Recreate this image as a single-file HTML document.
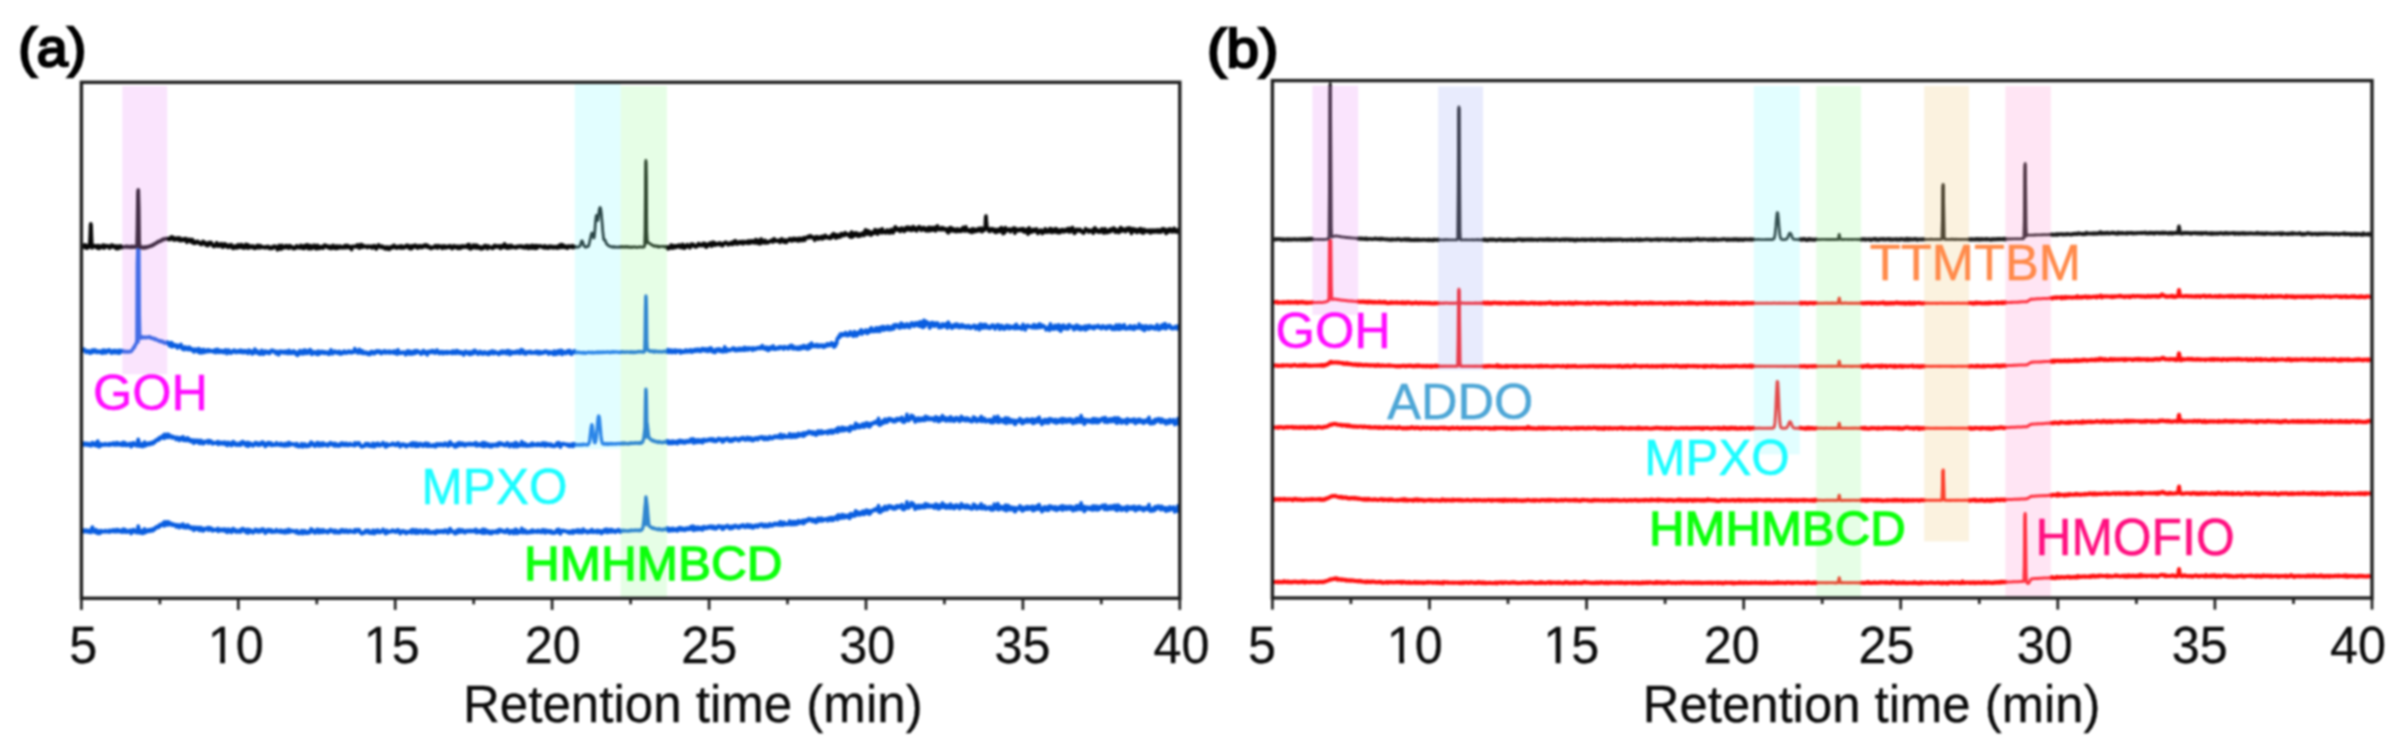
<!DOCTYPE html>
<html lang="en"><head><meta charset="utf-8"><title>Chromatograms</title>
<style>html,body{margin:0;padding:0;background:#fff}body{width:2396px;height:753px;overflow:hidden}svg{display:block;filter:blur(0.8px)}</style>
</head><body>
<svg width="2396" height="753" viewBox="0 0 2396 753">
<rect width="2396" height="753" fill="#fff"/>
<g fill="none" stroke-linejoin="round" stroke-linecap="round">
<path d="M83.4 531.6L83.8 530.0L84.3 531.8L84.8 531.3L85.2 530.5L85.7 530.1L86.1 530.1L86.6 531.6L87.0 531.0L87.5 531.8L87.9 530.6L88.4 531.8L88.8 530.4L89.3 532.1L89.7 531.0L90.2 531.0L90.6 532.4L90.8 532.4L91.1 532.5L91.5 530.1L92.0 527.7L92.0 527.7L92.4 527.1L92.9 530.7L93.3 530.1L93.8 530.7L94.2 530.9L94.7 532.2L95.1 531.7L95.6 531.0L96.0 529.7L96.5 532.2L96.9 532.8L97.4 533.3L97.8 530.8L97.8 531.9L98.3 532.2L98.7 532.8L99.2 533.5L99.6 533.5L100.1 531.4L100.5 530.7L101.0 531.1L101.4 532.3L101.9 531.1L102.3 530.9L102.8 531.3L103.2 531.2L103.7 531.7L104.1 531.5L104.6 531.5L105.0 531.8L105.5 530.5L105.9 530.9L106.4 531.6L106.8 531.8L107.3 531.8L107.7 531.5L108.2 531.8L108.6 531.5L109.1 530.4L109.5 532.1L110.0 532.0L110.4 531.3L110.9 530.9L111.3 530.4L111.8 530.9L112.2 530.4L112.7 531.4L113.1 530.7L113.6 529.8L114.0 530.6L114.5 531.7L114.9 531.7L115.4 531.7L115.8 531.0L116.3 530.9L116.7 529.5L117.2 531.7L117.6 531.6L118.1 529.8L118.5 531.1L119.0 530.2L119.4 530.4L119.9 531.7L120.3 530.9L120.8 530.7L121.2 530.2L121.7 530.2L122.1 532.3L122.6 530.7L123.0 529.3L123.5 529.1L123.9 532.0L124.4 529.9L124.8 532.0L125.3 531.6L125.7 529.8L126.2 532.2L126.6 531.1L127.1 532.1L127.5 531.4L128.0 531.1L128.4 531.6L128.9 530.9L129.3 530.5L129.8 530.2L130.2 530.9L130.7 531.6L131.1 533.6L131.6 532.7L132.0 531.9L132.5 530.1L132.9 529.8L133.4 531.9L133.8 529.5L134.3 530.5L134.7 530.9L135.2 531.5L135.6 531.8L136.1 531.8L136.5 532.6L137.0 531.1L137.4 530.5L137.9 528.0L138.2 526.1L138.3 526.2L138.8 528.5L139.2 532.9L139.7 531.5L140.1 532.5L140.6 530.8L141.0 532.8L141.5 532.1L141.9 533.3L142.4 530.6L142.8 531.0L143.3 533.3L143.7 531.4L144.2 530.6L144.6 528.9L145.1 529.7L145.5 531.7L146.0 532.4L146.4 531.4L146.9 530.9L147.3 530.4L147.8 531.0L148.2 531.1L148.7 529.8L149.1 531.0L149.6 531.4L150.0 531.2L150.5 530.5L150.9 529.6L151.4 530.5L151.8 529.6L152.3 529.1L152.7 530.8L153.2 530.6L153.6 530.0L154.1 529.5L154.5 528.4L155.0 529.3L155.4 528.5L155.9 527.5L156.3 526.8L156.8 527.0L157.2 527.3L157.7 526.6L158.1 526.9L158.6 527.4L159.0 525.2L159.5 525.1L159.9 524.7L160.4 526.1L160.8 525.6L161.3 525.3L161.7 524.2L162.2 524.3L162.6 523.4L163.1 525.0L163.5 525.3L164.0 525.9L164.4 521.8L164.9 523.6L165.3 525.3L165.8 524.4L166.2 524.9L166.7 523.6L167.1 521.8L167.6 521.9L168.0 523.1L168.5 525.0L168.9 522.1L169.4 524.3L169.8 523.1L170.3 523.9L170.7 523.5L171.2 524.4L171.6 523.6L172.1 525.3L172.5 524.9L173.0 524.2L173.4 525.1L173.9 524.3L174.3 524.5L174.8 524.7L175.2 524.9L175.7 525.0L176.1 527.0L176.6 525.1L177.0 526.0L177.5 524.8L177.9 525.7L178.4 526.0L178.8 526.0L179.3 527.7L179.7 526.9L180.2 525.1L180.6 525.4L181.1 526.2L181.5 526.6L182.0 525.3L182.4 525.3L182.9 524.0L183.3 527.4L183.8 527.6L184.2 525.5L184.7 525.6L185.1 526.2L185.6 526.2L186.0 527.6L186.5 527.8L186.9 526.1L187.4 525.0L187.8 526.7L188.3 525.4L188.7 527.2L189.2 527.6L189.6 527.3L190.1 526.8L190.5 528.7L191.0 527.8L191.4 527.3L191.9 527.3L192.3 528.1L192.8 527.3L193.2 528.5L193.7 530.3L194.1 527.4L194.6 528.2L195.0 527.4L195.5 527.6L195.9 529.3L196.4 527.8L196.8 527.9L197.3 529.2L197.7 527.4L198.2 528.4L198.6 528.5L199.1 529.0L199.5 530.5L200.0 527.6L200.4 527.6L200.9 527.5L201.3 529.9L201.8 529.2L202.2 528.8L202.7 530.9L203.1 530.8L203.6 528.5L204.0 529.8L204.5 530.1L204.9 528.7L205.4 528.3L205.8 528.7L206.3 528.6L206.7 528.8L207.2 528.4L207.6 528.8L208.1 527.5L208.5 530.2L209.0 528.7L209.4 529.4L209.9 528.9L210.3 527.8L210.8 528.6L211.2 529.5L211.7 530.2L212.1 529.6L212.6 530.8L213.0 529.1L213.5 529.9L213.9 530.1L214.4 530.2L214.8 530.1L215.3 530.1L215.7 530.0L216.2 529.3L216.6 530.1L217.1 528.9L217.5 528.9L218.0 528.5L218.4 531.4L218.9 529.8L219.3 530.0L219.8 529.7L220.2 530.2L220.7 529.3L221.1 529.3L221.6 530.7L222.0 529.6L222.5 529.9L222.9 529.4L223.4 529.7L223.8 530.7L224.3 530.0L224.7 529.0L225.2 529.3L225.6 531.4L226.1 530.3L226.5 532.0L227.0 532.2L227.4 532.3L227.9 529.5L228.3 529.2L228.8 531.0L229.2 531.0L229.7 530.8L230.1 531.5L230.6 530.8L231.0 530.0L231.5 532.5L231.9 529.5L232.4 529.8L232.8 528.7L233.3 528.6L233.7 530.8L234.2 531.2L234.6 530.5L235.1 531.4L235.5 530.3L236.0 530.0L236.4 532.1L236.9 531.9L237.3 531.3L237.8 531.7L238.2 531.6L238.7 531.8L239.1 532.0L239.6 530.1L240.0 531.3L240.5 530.4L240.9 531.9L241.4 530.7L241.8 529.0L242.3 530.5L242.7 528.5L243.2 528.9L243.6 530.7L244.1 529.9L244.5 529.5L245.0 529.7L245.4 529.9L245.9 532.4L246.3 530.3L246.8 532.1L247.2 530.0L247.7 529.3L248.1 533.0L248.6 532.7L249.0 532.5L249.5 530.2L249.9 530.9L250.4 530.0L250.8 531.7L251.3 530.5L251.7 531.8L252.2 531.1L252.6 532.0L253.1 532.8L253.5 531.3L254.0 531.7L254.4 531.1L254.9 531.3L255.3 529.4L255.8 530.9L256.2 530.6L256.7 531.4L257.1 529.9L257.6 530.7L258.0 530.0L258.5 532.1L258.9 530.6L259.4 530.9L259.8 531.8L260.3 531.8L260.7 529.8L261.2 531.4L261.6 529.2L262.1 530.9L262.5 530.4L263.0 529.0L263.4 530.6L263.9 531.3L264.3 530.0L264.8 531.0L265.2 533.2L265.7 532.7L266.1 531.1L266.6 530.5L267.0 531.2L267.5 530.3L267.9 531.7L268.4 529.5L268.8 529.9L269.3 530.8L269.7 529.8L270.2 531.1L270.6 530.0L271.1 529.9L271.5 532.2L272.0 532.1L272.4 530.7L272.9 531.6L273.3 532.0L273.8 531.7L274.2 531.6L274.7 531.8L275.1 530.9L275.6 531.8L276.0 531.2L276.5 529.6L276.9 531.1L277.4 531.6L277.8 531.2L278.3 531.4L278.7 531.7L279.2 531.0L279.6 531.7L280.1 530.4L280.5 532.2L281.0 530.3L281.4 531.1L281.9 532.1L282.3 530.7L282.8 531.6L283.2 531.0L283.7 531.9L284.1 532.7L284.6 531.8L285.0 532.2L285.5 530.3L285.9 532.6L286.4 530.7L286.8 532.5L287.3 530.4L287.7 531.8L288.2 531.2L288.6 529.4L289.1 532.3L289.5 529.7L290.0 530.6L290.4 531.7L290.9 530.4L291.3 530.7L291.8 530.6L292.2 530.5L292.7 531.5L293.1 531.1L293.6 531.0L294.0 531.0L294.5 531.1L294.9 530.8L295.4 531.6L295.8 532.6L296.3 531.3L296.7 532.2L297.2 530.5L297.6 531.5L298.1 533.3L298.5 533.0L299.0 533.3L299.4 533.5L299.9 532.4L300.3 532.2L300.8 532.4L301.2 532.7L301.7 530.5L302.1 533.1L302.6 533.7L303.0 532.1L303.5 532.0L303.9 532.4L304.4 532.2L304.8 530.7L305.3 531.3L305.7 533.2L306.2 532.6L306.6 532.4L307.1 532.8L307.5 533.2L308.0 533.0L308.4 531.6L308.9 532.3L309.3 531.0L309.8 532.7L310.2 531.0L310.7 530.0L311.1 528.9L311.6 530.5L312.0 530.8L312.5 529.7L312.9 531.8L313.4 531.1L313.8 530.9L314.3 532.1L314.7 533.0L315.2 533.0L315.6 532.4L316.1 530.6L316.5 530.1L317.0 531.1L317.4 529.3L317.9 531.5L318.3 530.2L318.8 532.8L319.2 532.7L319.7 532.0L320.1 529.8L320.6 531.8L321.0 530.8L321.5 532.1L321.9 530.6L322.4 532.5L322.8 531.8L323.3 529.8L323.7 530.8L324.2 532.0L324.6 530.8L325.1 531.4L325.5 531.6L326.0 531.8L326.4 531.8L326.9 532.3L327.3 530.9L327.8 532.7L328.2 532.1L328.7 532.0L329.1 531.3L329.6 530.4L330.0 531.2L330.5 529.5L330.9 529.9L331.4 531.2L331.8 530.3L332.3 531.6L332.7 530.5L333.2 531.0L333.6 531.3L334.1 530.3L334.5 532.7L335.0 532.4L335.4 532.1L335.9 530.5L336.3 531.0L336.8 531.3L337.2 532.7L337.7 531.7L338.1 532.5L338.6 531.5L339.0 532.6L339.5 532.4L339.9 532.7L340.4 531.3L340.8 530.2L341.3 531.9L341.7 531.6L342.2 529.9L342.6 529.9L343.1 531.7L343.5 531.1L344.0 530.7L344.4 532.2L344.9 532.1L345.3 530.9L345.8 531.9L346.2 530.1L346.7 531.5L347.1 530.6L347.6 530.7L348.0 532.4L348.5 531.3L348.9 530.9L349.4 531.0L349.8 531.7L350.3 530.3L350.7 531.5L351.2 531.7L351.6 531.9L352.1 531.8L352.5 531.5L353.0 531.5L353.4 531.3L353.9 531.2L354.3 532.4L354.8 529.7L355.2 530.0L355.7 532.1L356.1 530.5L356.6 531.3L357.0 530.8L357.5 529.7L357.9 530.2L358.4 531.1L358.8 531.4L359.3 529.8L359.7 532.0L360.2 532.4L360.6 531.9L361.1 533.2L361.5 533.6L362.0 533.8L362.4 533.0L362.9 532.6L363.3 532.9L363.8 532.1L364.2 532.1L364.7 532.9L365.1 531.9L365.6 530.5L366.0 531.3L366.5 530.6L366.9 531.2L367.4 531.8L367.8 530.5L368.3 532.7L368.7 530.6L369.2 531.7L369.6 532.8L370.1 532.3L370.5 533.0L371.0 532.6L371.4 532.9L371.9 533.2L372.3 533.3L372.8 530.2L373.2 530.4L373.7 530.9L374.1 533.0L374.6 533.5L375.0 530.8L375.5 532.1L375.9 531.5L376.4 532.2L376.8 530.3L377.3 530.6L377.7 531.0L378.2 530.2L378.6 532.5L379.1 530.9L379.5 531.6L380.0 531.7L380.4 532.4L380.9 532.1L381.3 531.4L381.8 530.8L382.2 530.4L382.7 531.1L383.1 529.3L383.6 530.7L384.0 531.1L384.5 532.4L384.9 531.5L385.4 533.6L385.8 531.0L386.3 533.5L386.7 530.4L387.2 533.0L387.6 531.7L388.1 531.6L388.5 531.7L389.0 532.1L389.4 532.0L389.9 531.4L390.3 531.2L390.8 531.8L391.2 531.8L391.7 531.2L392.1 531.5L392.6 530.1L393.0 531.0L393.5 531.2L393.9 531.6L394.4 531.7L394.8 530.8L395.3 531.1L395.7 532.2L396.2 532.2L396.6 531.7L397.1 530.7L397.5 530.0L398.0 531.5L398.4 529.9L398.9 531.0L399.3 532.3L399.8 532.9L400.2 533.6L400.7 532.0L401.1 532.2L401.6 531.6L402.0 530.9L402.5 532.2L402.9 531.7L403.4 531.0L403.8 531.6L404.3 531.1L404.7 531.8L405.2 532.9L405.6 532.2L406.1 531.9L406.5 533.5L407.0 531.6L407.4 531.6L407.9 532.3L408.3 532.1L408.8 532.3L409.2 532.3L409.7 531.9L410.1 531.9L410.6 530.5L411.0 531.9L411.5 530.1L411.9 532.9L412.4 532.4L412.8 531.0L413.3 529.6L413.7 531.2L414.2 532.1L414.6 531.6L415.1 532.2L415.5 533.2L416.0 530.8L416.4 529.9L416.9 532.1L417.3 533.0L417.8 530.8L418.2 532.1L418.7 532.9L419.1 532.2L419.6 531.3L420.0 530.4L420.5 531.0L420.9 530.5L421.4 531.2L421.8 531.4L422.3 532.8L422.7 532.6L423.2 533.0L423.6 531.5L424.1 530.7L424.5 531.1L425.0 530.6L425.4 530.4L425.9 530.0L426.3 532.8L426.8 530.9L427.2 531.7L427.7 533.0L428.1 531.7L428.6 530.5L429.0 532.1L429.5 531.9L429.9 532.8L430.4 532.3L430.8 533.0L431.3 532.1L431.7 532.5L432.2 532.2L432.6 532.8L433.1 531.7L433.5 532.0L434.0 531.7L434.4 532.8L434.9 533.4L435.3 533.1L435.8 533.4L436.2 532.6L436.7 530.7L437.1 530.9L437.6 532.2L438.0 530.8L438.5 530.9L438.9 531.3L439.4 532.2L439.8 531.3L440.3 530.8L440.7 532.1L441.2 531.0L441.6 531.7L442.1 530.8L442.5 530.8L443.0 531.1L443.4 532.5L443.9 530.9L444.3 531.8L444.8 531.9L445.2 530.0L445.7 530.4L446.1 531.5L446.6 531.0L447.0 531.1L447.5 532.3L447.9 533.0L448.4 531.9L448.8 530.6L449.3 529.3L449.7 532.0L450.2 528.5L450.6 530.5L451.1 531.7L451.5 531.4L452.0 531.7L452.4 530.8L452.9 531.2L453.3 531.8L453.8 531.7L454.2 531.7L454.7 533.6L455.1 531.9L455.6 531.8L456.0 533.6L456.5 532.8L456.9 530.4L457.4 530.6L457.8 532.7L458.3 531.2L458.7 532.2L459.2 529.4L459.6 530.2L460.1 531.8L460.5 531.0L461.0 532.0L461.4 531.8L461.9 530.6L462.3 529.9L462.8 530.2L463.2 532.0L463.7 530.9L464.1 530.8L464.6 530.9L465.0 532.8L465.5 531.7L465.9 532.0L466.4 530.9L466.8 530.5L467.3 531.2L467.7 531.3L468.2 531.6L468.6 530.9L469.1 531.1L469.5 530.3L470.0 530.7L470.4 530.5L470.9 531.7L471.3 530.6L471.8 530.6L472.2 531.0L472.7 531.4L473.1 531.4L473.6 530.3L474.0 531.1L474.5 531.8L474.9 531.8L475.4 531.9L475.8 529.3L476.3 531.6L476.7 532.6L477.2 530.9L477.6 532.1L478.1 532.0L478.5 530.7L479.0 532.2L479.4 532.3L479.9 531.8L480.3 530.9L480.8 530.9L481.2 530.4L481.7 530.9L482.1 533.1L482.6 530.8L483.0 529.3L483.5 529.6L483.9 530.0L484.4 533.2L484.8 530.6L485.3 529.6L485.7 532.0L486.2 532.7L486.6 530.9L487.1 531.2L487.5 532.5L488.0 531.3L488.4 530.8L488.9 533.2L489.3 531.3L489.8 533.3L490.2 532.3L490.7 533.4L491.1 532.4L491.6 531.6L492.0 533.4L492.5 531.2L492.9 531.5L493.4 531.5L493.8 532.2L494.3 531.5L494.7 531.5L495.2 531.2L495.6 532.4L496.1 532.0L496.5 532.6L497.0 532.3L497.4 530.7L497.9 532.1L498.3 532.5L498.8 529.9L499.2 529.6L499.7 531.5L500.1 529.7L500.6 530.4L501.0 531.2L501.5 530.5L501.9 530.1L502.4 530.5L502.8 531.8L503.3 532.0L503.7 531.6L504.2 531.9L504.6 531.1L505.1 532.1L505.5 532.5L506.0 532.5L506.4 530.5L506.9 531.5L507.3 529.5L507.8 530.6L508.2 530.7L508.7 530.8L509.1 531.2L509.6 533.5L510.0 532.2L510.5 531.9L510.9 530.9L511.4 531.0L511.8 531.9L512.3 530.7L512.7 532.8L513.2 532.8L513.6 533.5L514.1 532.6L514.5 532.4L515.0 530.8L515.4 529.3L515.9 532.8L516.3 532.0L516.8 533.5L517.2 530.1L517.7 531.0L518.1 531.1L518.6 531.1L519.0 531.6L519.5 532.7L519.9 532.5L520.4 531.4L520.8 532.0L521.3 532.0L521.7 528.4L522.2 532.1L522.6 530.4L523.1 532.8L523.5 531.3L524.0 530.1L524.4 530.1L524.9 530.8L525.3 530.4L525.8 532.6L526.2 532.0L526.7 533.0L527.1 532.4L527.6 532.3L528.0 531.6L528.5 532.2L528.9 532.7L529.4 532.3L529.8 532.7L530.3 532.4L530.7 530.9L531.2 532.2L531.6 531.0L532.1 531.7L532.5 530.0L533.0 532.5L533.4 531.4L533.9 531.6L534.3 531.7L534.8 531.2L535.2 530.9L535.7 531.4L536.1 531.8L536.6 532.3L537.0 532.3L537.5 530.7L537.9 530.8L538.4 531.7L538.8 530.4L539.3 531.9L539.7 531.7L540.2 531.3L540.6 532.2L541.1 532.4L541.5 531.8L542.0 531.6L542.4 529.9L542.9 531.6L543.3 530.8L543.8 532.2L544.2 529.9L544.7 531.1L545.1 532.9L545.6 532.8L546.0 530.2L546.5 530.9L546.9 531.1L547.4 531.2L547.8 530.7L548.3 532.0L548.7 532.3L549.2 531.6L549.6 530.8L550.1 530.8L550.5 532.3L551.0 531.5L551.4 532.9L551.9 531.3L552.3 532.1L552.8 532.2L553.2 533.1L553.7 533.1L554.1 533.3L554.6 533.0L555.0 532.5L555.5 531.6L555.9 531.6L556.4 532.3L556.8 529.8L557.3 530.0L557.7 531.1L558.2 532.3L558.6 529.3L559.1 530.6L559.5 531.6L560.0 530.4L560.4 533.9L560.9 532.3L561.3 531.1L561.8 531.8L562.2 530.8L562.7 530.3L563.1 530.4L563.6 531.1L564.0 531.0L564.5 531.2L564.9 530.8L565.4 531.1L565.8 531.2L566.3 531.0L566.7 531.5L567.2 532.3L567.6 532.2L568.1 531.8L568.5 532.1L569.0 531.3L569.4 533.2L569.9 531.9L570.3 532.1L570.8 532.7L571.2 531.9L571.7 531.1L572.1 531.0L572.6 530.6L573.0 533.3L573.5 532.5L573.9 531.7L574.4 530.6L574.8 532.0L575.3 531.0L575.7 532.0L576.2 532.2L576.6 531.3L577.1 531.0L577.5 529.9L578.0 531.2L578.4 532.2L578.9 532.5L579.3 531.3L579.8 532.0L580.2 530.2L580.7 531.4L581.1 530.6L581.6 531.1L582.0 532.7L582.5 531.7L582.9 530.8L583.4 529.2L583.8 531.9L584.3 531.8L584.7 530.6L585.2 531.5L585.6 531.1L586.1 531.3L586.5 530.8L587.0 531.2L587.4 532.7L587.9 531.9L588.3 531.6L588.8 531.5L589.2 532.1L589.7 530.9L590.1 530.7L590.6 531.3L591.0 532.2L591.5 532.0L591.9 529.6L592.4 530.5L592.8 531.3L593.3 530.6L593.7 532.5L594.2 531.1L594.6 531.8L595.1 531.6L595.5 531.1L596.0 530.9L596.4 530.6L596.9 531.4L597.3 532.6L597.8 530.4L598.2 531.6L598.7 532.0L599.1 530.7L599.6 531.1L600.0 531.4L600.5 530.8L600.9 532.3L601.4 533.5L601.8 531.1L602.3 532.8L602.7 531.9L603.2 531.0L603.6 530.9L604.1 532.0L604.5 529.6L605.0 529.8L605.4 531.3L605.9 529.9L606.3 530.0L606.8 529.2L607.2 532.5L607.7 532.2L608.1 530.9L608.6 530.7L609.0 532.0L609.5 530.3L609.9 529.6L610.4 530.9L610.8 531.1L611.3 531.8L611.7 529.6L612.2 530.1L612.6 531.7L613.1 531.6L613.5 530.5L614.0 530.6L614.4 531.3L614.9 531.4L615.3 532.3L615.8 531.6L616.2 530.5L616.7 531.5L617.1 530.5L617.6 531.1L618.0 530.7L618.5 529.6L618.9 530.4L619.4 530.8L619.8 531.5L620.3 532.0L620.7 531.1M666.6 529.3L667.1 528.1L667.5 529.6L668.0 529.5L668.4 530.8L668.9 528.7L669.3 530.9L669.8 528.7L670.2 529.7L670.7 528.9L671.1 530.5L671.6 530.7L672.0 528.9L672.5 530.1L672.9 528.3L673.4 530.5L673.8 529.1L674.3 529.8L674.7 530.3L675.2 529.9L675.6 529.0L676.1 529.5L676.5 529.4L677.0 528.8L677.4 531.0L677.9 530.0L678.3 528.4L678.8 528.0L679.2 528.2L679.7 528.5L680.1 527.6L680.6 529.9L681.0 529.7L681.5 528.1L681.9 528.7L682.4 529.9L682.8 528.6L683.3 528.3L683.7 529.5L684.2 528.6L684.6 530.4L685.1 529.1L685.5 530.0L686.0 529.3L686.4 529.0L686.9 527.9L687.3 529.4L687.8 528.4L688.2 528.8L688.7 528.6L689.1 529.4L689.6 529.3L690.0 529.3L690.5 526.7L690.9 526.7L691.4 528.6L691.8 528.8L692.3 529.1L692.7 526.0L693.2 530.1L693.6 530.3L694.1 528.9L694.5 526.8L695.0 529.7L695.4 527.3L695.9 528.8L696.3 528.1L696.8 529.7L697.2 527.6L697.7 527.1L698.1 528.5L698.6 529.1L699.0 527.4L699.5 528.5L699.9 529.5L700.4 528.6L700.8 527.9L701.3 528.5L701.7 527.5L702.2 527.2L702.6 530.0L703.1 529.2L703.5 528.2L704.0 527.6L704.4 526.7L704.9 528.2L705.3 527.5L705.8 528.0L706.2 528.5L706.7 528.0L707.1 528.1L707.6 527.9L708.0 526.6L708.5 526.7L708.9 527.8L709.4 527.5L709.8 527.6L710.3 527.6L710.7 526.1L711.2 527.8L711.6 526.4L712.1 527.4L712.5 528.3L713.0 526.5L713.4 527.5L713.9 526.4L714.3 527.7L714.8 528.8L715.2 528.1L715.7 528.4L716.1 527.8L716.6 528.5L717.0 527.1L717.5 527.7L717.9 526.3L718.4 525.8L718.8 526.9L719.3 526.7L719.7 526.3L720.2 527.0L720.6 526.5L721.1 527.8L721.5 526.9L722.0 526.5L722.4 529.3L722.9 528.1L723.3 527.0L723.8 528.8L724.2 526.8L724.7 526.3L725.1 526.8L725.6 527.2L726.0 526.5L726.5 526.7L726.9 526.0L727.4 525.5L727.8 527.0L728.3 526.6L728.7 527.2L729.2 528.4L729.6 528.6L730.1 528.5L730.5 526.3L731.0 527.7L731.4 526.9L731.9 528.5L732.3 528.1L732.8 527.7L733.2 526.1L733.7 527.7L734.1 527.6L734.6 525.9L735.0 526.1L735.5 525.4L735.9 526.5L736.4 526.5L736.8 527.0L737.3 526.4L737.7 527.6L738.2 526.4L738.6 526.3L739.1 528.0L739.5 526.0L740.0 526.5L740.4 526.6L740.9 525.5L741.3 525.8L741.8 526.6L742.2 525.9L742.7 525.8L743.1 524.8L743.6 525.9L744.0 525.9L744.5 526.8L744.9 527.3L745.4 526.4L745.8 526.4L746.3 526.4L746.7 525.5L747.2 524.6L747.6 527.0L748.1 526.8L748.5 526.4L749.0 527.0L749.4 526.1L749.9 525.1L750.3 525.4L750.8 526.9L751.2 525.3L751.7 527.7L752.1 526.9L752.6 526.4L753.0 527.9L753.5 527.8L753.9 527.4L754.4 525.6L754.8 525.5L755.3 525.3L755.7 526.3L756.2 526.1L756.6 526.6L757.1 525.1L757.5 526.9L758.0 527.0L758.4 526.2L758.9 526.0L759.3 525.3L759.8 524.5L760.2 525.0L760.7 524.9L761.1 524.4L761.6 525.6L762.0 525.6L762.5 524.1L762.9 525.1L763.4 526.6L763.8 525.3L764.3 525.1L764.7 525.0L765.2 526.7L765.6 525.4L766.1 524.5L766.5 526.4L767.0 526.4L767.4 526.0L767.9 526.6L768.3 526.2L768.8 526.3L769.2 525.9L769.7 523.8L770.1 524.4L770.6 525.2L771.0 525.6L771.5 525.1L771.9 525.9L772.4 525.7L772.8 525.7L773.3 524.3L773.7 523.7L774.2 523.6L774.6 524.2L775.1 523.8L775.5 523.5L776.0 524.8L776.4 523.9L776.9 524.4L777.3 523.5L777.8 524.0L778.2 524.7L778.7 523.9L779.1 525.1L779.6 525.0L780.0 521.9L780.5 522.1L780.9 521.8L781.4 524.0L781.8 525.1L782.3 523.0L782.7 524.4L783.2 525.0L783.6 524.1L784.1 522.3L784.5 522.6L785.0 523.6L785.4 523.7L785.9 524.3L786.3 524.4L786.8 524.5L787.2 524.6L787.7 524.4L788.1 523.2L788.6 522.9L789.0 523.5L789.5 521.1L789.9 522.1L790.4 522.4L790.8 524.7L791.3 523.2L791.7 523.6L792.2 523.9L792.6 521.5L793.1 521.5L793.5 524.6L794.0 522.5L794.4 522.4L794.9 521.9L795.3 521.7L795.8 523.7L796.2 524.4L796.7 523.0L797.1 522.0L797.6 523.4L798.0 521.9L798.5 520.7L798.9 523.4L799.4 522.0L799.8 522.5L800.3 522.0L800.7 522.6L801.2 522.3L801.6 521.2L802.1 523.0L802.5 522.1L803.0 520.4L803.4 523.6L803.9 522.5L804.3 520.6L804.8 522.8L805.2 520.4L805.7 520.0L806.1 520.5L806.6 520.2L807.0 520.7L807.5 521.1L807.9 520.8L808.4 520.7L808.8 518.6L809.3 519.2L809.7 519.1L810.2 519.0L810.6 519.3L811.1 519.5L811.5 519.1L812.0 521.4L812.4 519.6L812.9 520.9L813.3 519.4L813.8 520.1L814.2 520.0L814.7 521.8L815.1 521.1L815.6 519.7L816.0 522.4L816.5 519.5L816.9 521.9L817.4 521.4L817.8 520.5L818.3 518.2L818.7 520.7L819.2 520.5L819.6 520.8L820.1 520.2L820.5 520.1L821.0 519.0L821.4 518.1L821.9 520.9L822.3 520.5L822.8 520.4L823.2 519.4L823.7 520.5L824.1 519.1L824.6 519.1L825.0 519.2L825.5 519.0L825.9 519.4L826.4 518.9L826.8 519.8L827.3 519.7L827.7 520.9L828.2 518.3L828.6 519.4L829.1 518.6L829.5 519.8L830.0 517.9L830.4 517.9L830.9 518.8L831.3 520.4L831.8 519.6L832.2 517.5L832.7 518.5L833.1 519.3L833.6 520.1L834.0 519.1L834.5 517.8L834.9 517.9L835.4 517.4L835.8 516.9L836.3 518.2L836.7 516.0L837.2 516.9L837.6 519.6L838.1 515.9L838.5 514.9L839.0 517.1L839.4 516.6L839.9 516.5L840.3 516.8L840.8 518.3L841.2 515.7L841.7 516.6L842.1 514.6L842.6 515.2L843.0 515.1L843.5 515.0L843.9 518.0L844.4 516.5L844.8 515.3L845.3 515.7L845.7 515.4L846.2 517.3L846.6 517.2L847.1 515.8L847.5 516.4L848.0 516.2L848.4 515.7L848.9 514.9L849.3 518.4L849.8 518.3L850.2 517.3L850.7 513.5L851.1 514.3L851.6 516.2L852.0 515.5L852.5 514.6L852.9 514.6L853.4 515.8L853.8 513.5L854.3 515.2L854.7 516.0L855.2 513.7L855.6 510.7L856.1 514.3L856.5 514.8L857.0 512.9L857.4 513.7L857.9 512.0L858.3 514.7L858.8 512.7L859.2 513.6L859.7 514.9L860.1 512.8L860.6 512.5L861.0 512.6L861.5 514.3L861.9 513.9L862.4 511.7L862.8 511.2L863.3 513.9L863.7 513.1L864.2 514.4L864.6 513.7L865.1 511.3L865.5 512.6L866.0 510.3L866.4 511.6L866.9 510.3L867.3 513.3L867.8 513.7L868.2 513.3L868.7 510.8L869.1 511.7L869.6 514.2L870.0 513.0L870.5 511.2L870.9 512.8L871.4 511.6L871.8 510.8L872.3 511.2L872.7 510.4L873.2 510.1L873.6 510.4L874.1 509.6L874.5 509.5L875.0 510.4L875.4 509.2L875.9 508.6L876.3 509.0L876.8 510.0L877.2 508.6L877.7 510.5L878.1 507.9L878.6 505.7L879.0 512.2L879.5 511.6L879.9 509.9L880.4 512.4L880.8 509.8L881.3 509.8L881.7 510.1L882.2 508.7L882.6 510.3L883.1 510.7L883.5 507.9L884.0 509.6L884.4 509.6L884.9 506.4L885.3 508.8L885.8 507.6L886.2 509.6L886.7 509.7L887.1 508.1L887.6 509.2L888.0 507.0L888.5 506.0L888.9 507.2L889.4 506.6L889.8 507.4L890.3 505.9L890.7 507.8L891.2 507.4L891.6 507.2L892.1 506.7L892.5 508.2L893.0 508.8L893.4 507.1L893.9 508.2L894.3 508.7L894.8 507.9L895.2 509.0L895.7 508.0L896.1 507.3L896.6 505.9L897.0 507.3L897.5 507.7L897.9 507.2L898.4 505.9L898.8 506.5L899.3 507.3L899.7 506.0L900.2 506.2L900.6 506.5L901.1 505.3L901.5 507.4L902.0 504.6L902.4 509.1L902.9 506.3L903.3 507.9L903.8 508.3L904.2 509.6L904.7 507.9L905.1 508.5L905.6 505.9L906.0 508.1L906.5 505.0L906.9 501.7L907.4 507.4L907.8 507.3L908.3 506.2L908.7 508.0L909.2 504.8L909.6 507.0L910.1 506.3L910.5 504.4L911.0 504.6L911.4 502.7L911.9 503.8L912.3 505.6L912.8 504.0L913.2 503.5L913.7 506.4L914.1 504.7L914.6 507.3L915.0 509.3L915.5 508.9L915.9 507.3L916.4 506.2L916.8 506.4L917.3 508.0L917.7 507.7L918.2 505.5L918.6 508.1L919.1 505.5L919.5 507.0L920.0 507.4L920.4 507.8L920.9 507.0L921.3 505.6L921.8 505.4L922.2 505.6L922.7 507.6L923.1 507.0L923.6 506.7L924.0 507.1L924.5 507.7L924.9 504.5L925.4 503.7L925.8 505.9L926.3 507.0L926.7 505.4L927.2 506.8L927.6 505.9L928.1 504.4L928.5 506.4L929.0 505.5L929.4 506.9L929.9 505.8L930.3 506.6L930.8 506.1L931.2 505.5L931.7 505.3L932.1 506.3L932.6 507.0L933.0 506.7L933.5 505.7L933.9 507.0L934.4 508.1L934.8 506.7L935.3 507.0L935.7 504.0L936.2 506.1L936.6 504.6L937.1 505.2L937.5 506.7L938.0 508.7L938.4 505.1L938.9 506.7L939.3 508.7L939.8 506.4L940.2 505.5L940.7 505.8L941.1 507.5L941.6 504.3L942.0 505.2L942.5 503.0L942.9 505.9L943.4 505.7L943.8 507.3L944.3 504.7L944.7 504.8L945.2 507.2L945.6 507.9L946.1 506.0L946.5 508.2L947.0 505.5L947.4 506.5L947.9 505.5L948.3 505.6L948.8 507.4L949.2 507.1L949.7 505.1L950.1 508.3L950.6 504.0L951.0 507.0L951.5 506.3L951.9 506.2L952.4 506.1L952.8 505.8L953.3 508.4L953.7 508.0L954.2 506.7L954.6 508.4L955.1 505.3L955.5 506.1L956.0 507.1L956.4 506.7L956.9 505.0L957.3 507.2L957.8 507.2L958.2 506.2L958.7 506.0L959.1 505.8L959.6 508.8L960.0 507.5L960.5 506.1L960.9 505.6L961.4 503.7L961.8 504.9L962.3 505.1L962.7 507.4L963.2 506.6L963.6 505.3L964.1 507.0L964.5 507.2L965.0 506.0L965.4 508.1L965.9 506.8L966.3 506.3L966.8 505.1L967.2 507.8L967.7 505.9L968.1 507.8L968.6 506.3L969.0 505.9L969.5 508.1L969.9 508.4L970.4 507.5L970.8 508.0L971.3 508.2L971.7 509.0L972.2 508.4L972.6 508.7L973.1 505.9L973.5 504.3L974.0 505.5L974.4 506.8L974.9 507.5L975.3 505.1L975.8 506.5L976.2 507.7L976.7 508.9L977.1 507.5L977.6 506.9L978.0 506.5L978.5 506.5L978.9 507.8L979.4 507.0L979.8 508.3L980.3 505.1L980.7 505.0L981.2 503.8L981.6 508.3L982.1 506.5L982.5 508.8L983.0 507.9L983.4 507.8L983.9 508.2L984.3 505.7L984.8 506.9L985.2 508.4L985.7 508.3L986.0 509.2L986.1 507.2L986.6 507.4L987.0 508.1L987.5 508.2L987.9 508.3L988.4 508.2L988.8 508.1L989.3 507.0L989.7 508.5L990.2 509.6L990.6 508.6L991.1 507.1L991.5 507.5L992.0 509.0L992.4 510.0L992.9 508.8L993.3 507.0L993.8 509.7L994.2 504.1L994.7 506.2L995.1 505.4L995.6 507.8L996.0 505.5L996.5 507.3L996.9 506.4L997.4 509.2L997.8 503.5L998.3 509.7L998.7 509.4L999.2 509.1L999.6 506.1L1000.1 509.2L1000.5 506.6L1001.0 507.5L1001.4 507.9L1001.9 507.1L1002.3 507.7L1002.8 506.8L1003.2 508.4L1003.7 509.7L1004.1 508.2L1004.6 509.7L1005.0 509.6L1005.5 505.1L1005.9 506.4L1006.4 510.7L1006.8 507.4L1007.3 506.5L1007.7 505.9L1008.2 505.5L1008.6 508.9L1009.1 506.4L1009.5 508.5L1010.0 509.9L1010.4 508.7L1010.9 507.7L1011.3 507.1L1011.8 507.7L1012.2 508.3L1012.7 507.9L1013.1 509.8L1013.6 510.1L1014.0 507.5L1014.5 511.4L1014.9 510.0L1015.4 511.6L1015.8 511.0L1016.3 507.9L1016.7 508.0L1017.2 508.9L1017.6 508.3L1018.1 508.4L1018.5 508.7L1019.0 507.5L1019.4 508.0L1019.9 505.8L1020.3 509.2L1020.8 509.1L1021.2 509.5L1021.7 509.2L1022.1 510.9L1022.6 507.4L1023.0 509.4L1023.5 510.4L1023.9 509.5L1024.4 509.1L1024.8 508.2L1025.3 508.5L1025.7 507.2L1026.2 509.2L1026.6 508.3L1027.1 506.5L1027.5 508.8L1028.0 507.6L1028.4 509.2L1028.9 506.9L1029.3 508.3L1029.8 507.7L1030.2 507.3L1030.7 507.0L1031.1 508.5L1031.6 509.4L1032.0 506.4L1032.5 506.3L1032.9 510.7L1033.4 507.5L1033.8 507.5L1034.3 506.9L1034.7 510.3L1035.2 507.5L1035.6 507.5L1036.1 506.9L1036.5 506.5L1037.0 506.0L1037.4 507.2L1037.9 509.3L1038.3 509.3L1038.8 505.9L1039.2 504.6L1039.7 507.5L1040.1 508.5L1040.6 507.8L1041.0 509.6L1041.5 509.0L1041.9 511.8L1042.4 510.9L1042.8 509.3L1043.3 509.1L1043.7 507.4L1044.2 509.2L1044.6 506.9L1045.1 507.2L1045.5 510.0L1046.0 508.2L1046.4 509.9L1046.9 508.8L1047.3 507.0L1047.8 510.1L1048.2 509.6L1048.7 510.2L1049.1 506.8L1049.6 506.0L1050.0 507.5L1050.5 506.7L1050.9 508.1L1051.4 506.5L1051.8 508.4L1052.3 506.7L1052.7 507.1L1053.2 508.0L1053.6 509.5L1054.1 509.2L1054.5 507.6L1055.0 507.1L1055.4 506.8L1055.9 506.9L1056.3 510.4L1056.8 509.9L1057.2 509.8L1057.7 507.9L1058.1 509.3L1058.6 509.4L1059.0 509.4L1059.5 508.4L1059.9 506.7L1060.4 507.8L1060.8 507.3L1061.3 508.9L1061.7 507.9L1062.2 505.8L1062.6 510.1L1063.1 507.8L1063.5 506.3L1064.0 506.2L1064.4 508.2L1064.9 507.1L1065.3 508.7L1065.8 508.2L1066.2 509.5L1066.7 506.6L1067.1 507.6L1067.6 508.0L1068.0 507.2L1068.5 507.2L1068.9 507.8L1069.4 509.0L1069.8 506.2L1070.3 506.6L1070.7 507.3L1071.2 507.9L1071.6 509.2L1072.1 506.8L1072.5 507.2L1073.0 510.7L1073.4 508.6L1073.9 510.2L1074.3 509.3L1074.8 509.4L1075.2 507.4L1075.7 507.4L1076.1 506.2L1076.6 509.9L1077.0 505.7L1077.5 508.3L1077.9 506.1L1078.4 506.8L1078.8 507.0L1079.3 508.9L1079.7 505.6L1080.2 509.5L1080.6 508.0L1081.1 502.8L1081.5 508.9L1082.0 505.5L1082.4 506.9L1082.9 506.5L1083.3 509.7L1083.8 509.1L1084.2 511.5L1084.7 506.5L1085.1 509.5L1085.6 510.1L1086.0 507.4L1086.5 507.7L1086.9 507.5L1087.4 508.4L1087.8 507.7L1088.3 507.1L1088.7 507.5L1089.2 509.2L1089.6 508.5L1090.1 509.1L1090.5 508.4L1091.0 507.4L1091.4 507.8L1091.9 509.8L1092.3 510.0L1092.8 506.1L1093.2 508.9L1093.7 506.5L1094.1 506.0L1094.6 506.2L1095.0 509.8L1095.5 509.3L1095.9 509.1L1096.4 508.1L1096.8 506.3L1097.3 507.4L1097.7 510.0L1098.2 507.1L1098.6 509.1L1099.1 507.1L1099.5 509.3L1100.0 506.5L1100.4 506.6L1100.9 507.6L1101.3 506.4L1101.8 507.5L1102.2 506.3L1102.7 505.4L1103.1 506.5L1103.6 507.1L1104.0 505.6L1104.5 509.4L1104.9 506.4L1105.4 505.0L1105.8 509.0L1106.3 507.4L1106.7 509.5L1107.2 509.7L1107.6 509.7L1108.1 506.8L1108.5 507.6L1109.0 507.2L1109.4 506.3L1109.9 506.2L1110.3 506.3L1110.8 509.1L1111.2 507.0L1111.7 508.7L1112.1 506.2L1112.6 506.0L1113.0 508.6L1113.5 506.1L1113.9 507.6L1114.4 508.6L1114.8 505.2L1115.3 509.2L1115.7 505.6L1116.2 510.2L1116.6 507.2L1117.1 508.3L1117.5 510.4L1118.0 505.1L1118.4 509.2L1118.9 506.3L1119.3 506.9L1119.8 506.4L1120.2 507.9L1120.7 508.5L1121.1 510.2L1121.6 507.4L1122.0 509.7L1122.5 509.9L1122.9 508.1L1123.4 508.5L1123.8 508.8L1124.3 508.4L1124.7 507.3L1125.2 509.5L1125.6 508.3L1126.1 507.6L1126.5 510.8L1127.0 510.7L1127.4 506.2L1127.9 509.1L1128.3 508.5L1128.8 507.2L1129.2 508.9L1129.7 507.3L1130.1 508.8L1130.6 507.2L1131.0 508.9L1131.5 509.0L1131.9 507.2L1132.4 506.9L1132.8 507.3L1133.3 508.6L1133.7 509.2L1134.2 506.3L1134.6 508.3L1135.1 510.1L1135.5 510.7L1136.0 509.7L1136.4 509.3L1136.9 507.7L1137.3 509.4L1137.8 506.9L1138.2 508.5L1138.7 509.4L1139.1 508.4L1139.6 506.6L1140.0 507.3L1140.5 507.2L1140.9 508.2L1141.4 508.0L1141.8 509.6L1142.3 509.0L1142.7 508.2L1143.2 507.6L1143.6 510.6L1144.1 509.4L1144.5 509.9L1145.0 509.0L1145.4 509.3L1145.9 507.7L1146.3 507.3L1146.8 509.0L1147.2 508.4L1147.7 509.4L1148.1 507.9L1148.6 507.5L1149.0 504.6L1149.5 508.9L1149.9 510.3L1150.4 511.1L1150.8 510.6L1151.3 509.9L1151.7 510.1L1152.2 508.7L1152.6 508.5L1153.1 510.9L1153.5 510.4L1154.0 510.3L1154.4 510.2L1154.9 506.8L1155.3 509.9L1155.8 506.6L1156.2 506.9L1156.7 508.4L1157.1 508.4L1157.6 507.4L1158.0 507.0L1158.5 506.0L1158.9 508.3L1159.4 506.9L1159.8 508.3L1160.3 507.0L1160.7 509.8L1161.2 507.6L1161.6 506.3L1162.1 506.9L1162.5 508.1L1163.0 507.2L1163.4 509.0L1163.9 509.7L1164.3 508.1L1164.8 508.9L1165.2 507.9L1165.7 508.7L1166.1 511.3L1166.6 507.9L1167.0 510.1L1167.5 510.3L1167.9 509.2L1168.4 510.0L1168.8 510.1L1169.3 510.3L1169.7 506.9L1170.2 507.7L1170.6 507.3L1171.1 508.1L1171.5 509.1L1172.0 508.1L1172.4 509.4L1172.9 508.5L1173.3 508.0L1173.8 507.0L1174.2 508.5L1174.7 511.9L1175.1 509.0L1175.6 509.2L1176.0 510.0L1176.5 510.0L1176.9 509.8L1177.4 511.2L1177.8 505.9L1178.3 505.9L1178.7 506.0" stroke="#0a5ee0" stroke-width="3.6"/>
<path d="M620.3 532.0L620.7 531.1L621.2 530.5L621.6 530.5L622.1 530.3L622.5 530.9L623.0 530.4L623.4 531.4L623.9 530.7L624.3 530.4L624.8 530.8L625.2 530.4L625.7 531.0L626.1 531.0L626.6 531.1L627.0 530.9L627.5 530.8L627.9 531.2L628.4 530.9L628.8 530.5L629.3 531.2L629.7 531.1L630.2 530.5L630.6 530.4L631.1 530.0L631.5 530.7L632.0 530.8L632.4 530.4L632.9 530.4L633.3 530.7L633.8 530.6L634.2 530.6L634.7 530.0L635.1 530.0L635.6 530.5L636.0 530.6L636.5 530.2L636.9 530.5L637.4 530.3L637.8 530.0L638.3 530.4L638.7 530.8L639.2 530.7L639.6 530.0L640.1 529.8L640.5 530.0L641.0 530.6L641.4 529.9L641.9 529.4L642.3 529.2L642.8 528.0L643.2 525.3L643.7 522.1L644.1 517.9L644.6 512.3L645.0 507.3L645.5 503.0L645.9 497.4L645.9 497.0L646.4 500.3L646.8 503.3L647.3 507.5L647.7 512.9L648.2 518.7L648.6 522.8L649.1 525.9L649.5 526.2L650.0 526.3L650.4 527.0L650.9 527.3L651.3 527.4L651.8 527.7L652.2 528.2L652.7 527.7L653.1 528.2L653.6 527.9L654.0 528.1L654.5 528.8L654.9 528.8L655.4 528.6L655.8 529.2L656.3 529.1L656.7 529.0L657.2 528.8L657.6 528.8L658.1 529.8L658.5 529.1L659.0 529.4L659.4 529.4L659.9 528.8L660.3 529.4L660.8 530.0L661.2 529.9L661.7 529.7L662.1 529.8L662.6 530.1L663.0 529.6L663.5 528.9L663.9 529.5L664.4 529.6L664.8 529.1L665.3 529.2L665.7 529.6L666.2 529.7L666.6 529.3L667.1 528.1" stroke="#0a5ee0" stroke-width="3.3"/>
<line x1="645.9" y1="498.4" x2="645.9" y2="526.2" stroke="#0a5ee0" stroke-width="3.1" stroke-linecap="butt"/>
<path d="M83.4 444.8L83.8 443.2L84.3 445.0L84.8 444.5L85.2 443.7L85.7 443.3L86.1 443.3L86.6 444.8L87.0 444.2L87.5 445.0L87.9 443.8L88.4 445.0L88.8 443.6L89.3 445.3L89.7 444.2L90.2 444.2L90.6 445.6L90.8 445.6L91.1 445.8L91.5 445.0L92.0 443.9L92.0 443.9L92.4 442.5L92.9 444.1L93.3 443.3L93.8 443.9L94.2 444.1L94.7 445.4L95.1 444.9L95.6 444.2L96.0 442.9L96.5 445.4L96.9 445.9L97.4 444.5L97.8 441.0L97.8 442.1L98.3 443.5L98.7 445.9L99.2 446.7L99.6 446.7L100.1 444.6L100.5 443.9L101.0 444.3L101.4 445.5L101.9 444.3L102.3 444.1L102.8 444.5L103.2 444.4L103.7 444.9L104.1 444.7L104.6 444.7L105.0 445.0L105.5 443.7L105.9 444.1L106.4 444.8L106.8 445.0L107.3 445.0L107.7 444.7L108.2 445.0L108.6 444.7L109.1 443.6L109.5 445.3L110.0 445.2L110.4 444.5L110.9 444.1L111.3 443.6L111.8 444.1L112.2 443.6L112.7 444.6L113.1 443.9L113.6 443.0L114.0 443.8L114.5 444.9L114.9 444.9L115.4 444.9L115.8 444.2L116.3 444.1L116.7 442.7L117.2 444.9L117.6 444.8L118.1 443.0L118.5 444.3L119.0 443.4L119.4 443.6L119.9 444.9L120.3 444.1L120.8 443.9L121.2 443.4L121.7 443.4L122.1 445.5L122.6 443.9L123.0 442.5L123.5 442.3L123.9 445.2L124.4 443.1L124.8 445.2L125.3 444.8L125.7 443.0L126.2 445.4L126.6 444.3L127.1 445.3L127.5 444.6L128.0 444.3L128.4 444.8L128.9 444.1L129.3 443.7L129.8 443.4L130.2 444.1L130.7 444.8L131.1 446.8L131.6 445.9L132.0 445.1L132.5 443.3L132.9 443.0L133.4 445.1L133.8 442.7L134.3 443.7L134.7 444.1L135.2 444.7L135.6 445.0L136.1 445.0L136.5 445.8L137.0 444.3L137.4 443.7L137.9 441.2L138.2 439.3L138.3 439.4L138.8 441.7L139.2 446.1L139.7 444.7L140.1 445.7L140.6 444.0L141.0 446.0L141.5 445.3L141.9 446.5L142.4 443.8L142.8 444.2L143.3 446.5L143.7 444.6L144.2 443.8L144.6 442.1L145.1 442.9L145.5 444.9L146.0 445.6L146.4 444.6L146.9 444.1L147.3 443.6L147.8 444.2L148.2 444.3L148.7 443.0L149.1 444.2L149.6 444.6L150.0 444.4L150.5 443.7L150.9 442.8L151.4 443.6L151.8 442.7L152.3 442.2L152.7 443.8L153.2 443.6L153.6 443.0L154.1 442.5L154.5 441.4L155.0 442.2L155.4 441.4L155.9 440.4L156.3 439.7L156.8 439.8L157.2 440.1L157.7 439.3L158.1 439.6L158.6 440.1L159.0 437.9L159.5 437.7L159.9 437.3L160.4 438.7L160.8 438.1L161.3 437.8L161.7 436.8L162.2 436.8L162.6 435.9L163.1 437.5L163.5 437.7L164.0 438.3L164.4 434.2L164.9 436.0L165.3 437.7L165.8 436.8L166.2 437.3L166.7 436.0L167.1 434.2L167.6 434.3L168.0 435.6L168.5 437.5L168.9 434.6L169.4 436.8L169.8 435.6L170.3 436.4L170.7 436.1L171.2 436.9L171.6 436.1L172.1 437.9L172.5 437.5L173.0 436.7L173.4 437.6L173.9 436.9L174.3 437.1L174.8 437.3L175.2 437.6L175.7 437.6L176.1 439.6L176.6 437.7L177.0 438.7L177.5 437.4L177.9 438.4L178.4 438.7L178.8 438.7L179.3 440.4L179.7 439.6L180.2 437.8L180.6 438.2L181.1 438.9L181.5 439.3L182.0 438.0L182.4 438.1L182.9 436.8L183.3 440.1L183.8 440.4L184.2 438.2L184.7 438.4L185.1 439.0L185.6 439.0L186.0 440.4L186.5 440.6L186.9 438.9L187.4 437.8L187.8 439.6L188.3 438.2L188.7 440.1L189.2 440.5L189.6 440.2L190.1 439.6L190.5 441.6L191.0 440.6L191.4 440.1L191.9 440.2L192.3 440.9L192.8 440.2L193.2 441.4L193.7 443.2L194.1 440.3L194.6 441.2L195.0 440.3L195.5 440.5L195.9 442.2L196.4 440.7L196.8 440.8L197.3 442.2L197.7 440.3L198.2 441.4L198.6 441.4L199.1 441.9L199.5 443.5L200.0 440.5L200.4 440.6L200.9 440.4L201.3 442.9L201.8 442.2L202.2 441.7L202.7 443.8L203.1 443.8L203.6 441.5L204.0 442.8L204.5 443.1L204.9 441.7L205.4 441.3L205.8 441.7L206.3 441.6L206.7 441.8L207.2 441.4L207.6 441.9L208.1 440.5L208.5 443.2L209.0 441.7L209.4 442.5L209.9 441.9L210.3 440.8L210.8 441.7L211.2 442.6L211.7 443.2L212.1 442.6L212.6 443.8L213.0 442.2L213.5 443.0L213.9 443.2L214.4 443.2L214.8 443.2L215.3 443.2L215.7 443.0L216.2 442.4L216.6 443.2L217.1 442.0L217.5 441.9L218.0 441.6L218.4 444.5L218.9 442.9L219.3 443.1L219.8 442.8L220.2 443.3L220.7 442.4L221.1 442.4L221.6 443.8L222.0 442.7L222.5 443.0L222.9 442.5L223.4 442.8L223.8 443.8L224.3 443.1L224.7 442.1L225.2 442.4L225.6 444.5L226.1 443.4L226.5 445.1L227.0 445.3L227.4 445.5L227.9 442.6L228.3 442.3L228.8 444.1L229.2 444.1L229.7 443.9L230.1 444.6L230.6 443.9L231.0 443.1L231.5 445.6L231.9 442.6L232.4 443.0L232.8 441.9L233.3 441.7L233.7 443.9L234.2 444.4L234.6 443.7L235.1 444.5L235.5 443.4L236.0 443.2L236.4 445.2L236.9 445.1L237.3 444.5L237.8 444.8L238.2 444.8L238.7 444.9L239.1 445.1L239.6 443.2L240.0 444.5L240.5 443.6L240.9 445.1L241.4 443.9L241.8 442.1L242.3 443.6L242.7 441.6L243.2 442.0L243.6 443.8L244.1 443.1L244.5 442.7L245.0 442.8L245.4 443.0L245.9 445.6L246.3 443.4L246.8 445.2L247.2 443.2L247.7 442.5L248.1 446.2L248.6 445.9L249.0 445.7L249.5 443.4L249.9 444.1L250.4 443.2L250.8 444.8L251.3 443.7L251.7 445.0L252.2 444.3L252.6 445.2L253.1 445.9L253.5 444.5L254.0 444.9L254.4 444.3L254.9 444.5L255.3 442.5L255.8 444.1L256.2 443.8L256.7 444.6L257.1 443.1L257.6 443.9L258.0 443.2L258.5 445.3L258.9 443.8L259.4 444.1L259.8 445.0L260.3 444.9L260.7 443.0L261.2 444.6L261.6 442.3L262.1 444.1L262.5 443.5L263.0 442.2L263.4 443.7L263.9 444.5L264.3 443.2L264.8 444.1L265.2 446.4L265.7 445.9L266.1 444.2L266.6 443.7L267.0 444.3L267.5 443.5L267.9 444.9L268.4 442.6L268.8 443.0L269.3 444.0L269.7 442.9L270.2 444.3L270.6 443.2L271.1 443.1L271.5 445.4L272.0 445.3L272.4 443.9L272.9 444.7L273.3 445.2L273.8 444.9L274.2 444.8L274.7 445.0L275.1 444.1L275.6 445.0L276.0 444.4L276.5 442.8L276.9 444.3L277.4 444.8L277.8 444.4L278.3 444.6L278.7 444.9L279.2 444.2L279.6 444.8L280.1 443.6L280.5 445.4L281.0 443.4L281.4 444.3L281.9 445.3L282.3 443.9L282.8 444.8L283.2 444.2L283.7 445.1L284.1 445.9L284.6 445.0L285.0 445.3L285.5 443.5L285.9 445.7L286.4 443.9L286.8 445.7L287.3 443.6L287.7 445.0L288.2 444.4L288.6 442.6L289.1 445.5L289.5 442.9L290.0 443.8L290.4 444.9L290.9 443.6L291.3 443.9L291.8 443.8L292.2 443.7L292.7 444.7L293.1 444.3L293.6 444.2L294.0 444.2L294.5 444.3L294.9 444.0L295.4 444.7L295.8 445.8L296.3 444.5L296.7 445.4L297.2 443.7L297.6 444.7L298.1 446.5L298.5 446.2L299.0 446.4L299.4 446.7L299.9 445.6L300.3 445.4L300.8 445.6L301.2 445.9L301.7 443.7L302.1 446.3L302.6 446.9L303.0 445.3L303.5 445.2L303.9 445.6L304.4 445.4L304.8 443.9L305.3 444.5L305.7 446.4L306.2 445.8L306.6 445.6L307.1 446.0L307.5 446.4L308.0 446.2L308.4 444.8L308.9 445.5L309.3 444.2L309.8 445.9L310.2 444.2L310.7 443.2L311.1 442.1L311.6 443.6L312.0 444.0L312.5 442.9L312.9 445.0L313.4 444.3L313.8 444.1L314.3 445.3L314.7 446.2L315.2 446.1L315.6 445.6L316.1 443.8L316.5 443.3L317.0 444.3L317.4 442.5L317.9 444.7L318.3 443.4L318.8 446.0L319.2 445.9L319.7 445.2L320.1 443.0L320.6 445.0L321.0 444.0L321.5 445.3L321.9 443.8L322.4 445.7L322.8 445.0L323.3 442.9L323.7 444.0L324.2 445.2L324.6 444.0L325.1 444.6L325.5 444.8L326.0 445.0L326.4 445.0L326.9 445.5L327.3 444.1L327.8 445.9L328.2 445.3L328.7 445.2L329.1 444.5L329.6 443.6L330.0 444.4L330.5 442.7L330.9 443.1L331.4 444.4L331.8 443.5L332.3 444.8L332.7 443.7L333.2 444.2L333.6 444.5L334.1 443.5L334.5 445.9L335.0 445.6L335.4 445.2L335.9 443.7L336.3 444.2L336.8 444.5L337.2 445.9L337.7 444.9L338.1 445.7L338.6 444.7L339.0 445.8L339.5 445.6L339.9 445.9L340.4 444.5L340.8 443.4L341.3 445.1L341.7 444.8L342.2 443.1L342.6 443.1L343.1 444.9L343.5 444.3L344.0 443.9L344.4 445.4L344.9 445.3L345.3 444.1L345.8 445.1L346.2 443.3L346.7 444.7L347.1 443.8L347.6 443.9L348.0 445.6L348.5 444.5L348.9 444.1L349.4 444.2L349.8 444.9L350.3 443.5L350.7 444.7L351.2 444.9L351.6 445.1L352.1 445.0L352.5 444.7L353.0 444.7L353.4 444.5L353.9 444.4L354.3 445.6L354.8 442.9L355.2 443.2L355.7 445.3L356.1 443.7L356.6 444.5L357.0 444.0L357.5 442.9L357.9 443.4L358.4 444.3L358.8 444.6L359.3 443.0L359.7 445.2L360.2 445.6L360.6 445.1L361.1 446.4L361.5 446.8L362.0 447.0L362.4 446.2L362.9 445.8L363.3 446.1L363.8 445.3L364.2 445.3L364.7 446.1L365.1 445.1L365.6 443.7L366.0 444.5L366.5 443.8L366.9 444.4L367.4 445.0L367.8 443.7L368.3 445.9L368.7 443.8L369.2 444.9L369.6 446.0L370.1 445.5L370.5 446.2L371.0 445.8L371.4 446.1L371.9 446.4L372.3 446.5L372.8 443.4L373.2 443.6L373.7 444.1L374.1 446.2L374.6 446.7L375.0 444.0L375.5 445.3L375.9 444.7L376.4 445.4L376.8 443.5L377.3 443.8L377.7 444.2L378.2 443.4L378.6 445.7L379.1 444.1L379.5 444.8L380.0 444.9L380.4 445.6L380.9 445.3L381.3 444.6L381.8 444.0L382.2 443.6L382.7 444.3L383.1 442.5L383.6 443.9L384.0 444.3L384.5 445.6L384.9 444.7L385.4 446.8L385.8 444.2L386.3 446.7L386.7 443.6L387.2 446.2L387.6 444.9L388.1 444.8L388.5 444.9L389.0 445.3L389.4 445.2L389.9 444.6L390.3 444.4L390.8 445.0L391.2 445.0L391.7 444.4L392.1 444.7L392.6 443.3L393.0 444.2L393.5 444.4L393.9 444.8L394.4 444.9L394.8 444.0L395.3 444.3L395.7 445.4L396.2 445.4L396.6 444.9L397.1 443.9L397.5 443.2L398.0 444.7L398.4 443.1L398.9 444.2L399.3 445.5L399.8 446.1L400.2 446.8L400.7 445.2L401.1 445.4L401.6 444.8L402.0 444.1L402.5 445.4L402.9 444.9L403.4 444.2L403.8 444.8L404.3 444.3L404.7 445.0L405.2 446.1L405.6 445.4L406.1 445.1L406.5 446.7L407.0 444.8L407.4 444.8L407.9 445.5L408.3 445.3L408.8 445.5L409.2 445.5L409.7 445.1L410.1 445.1L410.6 443.7L411.0 445.1L411.5 443.3L411.9 446.1L412.4 445.6L412.8 444.2L413.3 442.8L413.7 444.4L414.2 445.3L414.6 444.8L415.1 445.4L415.5 446.4L416.0 444.0L416.4 443.1L416.9 445.3L417.3 446.2L417.8 444.0L418.2 445.3L418.7 446.1L419.1 445.4L419.6 444.5L420.0 443.6L420.5 444.2L420.9 443.7L421.4 444.4L421.8 444.6L422.3 446.0L422.7 445.8L423.2 446.2L423.6 444.7L424.1 443.9L424.5 444.3L425.0 443.8L425.4 443.6L425.9 443.2L426.3 446.0L426.8 444.1L427.2 444.9L427.7 446.2L428.1 444.9L428.6 443.7L429.0 445.3L429.5 445.1L429.9 446.0L430.4 445.5L430.8 446.2L431.3 445.3L431.7 445.7L432.2 445.4L432.6 446.0L433.1 444.9L433.5 445.2L434.0 444.9L434.4 446.0L434.9 446.6L435.3 446.3L435.8 446.6L436.2 445.8L436.7 443.9L437.1 444.1L437.6 445.4L438.0 444.0L438.5 444.1L438.9 444.5L439.4 445.4L439.8 444.5L440.3 444.0L440.7 445.3L441.2 444.2L441.6 444.9L442.1 444.0L442.5 444.0L443.0 444.3L443.4 445.7L443.9 444.1L444.3 445.0L444.8 445.1L445.2 443.2L445.7 443.6L446.1 444.7L446.6 444.2L447.0 444.3L447.5 445.5L447.9 446.2L448.4 445.1L448.8 443.8L449.3 442.5L449.7 445.2L450.2 441.7L450.6 443.7L451.1 444.9L451.5 444.6L452.0 444.9L452.4 444.0L452.9 444.4L453.3 445.0L453.8 444.9L454.2 444.9L454.7 446.8L455.1 445.1L455.6 445.0L456.0 446.8L456.5 446.0L456.9 443.6L457.4 443.8L457.8 445.9L458.3 444.4L458.7 445.4L459.2 442.6L459.6 443.4L460.1 445.0L460.5 444.2L461.0 445.2L461.4 445.0L461.9 443.8L462.3 443.1L462.8 443.4L463.2 445.2L463.7 444.1L464.1 444.0L464.6 444.1L465.0 446.0L465.5 444.9L465.9 445.2L466.4 444.1L466.8 443.7L467.3 444.4L467.7 444.5L468.2 444.8L468.6 444.1L469.1 444.3L469.5 443.5L470.0 443.9L470.4 443.7L470.9 444.9L471.3 443.8L471.8 443.8L472.2 444.2L472.7 444.6L473.1 444.6L473.6 443.5L474.0 444.3L474.5 445.0L474.9 445.0L475.4 445.1L475.8 442.5L476.3 444.8L476.7 445.8L477.2 444.1L477.6 445.3L478.1 445.2L478.5 443.9L479.0 445.4L479.4 445.5L479.9 445.0L480.3 444.1L480.8 444.1L481.2 443.6L481.7 444.1L482.1 446.3L482.6 444.0L483.0 442.5L483.5 442.8L483.9 443.2L484.4 446.4L484.8 443.8L485.3 442.8L485.7 445.2L486.2 445.9L486.6 444.1L487.1 444.4L487.5 445.7L488.0 444.5L488.4 444.0L488.9 446.4L489.3 444.5L489.8 446.5L490.2 445.5L490.7 446.6L491.1 445.6L491.6 444.8L492.0 446.6L492.5 444.4L492.9 444.7L493.4 444.7L493.8 445.4L494.3 444.7L494.7 444.7L495.2 444.4L495.6 445.6L496.1 445.2L496.5 445.8L497.0 445.5L497.4 443.9L497.9 445.3L498.3 445.7L498.8 443.1L499.2 442.8L499.7 444.7L500.1 442.9L500.6 443.6L501.0 444.4L501.5 443.7L501.9 443.3L502.4 443.7L502.8 445.0L503.3 445.2L503.7 444.8L504.2 445.1L504.6 444.3L505.1 445.3L505.5 445.7L506.0 445.7L506.4 443.7L506.9 444.7L507.3 442.7L507.8 443.8L508.2 443.9L508.7 444.0L509.1 444.4L509.6 446.7L510.0 445.4L510.5 445.1L510.9 444.1L511.4 444.2L511.8 445.1L512.3 443.9L512.7 446.0L513.2 446.0L513.6 446.7L514.1 445.8L514.5 445.6L515.0 444.0L515.4 442.5L515.9 446.0L516.3 445.2L516.8 446.7L517.2 443.3L517.7 444.2L518.1 444.3L518.6 444.3L519.0 444.8L519.5 445.9L519.9 445.7L520.4 444.6L520.8 445.2L521.3 445.2L521.7 441.6L522.2 445.3L522.6 443.6L523.1 446.0L523.5 444.5L524.0 443.3L524.4 443.3L524.9 444.0L525.3 443.6L525.8 445.8L526.2 445.2L526.7 446.2L527.1 445.6L527.6 445.5L528.0 444.8L528.5 445.4L528.9 445.9L529.4 445.5L529.8 445.9L530.3 445.6L530.7 444.1L531.2 445.4L531.6 444.2L532.1 444.9L532.5 443.2L533.0 445.7L533.4 444.6L533.9 444.8L534.3 444.9L534.8 444.4L535.2 444.1L535.7 444.6L536.1 445.0L536.6 445.5L537.0 445.5L537.5 443.9L537.9 444.0L538.4 444.9L538.8 443.6L539.3 445.1L539.7 444.9L540.2 444.5L540.6 445.4L541.1 445.6L541.5 445.0L542.0 444.8L542.4 443.1L542.9 444.8L543.3 444.0L543.8 445.4L544.2 443.1L544.7 444.3L545.1 446.1L545.6 446.0L546.0 443.4L546.5 444.1L546.9 444.3L547.4 444.4L547.8 443.9L548.3 445.2L548.7 445.5L549.2 444.8L549.6 444.0L550.1 444.0L550.5 445.5L551.0 444.7L551.4 446.1L551.9 444.5L552.3 445.3L552.8 445.4L553.2 446.3L553.7 446.3L554.1 446.5L554.6 446.2L555.0 445.7L555.5 444.8L555.9 444.8L556.4 445.5L556.8 443.0L557.3 443.2L557.7 444.3L558.2 445.5L558.6 442.5L559.1 443.8L559.5 444.8L560.0 443.6L560.4 447.1L560.9 445.5L561.3 444.3L561.8 445.0L562.2 444.0L562.7 443.5L563.1 443.6L563.6 444.3L564.0 444.2L564.5 444.4L564.9 444.0L565.4 444.3L565.8 444.4L566.3 444.2L566.7 444.7L567.2 445.5L567.6 445.4L568.1 445.0L568.5 445.3L569.0 444.5L569.4 446.4L569.9 445.1L570.3 445.3L570.8 445.9L571.2 445.1L571.7 444.3L572.1 444.2L572.6 443.8L573.0 446.5L573.5 445.7L573.9 444.9L574.4 443.8L574.8 445.0M666.6 442.0L667.1 440.8L667.5 442.3L668.0 442.2L668.4 443.5L668.9 441.4L669.3 443.6L669.8 441.4L670.2 442.4L670.7 441.6L671.1 443.2L671.6 443.5L672.0 441.6L672.5 442.8L672.9 441.0L673.4 443.2L673.8 441.8L674.3 442.5L674.7 443.0L675.2 442.6L675.6 441.7L676.1 442.2L676.5 442.1L677.0 441.5L677.4 443.7L677.9 442.7L678.3 441.1L678.8 440.7L679.2 440.9L679.7 441.2L680.1 440.3L680.6 442.6L681.0 442.4L681.5 440.8L681.9 441.4L682.4 442.6L682.8 441.3L683.3 441.0L683.7 442.2L684.2 441.3L684.6 443.1L685.1 441.8L685.5 442.7L686.0 442.0L686.4 441.7L686.9 440.6L687.3 442.1L687.8 441.1L688.2 441.5L688.7 441.3L689.1 442.1L689.6 442.0L690.0 442.0L690.5 439.4L690.9 439.4L691.4 441.3L691.8 441.5L692.3 441.8L692.7 438.7L693.2 442.8L693.6 443.0L694.1 441.6L694.5 439.5L695.0 442.4L695.4 440.0L695.9 441.5L696.3 440.8L696.8 442.4L697.2 440.3L697.7 439.8L698.1 441.2L698.6 441.8L699.0 440.1L699.5 441.2L699.9 442.2L700.4 441.3L700.8 440.6L701.3 441.2L701.7 440.2L702.2 439.9L702.6 442.7L703.1 441.9L703.5 440.9L704.0 440.3L704.4 439.4L704.9 440.9L705.3 440.2L705.8 440.7L706.2 441.2L706.7 440.7L707.1 440.8L707.6 440.6L708.0 439.3L708.5 439.4L708.9 440.5L709.4 440.2L709.8 440.3L710.3 440.3L710.7 438.8L711.2 440.5L711.6 439.1L712.1 440.1L712.5 441.0L713.0 439.2L713.4 440.2L713.9 439.1L714.3 440.4L714.8 441.5L715.2 440.8L715.7 441.1L716.1 440.5L716.6 441.2L717.0 439.8L717.5 440.4L717.9 439.0L718.4 438.5L718.8 439.6L719.3 439.4L719.7 439.0L720.2 439.7L720.6 439.2L721.1 440.5L721.5 439.6L722.0 439.2L722.4 442.0L722.9 440.8L723.3 439.7L723.8 441.5L724.2 439.5L724.7 439.0L725.1 439.5L725.6 439.9L726.0 439.2L726.5 439.4L726.9 438.7L727.4 438.2L727.8 439.7L728.3 439.3L728.7 439.9L729.2 441.1L729.6 441.3L730.1 441.2L730.5 439.0L731.0 440.4L731.4 439.6L731.9 441.2L732.3 440.8L732.8 440.4L733.2 438.8L733.7 440.4L734.1 440.3L734.6 438.6L735.0 438.8L735.5 438.1L735.9 439.2L736.4 439.2L736.8 439.7L737.3 439.1L737.7 440.3L738.2 439.1L738.6 439.0L739.1 440.7L739.5 438.7L740.0 439.2L740.4 439.3L740.9 438.2L741.3 438.5L741.8 439.3L742.2 438.6L742.7 438.5L743.1 437.5L743.6 438.6L744.0 438.6L744.5 439.5L744.9 440.0L745.4 439.1L745.8 439.1L746.3 439.1L746.7 438.2L747.2 437.3L747.6 439.7L748.1 439.5L748.5 439.1L749.0 439.7L749.4 438.8L749.9 437.8L750.3 438.1L750.8 439.6L751.2 438.0L751.7 440.4L752.1 439.6L752.6 439.1L753.0 440.6L753.5 440.5L753.9 440.1L754.4 438.3L754.8 438.2L755.3 438.0L755.7 439.0L756.2 438.8L756.6 439.3L757.1 437.8L757.5 439.6L758.0 439.7L758.4 438.9L758.9 438.7L759.3 438.0L759.8 437.2L760.2 437.7L760.7 437.6L761.1 437.1L761.6 438.3L762.0 438.3L762.5 436.8L762.9 437.8L763.4 439.3L763.8 438.0L764.3 437.8L764.7 437.7L765.2 439.4L765.6 438.1L766.1 437.2L766.5 439.1L767.0 439.1L767.4 438.7L767.9 439.3L768.3 438.9L768.8 439.0L769.2 438.6L769.7 436.5L770.1 437.1L770.6 437.9L771.0 438.3L771.5 437.8L771.9 438.6L772.4 438.4L772.8 438.4L773.3 437.0L773.7 436.4L774.2 436.3L774.6 436.9L775.1 436.5L775.5 436.2L776.0 437.5L776.4 436.6L776.9 437.1L777.3 436.2L777.8 436.7L778.2 437.4L778.7 436.6L779.1 437.8L779.6 437.7L780.0 434.6L780.5 434.8L780.9 434.5L781.4 436.7L781.8 437.8L782.3 435.7L782.7 437.1L783.2 437.7L783.6 436.8L784.1 435.0L784.5 435.3L785.0 436.3L785.4 436.4L785.9 437.0L786.3 437.1L786.8 437.2L787.2 437.3L787.7 437.1L788.1 435.9L788.6 435.6L789.0 436.2L789.5 433.8L789.9 434.8L790.4 435.1L790.8 437.4L791.3 435.9L791.7 436.3L792.2 436.6L792.6 434.2L793.1 434.2L793.5 437.3L794.0 435.2L794.4 435.1L794.9 434.6L795.3 434.4L795.8 436.4L796.2 437.1L796.7 435.7L797.1 434.7L797.6 436.1L798.0 434.6L798.5 433.4L798.9 436.1L799.4 434.7L799.8 435.2L800.3 434.7L800.7 435.3L801.2 435.0L801.6 433.9L802.1 435.7L802.5 434.8L803.0 433.1L803.4 436.3L803.9 435.2L804.3 433.3L804.8 435.5L805.2 433.1L805.7 432.7L806.1 433.2L806.6 432.9L807.0 433.4L807.5 433.8L807.9 433.5L808.4 433.4L808.8 431.3L809.3 431.9L809.7 431.8L810.2 431.7L810.6 432.0L811.1 432.2L811.5 431.8L812.0 434.1L812.4 432.3L812.9 433.6L813.3 432.1L813.8 432.8L814.2 432.7L814.7 434.5L815.1 433.8L815.6 432.4L816.0 435.1L816.5 432.2L816.9 434.6L817.4 434.1L817.8 433.2L818.3 430.9L818.7 433.4L819.2 433.2L819.6 433.5L820.1 432.9L820.5 432.8L821.0 431.7L821.4 430.8L821.9 433.6L822.3 433.2L822.8 433.1L823.2 432.1L823.7 433.2L824.1 431.8L824.6 431.8L825.0 431.9L825.5 431.7L825.9 432.1L826.4 431.6L826.8 432.5L827.3 432.4L827.7 433.6L828.2 431.0L828.6 432.1L829.1 431.3L829.5 432.5L830.0 430.6L830.4 430.6L830.9 431.5L831.3 433.1L831.8 432.3L832.2 430.2L832.7 431.2L833.1 432.0L833.6 432.8L834.0 431.8L834.5 430.5L834.9 430.6L835.4 430.1L835.8 429.6L836.3 430.9L836.7 428.7L837.2 429.6L837.6 432.3L838.1 428.6L838.5 427.6L839.0 429.8L839.4 429.3L839.9 429.2L840.3 429.5L840.8 431.0L841.2 428.4L841.7 429.3L842.1 427.3L842.6 427.9L843.0 427.8L843.5 427.7L843.9 430.7L844.4 429.2L844.8 428.0L845.3 428.4L845.7 428.1L846.2 430.0L846.6 429.9L847.1 428.5L847.5 429.1L848.0 428.9L848.4 428.4L848.9 427.6L849.3 431.1L849.8 431.0L850.2 430.0L850.7 426.2L851.1 427.0L851.6 428.9L852.0 428.2L852.5 427.3L852.9 427.3L853.4 428.5L853.8 426.2L854.3 427.9L854.7 428.7L855.2 426.4L855.6 423.4L856.1 427.0L856.5 427.5L857.0 425.6L857.4 426.4L857.9 424.7L858.3 427.4L858.8 425.4L859.2 426.3L859.7 427.6L860.1 425.5L860.6 425.2L861.0 425.3L861.5 427.0L861.9 426.6L862.4 424.4L862.8 423.9L863.3 426.6L863.7 425.8L864.2 427.1L864.6 426.4L865.1 424.0L865.5 425.3L866.0 423.0L866.4 424.3L866.9 423.0L867.3 426.0L867.8 426.4L868.2 426.0L868.7 423.5L869.1 424.4L869.6 426.9L870.0 425.7L870.5 423.9L870.9 425.5L871.4 424.3L871.8 423.5L872.3 423.9L872.7 423.1L873.2 422.8L873.6 423.1L874.1 422.3L874.5 422.2L875.0 423.1L875.4 421.9L875.9 421.3L876.3 421.7L876.8 422.7L877.2 421.3L877.7 423.2L878.1 420.6L878.6 418.4L879.0 424.9L879.5 424.3L879.9 422.6L880.4 425.1L880.8 422.5L881.3 422.5L881.7 422.8L882.2 421.4L882.6 423.0L883.1 423.4L883.5 420.6L884.0 422.3L884.4 422.3L884.9 419.1L885.3 421.5L885.8 420.3L886.2 422.3L886.7 422.4L887.1 420.8L887.6 421.9L888.0 419.7L888.5 418.7L888.9 419.9L889.4 419.3L889.8 420.1L890.3 418.6L890.7 420.5L891.2 420.1L891.6 419.9L892.1 419.4L892.5 420.9L893.0 421.5L893.4 419.8L893.9 420.9L894.3 421.4L894.8 420.6L895.2 421.7L895.7 420.7L896.1 420.0L896.6 418.6L897.0 420.0L897.5 420.4L897.9 419.9L898.4 418.6L898.8 419.2L899.3 420.0L899.7 418.7L900.2 418.9L900.6 419.2L901.1 418.0L901.5 420.1L902.0 417.3L902.4 421.8L902.9 419.0L903.3 420.6L903.8 421.0L904.2 422.3L904.7 420.6L905.1 421.2L905.6 418.6L906.0 420.8L906.5 417.7L906.9 414.4L907.4 420.1L907.8 420.0L908.3 418.9L908.7 420.7L909.2 417.5L909.6 419.7L910.1 419.0L910.5 417.1L911.0 417.3L911.4 415.4L911.9 416.5L912.3 418.3L912.8 416.7L913.2 416.2L913.7 419.1L914.1 417.4L914.6 420.0L915.0 422.0L915.5 421.6L915.9 420.0L916.4 418.9L916.8 419.1L917.3 420.7L917.7 420.4L918.2 418.2L918.6 420.8L919.1 418.2L919.5 419.7L920.0 420.1L920.4 420.5L920.9 419.7L921.3 418.3L921.8 418.1L922.2 418.3L922.7 420.3L923.1 419.7L923.6 419.4L924.0 419.8L924.5 420.4L924.9 417.2L925.4 416.4L925.8 418.6L926.3 419.7L926.7 418.1L927.2 419.5L927.6 418.6L928.1 417.1L928.5 419.1L929.0 418.2L929.4 419.6L929.9 418.5L930.3 419.3L930.8 418.8L931.2 418.2L931.7 418.0L932.1 419.0L932.6 419.7L933.0 419.4L933.5 418.4L933.9 419.7L934.4 420.8L934.8 419.4L935.3 419.7L935.7 416.7L936.2 418.8L936.6 417.3L937.1 417.9L937.5 419.4L938.0 421.4L938.4 417.8L938.9 419.4L939.3 421.4L939.8 419.1L940.2 418.2L940.7 418.5L941.1 420.2L941.6 417.0L942.0 417.9L942.5 415.7L942.9 418.6L943.4 418.4L943.8 420.0L944.3 417.4L944.7 417.5L945.2 419.9L945.6 420.6L946.1 418.7L946.5 420.9L947.0 418.2L947.4 419.2L947.9 418.2L948.3 418.3L948.8 420.1L949.2 419.8L949.7 417.8L950.1 421.0L950.6 416.7L951.0 419.7L951.5 419.0L951.9 418.9L952.4 418.8L952.8 418.5L953.3 421.1L953.7 420.7L954.2 419.4L954.6 421.1L955.1 418.0L955.5 418.8L956.0 419.8L956.4 419.4L956.9 417.7L957.3 419.9L957.8 419.9L958.2 418.9L958.7 418.7L959.1 418.5L959.6 421.5L960.0 420.2L960.5 418.8L960.9 418.3L961.4 416.4L961.8 417.6L962.3 417.8L962.7 420.1L963.2 419.3L963.6 418.0L964.1 419.7L964.5 419.9L965.0 418.7L965.4 420.8L965.9 419.5L966.3 419.0L966.8 417.8L967.2 420.5L967.7 418.6L968.1 420.5L968.6 419.0L969.0 418.6L969.5 420.8L969.9 421.1L970.4 420.2L970.8 420.7L971.3 420.9L971.7 421.7L972.2 421.1L972.6 421.4L973.1 418.6L973.5 417.0L974.0 418.2L974.4 419.5L974.9 420.2L975.3 417.8L975.8 419.2L976.2 420.4L976.7 421.6L977.1 420.2L977.6 419.6L978.0 419.2L978.5 419.2L978.9 420.5L979.4 419.7L979.8 421.0L980.3 417.8L980.7 417.7L981.2 416.5L981.6 421.0L982.1 419.2L982.5 421.5L983.0 420.6L983.4 420.5L983.9 420.9L984.3 418.4L984.8 419.6L985.2 421.1L985.7 421.0L986.0 421.9L986.1 419.9L986.6 420.1L987.0 420.8L987.5 420.9L987.9 421.0L988.4 420.9L988.8 420.8L989.3 419.7L989.7 421.2L990.2 422.3L990.6 421.3L991.1 419.8L991.5 420.2L992.0 421.7L992.4 422.7L992.9 421.5L993.3 419.7L993.8 422.4L994.2 416.8L994.7 418.9L995.1 418.1L995.6 420.5L996.0 418.2L996.5 420.0L996.9 419.1L997.4 421.9L997.8 416.2L998.3 422.4L998.7 422.1L999.2 421.8L999.6 418.8L1000.1 421.9L1000.5 419.3L1001.0 420.2L1001.4 420.6L1001.9 419.8L1002.3 420.4L1002.8 419.5L1003.2 421.1L1003.7 422.4L1004.1 420.9L1004.6 422.4L1005.0 422.3L1005.5 417.8L1005.9 419.1L1006.4 423.4L1006.8 420.1L1007.3 419.2L1007.7 418.6L1008.2 418.2L1008.6 421.6L1009.1 419.1L1009.5 421.2L1010.0 422.6L1010.4 421.4L1010.9 420.4L1011.3 419.8L1011.8 420.4L1012.2 421.0L1012.7 420.6L1013.1 422.5L1013.6 422.8L1014.0 420.2L1014.5 424.1L1014.9 422.7L1015.4 424.3L1015.8 423.7L1016.3 420.6L1016.7 420.7L1017.2 421.6L1017.6 421.0L1018.1 421.1L1018.5 421.4L1019.0 420.2L1019.4 420.7L1019.9 418.5L1020.3 421.9L1020.8 421.8L1021.2 422.2L1021.7 421.9L1022.1 423.6L1022.6 420.1L1023.0 422.1L1023.5 423.1L1023.9 422.2L1024.4 421.8L1024.8 420.9L1025.3 421.2L1025.7 419.9L1026.2 421.9L1026.6 421.0L1027.1 419.2L1027.5 421.5L1028.0 420.3L1028.4 421.9L1028.9 419.6L1029.3 421.0L1029.8 420.4L1030.2 420.0L1030.7 419.7L1031.1 421.2L1031.6 422.1L1032.0 419.1L1032.5 419.0L1032.9 423.4L1033.4 420.2L1033.8 420.2L1034.3 419.6L1034.7 423.0L1035.2 420.2L1035.6 420.2L1036.1 419.6L1036.5 419.2L1037.0 418.7L1037.4 419.9L1037.9 422.0L1038.3 422.0L1038.8 418.6L1039.2 417.3L1039.7 420.2L1040.1 421.2L1040.6 420.5L1041.0 422.3L1041.5 421.7L1041.9 424.5L1042.4 423.6L1042.8 422.0L1043.3 421.8L1043.7 420.1L1044.2 421.9L1044.6 419.6L1045.1 419.9L1045.5 422.7L1046.0 420.9L1046.4 422.6L1046.9 421.5L1047.3 419.7L1047.8 422.8L1048.2 422.3L1048.7 422.9L1049.1 419.5L1049.6 418.7L1050.0 420.2L1050.5 419.4L1050.9 420.8L1051.4 419.2L1051.8 421.1L1052.3 419.4L1052.7 419.8L1053.2 420.7L1053.6 422.2L1054.1 421.9L1054.5 420.3L1055.0 419.8L1055.4 419.5L1055.9 419.6L1056.3 423.1L1056.8 422.6L1057.2 422.5L1057.7 420.6L1058.1 422.0L1058.6 422.1L1059.0 422.1L1059.5 421.1L1059.9 419.4L1060.4 420.5L1060.8 420.0L1061.3 421.6L1061.7 420.6L1062.2 418.5L1062.6 422.8L1063.1 420.5L1063.5 419.0L1064.0 418.9L1064.4 420.9L1064.9 419.8L1065.3 421.4L1065.8 420.9L1066.2 422.2L1066.7 419.3L1067.1 420.3L1067.6 420.7L1068.0 419.9L1068.5 419.9L1068.9 420.5L1069.4 421.7L1069.8 418.9L1070.3 419.3L1070.7 420.0L1071.2 420.6L1071.6 421.9L1072.1 419.5L1072.5 419.9L1073.0 423.4L1073.4 421.3L1073.9 422.9L1074.3 422.0L1074.8 422.1L1075.2 420.1L1075.7 420.1L1076.1 418.9L1076.6 422.6L1077.0 418.4L1077.5 421.0L1077.9 418.8L1078.4 419.5L1078.8 419.7L1079.3 421.6L1079.7 418.3L1080.2 422.2L1080.6 420.7L1081.1 415.5L1081.5 421.6L1082.0 418.2L1082.4 419.6L1082.9 419.2L1083.3 422.4L1083.8 421.8L1084.2 424.2L1084.7 419.2L1085.1 422.2L1085.6 422.8L1086.0 420.1L1086.5 420.4L1086.9 420.2L1087.4 421.1L1087.8 420.4L1088.3 419.8L1088.7 420.2L1089.2 421.9L1089.6 421.2L1090.1 421.8L1090.5 421.1L1091.0 420.1L1091.4 420.5L1091.9 422.5L1092.3 422.7L1092.8 418.8L1093.2 421.6L1093.7 419.2L1094.1 418.7L1094.6 418.9L1095.0 422.5L1095.5 422.0L1095.9 421.8L1096.4 420.8L1096.8 419.0L1097.3 420.1L1097.7 422.7L1098.2 419.8L1098.6 421.8L1099.1 419.8L1099.5 422.0L1100.0 419.2L1100.4 419.3L1100.9 420.3L1101.3 419.1L1101.8 420.2L1102.2 419.0L1102.7 418.1L1103.1 419.2L1103.6 419.8L1104.0 418.3L1104.5 422.1L1104.9 419.1L1105.4 417.7L1105.8 421.7L1106.3 420.1L1106.7 422.2L1107.2 422.4L1107.6 422.4L1108.1 419.5L1108.5 420.3L1109.0 419.9L1109.4 419.0L1109.9 418.9L1110.3 419.0L1110.8 421.8L1111.2 419.7L1111.7 421.4L1112.1 418.9L1112.6 418.7L1113.0 421.3L1113.5 418.8L1113.9 420.3L1114.4 421.3L1114.8 417.9L1115.3 421.9L1115.7 418.3L1116.2 422.9L1116.6 419.9L1117.1 421.0L1117.5 423.1L1118.0 417.8L1118.4 421.9L1118.9 419.0L1119.3 419.6L1119.8 419.1L1120.2 420.6L1120.7 421.2L1121.1 422.9L1121.6 420.1L1122.0 422.4L1122.5 422.6L1122.9 420.8L1123.4 421.2L1123.8 421.5L1124.3 421.1L1124.7 420.0L1125.2 422.2L1125.6 421.0L1126.1 420.3L1126.5 423.5L1127.0 423.4L1127.4 418.9L1127.9 421.8L1128.3 421.2L1128.8 419.9L1129.2 421.6L1129.7 420.0L1130.1 421.5L1130.6 419.9L1131.0 421.6L1131.5 421.7L1131.9 419.9L1132.4 419.6L1132.8 420.0L1133.3 421.3L1133.7 421.9L1134.2 419.0L1134.6 421.0L1135.1 422.8L1135.5 423.4L1136.0 422.4L1136.4 422.0L1136.9 420.4L1137.3 422.1L1137.8 419.6L1138.2 421.2L1138.7 422.1L1139.1 421.1L1139.6 419.3L1140.0 420.0L1140.5 419.9L1140.9 420.9L1141.4 420.7L1141.8 422.3L1142.3 421.7L1142.7 420.9L1143.2 420.3L1143.6 423.3L1144.1 422.1L1144.5 422.6L1145.0 421.7L1145.4 422.0L1145.9 420.4L1146.3 420.0L1146.8 421.7L1147.2 421.1L1147.7 422.1L1148.1 420.6L1148.6 420.2L1149.0 417.3L1149.5 421.6L1149.9 423.0L1150.4 423.8L1150.8 423.3L1151.3 422.6L1151.7 422.8L1152.2 421.4L1152.6 421.2L1153.1 423.6L1153.5 423.1L1154.0 423.0L1154.4 422.9L1154.9 419.5L1155.3 422.6L1155.8 419.3L1156.2 419.6L1156.7 421.1L1157.1 421.1L1157.6 420.1L1158.0 419.7L1158.5 418.7L1158.9 421.0L1159.4 419.6L1159.8 421.0L1160.3 419.7L1160.7 422.5L1161.2 420.3L1161.6 419.0L1162.1 419.6L1162.5 420.8L1163.0 419.9L1163.4 421.7L1163.9 422.4L1164.3 420.8L1164.8 421.6L1165.2 420.6L1165.7 421.4L1166.1 424.0L1166.6 420.6L1167.0 422.8L1167.5 423.0L1167.9 421.9L1168.4 422.7L1168.8 422.8L1169.3 423.0L1169.7 419.6L1170.2 420.4L1170.6 420.0L1171.1 420.8L1171.5 421.8L1172.0 420.8L1172.4 422.1L1172.9 421.2L1173.3 420.7L1173.8 419.7L1174.2 421.2L1174.7 424.6L1175.1 421.7L1175.6 421.9L1176.0 422.7L1176.5 422.7L1176.9 422.5L1177.4 423.9L1177.8 418.6L1178.3 418.6L1178.7 418.7" stroke="#0a5ee0" stroke-width="3.6"/>
<path d="M574.4 443.8L574.8 445.0L575.3 444.7L575.7 445.0L576.2 445.1L576.6 444.8L577.1 444.7L577.5 444.4L578.0 444.7L578.4 445.0L578.9 445.1L579.3 444.8L579.8 445.0L580.2 444.4L580.7 444.8L581.1 444.5L581.6 444.7L582.0 445.1L582.5 444.8L582.9 444.6L583.4 444.1L583.8 444.8L584.3 444.8L584.7 444.5L585.2 444.7L585.6 444.6L586.1 444.6L586.5 444.5L587.0 444.6L587.4 445.0L587.9 444.6L588.3 444.3L588.8 443.6L589.2 442.5L589.7 440.0L590.1 436.7L590.6 432.7L591.0 428.9L591.5 426.0L591.9 424.6L592.4 426.6L592.8 430.3L593.3 434.3L593.7 438.6L594.2 440.9L594.6 442.5L595.1 442.7L595.5 441.6L596.0 439.5L596.4 436.1L596.9 431.8L597.3 426.8L597.8 421.1L598.2 417.6L598.7 416.0L599.1 416.7L599.6 420.2L600.0 425.2L600.5 430.3L600.9 435.5L601.4 439.5L601.8 441.2L602.3 443.2L602.7 443.7L603.2 443.8L603.6 443.9L604.1 444.3L604.5 443.6L605.0 443.7L605.4 444.1L605.9 443.7L606.3 443.7L606.8 443.5L607.2 444.4L607.7 444.3L608.1 443.9L608.6 443.8L609.0 444.2L609.5 443.7L609.9 443.5L610.4 443.9L610.8 443.9L611.3 444.1L611.7 443.5L612.2 443.6L612.6 444.0L613.1 444.0L613.5 443.7L614.0 443.7L614.4 443.9L614.9 443.9L615.3 444.1L615.8 443.9L616.2 443.6L616.7 443.9L617.1 443.6L617.6 443.8L618.0 443.7L618.5 443.3L618.9 443.5L619.4 443.6L619.8 443.8L620.3 444.0L620.7 443.8L621.2 443.2L621.6 443.2L622.1 443.0L622.5 443.6L623.0 443.1L623.4 444.1L623.9 443.4L624.3 443.1L624.8 443.5L625.2 443.1L625.7 443.7L626.1 443.7L626.6 443.8L627.0 443.6L627.5 443.5L627.9 443.9L628.4 443.6L628.8 443.2L629.3 443.9L629.7 443.8L630.2 443.2L630.6 443.1L631.1 442.7L631.5 443.4L632.0 443.5L632.4 443.1L632.9 443.1L633.3 443.4L633.8 443.3L634.2 443.3L634.7 442.7L635.1 442.7L635.6 443.2L636.0 443.3L636.5 442.9L636.9 443.2L637.4 443.0L637.8 442.7L638.3 443.1L638.7 443.5L639.2 443.4L639.6 442.7L640.1 442.5L640.5 442.7L641.0 443.4L641.4 442.7L641.9 442.4L642.3 442.4L642.8 441.8L643.2 440.0L643.7 438.1L644.1 435.4L644.6 431.5L645.0 427.8L645.5 399.7L645.9 389.6L645.9 389.2L646.4 399.3L646.8 422.1L647.3 424.6L647.7 428.4L648.2 432.9L648.6 436.2L649.1 438.1L649.5 438.2L650.0 438.5L650.4 439.3L650.9 439.7L651.3 439.8L651.8 440.2L652.2 440.7L652.7 440.3L653.1 440.8L653.6 440.5L654.0 440.8L654.5 441.5L654.9 441.5L655.4 441.3L655.8 441.9L656.3 441.9L656.7 441.8L657.2 441.5L657.6 441.6L658.1 442.6L658.5 441.9L659.0 442.2L659.4 442.2L659.9 441.6L660.3 442.2L660.8 442.7L661.2 442.6L661.7 442.5L662.1 442.6L662.6 442.9L663.0 442.3L663.5 441.7L663.9 442.2L664.4 442.3L664.8 441.8L665.3 441.9L665.7 442.4L666.2 442.5L666.6 442.0L667.1 440.8" stroke="#0a5ee0" stroke-width="3.3"/>
<line x1="645.9" y1="390.6" x2="645.9" y2="438.8" stroke="#0a5ee0" stroke-width="3.1" stroke-linecap="butt"/>
<path d="M83.4 350.6L83.8 350.7L84.3 349.1L84.8 350.6L85.2 351.0L85.7 351.4L86.1 352.4L86.6 351.7L87.0 351.6L87.5 350.7L87.9 350.8L88.4 351.9L88.8 352.1L89.3 352.8L89.7 352.2L90.2 353.1L90.6 352.0L90.8 351.0L91.1 351.4L91.5 352.7L92.0 351.3L92.0 351.5L92.4 350.2L92.9 352.2L93.3 350.2L93.8 350.7L94.2 351.7L94.7 351.4L95.1 349.9L95.6 351.0L96.0 352.0L96.5 351.6L96.9 352.4L97.4 351.2L97.8 352.3L97.8 352.1L98.3 351.2L98.7 351.1L99.2 351.8L99.6 351.7L100.1 352.0L100.5 352.6L101.0 352.8L101.4 351.2L101.9 352.4L102.3 352.7L102.8 353.1L103.2 350.1L103.7 351.4L104.1 352.4L104.6 351.2L105.0 352.7L105.5 351.3L105.9 350.5L106.4 352.7L106.8 352.2L107.3 350.6L107.7 351.6L108.2 351.2L108.6 351.1L109.1 349.8L109.5 350.6L110.0 351.3L110.4 351.8L110.9 352.4L111.3 353.2L111.8 351.4L112.2 351.2L112.7 352.2L113.1 350.7L113.6 351.6L114.0 352.7L114.5 351.5L114.9 350.5L115.4 350.6L115.8 351.6L116.3 352.6L116.7 351.0L117.2 351.5L117.6 352.8L118.1 352.9L118.5 351.8L119.0 350.4L119.4 353.2L119.9 352.6L120.3 352.5L120.8 350.5L121.2 351.6L121.7 351.6L122.1 350.7L122.6 351.5L123.0 351.3L123.5 351.4L123.9 351.2L124.4 352.0L124.8 351.9L125.3 351.5L125.7 351.4L126.2 351.8L126.6 351.8L127.1 352.0L127.5 351.5L128.0 351.6L128.4 351.9L128.9 351.6L129.3 351.5L129.8 351.8L130.2 351.8L130.7 351.6L131.1 351.3L131.6 350.9L132.0 350.2L132.5 349.6L132.9 349.1L133.4 348.2L133.8 347.3L134.3 347.4L134.7 346.1L135.2 345.3L135.6 344.2L136.1 343.9L136.5 343.1L137.0 339.8L137.4 264.4L137.9 247.6L138.2 247.2L138.3 247.3L138.8 247.5L139.2 313.9L139.7 337.9L140.1 338.1L140.6 338.1L141.0 337.9L141.5 337.6L141.9 337.1L142.4 337.6L142.8 337.0L143.3 337.6L143.7 337.6L144.2 337.5L144.6 337.5L145.1 337.6L145.5 337.1L146.0 337.6L146.4 337.4L146.9 337.3L147.3 337.5L147.8 337.4L148.2 337.3L148.7 336.9L149.1 336.8L149.6 336.8L150.0 337.5L150.5 337.9L150.9 337.7L151.4 338.2L151.8 337.8L152.3 338.4L152.7 338.2L153.2 338.5L153.6 338.3L154.1 338.4L154.5 339.3L155.0 338.8L155.4 338.9L155.9 339.1L156.3 339.8L156.8 339.8L157.2 339.9L157.7 340.1L158.1 340.3L158.6 340.8L159.0 341.1L159.5 340.7L159.9 340.7L160.4 340.9L160.8 341.6L161.3 341.1L161.7 341.3L162.2 341.6L162.6 342.1L163.1 341.6L163.5 341.7L164.0 342.4L164.4 343.0L164.9 342.7L165.3 342.6L165.8 343.2L166.2 343.2L166.7 342.9L167.1 343.0L167.6 342.0L168.0 343.6L168.5 343.7L168.9 343.9L169.4 345.7L169.8 343.2L170.3 345.2L170.7 342.7L171.2 342.6L171.6 346.7L172.1 343.0L172.5 345.5L173.0 346.5L173.4 345.2L173.9 344.6L174.3 344.7L174.8 345.0L175.2 345.8L175.7 345.3L176.1 346.6L176.6 345.0L177.0 346.2L177.5 348.1L177.9 347.7L178.4 346.6L178.8 345.9L179.3 345.5L179.7 345.8L180.2 346.8L180.6 346.6L181.1 344.4L181.5 347.4L182.0 348.6L182.4 348.2L182.9 349.0L183.3 347.6L183.8 348.8L184.2 349.6L184.7 347.1L185.1 348.9L185.6 347.2L186.0 347.3L186.5 348.8L186.9 349.1L187.4 348.9L187.8 349.7L188.3 348.1L188.7 348.5L189.2 347.1L189.6 348.0L190.1 349.7L190.5 349.7L191.0 349.2L191.4 348.6L191.9 349.9L192.3 349.6L192.8 351.0L193.2 350.6L193.7 350.8L194.1 352.0L194.6 349.2L195.0 349.0L195.5 349.6L195.9 350.6L196.4 349.6L196.8 349.7L197.3 351.1L197.7 351.7L198.2 351.6L198.6 348.5L199.1 352.4L199.5 350.6L200.0 349.5L200.4 352.9L200.9 350.1L201.3 352.7L201.8 350.5L202.2 350.7L202.7 350.9L203.1 349.7L203.6 352.6L204.0 349.6L204.5 350.6L204.9 351.4L205.4 351.2L205.8 351.9L206.3 351.0L206.7 351.0L207.2 350.8L207.6 349.8L208.1 351.6L208.5 350.0L209.0 351.4L209.4 350.8L209.9 350.2L210.3 351.4L210.8 350.9L211.2 350.9L211.7 350.9L212.1 351.4L212.6 351.0L213.0 351.8L213.5 351.1L213.9 351.0L214.4 350.2L214.8 352.2L215.3 350.8L215.7 352.6L216.2 349.6L216.6 351.7L217.1 351.9L217.5 350.5L218.0 349.5L218.4 351.7L218.9 351.2L219.3 352.3L219.8 352.0L220.2 352.0L220.7 350.6L221.1 351.6L221.6 350.6L222.0 352.1L222.5 351.8L222.9 350.8L223.4 351.7L223.8 352.7L224.3 351.4L224.7 350.6L225.2 350.7L225.6 349.9L226.1 350.6L226.5 350.8L227.0 353.6L227.4 351.0L227.9 351.0L228.3 352.4L228.8 350.0L229.2 351.7L229.7 352.8L230.1 353.0L230.6 351.7L231.0 352.1L231.5 352.9L231.9 352.3L232.4 351.0L232.8 351.9L233.3 350.7L233.7 351.2L234.2 350.2L234.6 350.8L235.1 352.1L235.5 351.4L236.0 351.7L236.4 352.5L236.9 351.8L237.3 350.9L237.8 351.0L238.2 351.6L238.7 351.0L239.1 352.3L239.6 352.2L240.0 351.0L240.5 350.2L240.9 352.2L241.4 351.7L241.8 352.1L242.3 350.6L242.7 352.7L243.2 351.3L243.6 352.1L244.1 352.4L244.5 350.8L245.0 352.3L245.4 351.2L245.9 350.9L246.3 352.5L246.8 352.5L247.2 352.2L247.7 351.3L248.1 353.4L248.6 351.3L249.0 350.2L249.5 351.5L249.9 351.3L250.4 352.2L250.8 351.0L251.3 351.9L251.7 353.2L252.2 353.9L252.6 352.9L253.1 352.1L253.5 353.3L254.0 350.7L254.4 350.1L254.9 349.1L255.3 351.4L255.8 352.4L256.2 351.0L256.7 352.3L257.1 352.9L257.6 351.1L258.0 352.5L258.5 353.5L258.9 353.4L259.4 352.8L259.8 354.2L260.3 352.1L260.7 353.9L261.2 353.4L261.6 350.4L262.1 351.2L262.5 351.9L263.0 353.1L263.4 354.2L263.9 353.8L264.3 351.3L264.8 352.8L265.2 351.0L265.7 352.6L266.1 352.8L266.6 351.5L267.0 352.3L267.5 352.8L267.9 352.6L268.4 353.1L268.8 351.5L269.3 353.5L269.7 353.2L270.2 352.1L270.6 351.8L271.1 351.9L271.5 350.3L272.0 351.6L272.4 351.3L272.9 351.0L273.3 350.4L273.8 351.5L274.2 352.1L274.7 352.2L275.1 352.4L275.6 352.0L276.0 353.7L276.5 351.3L276.9 352.5L277.4 352.6L277.8 353.8L278.3 352.0L278.7 354.7L279.2 352.8L279.6 352.8L280.1 351.2L280.5 352.5L281.0 351.7L281.4 351.4L281.9 352.7L282.3 352.2L282.8 351.9L283.2 351.4L283.7 352.2L284.1 352.9L284.6 351.7L285.0 352.6L285.5 353.0L285.9 352.7L286.4 351.1L286.8 353.2L287.3 352.3L287.7 353.4L288.2 353.1L288.6 353.4L289.1 350.3L289.5 352.1L290.0 352.9L290.4 351.5L290.9 353.4L291.3 351.8L291.8 352.3L292.2 353.2L292.7 353.1L293.1 353.0L293.6 350.9L294.0 352.6L294.5 352.7L294.9 351.5L295.4 351.9L295.8 354.2L296.3 354.6L296.7 354.3L297.2 355.1L297.6 355.3L298.1 352.4L298.5 354.5L299.0 353.3L299.4 351.7L299.9 350.6L300.3 352.1L300.8 352.0L301.2 353.0L301.7 353.1L302.1 353.9L302.6 351.2L303.0 351.0L303.5 350.3L303.9 352.5L304.4 353.6L304.8 352.3L305.3 350.2L305.7 351.9L306.2 352.3L306.6 350.8L307.1 351.7L307.5 353.5L308.0 351.8L308.4 351.8L308.9 350.8L309.3 350.3L309.8 351.5L310.2 349.7L310.7 350.6L311.1 353.5L311.6 354.3L312.0 353.2L312.5 351.4L312.9 353.9L313.4 353.4L313.8 352.2L314.3 352.6L314.7 352.4L315.2 351.9L315.6 352.1L316.1 352.1L316.5 354.2L317.0 353.0L317.4 352.9L317.9 354.5L318.3 351.0L318.8 353.3L319.2 353.8L319.7 353.4L320.1 351.8L320.6 353.3L321.0 353.3L321.5 352.3L321.9 351.3L322.4 351.5L322.8 351.7L323.3 352.0L323.7 353.2L324.2 353.0L324.6 351.8L325.1 353.4L325.5 353.0L326.0 353.0L326.4 352.8L326.9 352.8L327.3 352.0L327.8 352.0L328.2 354.2L328.7 354.2L329.1 352.7L329.6 354.1L330.0 352.5L330.5 352.8L330.9 349.8L331.4 351.1L331.8 351.6L332.3 352.5L332.7 353.8L333.2 351.8L333.6 352.2L334.1 351.5L334.5 352.5L335.0 351.1L335.4 352.3L335.9 351.7L336.3 352.0L336.8 353.1L337.2 352.5L337.7 351.8L338.1 351.9L338.6 352.1L339.0 353.2L339.5 351.4L339.9 354.0L340.4 353.1L340.8 354.0L341.3 352.4L341.7 352.2L342.2 352.6L342.6 353.5L343.1 353.0L343.5 351.8L344.0 351.2L344.4 351.8L344.9 351.4L345.3 352.9L345.8 353.1L346.2 353.1L346.7 353.0L347.1 352.0L347.6 352.0L348.0 352.6L348.5 351.2L348.9 352.5L349.4 351.7L349.8 352.2L350.3 351.5L350.7 352.4L351.2 351.7L351.6 352.8L352.1 351.7L352.5 352.4L353.0 351.9L353.4 352.3L353.9 352.3L354.3 351.2L354.8 348.5L355.2 350.4L355.7 350.4L356.1 350.4L356.6 351.1L357.0 351.8L357.5 352.8L357.9 353.0L358.4 352.2L358.8 352.3L359.3 349.2L359.7 352.5L360.2 352.8L360.6 350.6L361.1 352.6L361.5 351.9L362.0 352.9L362.4 350.8L362.9 353.4L363.3 352.9L363.8 353.4L364.2 352.5L364.7 352.6L365.1 352.3L365.6 352.5L366.0 352.1L366.5 352.9L366.9 353.9L367.4 353.7L367.8 352.9L368.3 353.6L368.7 354.4L369.2 352.9L369.6 353.5L370.1 354.4L370.5 352.7L371.0 351.5L371.4 352.9L371.9 351.8L372.3 352.4L372.8 352.7L373.2 351.7L373.7 353.7L374.1 352.2L374.6 353.6L375.0 352.1L375.5 352.3L375.9 352.6L376.4 352.7L376.8 350.7L377.3 351.8L377.7 352.1L378.2 352.2L378.6 351.3L379.1 351.4L379.5 350.9L380.0 351.6L380.4 351.5L380.9 353.6L381.3 351.8L381.8 353.5L382.2 352.0L382.7 352.1L383.1 352.2L383.6 351.5L384.0 350.9L384.5 351.8L384.9 351.4L385.4 353.0L385.8 351.2L386.3 352.2L386.7 352.7L387.2 352.4L387.6 352.7L388.1 351.6L388.5 351.9L389.0 351.8L389.4 351.2L389.9 353.1L390.3 352.6L390.8 352.7L391.2 351.7L391.7 352.0L392.1 352.5L392.6 352.1L393.0 352.7L393.5 353.0L393.9 351.0L394.4 351.6L394.8 353.2L395.3 353.1L395.7 351.8L396.2 353.0L396.6 350.8L397.1 354.1L397.5 352.6L398.0 349.8L398.4 353.1L398.9 351.5L399.3 353.2L399.8 352.9L400.2 353.3L400.7 352.7L401.1 353.0L401.6 352.6L402.0 353.1L402.5 352.1L402.9 352.5L403.4 352.6L403.8 352.1L404.3 352.6L404.7 353.2L405.2 353.1L405.6 354.7L406.1 352.9L406.5 353.6L407.0 351.2L407.4 351.1L407.9 350.8L408.3 352.3L408.8 353.9L409.2 352.8L409.7 353.6L410.1 351.2L410.6 352.0L411.0 354.1L411.5 353.9L411.9 351.8L412.4 353.3L412.8 353.3L413.3 353.8L413.7 351.9L414.2 352.2L414.6 350.8L415.1 351.3L415.5 353.2L416.0 353.1L416.4 351.0L416.9 350.6L417.3 352.2L417.8 352.0L418.2 352.2L418.7 351.5L419.1 352.1L419.6 352.2L420.0 352.8L420.5 353.4L420.9 354.2L421.4 352.6L421.8 351.8L422.3 353.6L422.7 351.0L423.2 352.6L423.6 350.5L424.1 353.0L424.5 353.2L425.0 352.4L425.4 352.8L425.9 353.4L426.3 351.8L426.8 353.2L427.2 354.9L427.7 353.3L428.1 352.7L428.6 352.9L429.0 351.3L429.5 351.4L429.9 351.8L430.4 352.2L430.8 351.5L431.3 352.5L431.7 352.6L432.2 350.7L432.6 351.5L433.1 351.3L433.5 350.8L434.0 351.1L434.4 351.9L434.9 353.2L435.3 352.7L435.8 352.8L436.2 352.4L436.7 351.5L437.1 350.1L437.6 352.2L438.0 352.6L438.5 352.2L438.9 353.2L439.4 353.6L439.8 352.2L440.3 351.7L440.7 353.1L441.2 352.1L441.6 351.9L442.1 351.6L442.5 351.7L443.0 353.7L443.4 353.4L443.9 353.3L444.3 352.2L444.8 352.9L445.2 351.9L445.7 352.7L446.1 352.1L446.6 353.4L447.0 352.1L447.5 351.6L447.9 352.7L448.4 353.2L448.8 352.3L449.3 352.7L449.7 352.1L450.2 351.9L450.6 352.1L451.1 352.9L451.5 353.3L452.0 351.5L452.4 353.4L452.9 351.6L453.3 351.0L453.8 353.1L454.2 352.8L454.7 353.2L455.1 352.6L455.6 351.5L456.0 353.4L456.5 350.5L456.9 352.0L457.4 351.3L457.8 351.0L458.3 351.9L458.7 353.1L459.2 353.2L459.6 353.4L460.1 351.8L460.5 353.0L461.0 353.4L461.4 352.1L461.9 352.4L462.3 352.2L462.8 352.9L463.2 353.1L463.7 355.0L464.1 353.3L464.6 353.5L465.0 353.0L465.5 351.3L465.9 352.1L466.4 352.5L466.8 352.0L467.3 353.3L467.7 352.9L468.2 353.1L468.6 353.1L469.1 354.2L469.5 351.8L470.0 354.5L470.4 352.7L470.9 352.5L471.3 353.9L471.8 353.8L472.2 352.9L472.7 353.5L473.1 351.0L473.6 353.4L474.0 351.8L474.5 351.5L474.9 350.4L475.4 351.2L475.8 351.0L476.3 351.6L476.7 352.9L477.2 353.5L477.6 352.8L478.1 354.1L478.5 353.5L479.0 352.1L479.4 352.1L479.9 353.4L480.3 351.4L480.8 353.3L481.2 352.6L481.7 353.7L482.1 353.7L482.6 352.3L483.0 354.1L483.5 353.3L483.9 352.3L484.4 352.7L484.8 351.9L485.3 352.4L485.7 353.6L486.2 353.7L486.6 353.0L487.1 354.0L487.5 352.6L488.0 353.5L488.4 353.0L488.9 354.4L489.3 351.8L489.8 353.2L490.2 352.3L490.7 352.1L491.1 351.6L491.6 353.1L492.0 351.6L492.5 350.9L492.9 352.1L493.4 353.6L493.8 352.2L494.3 351.8L494.7 353.3L495.2 351.6L495.6 353.0L496.1 353.1L496.5 352.6L497.0 353.2L497.4 352.8L497.9 353.8L498.3 353.6L498.8 354.4L499.2 353.8L499.7 352.1L500.1 353.2L500.6 352.1L501.0 351.5L501.5 352.7L501.9 353.0L502.4 353.4L502.8 351.1L503.3 352.9L503.7 352.7L504.2 352.8L504.6 352.0L505.1 352.8L505.5 351.4L506.0 353.4L506.4 353.6L506.9 351.9L507.3 350.8L507.8 353.0L508.2 350.6L508.7 352.3L509.1 353.9L509.6 353.9L510.0 354.5L510.5 351.3L510.9 352.8L511.4 353.3L511.8 351.8L512.3 351.9L512.7 353.3L513.2 352.5L513.6 352.0L514.1 352.9L514.5 351.9L515.0 351.7L515.4 351.8L515.9 353.1L516.3 351.9L516.8 351.2L517.2 352.8L517.7 352.3L518.1 351.1L518.6 351.4L519.0 353.2L519.5 351.0L519.9 353.5L520.4 353.3L520.8 351.6L521.3 349.7L521.7 351.6L522.2 350.4L522.6 352.4L523.1 350.3L523.5 352.8L524.0 353.7L524.4 352.5L524.9 352.3L525.3 352.3L525.8 352.3L526.2 354.0L526.7 352.5L527.1 351.9L527.6 351.9L528.0 352.5L528.5 352.5L528.9 352.6L529.4 351.8L529.8 352.3L530.3 351.4L530.7 353.2L531.2 352.6L531.6 352.2L532.1 353.0L532.5 353.0L533.0 352.6L533.4 352.2L533.9 352.7L534.3 352.9L534.8 352.2L535.2 352.8L535.7 351.9L536.1 352.9L536.6 351.3L537.0 353.3L537.5 351.6L537.9 353.6L538.4 352.5L538.8 353.7L539.3 353.7L539.7 351.5L540.2 353.7L540.6 353.2L541.1 353.3L541.5 352.3L542.0 352.8L542.4 352.8L542.9 353.1L543.3 351.9L543.8 352.5L544.2 351.8L544.7 351.4L545.1 351.5L545.6 351.1L546.0 352.4L546.5 351.4L546.9 352.1L547.4 351.6L547.8 352.3L548.3 353.5L548.7 354.1L549.2 353.6L549.6 352.2L550.1 351.9L550.5 352.4L551.0 353.2L551.4 352.7L551.9 352.4L552.3 352.8L552.8 352.6L553.2 354.4L553.7 354.1L554.1 351.0L554.6 352.1L555.0 351.8L555.5 354.2L555.9 354.3L556.4 353.0L556.8 351.6L557.3 351.7L557.7 352.5L558.2 350.8L558.6 352.0L559.1 353.6L559.5 352.1L560.0 351.2L560.4 352.2L560.9 350.3L561.3 352.9L561.8 351.6L562.2 354.4L562.7 352.7L563.1 351.2L563.6 352.7L564.0 352.8L564.5 352.3L564.9 352.4L565.4 352.2L565.8 353.6L566.3 352.3L566.7 351.9L567.2 351.1L567.6 351.1L568.1 350.6L568.5 352.0L569.0 353.0L569.4 353.1L569.9 350.6L570.3 351.3L570.8 353.7L571.2 354.3L571.7 354.2L572.1 352.3L572.6 352.3L573.0 352.3L573.5 351.9L573.9 351.9L574.4 350.8L574.8 352.5M666.6 351.6L667.1 351.0L667.5 351.9L668.0 349.6L668.4 351.4L668.9 352.4L669.3 351.0L669.8 351.5L670.2 350.6L670.7 351.9L671.1 350.0L671.6 350.6L672.0 352.6L672.5 351.5L672.9 352.2L673.4 352.3L673.8 351.1L674.3 352.2L674.7 350.1L675.2 350.5L675.6 352.1L676.1 352.5L676.5 350.2L677.0 351.4L677.4 351.6L677.9 351.2L678.3 350.9L678.8 351.4L679.2 351.2L679.7 350.5L680.1 351.2L680.6 353.0L681.0 350.9L681.5 350.9L681.9 351.7L682.4 352.3L682.8 352.2L683.3 352.1L683.7 351.5L684.2 352.2L684.6 351.4L685.1 350.6L685.5 350.1L686.0 350.8L686.4 350.2L686.9 351.9L687.3 351.7L687.8 351.4L688.2 351.0L688.7 350.4L689.1 351.7L689.6 351.4L690.0 350.7L690.5 349.8L690.9 350.6L691.4 351.0L691.8 352.2L692.3 350.4L692.7 351.7L693.2 350.4L693.6 350.7L694.1 350.1L694.5 349.7L695.0 351.3L695.4 351.0L695.9 351.1L696.3 349.4L696.8 350.9L697.2 350.8L697.7 350.2L698.1 350.9L698.6 349.2L699.0 350.4L699.5 351.2L699.9 350.7L700.4 350.2L700.8 351.5L701.3 350.5L701.7 350.6L702.2 348.6L702.6 350.0L703.1 349.9L703.5 348.9L704.0 349.6L704.4 350.6L704.9 350.9L705.3 349.0L705.8 348.8L706.2 349.6L706.7 350.1L707.1 350.1L707.6 351.5L708.0 349.1L708.5 350.9L708.9 348.8L709.4 350.9L709.8 348.1L710.3 350.8L710.7 350.4L711.2 348.0L711.6 351.1L712.1 349.4L712.5 351.8L713.0 350.7L713.4 351.4L713.9 352.1L714.3 350.5L714.8 350.2L715.2 352.5L715.7 350.8L716.1 349.3L716.6 350.5L717.0 349.2L717.5 350.7L717.9 350.0L718.4 349.9L718.8 350.6L719.3 348.8L719.7 350.5L720.2 351.4L720.6 350.8L721.1 351.0L721.5 349.9L722.0 349.8L722.4 351.4L722.9 351.8L723.3 349.3L723.8 349.9L724.2 351.5L724.7 346.9L725.1 349.0L725.6 349.1L726.0 349.1L726.5 351.6L726.9 350.6L727.4 349.1L727.8 349.9L728.3 350.4L728.7 349.7L729.2 349.8L729.6 350.2L730.1 350.5L730.5 349.9L731.0 349.6L731.4 349.1L731.9 349.0L732.3 349.3L732.8 348.6L733.2 348.0L733.7 349.3L734.1 348.8L734.6 350.5L735.0 349.9L735.5 350.0L735.9 348.7L736.4 349.9L736.8 350.7L737.3 349.8L737.7 349.7L738.2 349.2L738.6 350.2L739.1 348.3L739.5 348.4L740.0 349.0L740.4 350.3L740.9 349.6L741.3 348.8L741.8 348.3L742.2 350.1L742.7 350.0L743.1 350.0L743.6 350.2L744.0 348.3L744.5 347.5L744.9 350.3L745.4 348.5L745.8 348.5L746.3 349.3L746.7 347.9L747.2 349.5L747.6 350.0L748.1 349.7L748.5 349.8L749.0 349.2L749.4 347.9L749.9 348.8L750.3 348.2L750.8 348.3L751.2 349.2L751.7 349.2L752.1 348.3L752.6 350.3L753.0 347.8L753.5 347.9L753.9 348.4L754.4 348.3L754.8 349.2L755.3 349.5L755.7 348.5L756.2 348.4L756.6 348.0L757.1 347.6L757.5 348.5L758.0 347.9L758.4 348.4L758.9 348.2L759.3 348.6L759.8 348.5L760.2 347.1L760.7 348.2L761.1 348.5L761.6 348.3L762.0 347.2L762.5 345.6L762.9 348.1L763.4 348.1L763.8 348.1L764.3 348.8L764.7 348.3L765.2 349.1L765.6 348.5L766.1 347.1L766.5 349.1L767.0 347.8L767.4 350.0L767.9 347.5L768.3 350.4L768.8 350.2L769.2 350.0L769.7 347.5L770.1 348.0L770.6 348.9L771.0 347.1L771.5 348.3L771.9 348.5L772.4 348.3L772.8 348.8L773.3 345.9L773.7 348.0L774.2 349.1L774.6 349.1L775.1 348.4L775.5 348.3L776.0 349.2L776.4 348.6L776.9 347.8L777.3 348.2L777.8 348.2L778.2 347.3L778.7 348.6L779.1 347.1L779.6 348.6L780.0 346.9L780.5 347.6L780.9 346.9L781.4 347.8L781.8 347.5L782.3 347.3L782.7 347.8L783.2 347.5L783.6 349.2L784.1 347.9L784.5 346.7L785.0 347.8L785.4 347.6L785.9 347.4L786.3 347.6L786.8 348.2L787.2 348.0L787.7 348.7L788.1 347.1L788.6 348.7L789.0 346.4L789.5 346.9L789.9 347.6L790.4 345.8L790.8 346.8L791.3 345.3L791.7 345.7L792.2 345.8L792.6 348.8L793.1 348.8L793.5 346.4L794.0 348.5L794.4 348.8L794.9 348.6L795.3 348.1L795.8 348.1L796.2 347.9L796.7 349.0L797.1 347.2L797.6 349.2L798.0 347.9L798.5 349.0L798.9 347.6L799.4 349.1L799.8 347.8L800.3 346.7L800.7 348.9L801.2 347.2L801.6 348.4L802.1 348.3L802.5 346.6L803.0 348.2L803.4 345.6L803.9 347.6L804.3 346.5L804.8 345.9L805.2 347.3L805.7 348.4L806.1 346.3L806.6 346.8L807.0 346.9L807.5 347.4L807.9 349.1L808.4 345.7L808.8 345.1L809.3 344.6L809.7 348.1L810.2 347.3L810.6 347.5L811.1 345.5L811.5 343.0L812.0 345.6L812.4 345.2L812.9 345.2L813.3 344.8L813.8 346.5L814.2 345.6L814.7 346.1L815.1 345.9L815.6 346.5L816.0 346.3L816.5 344.6L816.9 345.1L817.4 346.5L817.8 345.5L818.3 346.9L818.7 345.0L819.2 345.3L819.6 346.4L820.1 345.7L820.5 346.6L821.0 345.2L821.4 346.1L821.9 346.0L822.3 345.4L822.8 345.1L823.2 345.8L823.7 347.4L824.1 346.1L824.6 345.6L825.0 345.1L825.5 345.5L825.9 346.3L826.4 345.2L826.8 345.7L827.3 343.8L827.7 345.8L828.2 344.0L828.6 345.4L829.1 345.5L829.5 344.7L830.0 345.5L830.4 345.4L830.9 343.5L831.3 342.9L831.8 343.8L832.2 343.0L832.7 344.7L833.1 345.6L833.6 346.2L834.0 347.2L834.5 344.8L834.9 343.7L835.4 346.1L835.8 343.8L836.3 342.4L836.7 343.5L837.2 338.8L837.6 338.9L838.1 337.7L838.5 338.1L839.0 336.1L839.4 337.5L839.9 336.2L840.3 334.1L840.8 335.0L841.2 335.3L841.7 335.6L842.1 333.9L842.6 333.9L843.0 334.6L843.5 335.1L843.9 335.2L844.4 335.1L844.8 333.9L845.3 334.7L845.7 332.6L846.2 333.9L846.6 334.7L847.1 335.7L847.5 335.2L848.0 333.9L848.4 333.9L848.9 335.3L849.3 335.0L849.8 333.9L850.2 331.8L850.7 334.7L851.1 333.1L851.6 334.5L852.0 335.1L852.5 334.8L852.9 335.4L853.4 336.2L853.8 335.3L854.3 331.5L854.7 332.8L855.2 333.5L855.6 332.4L856.1 333.9L856.5 335.9L857.0 334.2L857.4 333.2L857.9 333.6L858.3 334.4L858.8 332.1L859.2 332.9L859.7 332.4L860.1 331.4L860.6 330.4L861.0 332.4L861.5 329.9L861.9 334.1L862.4 332.8L862.8 331.4L863.3 332.5L863.7 332.1L864.2 331.4L864.6 332.5L865.1 331.1L865.5 331.0L866.0 330.0L866.4 330.7L866.9 331.2L867.3 333.4L867.8 331.6L868.2 332.0L868.7 332.3L869.1 331.4L869.6 329.5L870.0 330.5L870.5 331.7L870.9 328.1L871.4 327.8L871.8 329.6L872.3 329.2L872.7 331.1L873.2 330.9L873.6 331.5L874.1 330.6L874.5 330.3L875.0 330.9L875.4 331.1L875.9 327.8L876.3 331.0L876.8 330.0L877.2 331.3L877.7 329.7L878.1 328.0L878.6 328.6L879.0 328.0L879.5 327.9L879.9 331.5L880.4 327.4L880.8 329.5L881.3 329.3L881.7 327.2L882.2 327.2L882.6 326.6L883.1 328.3L883.5 330.2L884.0 326.7L884.4 327.2L884.9 328.3L885.3 328.4L885.8 329.4L886.2 328.0L886.7 329.2L887.1 327.3L887.6 326.4L888.0 327.1L888.5 329.7L888.9 328.9L889.4 328.4L889.8 326.9L890.3 328.9L890.7 329.5L891.2 327.7L891.6 327.5L892.1 329.2L892.5 326.6L893.0 325.8L893.4 326.7L893.9 325.2L894.3 328.6L894.8 324.9L895.2 326.6L895.7 325.3L896.1 325.0L896.6 324.7L897.0 325.6L897.5 326.4L897.9 325.5L898.4 327.1L898.8 327.8L899.3 327.1L899.7 327.6L900.2 327.8L900.6 323.8L901.1 323.1L901.5 327.3L902.0 323.8L902.4 324.4L902.9 324.5L903.3 324.3L903.8 326.6L904.2 327.4L904.7 325.2L905.1 326.0L905.6 326.0L906.0 325.4L906.5 326.9L906.9 323.7L907.4 324.4L907.8 325.0L908.3 326.7L908.7 325.7L909.2 325.4L909.6 327.6L910.1 326.1L910.5 324.4L911.0 324.5L911.4 323.1L911.9 325.0L912.3 324.7L912.8 323.1L913.2 323.9L913.7 326.2L914.1 325.9L914.6 325.0L915.0 325.5L915.5 324.0L915.9 322.8L916.4 325.2L916.8 323.7L917.3 325.2L917.7 323.8L918.2 323.0L918.6 324.6L919.1 326.3L919.5 326.3L920.0 321.9L920.4 323.3L920.9 325.9L921.3 322.0L921.8 326.3L922.2 327.0L922.7 326.4L923.1 327.4L923.6 322.1L924.0 320.3L924.5 326.7L924.9 324.7L925.4 325.5L925.8 324.1L926.3 321.6L926.7 322.4L927.2 323.4L927.6 322.4L928.1 322.8L928.5 324.0L929.0 323.9L929.4 327.6L929.9 328.0L930.3 325.1L930.8 323.1L931.2 325.5L931.7 322.5L932.1 325.8L932.6 322.6L933.0 325.6L933.5 324.1L933.9 324.6L934.4 326.2L934.8 326.2L935.3 325.1L935.7 323.0L936.2 324.3L936.6 323.9L937.1 323.6L937.5 325.2L938.0 323.2L938.4 324.5L938.9 327.6L939.3 325.0L939.8 325.7L940.2 326.3L940.7 326.2L941.1 327.5L941.6 326.3L942.0 326.0L942.5 323.9L942.9 325.7L943.4 325.0L943.8 326.5L944.3 325.8L944.7 324.3L945.2 324.1L945.6 325.8L946.1 324.1L946.5 325.9L947.0 327.9L947.4 328.0L947.9 322.9L948.3 322.2L948.8 326.6L949.2 326.5L949.7 324.1L950.1 326.2L950.6 326.9L951.0 327.4L951.5 325.8L951.9 328.2L952.4 327.9L952.8 326.0L953.3 325.2L953.7 325.9L954.2 326.6L954.6 325.9L955.1 324.4L955.5 327.0L956.0 326.4L956.4 325.8L956.9 324.1L957.3 325.3L957.8 325.8L958.2 325.1L958.7 327.0L959.1 327.7L959.6 325.0L960.0 325.7L960.5 326.0L960.9 327.1L961.4 326.1L961.8 326.2L962.3 324.7L962.7 326.6L963.2 327.3L963.6 325.9L964.1 325.8L964.5 325.9L965.0 325.8L965.4 326.8L965.9 327.3L966.3 327.9L966.8 326.6L967.2 326.9L967.7 325.8L968.1 326.0L968.6 325.7L969.0 326.7L969.5 327.9L969.9 326.3L970.4 328.2L970.8 327.4L971.3 327.9L971.7 326.7L972.2 326.3L972.6 327.1L973.1 326.2L973.5 326.6L974.0 325.3L974.4 325.5L974.9 325.9L975.3 327.6L975.8 328.8L976.2 326.1L976.7 326.6L977.1 328.3L977.6 328.3L978.0 326.4L978.5 326.4L978.9 325.4L979.4 329.7L979.8 327.6L980.3 324.0L980.7 327.6L981.2 324.6L981.6 324.7L982.1 326.4L982.5 328.1L983.0 325.3L983.4 327.2L983.9 324.6L984.3 327.8L984.8 327.7L985.2 324.5L985.7 324.5L986.0 326.2L986.1 326.0L986.6 327.7L987.0 327.8L987.5 326.0L987.9 327.2L988.4 327.0L988.8 327.0L989.3 328.2L989.7 328.4L990.2 328.1L990.6 326.3L991.1 327.3L991.5 325.6L992.0 325.2L992.4 326.5L992.9 326.6L993.3 325.2L993.8 326.6L994.2 327.7L994.7 328.6L995.1 329.0L995.6 328.0L996.0 326.5L996.5 326.0L996.9 325.2L997.4 324.8L997.8 324.8L998.3 326.9L998.7 325.6L999.2 325.3L999.6 329.2L1000.1 328.7L1000.5 326.8L1001.0 328.2L1001.4 327.8L1001.9 325.6L1002.3 328.4L1002.8 327.1L1003.2 326.8L1003.7 328.5L1004.1 329.2L1004.6 327.8L1005.0 328.6L1005.5 326.4L1005.9 328.4L1006.4 327.2L1006.8 325.4L1007.3 325.9L1007.7 327.5L1008.2 325.7L1008.6 328.1L1009.1 328.7L1009.5 326.4L1010.0 326.2L1010.4 327.5L1010.9 328.1L1011.3 326.7L1011.8 327.9L1012.2 326.9L1012.7 326.8L1013.1 327.5L1013.6 326.5L1014.0 328.0L1014.5 328.6L1014.9 325.3L1015.4 328.3L1015.8 324.8L1016.3 324.3L1016.7 326.8L1017.2 328.5L1017.6 326.1L1018.1 327.5L1018.5 326.8L1019.0 328.2L1019.4 327.3L1019.9 326.9L1020.3 327.2L1020.8 328.3L1021.2 328.7L1021.7 329.1L1022.1 326.7L1022.6 326.6L1023.0 324.3L1023.5 326.0L1023.9 326.2L1024.4 328.1L1024.8 329.0L1025.3 329.9L1025.7 327.8L1026.2 326.1L1026.6 327.0L1027.1 327.0L1027.5 325.3L1028.0 326.5L1028.4 326.2L1028.9 326.8L1029.3 326.2L1029.8 326.5L1030.2 326.3L1030.7 326.6L1031.1 326.4L1031.6 326.3L1032.0 327.7L1032.5 326.6L1032.9 326.9L1033.4 327.0L1033.8 324.5L1034.3 327.6L1034.7 327.8L1035.2 325.3L1035.6 325.5L1036.1 327.8L1036.5 327.1L1037.0 326.0L1037.4 327.6L1037.9 325.2L1038.3 327.7L1038.8 325.0L1039.2 324.6L1039.7 323.9L1040.1 326.7L1040.6 327.3L1041.0 327.4L1041.5 326.8L1041.9 325.0L1042.4 326.9L1042.8 325.7L1043.3 326.0L1043.7 326.3L1044.2 326.1L1044.6 326.9L1045.1 327.5L1045.5 327.9L1046.0 329.9L1046.4 328.1L1046.9 328.8L1047.3 328.5L1047.8 328.5L1048.2 329.2L1048.7 327.2L1049.1 326.3L1049.6 330.4L1050.0 326.5L1050.5 323.9L1050.9 327.9L1051.4 328.4L1051.8 326.3L1052.3 328.9L1052.7 327.1L1053.2 327.2L1053.6 329.2L1054.1 328.5L1054.5 327.8L1055.0 325.4L1055.4 326.0L1055.9 328.7L1056.3 328.6L1056.8 328.6L1057.2 328.0L1057.7 325.4L1058.1 325.8L1058.6 324.9L1059.0 329.8L1059.5 329.2L1059.9 328.0L1060.4 326.7L1060.8 331.2L1061.3 325.9L1061.7 328.6L1062.2 329.0L1062.6 327.2L1063.1 325.8L1063.5 325.1L1064.0 325.3L1064.4 326.3L1064.9 328.6L1065.3 327.3L1065.8 328.5L1066.2 328.7L1066.7 328.2L1067.1 327.3L1067.6 328.8L1068.0 325.3L1068.5 328.6L1068.9 327.5L1069.4 324.8L1069.8 326.2L1070.3 326.3L1070.7 326.5L1071.2 326.4L1071.6 326.8L1072.1 326.9L1072.5 327.5L1073.0 328.5L1073.4 326.4L1073.9 329.6L1074.3 327.2L1074.8 329.2L1075.2 327.1L1075.7 326.1L1076.1 325.8L1076.6 325.2L1077.0 328.1L1077.5 327.1L1077.9 328.7L1078.4 328.0L1078.8 326.0L1079.3 328.3L1079.7 329.3L1080.2 327.7L1080.6 328.6L1081.1 327.1L1081.5 329.4L1082.0 327.0L1082.4 329.0L1082.9 327.0L1083.3 328.8L1083.8 328.2L1084.2 326.8L1084.7 327.3L1085.1 326.2L1085.6 329.9L1086.0 326.5L1086.5 329.3L1086.9 326.4L1087.4 325.8L1087.8 328.6L1088.3 328.5L1088.7 326.8L1089.2 327.4L1089.6 325.6L1090.1 326.2L1090.5 326.7L1091.0 327.5L1091.4 327.5L1091.9 328.1L1092.3 327.6L1092.8 326.6L1093.2 327.0L1093.7 326.4L1094.1 328.8L1094.6 327.9L1095.0 326.7L1095.5 326.2L1095.9 327.4L1096.4 326.9L1096.8 326.7L1097.3 327.2L1097.7 325.9L1098.2 325.4L1098.6 326.6L1099.1 327.7L1099.5 326.8L1100.0 327.6L1100.4 326.9L1100.9 327.9L1101.3 328.6L1101.8 327.7L1102.2 326.8L1102.7 325.8L1103.1 327.3L1103.6 327.7L1104.0 327.6L1104.5 326.5L1104.9 327.1L1105.4 328.3L1105.8 327.9L1106.3 328.8L1106.7 328.4L1107.2 328.4L1107.6 326.0L1108.1 327.1L1108.5 327.2L1109.0 327.4L1109.4 326.9L1109.9 325.9L1110.3 325.8L1110.8 327.7L1111.2 328.5L1111.7 328.9L1112.1 327.3L1112.6 329.3L1113.0 326.8L1113.5 326.9L1113.9 327.8L1114.4 327.8L1114.8 329.4L1115.3 327.0L1115.7 327.1L1116.2 325.0L1116.6 326.4L1117.1 329.0L1117.5 328.0L1118.0 326.1L1118.4 329.2L1118.9 325.2L1119.3 324.9L1119.8 329.2L1120.2 327.9L1120.7 327.7L1121.1 327.1L1121.6 325.8L1122.0 326.7L1122.5 328.4L1122.9 325.6L1123.4 326.2L1123.8 326.7L1124.3 324.8L1124.7 326.1L1125.2 327.7L1125.6 328.8L1126.1 327.9L1126.5 328.9L1127.0 328.2L1127.4 328.7L1127.9 328.2L1128.3 327.5L1128.8 328.2L1129.2 326.6L1129.7 328.7L1130.1 325.7L1130.6 327.0L1131.0 326.3L1131.5 327.4L1131.9 326.7L1132.4 329.0L1132.8 327.0L1133.3 327.0L1133.7 327.3L1134.2 329.4L1134.6 325.7L1135.1 326.4L1135.5 327.1L1136.0 328.0L1136.4 327.2L1136.9 328.0L1137.3 328.0L1137.8 328.2L1138.2 328.0L1138.7 327.5L1139.1 324.1L1139.6 326.0L1140.0 327.2L1140.5 326.7L1140.9 328.2L1141.4 328.8L1141.8 329.0L1142.3 325.9L1142.7 328.7L1143.2 329.5L1143.6 328.4L1144.1 327.7L1144.5 330.5L1145.0 326.3L1145.4 329.3L1145.9 325.8L1146.3 328.7L1146.8 328.6L1147.2 328.5L1147.7 326.8L1148.1 328.4L1148.6 326.7L1149.0 329.1L1149.5 327.1L1149.9 326.3L1150.4 327.9L1150.8 326.1L1151.3 328.1L1151.7 327.6L1152.2 328.3L1152.6 327.9L1153.1 326.7L1153.5 328.3L1154.0 327.2L1154.4 327.0L1154.9 327.6L1155.3 329.1L1155.8 328.8L1156.2 326.8L1156.7 326.6L1157.1 324.8L1157.6 327.2L1158.0 328.0L1158.5 327.2L1158.9 329.6L1159.4 328.2L1159.8 328.4L1160.3 328.8L1160.7 328.1L1161.2 325.2L1161.6 327.5L1162.1 325.8L1162.5 328.1L1163.0 326.3L1163.4 324.5L1163.9 324.1L1164.3 328.2L1164.8 325.0L1165.2 323.8L1165.7 328.7L1166.1 327.4L1166.6 328.3L1167.0 327.3L1167.5 326.1L1167.9 326.9L1168.4 326.6L1168.8 325.4L1169.3 325.0L1169.7 326.4L1170.2 326.2L1170.6 328.2L1171.1 327.8L1171.5 328.4L1172.0 327.1L1172.4 328.7L1172.9 328.8L1173.3 327.9L1173.8 328.6L1174.2 328.2L1174.7 327.9L1175.1 327.7L1175.6 326.4L1176.0 327.3L1176.5 326.9L1176.9 328.9L1177.4 326.7L1177.8 328.0L1178.3 325.9L1178.7 326.1" stroke="#0a5ee0" stroke-width="3.6"/>
<path d="M574.4 350.8L574.8 352.5L575.3 352.5L575.7 352.7L576.2 352.7L576.6 352.2L577.1 352.3L577.5 352.2L578.0 352.6L578.4 352.2L578.9 352.3L579.3 352.5L579.8 352.5L580.2 352.3L580.7 352.7L581.1 352.9L581.6 352.8L582.0 352.7L582.5 353.1L582.9 352.6L583.4 352.4L583.8 352.9L584.3 352.6L584.7 353.3L585.2 352.7L585.6 353.0L586.1 353.1L586.5 353.2L587.0 352.7L587.4 352.5L587.9 352.5L588.3 352.1L588.8 352.2L589.2 352.5L589.7 352.6L590.1 352.4L590.6 352.9L591.0 352.8L591.5 352.3L591.9 352.2L592.4 352.4L592.8 352.8L593.3 352.5L593.7 352.7L594.2 352.8L594.6 352.8L595.1 352.4L595.5 352.5L596.0 352.7L596.4 352.6L596.9 352.0L597.3 352.4L597.8 352.7L598.2 352.2L598.7 352.5L599.1 352.6L599.6 351.9L600.0 352.7L600.5 352.6L600.9 352.5L601.4 352.2L601.8 352.5L602.3 352.6L602.7 351.9L603.2 352.4L603.6 352.3L604.1 352.2L604.5 352.3L605.0 352.2L605.4 352.4L605.9 352.4L606.3 352.3L606.8 351.9L607.2 352.0L607.7 352.0L608.1 351.8L608.6 352.2L609.0 352.2L609.5 352.5L609.9 352.5L610.4 351.9L610.8 352.4L611.3 352.5L611.7 351.9L612.2 352.0L612.6 351.7L613.1 352.1L613.5 351.8L614.0 352.3L614.4 351.8L614.9 351.9L615.3 352.1L615.8 352.0L616.2 351.8L616.7 351.9L617.1 351.9L617.6 352.3L618.0 352.2L618.5 352.1L618.9 352.2L619.4 352.4L619.8 352.2L620.3 352.5L620.7 352.4L621.2 351.8L621.6 352.0L622.1 352.2L622.5 351.7L623.0 351.7L623.4 351.9L623.9 352.3L624.3 352.2L624.8 352.0L625.2 352.4L625.7 352.2L626.1 352.1L626.6 351.7L627.0 352.0L627.5 352.2L627.9 352.0L628.4 352.1L628.8 352.0L629.3 352.3L629.7 352.2L630.2 352.0L630.6 352.4L631.1 351.8L631.5 352.1L632.0 351.9L632.4 352.4L632.9 351.9L633.3 352.0L633.8 352.5L634.2 352.0L634.7 352.2L635.1 352.4L635.6 351.9L636.0 352.3L636.5 352.2L636.9 352.1L637.4 351.7L637.8 351.9L638.3 351.9L638.7 351.4L639.2 351.5L639.6 351.7L640.1 351.8L640.5 351.6L641.0 351.5L641.4 351.9L641.9 351.7L642.3 352.1L642.8 352.0L643.2 352.1L643.7 352.1L644.1 351.9L644.6 351.5L645.0 341.4L645.5 307.0L645.9 296.4L645.9 295.9L646.4 307.5L646.8 342.2L647.3 349.6L647.7 349.9L648.2 350.0L648.6 350.6L649.1 351.1L649.5 351.2L650.0 350.7L650.4 351.0L650.9 351.6L651.3 351.0L651.8 351.3L652.2 351.0L652.7 351.4L653.1 351.1L653.6 352.1L654.0 351.1L654.5 351.4L654.9 351.9L655.4 351.1L655.8 351.6L656.3 351.7L656.7 351.2L657.2 351.8L657.6 351.7L658.1 351.5L658.5 352.0L659.0 351.6L659.4 351.4L659.9 351.8L660.3 351.4L660.8 351.8L661.2 351.9L661.7 352.0L662.1 351.8L662.6 352.0L663.0 351.7L663.5 351.2L663.9 351.4L664.4 351.6L664.8 351.2L665.3 351.5L665.7 352.0L666.2 352.1L666.6 351.6L667.1 351.0" stroke="#0a5ee0" stroke-width="3.3"/>
<line x1="138.2" y1="248.2" x2="138.2" y2="343.2" stroke="#0a5ee0" stroke-width="3.1" stroke-linecap="butt"/>
<line x1="645.9" y1="297.3" x2="645.9" y2="350.6" stroke="#0a5ee0" stroke-width="3.1" stroke-linecap="butt"/>
<path d="M83.4 245.7L83.8 246.7L84.3 247.3L84.8 244.8L85.2 245.8L85.7 247.8L86.1 245.3L86.6 245.6L87.0 248.3L87.5 247.9L87.9 247.0L88.4 246.8L88.8 247.2L89.3 246.5L89.7 244.5L90.2 235.3L90.6 224.9L90.8 223.8L91.1 225.3L91.5 237.0L92.0 248.0L92.0 245.7L92.4 247.1L92.9 246.7L93.3 246.1L93.8 246.3L94.2 245.7L94.7 246.9L95.1 246.9L95.6 245.8L96.0 246.5L96.5 246.1L96.9 246.0L97.4 248.2L97.8 246.8L97.8 245.6L98.3 247.4L98.7 246.3L99.2 248.5L99.6 246.4L100.1 245.8L100.5 246.3L101.0 246.3L101.4 246.2L101.9 247.4L102.3 247.0L102.8 246.2L103.2 245.0L103.7 246.0L104.1 248.1L104.6 246.8L105.0 246.9L105.5 245.5L105.9 245.5L106.4 246.9L106.8 246.3L107.3 246.2L107.7 246.3L108.2 245.8L108.6 246.4L109.1 246.1L109.5 248.2L110.0 247.6L110.4 246.3L110.9 246.0L111.3 245.9L111.8 245.0L112.2 246.1L112.7 247.0L113.1 245.6L113.6 246.3L114.0 246.7L114.5 246.2L114.9 246.1L115.4 246.8L115.8 248.4L116.3 247.2L116.7 248.7L117.2 246.0L117.6 246.4L118.1 246.3L118.5 248.5L119.0 248.1L119.4 246.3L119.9 246.4L120.3 245.9L120.8 247.4L121.2 246.1L121.7 246.9L122.1 247.7L122.6 247.0L123.0 247.1L123.5 247.0L123.9 246.8L124.4 246.9L124.8 246.9L125.3 247.0L125.7 247.0L126.2 246.3L126.6 246.8L127.1 246.3L127.5 246.6L128.0 247.1L128.4 247.2L128.9 247.1L129.3 246.6L129.8 246.9L130.2 246.8L130.7 247.4L131.1 246.5L131.6 246.4L132.0 246.5L132.5 246.3L132.9 247.2L133.4 247.1L133.8 246.7L134.3 247.1L134.7 246.6L135.2 246.9L135.6 246.5L136.1 246.4L136.5 246.3L137.0 246.1L137.4 229.9L137.9 195.2L138.2 190.1L138.3 190.0L138.8 208.4L139.2 241.7L139.7 247.0L140.1 247.3L140.6 246.8L141.0 246.8L141.5 247.2L141.9 247.7L142.4 247.9L142.8 247.7L143.3 247.1L143.7 248.0L144.2 247.9L144.6 247.3L145.1 247.6L145.5 247.0L146.0 247.7L146.4 247.5L146.9 247.3L147.3 247.1L147.8 246.7L148.2 247.0L148.7 246.5L149.1 246.4L149.6 246.4L150.0 246.3L150.5 245.8L150.9 246.1L151.4 245.9L151.8 245.3L152.3 245.5L152.7 245.1L153.2 245.1L153.6 244.4L154.1 244.5L154.5 244.1L155.0 243.8L155.4 243.6L155.9 243.2L156.3 242.8L156.8 243.0L157.2 242.2L157.7 242.1L158.1 242.1L158.6 241.4L159.0 241.2L159.5 241.5L159.9 241.3L160.4 241.0L160.8 241.0L161.3 240.7L161.7 239.9L162.2 240.0L162.6 239.5L163.1 239.7L163.5 239.1L164.0 238.8L164.4 239.4L164.9 239.0L165.3 238.9L165.8 238.7L166.2 238.8L166.7 238.5L167.1 238.7L167.6 238.5L168.0 239.1L168.5 239.4L168.9 239.3L169.4 239.4L169.8 238.7L170.3 239.4L170.7 237.3L171.2 239.1L171.6 237.6L172.1 236.8L172.5 238.5L173.0 238.2L173.4 238.3L173.9 239.9L174.3 237.9L174.8 239.9L175.2 239.2L175.7 239.4L176.1 239.4L176.6 238.2L177.0 239.0L177.5 239.7L177.9 238.2L178.4 237.8L178.8 238.2L179.3 238.8L179.7 240.5L180.2 238.2L180.6 240.6L181.1 240.0L181.5 239.4L182.0 240.1L182.4 239.6L182.9 240.4L183.3 239.4L183.8 238.7L184.2 238.7L184.7 240.1L185.1 239.7L185.6 238.5L186.0 239.4L186.5 240.7L186.9 242.3L187.4 239.5L187.8 239.8L188.3 240.6L188.7 240.9L189.2 239.3L189.6 239.4L190.1 239.8L190.5 240.4L191.0 242.0L191.4 241.8L191.9 239.5L192.3 239.5L192.8 241.4L193.2 243.1L193.7 243.1L194.1 241.3L194.6 243.3L195.0 243.2L195.5 242.2L195.9 243.0L196.4 241.9L196.8 241.5L197.3 241.2L197.7 241.2L198.2 242.5L198.6 242.9L199.1 243.2L199.5 242.5L200.0 242.7L200.4 244.0L200.9 244.4L201.3 244.5L201.8 243.7L202.2 243.7L202.7 242.6L203.1 241.4L203.6 242.2L204.0 243.7L204.5 242.1L204.9 243.6L205.4 243.5L205.8 243.4L206.3 245.3L206.7 243.2L207.2 244.5L207.6 243.3L208.1 245.6L208.5 243.8L209.0 243.3L209.4 242.5L209.9 243.9L210.3 243.5L210.8 243.0L211.2 242.5L211.7 244.0L212.1 244.8L212.6 244.5L213.0 246.2L213.5 246.4L213.9 246.5L214.4 246.3L214.8 245.5L215.3 245.0L215.7 244.2L216.2 244.1L216.6 242.8L217.1 246.0L217.5 244.2L218.0 243.8L218.4 245.4L218.9 246.0L219.3 244.5L219.8 244.3L220.2 245.6L220.7 244.0L221.1 243.7L221.6 246.0L222.0 245.8L222.5 247.1L222.9 245.5L223.4 246.9L223.8 244.1L224.3 243.9L224.7 246.4L225.2 244.9L225.6 244.2L226.1 244.7L226.5 246.1L227.0 245.8L227.4 246.4L227.9 247.4L228.3 246.1L228.8 245.2L229.2 246.9L229.7 245.4L230.1 246.6L230.6 246.5L231.0 247.0L231.5 244.7L231.9 247.5L232.4 247.7L232.8 248.1L233.3 248.4L233.7 246.9L234.2 247.7L234.6 247.0L235.1 246.0L235.5 248.0L236.0 247.5L236.4 247.6L236.9 247.4L237.3 247.9L237.8 245.1L238.2 244.7L238.7 245.8L239.1 246.5L239.6 247.2L240.0 246.5L240.5 246.9L240.9 247.2L241.4 244.6L241.8 247.4L242.3 245.1L242.7 245.5L243.2 247.7L243.6 248.0L244.1 246.9L244.5 246.3L245.0 247.8L245.4 245.2L245.9 244.4L246.3 245.1L246.8 245.0L247.2 247.0L247.7 244.8L248.1 248.2L248.6 245.4L249.0 245.6L249.5 247.3L249.9 246.6L250.4 247.3L250.8 246.5L251.3 247.3L251.7 246.1L252.2 246.2L252.6 247.5L253.1 246.0L253.5 246.2L254.0 247.4L254.4 248.4L254.9 247.2L255.3 247.5L255.8 248.1L256.2 247.3L256.7 247.1L257.1 245.5L257.6 245.4L258.0 247.0L258.5 246.7L258.9 247.9L259.4 247.6L259.8 246.4L260.3 245.6L260.7 247.6L261.2 246.8L261.6 246.6L262.1 247.3L262.5 247.1L263.0 246.8L263.4 247.2L263.9 247.0L264.3 247.6L264.8 247.8L265.2 247.9L265.7 246.7L266.1 246.8L266.6 247.4L267.0 246.6L267.5 247.5L267.9 246.4L268.4 247.5L268.8 247.6L269.3 248.4L269.7 248.5L270.2 247.2L270.6 248.1L271.1 248.4L271.5 247.5L272.0 248.3L272.4 247.9L272.9 248.1L273.3 246.4L273.8 246.7L274.2 246.3L274.7 246.9L275.1 246.1L275.6 247.1L276.0 247.2L276.5 248.2L276.9 248.0L277.4 249.8L277.8 248.2L278.3 247.2L278.7 246.5L279.2 245.5L279.6 248.9L280.1 246.5L280.5 248.6L281.0 247.7L281.4 249.0L281.9 245.3L282.3 248.0L282.8 247.6L283.2 247.1L283.7 247.8L284.1 247.7L284.6 246.9L285.0 247.7L285.5 246.0L285.9 245.6L286.4 247.3L286.8 247.0L287.3 247.5L287.7 246.1L288.2 247.5L288.6 248.2L289.1 247.2L289.5 248.0L290.0 245.7L290.4 246.0L290.9 246.3L291.3 246.8L291.8 246.7L292.2 247.1L292.7 247.0L293.1 248.7L293.6 247.8L294.0 248.2L294.5 247.6L294.9 248.5L295.4 248.5L295.8 247.0L296.3 247.0L296.7 245.8L297.2 246.4L297.6 246.6L298.1 246.9L298.5 247.1L299.0 247.9L299.4 246.7L299.9 246.4L300.3 247.2L300.8 245.4L301.2 245.6L301.7 246.2L302.1 248.3L302.6 247.6L303.0 247.8L303.5 248.4L303.9 245.7L304.4 248.4L304.8 245.5L305.3 246.5L305.7 246.6L306.2 247.1L306.6 245.2L307.1 246.5L307.5 244.8L308.0 246.1L308.4 248.7L308.9 248.6L309.3 247.3L309.8 247.8L310.2 247.8L310.7 245.5L311.1 248.7L311.6 246.9L312.0 246.7L312.5 248.0L312.9 247.4L313.4 247.5L313.8 247.5L314.3 245.2L314.7 247.2L315.2 248.1L315.6 247.8L316.1 248.8L316.5 247.1L317.0 248.0L317.4 245.3L317.9 247.9L318.3 246.1L318.8 248.6L319.2 246.5L319.7 247.3L320.1 248.0L320.6 247.3L321.0 247.0L321.5 248.0L321.9 246.6L322.4 246.5L322.8 247.6L323.3 248.2L323.7 247.3L324.2 245.7L324.6 245.1L325.1 246.2L325.5 245.9L326.0 245.7L326.4 246.6L326.9 245.8L327.3 247.3L327.8 246.3L328.2 246.3L328.7 246.5L329.1 248.0L329.6 246.3L330.0 246.8L330.5 248.4L330.9 247.5L331.4 248.4L331.8 246.2L332.3 247.9L332.7 245.7L333.2 245.3L333.6 247.3L334.1 248.1L334.5 247.8L335.0 247.6L335.4 248.2L335.9 248.5L336.3 246.8L336.8 246.0L337.2 248.3L337.7 247.1L338.1 247.6L338.6 248.0L339.0 247.1L339.5 247.0L339.9 246.0L340.4 247.3L340.8 247.8L341.3 247.7L341.7 246.9L342.2 247.8L342.6 247.3L343.1 247.4L343.5 247.6L344.0 246.5L344.4 245.8L344.9 247.7L345.3 245.6L345.8 247.7L346.2 246.7L346.7 245.5L347.1 247.5L347.6 247.3L348.0 245.7L348.5 246.5L348.9 246.6L349.4 246.6L349.8 248.0L350.3 246.6L350.7 247.5L351.2 248.1L351.6 249.6L352.1 246.4L352.5 246.3L353.0 246.7L353.4 246.9L353.9 246.3L354.3 246.2L354.8 246.5L355.2 246.6L355.7 246.5L356.1 246.9L356.6 246.0L357.0 245.1L357.5 244.9L357.9 245.8L358.4 246.0L358.8 246.8L359.3 248.2L359.7 247.7L360.2 245.9L360.6 244.6L361.1 244.5L361.5 246.8L362.0 246.3L362.4 247.4L362.9 245.3L363.3 246.1L363.8 246.7L364.2 246.5L364.7 246.6L365.1 246.6L365.6 246.1L366.0 246.6L366.5 247.3L366.9 247.1L367.4 247.6L367.8 247.3L368.3 246.1L368.7 246.7L369.2 246.5L369.6 246.3L370.1 247.3L370.5 247.3L371.0 247.3L371.4 247.1L371.9 246.2L372.3 248.1L372.8 247.6L373.2 247.2L373.7 246.1L374.1 246.4L374.6 245.7L375.0 246.9L375.5 248.2L375.9 248.6L376.4 249.0L376.8 246.8L377.3 247.4L377.7 246.0L378.2 245.8L378.6 244.9L379.1 246.4L379.5 246.4L380.0 245.9L380.4 246.3L380.9 247.5L381.3 247.3L381.8 247.1L382.2 246.2L382.7 246.9L383.1 247.8L383.6 247.8L384.0 247.0L384.5 248.4L384.9 248.8L385.4 247.3L385.8 247.3L386.3 248.4L386.7 247.0L387.2 249.1L387.6 247.2L388.1 248.5L388.5 247.6L389.0 247.6L389.4 249.4L389.9 247.8L390.3 247.2L390.8 246.9L391.2 247.7L391.7 247.5L392.1 246.4L392.6 247.8L393.0 246.0L393.5 247.5L393.9 245.2L394.4 246.5L394.8 246.0L395.3 246.9L395.7 246.6L396.2 246.7L396.6 248.2L397.1 247.5L397.5 247.4L398.0 246.6L398.4 247.5L398.9 246.5L399.3 247.2L399.8 247.8L400.2 246.7L400.7 246.5L401.1 245.8L401.6 248.0L402.0 247.6L402.5 247.8L402.9 246.5L403.4 247.0L403.8 247.9L404.3 246.5L404.7 247.6L405.2 246.8L405.6 246.4L406.1 246.0L406.5 245.3L407.0 246.8L407.4 246.7L407.9 245.4L408.3 246.5L408.8 248.0L409.2 246.0L409.7 247.6L410.1 248.6L410.6 247.0L411.0 246.0L411.5 248.7L411.9 248.1L412.4 245.8L412.8 246.7L413.3 247.3L413.7 246.7L414.2 245.9L414.6 245.5L415.1 245.1L415.5 245.5L416.0 245.9L416.4 247.4L416.9 247.3L417.3 247.4L417.8 248.1L418.2 246.1L418.7 246.9L419.1 245.9L419.6 247.5L420.0 246.2L420.5 245.8L420.9 246.0L421.4 247.2L421.8 247.7L422.3 246.2L422.7 247.3L423.2 245.9L423.6 245.7L424.1 246.2L424.5 245.2L425.0 246.2L425.4 246.3L425.9 246.8L426.3 244.9L426.8 246.6L427.2 246.2L427.7 246.9L428.1 245.6L428.6 247.4L429.0 246.6L429.5 247.6L429.9 247.6L430.4 248.3L430.8 247.7L431.3 248.3L431.7 247.0L432.2 247.5L432.6 247.5L433.1 247.6L433.5 247.6L434.0 247.2L434.4 246.7L434.9 247.4L435.3 245.7L435.8 246.7L436.2 247.3L436.7 246.6L437.1 247.7L437.6 248.0L438.0 245.5L438.5 246.3L438.9 245.9L439.4 247.0L439.8 246.3L440.3 246.6L440.7 247.1L441.2 246.0L441.6 246.4L442.1 248.4L442.5 246.7L443.0 247.9L443.4 246.4L443.9 247.9L444.3 245.7L444.8 247.1L445.2 247.4L445.7 247.8L446.1 247.3L446.6 247.7L447.0 246.6L447.5 246.2L447.9 246.7L448.4 247.0L448.8 247.3L449.3 246.4L449.7 246.2L450.2 245.7L450.6 247.4L451.1 246.3L451.5 248.1L452.0 248.7L452.4 248.5L452.9 247.1L453.3 247.0L453.8 247.6L454.2 245.7L454.7 247.1L455.1 246.5L455.6 247.1L456.0 247.3L456.5 246.7L456.9 247.6L457.4 246.2L457.8 248.5L458.3 248.3L458.7 247.4L459.2 247.6L459.6 247.7L460.1 248.3L460.5 246.0L461.0 246.6L461.4 247.0L461.9 247.6L462.3 247.5L462.8 247.3L463.2 245.9L463.7 246.8L464.1 246.5L464.6 246.2L465.0 247.1L465.5 246.8L465.9 246.6L466.4 246.2L466.8 246.8L467.3 245.8L467.7 244.8L468.2 247.8L468.6 246.3L469.1 244.6L469.5 246.9L470.0 248.7L470.4 248.9L470.9 248.2L471.3 248.7L471.8 248.1L472.2 247.3L472.7 246.4L473.1 245.2L473.6 247.1L474.0 246.6L474.5 247.6L474.9 245.3L475.4 247.2L475.8 245.3L476.3 247.9L476.7 247.6L477.2 245.4L477.6 246.2L478.1 248.0L478.5 247.5L479.0 247.4L479.4 246.8L479.9 246.7L480.3 247.3L480.8 248.9L481.2 248.9L481.7 248.2L482.1 248.6L482.6 248.4L483.0 246.8L483.5 248.3L483.9 246.2L484.4 246.5L484.8 245.6L485.3 246.1L485.7 247.2L486.2 245.6L486.6 247.7L487.1 246.4L487.5 248.7L488.0 246.3L488.4 246.5L488.9 246.2L489.3 247.2L489.8 247.3L490.2 247.4L490.7 247.8L491.1 248.0L491.6 247.8L492.0 247.6L492.5 247.0L492.9 248.5L493.4 246.8L493.8 247.4L494.3 245.5L494.7 246.1L495.2 245.5L495.6 246.2L496.1 247.0L496.5 246.2L497.0 246.8L497.4 246.1L497.9 246.2L498.3 246.1L498.8 246.6L499.2 246.0L499.7 247.4L500.1 248.3L500.6 248.4L501.0 245.9L501.5 247.2L501.9 246.5L502.4 247.5L502.8 245.6L503.3 247.2L503.7 246.0L504.2 247.2L504.6 243.8L505.1 245.4L505.5 245.8L506.0 247.7L506.4 247.9L506.9 245.8L507.3 246.3L507.8 248.2L508.2 246.5L508.7 245.6L509.1 247.9L509.6 247.8L510.0 246.0L510.5 246.6L510.9 247.5L511.4 245.4L511.8 247.6L512.3 247.2L512.7 246.5L513.2 246.6L513.6 247.1L514.1 247.0L514.5 247.4L515.0 247.0L515.4 247.8L515.9 247.9L516.3 247.4L516.8 246.5L517.2 247.0L517.7 247.4L518.1 247.1L518.6 246.1L519.0 247.0L519.5 246.2L519.9 246.1L520.4 246.4L520.8 246.5L521.3 245.9L521.7 247.1L522.2 246.5L522.6 247.5L523.1 246.7L523.5 247.6L524.0 246.3L524.4 247.6L524.9 246.9L525.3 248.0L525.8 247.3L526.2 247.0L526.7 245.5L527.1 246.9L527.6 246.6L528.0 247.9L528.5 248.4L528.9 246.3L529.4 245.8L529.8 247.5L530.3 247.6L530.7 247.7L531.2 246.5L531.6 248.2L532.1 245.3L532.5 245.8L533.0 247.2L533.4 247.2L533.9 247.9L534.3 245.8L534.8 246.5L535.2 248.5L535.7 245.6L536.1 245.9L536.6 246.9L537.0 248.1L537.5 245.8L537.9 247.6L538.4 246.7L538.8 246.0L539.3 246.0L539.7 246.1L540.2 246.0L540.6 245.8L541.1 246.6L541.5 246.6L542.0 247.3L542.4 247.1L542.9 246.8L543.3 246.9L543.8 246.4L544.2 246.0L544.7 248.1L545.1 246.7L545.6 246.1L546.0 246.8L546.5 247.1L546.9 247.2L547.4 248.1L547.8 247.0L548.3 246.5L548.7 246.3L549.2 247.9L549.6 246.7L550.1 246.1L550.5 247.3L551.0 247.7L551.4 246.7L551.9 247.2L552.3 246.3L552.8 247.1L553.2 247.9L553.7 247.2L554.1 247.3L554.6 246.7L555.0 246.6L555.5 247.7L555.9 247.8L556.4 247.1L556.8 247.9L557.3 248.1L557.7 248.1L558.2 246.2L558.6 247.3L559.1 245.7L559.5 247.5L560.0 247.6L560.4 246.3L560.9 244.6L561.3 245.0L561.8 246.9L562.2 247.1L562.7 244.8L563.1 246.6L563.6 247.4L564.0 246.0L564.5 246.3L564.9 246.1L565.4 247.1L565.8 247.0L566.3 247.9L566.7 246.4L567.2 246.6L567.6 248.2L568.1 246.3L568.5 246.4L569.0 246.5L569.4 245.9L569.9 246.4L570.3 246.8L570.8 247.1L571.2 247.2L571.7 247.3L572.1 247.1L572.6 245.7L573.0 247.6L573.5 247.5L573.9 246.5L574.4 246.5L574.8 246.8M666.6 247.0L667.1 247.8L667.5 247.0L668.0 248.8L668.4 247.5L668.9 247.5L669.3 248.4L669.8 246.8L670.2 246.9L670.7 246.9L671.1 245.1L671.6 247.3L672.0 245.8L672.5 248.3L672.9 245.5L673.4 245.8L673.8 247.4L674.3 246.7L674.7 246.7L675.2 247.7L675.6 245.8L676.1 245.8L676.5 245.7L677.0 246.8L677.4 247.0L677.9 246.7L678.3 245.6L678.8 245.0L679.2 245.1L679.7 245.5L680.1 245.3L680.6 247.6L681.0 246.3L681.5 245.5L681.9 246.9L682.4 245.9L682.8 244.4L683.3 247.9L683.7 247.6L684.2 245.6L684.6 248.2L685.1 246.8L685.5 247.3L686.0 247.0L686.4 246.9L686.9 245.5L687.3 244.6L687.8 246.7L688.2 245.5L688.7 245.6L689.1 247.0L689.6 246.5L690.0 247.8L690.5 245.4L690.9 246.6L691.4 244.2L691.8 244.6L692.3 244.3L692.7 244.4L693.2 244.9L693.6 244.4L694.1 246.1L694.5 245.7L695.0 246.2L695.4 246.9L695.9 246.4L696.3 246.2L696.8 246.5L697.2 245.4L697.7 244.5L698.1 245.6L698.6 243.5L699.0 245.5L699.5 244.7L699.9 244.4L700.4 244.9L700.8 244.4L701.3 245.6L701.7 245.4L702.2 245.5L702.6 244.1L703.1 244.8L703.5 243.4L704.0 245.5L704.4 243.7L704.9 245.0L705.3 243.7L705.8 246.9L706.2 247.1L706.7 244.6L707.1 246.6L707.6 244.3L708.0 245.7L708.5 244.0L708.9 244.2L709.4 244.7L709.8 243.6L710.3 242.9L710.7 244.5L711.2 244.8L711.6 246.1L712.1 243.3L712.5 242.9L713.0 242.2L713.4 242.5L713.9 242.8L714.3 243.8L714.8 245.2L715.2 243.1L715.7 244.9L716.1 243.8L716.6 243.7L717.0 244.0L717.5 244.3L717.9 243.8L718.4 243.4L718.8 244.1L719.3 244.7L719.7 242.9L720.2 243.2L720.6 243.9L721.1 243.8L721.5 243.7L722.0 245.7L722.4 243.9L722.9 245.5L723.3 244.6L723.8 243.4L724.2 243.3L724.7 242.7L725.1 243.4L725.6 243.5L726.0 242.3L726.5 242.8L726.9 243.1L727.4 243.7L727.8 244.2L728.3 244.9L728.7 243.5L729.2 244.3L729.6 243.5L730.1 243.9L730.5 244.0L731.0 242.6L731.4 244.3L731.9 242.8L732.3 243.2L732.8 244.3L733.2 241.9L733.7 241.6L734.1 243.6L734.6 242.7L735.0 240.8L735.5 240.8L735.9 241.8L736.4 243.8L736.8 242.4L737.3 243.9L737.7 242.3L738.2 243.7L738.6 242.3L739.1 242.0L739.5 242.8L740.0 242.2L740.4 241.6L740.9 243.1L741.3 241.8L741.8 243.0L742.2 243.1L742.7 243.6L743.1 243.8L743.6 241.4L744.0 243.1L744.5 242.1L744.9 242.5L745.4 242.2L745.8 242.9L746.3 241.9L746.7 241.4L747.2 242.8L747.6 242.5L748.1 243.3L748.5 241.9L749.0 240.8L749.4 242.8L749.9 243.1L750.3 242.6L750.8 242.6L751.2 242.7L751.7 240.8L752.1 241.5L752.6 241.0L753.0 242.3L753.5 241.9L753.9 242.5L754.4 242.1L754.8 243.0L755.3 242.5L755.7 239.5L756.2 242.2L756.6 241.5L757.1 240.1L757.5 241.7L758.0 243.4L758.4 242.9L758.9 240.4L759.3 240.8L759.8 242.5L760.2 243.8L760.7 239.9L761.1 239.0L761.6 242.5L762.0 242.3L762.5 242.7L762.9 240.4L763.4 241.6L763.8 242.7L764.3 241.0L764.7 241.3L765.2 240.3L765.6 242.9L766.1 241.8L766.5 241.7L767.0 242.1L767.4 242.7L767.9 242.8L768.3 241.7L768.8 241.9L769.2 241.5L769.7 241.7L770.1 241.2L770.6 240.7L771.0 241.2L771.5 240.3L771.9 241.2L772.4 240.2L772.8 242.1L773.3 240.5L773.7 240.8L774.2 238.8L774.6 239.8L775.1 240.8L775.5 241.1L776.0 241.2L776.4 240.3L776.9 241.0L777.3 240.8L777.8 240.7L778.2 240.4L778.7 240.6L779.1 241.4L779.6 240.2L780.0 242.5L780.5 241.1L780.9 240.4L781.4 240.4L781.8 238.8L782.3 241.2L782.7 241.3L783.2 240.9L783.6 240.7L784.1 242.2L784.5 240.3L785.0 240.0L785.4 240.6L785.9 241.4L786.3 242.5L786.8 241.9L787.2 240.7L787.7 240.1L788.1 240.1L788.6 240.0L789.0 239.4L789.5 240.2L789.9 238.7L790.4 240.0L790.8 240.6L791.3 239.5L791.7 239.6L792.2 240.9L792.6 238.9L793.1 239.2L793.5 240.1L794.0 238.4L794.4 239.2L794.9 240.3L795.3 239.2L795.8 240.1L796.2 240.0L796.7 238.6L797.1 239.0L797.6 240.8L798.0 239.4L798.5 239.3L798.9 240.9L799.4 238.2L799.8 240.2L800.3 239.9L800.7 240.1L801.2 238.5L801.6 240.3L802.1 240.7L802.5 239.5L803.0 238.8L803.4 239.0L803.9 237.7L804.3 239.5L804.8 240.2L805.2 238.0L805.7 238.1L806.1 237.7L806.6 237.5L807.0 237.7L807.5 237.8L807.9 236.5L808.4 237.9L808.8 236.9L809.3 236.2L809.7 237.3L810.2 237.0L810.6 235.8L811.1 237.5L811.5 236.8L812.0 236.7L812.4 237.4L812.9 237.5L813.3 237.2L813.8 238.5L814.2 238.8L814.7 240.3L815.1 238.5L815.6 237.0L816.0 237.4L816.5 237.7L816.9 236.7L817.4 237.5L817.8 237.8L818.3 239.1L818.7 237.3L819.2 238.4L819.6 238.4L820.1 237.3L820.5 238.3L821.0 236.9L821.4 236.7L821.9 236.5L822.3 239.0L822.8 236.4L823.2 238.5L823.7 236.8L824.1 236.2L824.6 237.9L825.0 237.1L825.5 235.4L825.9 237.6L826.4 237.5L826.8 237.2L827.3 237.6L827.7 237.9L828.2 237.0L828.6 237.8L829.1 238.1L829.5 237.8L830.0 236.8L830.4 238.4L830.9 238.0L831.3 237.1L831.8 235.1L832.2 237.3L832.7 236.9L833.1 234.3L833.6 233.6L834.0 234.9L834.5 236.5L834.9 234.6L835.4 235.2L835.8 238.1L836.3 235.0L836.7 236.4L837.2 235.7L837.6 235.0L838.1 237.5L838.5 236.4L839.0 235.9L839.4 236.5L839.9 235.4L840.3 236.9L840.8 233.9L841.2 234.4L841.7 235.0L842.1 233.7L842.6 234.7L843.0 234.9L843.5 235.6L843.9 235.3L844.4 235.4L844.8 233.6L845.3 232.7L845.7 234.4L846.2 234.6L846.6 234.7L847.1 234.6L847.5 234.3L848.0 234.7L848.4 234.2L848.9 234.9L849.3 236.4L849.8 234.0L850.2 234.4L850.7 237.1L851.1 234.2L851.6 232.0L852.0 237.1L852.5 233.0L852.9 236.6L853.4 236.4L853.8 233.5L854.3 235.5L854.7 233.6L855.2 233.0L855.6 235.1L856.1 235.0L856.5 234.4L857.0 233.2L857.4 235.9L857.9 234.8L858.3 236.3L858.8 235.6L859.2 234.0L859.7 236.0L860.1 235.5L860.6 235.9L861.0 235.2L861.5 233.6L861.9 235.1L862.4 234.1L862.8 233.7L863.3 233.0L863.7 232.3L864.2 235.4L864.6 231.9L865.1 233.8L865.5 229.7L866.0 233.6L866.4 230.4L866.9 232.4L867.3 231.0L867.8 234.3L868.2 230.9L868.7 231.9L869.1 232.3L869.6 231.7L870.0 231.7L870.5 232.3L870.9 235.1L871.4 232.2L871.8 232.4L872.3 234.1L872.7 233.7L873.2 232.3L873.6 231.8L874.1 233.4L874.5 231.8L875.0 229.7L875.4 231.6L875.9 231.7L876.3 232.1L876.8 233.5L877.2 230.3L877.7 234.1L878.1 232.5L878.6 232.7L879.0 231.4L879.5 230.2L879.9 230.4L880.4 229.9L880.8 230.5L881.3 231.6L881.7 232.9L882.2 228.9L882.6 231.3L883.1 231.5L883.5 232.3L884.0 231.4L884.4 231.7L884.9 231.5L885.3 231.1L885.8 232.9L886.2 232.9L886.7 231.7L887.1 230.1L887.6 231.9L888.0 230.5L888.5 230.6L888.9 230.8L889.4 233.1L889.8 231.0L890.3 231.6L890.7 230.5L891.2 229.5L891.6 231.5L892.1 230.1L892.5 232.8L893.0 231.5L893.4 232.7L893.9 230.6L894.3 229.2L894.8 227.4L895.2 228.0L895.7 227.0L896.1 229.9L896.6 228.8L897.0 230.0L897.5 228.6L897.9 229.7L898.4 230.2L898.8 229.0L899.3 228.9L899.7 229.9L900.2 231.5L900.6 230.6L901.1 229.5L901.5 228.1L902.0 228.0L902.4 229.0L902.9 229.7L903.3 229.3L903.8 231.0L904.2 231.4L904.7 229.9L905.1 228.9L905.6 229.6L906.0 227.5L906.5 229.3L906.9 229.9L907.4 229.6L907.8 227.0L908.3 228.7L908.7 229.2L909.2 227.9L909.6 230.0L910.1 227.6L910.5 229.5L911.0 230.2L911.4 230.4L911.9 229.2L912.3 228.4L912.8 229.7L913.2 226.5L913.7 228.2L914.1 228.3L914.6 230.0L915.0 227.7L915.5 229.3L915.9 229.5L916.4 229.8L916.8 230.8L917.3 229.1L917.7 229.3L918.2 227.2L918.6 227.1L919.1 227.4L919.5 226.7L920.0 228.6L920.4 228.3L920.9 229.6L921.3 230.3L921.8 228.1L922.2 228.1L922.7 228.9L923.1 227.7L923.6 227.5L924.0 229.3L924.5 229.0L924.9 230.3L925.4 228.4L925.8 230.6L926.3 228.5L926.7 228.3L927.2 230.8L927.6 228.9L928.1 230.8L928.5 227.7L929.0 227.4L929.4 230.8L929.9 228.2L930.3 227.7L930.8 229.1L931.2 230.1L931.7 228.4L932.1 230.1L932.6 227.6L933.0 228.7L933.5 229.6L933.9 230.0L934.4 228.4L934.8 229.6L935.3 227.4L935.7 230.9L936.2 228.7L936.6 227.4L937.1 226.3L937.5 225.8L938.0 227.5L938.4 229.0L938.9 228.7L939.3 229.7L939.8 229.3L940.2 229.6L940.7 229.4L941.1 228.8L941.6 227.6L942.0 228.1L942.5 229.8L942.9 227.9L943.4 229.3L943.8 228.1L944.3 228.5L944.7 229.6L945.2 229.7L945.6 229.8L946.1 229.4L946.5 228.8L947.0 231.6L947.4 231.2L947.9 232.0L948.3 232.8L948.8 229.6L949.2 231.8L949.7 227.9L950.1 229.8L950.6 228.3L951.0 227.6L951.5 229.5L951.9 228.8L952.4 231.0L952.8 230.0L953.3 229.7L953.7 228.9L954.2 230.7L954.6 230.4L955.1 231.3L955.5 230.4L956.0 231.5L956.4 229.2L956.9 231.6L957.3 228.9L957.8 229.0L958.2 231.3L958.7 229.7L959.1 231.2L959.6 230.0L960.0 231.3L960.5 231.1L960.9 229.2L961.4 228.9L961.8 231.1L962.3 229.7L962.7 228.5L963.2 227.4L963.6 228.1L964.1 228.2L964.5 229.0L965.0 231.2L965.4 230.0L965.9 226.7L966.3 229.5L966.8 229.8L967.2 229.4L967.7 230.7L968.1 230.9L968.6 231.3L969.0 230.7L969.5 229.8L969.9 231.7L970.4 231.6L970.8 231.4L971.3 230.9L971.7 232.5L972.2 228.7L972.6 232.1L973.1 231.0L973.5 230.9L974.0 229.1L974.4 231.6L974.9 229.5L975.3 230.4L975.8 231.3L976.2 231.0L976.7 229.7L977.1 230.0L977.6 231.0L978.0 229.2L978.5 229.8L978.9 228.4L979.4 230.0L979.8 230.3L980.3 230.9L980.7 229.2L981.2 228.2L981.6 230.1L982.1 231.7L982.5 230.9L983.0 230.0L983.4 228.6L983.9 229.6L984.3 230.3L984.8 229.2L985.2 227.1L985.7 217.1L986.0 216.0L986.1 218.8L986.6 223.5L987.0 228.2L987.5 229.3L987.9 229.3L988.4 228.3L988.8 231.1L989.3 229.2L989.7 231.5L990.2 230.9L990.6 230.3L991.1 228.9L991.5 228.6L992.0 229.6L992.4 230.0L992.9 229.1L993.3 229.1L993.8 231.5L994.2 231.0L994.7 231.9L995.1 229.6L995.6 230.2L996.0 232.4L996.5 229.5L996.9 230.6L997.4 231.2L997.8 231.6L998.3 229.5L998.7 231.2L999.2 229.0L999.6 231.5L1000.1 228.6L1000.5 229.4L1001.0 228.5L1001.4 227.7L1001.9 231.8L1002.3 230.3L1002.8 232.3L1003.2 233.6L1003.7 228.9L1004.1 232.2L1004.6 232.9L1005.0 229.0L1005.5 227.7L1005.9 229.3L1006.4 229.8L1006.8 230.7L1007.3 230.6L1007.7 230.0L1008.2 230.1L1008.6 230.2L1009.1 229.0L1009.5 230.5L1010.0 230.0L1010.4 231.8L1010.9 230.6L1011.3 229.3L1011.8 230.5L1012.2 229.6L1012.7 230.2L1013.1 229.5L1013.6 228.0L1014.0 231.0L1014.5 230.6L1014.9 233.2L1015.4 228.4L1015.8 229.0L1016.3 230.0L1016.7 230.1L1017.2 230.8L1017.6 229.8L1018.1 230.1L1018.5 229.5L1019.0 230.7L1019.4 229.8L1019.9 229.1L1020.3 229.5L1020.8 230.1L1021.2 230.3L1021.7 228.9L1022.1 230.4L1022.6 231.0L1023.0 229.6L1023.5 228.7L1023.9 230.1L1024.4 232.1L1024.8 231.8L1025.3 230.0L1025.7 229.9L1026.2 232.0L1026.6 231.6L1027.1 231.2L1027.5 229.1L1028.0 234.1L1028.4 229.9L1028.9 229.6L1029.3 227.9L1029.8 232.5L1030.2 230.8L1030.7 230.7L1031.1 230.9L1031.6 232.2L1032.0 231.2L1032.5 230.8L1032.9 229.5L1033.4 231.1L1033.8 229.5L1034.3 231.4L1034.7 231.0L1035.2 229.8L1035.6 229.2L1036.1 229.2L1036.5 228.9L1037.0 231.7L1037.4 231.5L1037.9 233.5L1038.3 231.0L1038.8 231.0L1039.2 231.6L1039.7 231.9L1040.1 231.0L1040.6 230.0L1041.0 230.1L1041.5 232.0L1041.9 232.2L1042.4 233.5L1042.8 231.1L1043.3 231.9L1043.7 231.7L1044.2 231.2L1044.6 232.2L1045.1 228.8L1045.5 229.1L1046.0 230.0L1046.4 230.2L1046.9 232.2L1047.3 231.8L1047.8 230.8L1048.2 231.2L1048.7 229.9L1049.1 231.9L1049.6 230.7L1050.0 228.5L1050.5 229.0L1050.9 228.8L1051.4 229.0L1051.8 232.5L1052.3 230.6L1052.7 232.3L1053.2 231.3L1053.6 229.6L1054.1 230.7L1054.5 231.8L1055.0 229.7L1055.4 230.1L1055.9 228.6L1056.3 230.1L1056.8 232.5L1057.2 229.3L1057.7 230.9L1058.1 231.4L1058.6 230.1L1059.0 232.8L1059.5 232.3L1059.9 232.5L1060.4 230.2L1060.8 229.9L1061.3 230.6L1061.7 231.9L1062.2 229.7L1062.6 230.2L1063.1 230.8L1063.5 229.6L1064.0 232.0L1064.4 230.9L1064.9 230.7L1065.3 230.9L1065.8 231.3L1066.2 231.1L1066.7 229.1L1067.1 229.0L1067.6 229.1L1068.0 230.6L1068.5 231.6L1068.9 228.2L1069.4 230.9L1069.8 232.0L1070.3 229.7L1070.7 228.9L1071.2 229.5L1071.6 229.4L1072.1 229.1L1072.5 227.5L1073.0 231.5L1073.4 230.9L1073.9 229.9L1074.3 233.4L1074.8 231.3L1075.2 232.8L1075.7 230.3L1076.1 231.1L1076.6 229.4L1077.0 229.7L1077.5 230.3L1077.9 229.5L1078.4 230.9L1078.8 229.7L1079.3 229.8L1079.7 230.6L1080.2 229.4L1080.6 231.2L1081.1 231.6L1081.5 231.4L1082.0 230.9L1082.4 232.3L1082.9 232.2L1083.3 233.1L1083.8 232.0L1084.2 232.5L1084.7 231.5L1085.1 230.6L1085.6 228.7L1086.0 230.6L1086.5 230.5L1086.9 229.6L1087.4 230.6L1087.8 230.9L1088.3 230.3L1088.7 232.1L1089.2 230.1L1089.6 230.4L1090.1 231.1L1090.5 230.4L1091.0 230.5L1091.4 231.4L1091.9 231.1L1092.3 232.1L1092.8 231.5L1093.2 233.2L1093.7 228.7L1094.1 231.4L1094.6 231.0L1095.0 227.7L1095.5 229.9L1095.9 230.5L1096.4 229.7L1096.8 231.7L1097.3 231.5L1097.7 230.0L1098.2 231.8L1098.6 230.6L1099.1 231.0L1099.5 232.2L1100.0 231.1L1100.4 231.1L1100.9 231.5L1101.3 229.2L1101.8 228.9L1102.2 229.0L1102.7 230.9L1103.1 232.7L1103.6 230.8L1104.0 233.0L1104.5 230.4L1104.9 228.8L1105.4 228.9L1105.8 232.3L1106.3 232.7L1106.7 230.7L1107.2 230.8L1107.6 232.5L1108.1 231.2L1108.5 231.0L1109.0 231.6L1109.4 229.8L1109.9 231.0L1110.3 231.7L1110.8 229.1L1111.2 231.3L1111.7 229.5L1112.1 229.7L1112.6 229.3L1113.0 230.5L1113.5 228.0L1113.9 228.3L1114.4 229.6L1114.8 229.2L1115.3 232.3L1115.7 229.4L1116.2 232.0L1116.6 230.2L1117.1 230.5L1117.5 230.8L1118.0 230.6L1118.4 231.8L1118.9 232.5L1119.3 229.3L1119.8 228.8L1120.2 229.8L1120.7 227.5L1121.1 230.0L1121.6 231.1L1122.0 230.4L1122.5 229.6L1122.9 228.9L1123.4 229.9L1123.8 230.7L1124.3 229.8L1124.7 230.4L1125.2 229.5L1125.6 231.7L1126.1 229.5L1126.5 230.2L1127.0 228.4L1127.4 230.3L1127.9 228.4L1128.3 229.2L1128.8 229.2L1129.2 230.4L1129.7 227.9L1130.1 231.2L1130.6 229.9L1131.0 229.4L1131.5 233.5L1131.9 231.5L1132.4 229.6L1132.8 228.6L1133.3 229.9L1133.7 231.2L1134.2 230.9L1134.6 229.7L1135.1 229.1L1135.5 229.8L1136.0 231.8L1136.4 229.7L1136.9 232.5L1137.3 231.7L1137.8 230.8L1138.2 229.5L1138.7 230.1L1139.1 231.6L1139.6 229.0L1140.0 228.8L1140.5 228.6L1140.9 231.4L1141.4 232.3L1141.8 230.7L1142.3 229.7L1142.7 232.9L1143.2 231.5L1143.6 232.9L1144.1 229.3L1144.5 230.3L1145.0 230.4L1145.4 230.7L1145.9 231.0L1146.3 231.4L1146.8 230.6L1147.2 230.2L1147.7 231.8L1148.1 230.8L1148.6 231.0L1149.0 231.5L1149.5 231.0L1149.9 230.2L1150.4 232.9L1150.8 230.4L1151.3 230.3L1151.7 231.7L1152.2 231.5L1152.6 230.3L1153.1 232.1L1153.5 230.0L1154.0 230.9L1154.4 231.7L1154.9 231.9L1155.3 231.0L1155.8 231.7L1156.2 230.2L1156.7 229.8L1157.1 231.9L1157.6 230.3L1158.0 230.5L1158.5 232.2L1158.9 230.4L1159.4 229.8L1159.8 230.7L1160.3 231.5L1160.7 232.2L1161.2 232.0L1161.6 230.5L1162.1 230.5L1162.5 228.8L1163.0 230.3L1163.4 230.9L1163.9 229.2L1164.3 230.7L1164.8 229.2L1165.2 231.8L1165.7 232.1L1166.1 233.5L1166.6 230.7L1167.0 230.3L1167.5 232.3L1167.9 229.5L1168.4 231.9L1168.8 229.5L1169.3 229.0L1169.7 229.0L1170.2 230.9L1170.6 229.1L1171.1 230.4L1171.5 230.1L1172.0 232.0L1172.4 229.7L1172.9 229.9L1173.3 231.3L1173.8 230.4L1174.2 228.3L1174.7 231.7L1175.1 229.9L1175.6 230.3L1176.0 231.8L1176.5 231.0L1176.9 232.0L1177.4 230.8L1177.8 229.9L1178.3 229.6L1178.7 232.4" stroke="#080808" stroke-width="3.6"/>
<path d="M574.4 246.5L574.8 246.8L575.3 247.1L575.7 246.8L576.2 246.7L576.6 247.1L577.1 247.2L577.5 247.3L578.0 247.0L578.4 246.8L578.9 246.8L579.3 246.6L579.8 246.2L580.2 245.7L580.7 243.8L581.1 242.8L581.6 241.0L582.0 240.6L582.5 241.9L582.9 242.3L583.4 244.1L583.8 245.6L584.3 246.2L584.7 246.5L585.2 247.0L585.6 247.2L586.1 247.2L586.5 246.6L587.0 246.7L587.4 246.7L587.9 246.3L588.3 246.4L588.8 245.4L589.2 243.5L589.7 241.5L590.1 239.6L590.6 237.5L591.0 235.6L591.5 233.8L591.9 233.0L592.4 233.5L592.8 234.7L593.3 235.9L593.7 238.1L594.2 237.6L594.6 234.2L595.1 227.6L595.5 221.3L596.0 217.1L596.4 215.4L596.9 216.9L597.3 219.8L597.8 220.5L598.2 218.2L598.7 214.3L599.1 210.8L599.6 208.4L600.0 207.4L600.5 208.1L600.9 210.1L601.4 214.2L601.8 219.2L602.3 224.8L602.7 230.4L603.2 235.0L603.6 238.9L604.1 240.0L604.5 240.2L605.0 239.9L605.4 240.9L605.9 242.1L606.3 243.7L606.8 243.8L607.2 244.5L607.7 244.9L608.1 245.4L608.6 245.3L609.0 246.0L609.5 246.0L609.9 246.4L610.4 246.7L610.8 246.7L611.3 246.6L611.7 246.9L612.2 247.1L612.6 247.2L613.1 246.6L613.5 246.5L614.0 247.3L614.4 247.1L614.9 246.7L615.3 247.1L615.8 247.1L616.2 247.1L616.7 247.3L617.1 247.0L617.6 247.0L618.0 247.1L618.5 247.0L618.9 247.4L619.4 247.2L619.8 246.6L620.3 247.0L620.7 246.6L621.2 247.3L621.6 247.4L622.1 246.5L622.5 246.8L623.0 246.6L623.4 246.6L623.9 247.1L624.3 247.4L624.8 246.7L625.2 246.9L625.7 246.6L626.1 246.4L626.6 247.1L627.0 246.6L627.5 247.2L627.9 247.4L628.4 246.6L628.8 247.1L629.3 246.8L629.7 247.4L630.2 246.9L630.6 247.4L631.1 247.3L631.5 247.3L632.0 246.9L632.4 247.4L632.9 246.9L633.3 247.2L633.8 246.8L634.2 246.9L634.7 247.1L635.1 246.9L635.6 247.3L636.0 247.1L636.5 247.3L636.9 247.3L637.4 247.5L637.8 247.1L638.3 247.0L638.7 247.2L639.2 247.1L639.6 246.9L640.1 247.0L640.5 246.7L641.0 247.2L641.4 247.1L641.9 247.1L642.3 246.9L642.8 247.2L643.2 247.2L643.7 247.0L644.1 247.0L644.6 246.3L645.0 231.7L645.5 177.7L645.9 160.7L645.9 160.4L646.4 177.6L646.8 231.4L647.3 240.5L647.7 242.1L648.2 242.5L648.6 242.7L649.1 243.2L649.5 243.4L650.0 243.6L650.4 243.7L650.9 244.1L651.3 244.7L651.8 245.1L652.2 245.0L652.7 245.1L653.1 245.5L653.6 245.5L654.0 246.3L654.5 245.7L654.9 246.0L655.4 246.1L655.8 245.9L656.3 246.2L656.7 246.4L657.2 245.9L657.6 246.9L658.1 246.6L658.5 246.3L659.0 247.1L659.4 246.4L659.9 246.9L660.3 246.8L660.8 246.5L661.2 246.5L661.7 246.4L662.1 246.3L662.6 246.2L663.0 246.5L663.5 246.6L663.9 247.0L664.4 246.5L664.8 246.4L665.3 247.0L665.7 246.5L666.2 247.0L666.6 247.0L667.1 247.8" stroke="#080808" stroke-width="2.7"/>
<line x1="90.8" y1="224.7" x2="90.8" y2="245.3" stroke="#080808" stroke-width="3.0" stroke-linecap="butt"/>
<line x1="138.2" y1="191.0" x2="138.2" y2="246.1" stroke="#080808" stroke-width="3.0" stroke-linecap="butt"/>
<line x1="645.9" y1="161.6" x2="645.9" y2="244.5" stroke="#080808" stroke-width="3.0" stroke-linecap="butt"/>
<line x1="986" y1="216.9" x2="986" y2="229.3" stroke="#080808" stroke-width="3.0" stroke-linecap="butt"/>
<path d="M1274.1 582.1L1274.5 582.1L1275.0 581.9L1275.5 582.1L1275.9 581.8L1276.4 581.9L1276.8 582.2L1277.3 581.8L1277.7 581.7L1278.2 582.0L1278.6 582.4L1279.1 581.8L1279.5 581.9L1280.0 582.0L1280.4 581.7L1280.9 582.2L1281.3 582.2L1281.8 582.3L1282.2 582.0L1282.7 581.8L1283.1 582.2L1283.6 581.5L1284.0 581.1L1284.5 582.1L1284.9 582.1L1285.4 581.9L1285.8 582.0L1286.3 581.9L1286.7 581.6L1287.2 582.2L1287.6 582.4L1288.1 582.4L1288.5 581.6L1289.0 582.3L1289.4 582.0L1289.9 582.3L1290.3 582.1L1290.8 582.0L1291.2 582.4L1291.7 581.9L1292.1 581.7L1292.6 582.0L1293.0 582.2L1293.5 581.8L1293.9 581.7L1294.4 581.8L1294.8 581.5L1295.3 582.1L1295.7 581.8L1296.2 581.6L1296.6 581.8L1297.1 582.0L1297.5 581.9L1298.0 582.4L1298.4 582.2L1298.9 582.3L1299.3 582.4L1299.8 581.7L1300.2 581.7L1300.7 581.8L1301.1 582.2L1301.6 582.2L1302.0 582.1L1302.5 582.0L1302.9 581.3L1303.4 581.6L1303.8 582.2L1304.3 582.3L1304.7 582.6L1305.2 581.8L1305.6 581.6L1306.1 582.3L1306.5 581.7L1307.0 581.7L1307.4 582.1L1307.9 582.1L1308.3 582.2L1308.8 582.2L1309.2 582.4L1309.7 582.4L1310.1 582.3L1310.6 581.8L1311.0 581.9L1311.5 582.0L1311.9 581.9L1312.4 582.1L1312.8 581.9L1313.3 582.0L1313.7 581.6L1314.2 581.7L1314.6 581.8L1315.1 582.2L1315.5 582.1L1316.0 582.2L1316.4 582.2L1316.9 582.4L1317.3 582.0L1317.8 581.9L1318.2 582.3L1318.7 581.9L1319.1 581.7L1319.6 582.1L1320.0 581.9L1320.5 581.9L1320.9 582.1L1321.4 581.6L1321.8 581.7L1322.3 582.2L1322.7 582.0L1323.2 582.1L1323.6 581.9L1324.1 581.5L1324.5 581.5L1325.0 581.7L1325.4 581.2L1325.9 581.2L1326.3 580.9L1326.8 580.9L1327.2 580.8L1327.7 580.8L1328.1 580.7L1328.6 580.2L1329.0 580.1L1329.5 579.6L1329.9 579.7L1330.2 579.8L1330.4 579.3L1330.8 579.8L1331.3 579.4L1331.7 579.4L1332.2 579.3L1332.6 578.9L1333.1 579.1L1333.5 579.1L1334.0 579.1L1334.4 578.5L1334.9 578.5L1335.3 578.7L1335.8 578.3L1336.2 578.9L1336.7 578.5L1337.1 578.5L1337.6 579.6L1338.0 578.8L1338.5 579.6L1338.9 579.4L1339.4 579.4L1339.8 579.6L1340.3 579.4L1340.7 579.3L1341.2 579.9L1341.6 579.5L1342.1 579.5L1342.5 579.5L1343.0 579.9L1343.4 579.6L1343.9 579.8L1344.3 579.7L1344.8 579.9L1345.2 579.8L1345.7 580.5L1346.1 580.6L1346.6 580.1L1347.0 580.4L1347.5 580.5L1347.9 580.3L1348.4 580.7L1348.8 580.6L1349.3 580.2L1349.7 580.4L1350.2 580.3L1350.6 580.8L1351.1 580.4L1351.5 580.8L1352.0 580.7L1352.4 580.4L1352.9 580.5L1353.3 580.5L1353.8 580.4L1354.2 581.0L1354.7 580.7L1355.1 581.0L1355.6 581.1L1356.0 581.0L1356.5 581.0L1356.9 581.1L1357.4 581.0L1357.8 581.4L1358.3 581.0L1358.7 581.3L1359.2 581.0L1359.6 581.2L1360.1 580.7L1360.5 581.4L1361.0 581.1L1361.4 581.5L1361.9 581.6L1362.3 581.7L1362.8 581.5L1363.2 581.6L1363.7 581.8L1364.1 581.7L1364.6 581.8L1365.0 581.6L1365.5 581.7L1365.9 582.2L1366.4 581.4L1366.8 581.5L1367.3 582.0L1367.7 582.1L1368.2 581.6L1368.6 581.5L1369.1 581.8L1369.5 582.1L1370.0 582.2L1370.4 581.8L1370.9 582.1L1371.3 581.7L1371.8 581.4L1372.2 581.9L1372.7 581.6L1373.1 581.8L1373.6 581.8L1374.0 581.5L1374.5 582.1L1374.9 582.1L1375.4 582.0L1375.8 582.2L1376.3 582.2L1376.7 582.1L1377.2 582.4L1377.6 582.4L1378.1 581.9L1378.5 582.0L1379.0 581.9L1379.4 581.8L1379.9 582.3L1380.3 581.9L1380.8 582.3L1381.2 582.3L1381.7 582.1L1382.1 582.7L1382.6 582.6L1383.0 582.9L1383.5 582.6L1383.9 582.8L1384.4 582.4L1384.8 582.4L1385.3 582.4L1385.7 582.1L1386.2 582.6L1386.6 582.5L1387.1 582.6L1387.5 582.1L1388.0 582.8L1388.4 582.2L1388.9 582.3L1389.3 582.1L1389.8 582.3L1390.2 582.4L1390.7 582.0L1391.1 582.3L1391.6 582.4L1392.0 582.1L1392.5 582.1L1392.9 582.5L1393.4 582.3L1393.8 582.2L1394.3 582.4L1394.7 582.6L1395.2 582.2L1395.6 582.4L1396.1 582.1L1396.5 582.0L1397.0 582.0L1397.4 582.2L1397.9 581.9L1398.3 582.1L1398.8 582.4L1399.2 582.0L1399.7 582.1L1400.1 582.3L1400.6 581.9L1401.0 582.4L1401.5 582.0L1401.9 582.9L1402.4 582.5L1402.8 582.0L1403.3 582.2L1403.7 581.8L1404.2 582.2L1404.6 582.3L1405.1 582.1L1405.5 582.4L1406.0 582.9L1406.4 582.8L1406.9 582.7L1407.3 582.3L1407.8 582.4L1408.2 582.8L1408.7 582.7L1409.1 582.7L1409.6 582.1L1410.0 582.5L1410.5 583.1L1410.9 582.9L1411.4 582.9L1411.8 582.7L1412.3 582.6L1412.7 582.9L1413.2 582.7L1413.6 582.5L1414.1 582.8L1414.5 582.0L1415.0 582.2L1415.4 582.7L1415.9 582.4L1416.3 583.0L1416.8 582.7L1417.2 582.8L1417.7 582.2L1418.1 582.6L1418.6 582.7L1419.0 582.9L1419.5 582.4L1419.9 582.8L1420.4 582.8L1420.8 582.7L1421.3 582.9L1421.7 582.5L1422.2 582.5L1422.6 582.4L1423.1 583.1L1423.5 582.5L1424.0 582.7L1424.4 582.9L1424.9 583.0L1425.3 582.5L1425.8 582.7L1426.2 582.5L1426.7 582.5L1427.1 582.6L1427.6 582.0L1428.0 582.8L1428.5 582.8L1428.9 582.4L1429.4 582.4L1429.8 582.2L1430.3 582.3L1430.7 582.4L1431.2 582.3L1431.6 582.3L1432.1 582.8L1432.5 582.6L1433.0 582.9L1433.4 582.5L1433.9 582.6L1434.3 582.3L1434.8 582.7L1435.2 582.7L1435.7 582.5L1436.1 582.6L1436.6 582.9L1437.0 582.3L1437.5 582.6L1437.9 582.9L1438.4 582.4L1438.8 582.8L1439.3 582.9L1439.7 583.1L1440.2 582.5L1440.6 583.3L1441.1 583.1L1441.5 582.9L1442.0 583.1L1442.4 582.3L1442.9 583.2L1443.3 583.4L1443.8 582.9L1444.2 582.1L1444.7 582.5L1445.1 582.2L1445.6 582.4L1446.0 582.4L1446.5 582.7L1446.9 582.2L1447.4 582.5L1447.8 582.8L1448.3 582.5L1448.7 582.6L1449.2 582.9L1449.6 582.7L1450.1 582.8L1450.5 582.9L1451.0 582.7L1451.4 582.8L1451.9 582.6L1452.3 582.4L1452.8 582.7L1453.2 583.0L1453.7 583.0L1454.1 582.7L1454.6 582.7L1455.0 582.8L1455.5 582.7L1455.9 582.9L1456.4 582.7L1456.8 582.9L1457.3 582.9L1457.7 582.8L1458.2 582.9L1458.6 583.0L1458.9 583.0L1459.1 582.6L1459.5 582.8L1460.0 582.9L1460.4 583.3L1460.9 582.8L1461.3 582.5L1461.8 582.8L1462.2 582.8L1462.7 583.2L1463.1 583.2L1463.6 582.4L1464.0 583.0L1464.5 582.9L1464.9 582.8L1465.4 582.5L1465.8 582.6L1466.3 582.5L1466.7 582.3L1467.2 582.7L1467.6 583.0L1468.1 582.9L1468.5 582.7L1469.0 583.0L1469.4 582.9L1469.9 582.8L1470.3 582.2L1470.8 582.4L1471.2 582.2L1471.7 582.4L1472.1 582.6L1472.6 582.4L1473.0 582.8L1473.5 582.6L1473.9 582.7L1474.4 583.1L1474.8 582.7L1475.3 583.0L1475.7 583.1L1476.2 582.6L1476.6 582.8L1477.1 582.9L1477.5 583.0L1478.0 582.4L1478.4 582.7L1478.9 582.7L1479.3 582.1L1479.8 582.6L1480.2 582.7L1480.7 583.0L1481.1 582.9L1481.6 582.6L1482.0 582.5L1482.5 583.3L1482.9 582.5L1483.4 582.4L1483.8 582.6L1484.3 582.7L1484.7 583.1L1485.2 582.5L1485.6 583.2L1486.1 583.3L1486.5 582.9L1487.0 583.0L1487.4 582.9L1487.9 583.1L1488.3 583.0L1488.8 582.8L1489.2 583.1L1489.7 583.0L1490.1 582.7L1490.6 582.6L1491.0 583.0L1491.5 582.9L1491.9 583.1L1492.4 583.3L1492.8 583.3L1493.3 583.2L1493.7 582.9L1494.2 583.0L1494.6 583.0L1495.1 582.6L1495.5 582.9L1496.0 583.4L1496.4 582.9L1496.9 583.3L1497.3 582.6L1497.8 583.2L1498.2 582.7L1498.7 582.7L1499.1 582.6L1499.6 582.6L1500.0 582.5L1500.5 582.6L1500.9 582.3L1501.4 583.0L1501.8 583.0L1502.3 582.6L1502.7 582.4L1503.2 583.0L1503.6 582.6L1504.1 582.9L1504.5 582.5L1505.0 582.8L1505.4 582.5L1505.9 582.6L1506.3 582.5L1506.8 582.7L1507.2 582.6L1507.7 582.7L1508.1 582.7L1508.6 583.0L1509.0 583.1L1509.5 582.9L1509.9 582.6L1510.4 582.6L1510.8 582.4L1511.3 582.6L1511.7 582.9L1512.2 582.6L1512.6 582.6L1513.1 582.5L1513.5 582.3L1514.0 582.3L1514.4 582.9L1514.9 582.5L1515.3 582.8L1515.8 582.6L1516.2 582.7L1516.7 582.7L1517.1 583.2L1517.6 583.3L1518.0 583.2L1518.5 583.0L1518.9 582.9L1519.4 583.1L1519.8 582.9L1520.3 582.9L1520.7 583.1L1521.2 582.8L1521.6 583.1L1522.1 582.8L1522.5 582.8L1523.0 582.5L1523.4 582.6L1523.9 582.9L1524.3 582.8L1524.8 582.7L1525.2 582.6L1525.7 583.0L1526.1 582.9L1526.6 583.0L1527.0 583.0L1527.5 582.6L1527.9 582.8L1528.4 582.5L1528.8 582.7L1529.3 582.9L1529.7 582.3L1530.2 582.4L1530.6 582.6L1531.1 582.5L1531.5 582.4L1532.0 582.8L1532.4 582.4L1532.9 582.8L1533.3 582.8L1533.8 582.7L1534.2 583.1L1534.7 583.2L1535.1 583.2L1535.6 583.2L1536.0 582.7L1536.5 582.9L1536.9 582.9L1537.4 583.0L1537.8 582.9L1538.3 582.8L1538.7 582.8L1539.2 583.1L1539.6 582.7L1540.1 582.3L1540.5 582.3L1541.0 583.0L1541.4 583.0L1541.9 582.3L1542.3 583.0L1542.8 582.9L1543.2 582.8L1543.7 582.6L1544.1 582.6L1544.6 583.1L1545.0 582.9L1545.5 583.3L1545.9 583.3L1546.4 582.9L1546.8 582.8L1547.3 582.5L1547.7 582.5L1548.2 582.3L1548.6 582.6L1549.1 582.3L1549.5 582.9L1550.0 582.4L1550.4 583.3L1550.9 583.1L1551.3 582.4L1551.8 583.1L1552.2 583.0L1552.7 582.7L1553.1 582.7L1553.6 582.7L1554.0 582.6L1554.5 582.4L1554.9 582.6L1555.4 582.9L1555.8 583.0L1556.3 582.9L1556.7 583.1L1557.2 582.5L1557.6 582.6L1558.1 582.9L1558.5 582.5L1559.0 583.1L1559.4 582.4L1559.9 582.5L1560.3 582.8L1560.8 582.7L1561.2 582.7L1561.7 583.0L1562.1 583.2L1562.6 583.4L1563.0 583.3L1563.5 582.9L1563.9 582.8L1564.4 583.1L1564.8 582.3L1565.3 582.3L1565.7 582.1L1566.2 582.7L1566.6 582.5L1567.1 582.8L1567.5 582.3L1568.0 582.4L1568.4 582.5L1568.9 583.4L1569.3 583.4L1569.8 583.2L1570.2 582.9L1570.7 582.7L1571.1 582.8L1571.6 582.9L1572.0 583.2L1572.5 582.9L1572.9 582.6L1573.4 583.0L1573.8 582.6L1574.3 582.4L1574.7 583.1L1575.2 582.4L1575.6 583.1L1576.1 582.5L1576.5 582.7L1577.0 582.5L1577.4 582.8L1577.9 583.0L1578.3 583.1L1578.8 583.1L1579.2 583.1L1579.7 582.9L1580.1 582.5L1580.6 582.9L1581.0 583.2L1581.5 583.3L1581.9 582.6L1582.4 582.5L1582.8 583.0L1583.3 582.8L1583.7 582.4L1584.2 581.9L1584.6 582.4L1585.1 582.4L1585.5 582.1L1586.0 582.7L1586.4 582.8L1586.9 582.9L1587.3 582.8L1587.8 582.4L1588.2 582.6L1588.7 582.4L1589.1 582.7L1589.6 582.9L1590.0 582.9L1590.5 583.2L1590.9 582.8L1591.4 583.0L1591.8 582.9L1592.3 582.9L1592.7 582.7L1593.2 583.2L1593.6 583.0L1594.1 582.8L1594.5 583.1L1595.0 582.9L1595.4 583.2L1595.9 582.6L1596.3 582.8L1596.8 582.4L1597.2 582.6L1597.7 583.1L1598.1 582.5L1598.6 583.1L1599.0 583.1L1599.5 582.6L1599.9 582.5L1600.4 582.6L1600.8 582.8L1601.3 582.3L1601.7 582.5L1602.2 582.3L1602.6 582.6L1603.1 582.9L1603.5 582.9L1604.0 583.0L1604.4 583.2L1604.9 583.3L1605.3 582.6L1605.8 582.8L1606.2 582.9L1606.7 582.4L1607.1 582.8L1607.6 583.3L1608.0 582.9L1608.5 582.8L1608.9 583.1L1609.4 582.4L1609.8 582.5L1610.3 582.5L1610.7 582.5L1611.2 582.8L1611.6 583.0L1612.1 582.6L1612.5 582.6L1613.0 582.7L1613.4 582.7L1613.9 582.9L1614.3 582.8L1614.8 582.8L1615.2 583.0L1615.7 582.7L1616.1 582.7L1616.6 582.4L1617.0 582.9L1617.5 582.9L1617.9 582.5L1618.4 582.5L1618.8 583.0L1619.3 582.8L1619.7 583.1L1620.2 582.7L1620.6 582.5L1621.1 583.0L1621.5 582.4L1622.0 582.9L1622.4 582.9L1622.9 582.8L1623.3 582.9L1623.8 582.7L1624.2 583.2L1624.7 582.8L1625.1 582.9L1625.6 582.7L1626.0 583.3L1626.5 583.1L1626.9 582.6L1627.4 582.8L1627.8 583.1L1628.3 582.9L1628.7 582.7L1629.2 582.9L1629.6 582.7L1630.1 582.7L1630.5 582.7L1631.0 582.6L1631.4 582.8L1631.9 583.2L1632.3 583.0L1632.8 583.2L1633.2 582.5L1633.7 583.1L1634.1 583.0L1634.6 582.6L1635.0 582.9L1635.5 583.1L1635.9 582.9L1636.4 582.8L1636.8 583.2L1637.3 582.6L1637.7 583.1L1638.2 583.3L1638.6 582.6L1639.1 582.6L1639.5 583.2L1640.0 583.3L1640.4 583.3L1640.9 582.9L1641.3 583.2L1641.8 582.5L1642.2 582.4L1642.7 582.5L1643.1 583.1L1643.6 582.5L1644.0 583.0L1644.5 582.8L1644.9 583.0L1645.4 582.7L1645.8 582.9L1646.3 582.2L1646.7 582.2L1647.2 582.9L1647.6 583.0L1648.1 583.1L1648.5 582.5L1649.0 582.7L1649.4 582.3L1649.9 582.5L1650.3 582.3L1650.8 582.7L1651.2 582.8L1651.7 582.6L1652.1 582.9L1652.6 582.6L1653.0 582.7L1653.5 583.0L1653.9 583.3L1654.4 582.9L1654.8 582.6L1655.3 582.4L1655.7 583.1L1656.2 582.9L1656.6 581.9L1657.1 582.4L1657.5 582.9L1658.0 582.5L1658.4 582.4L1658.9 582.5L1659.3 582.8L1659.8 582.6L1660.2 582.2L1660.7 582.7L1661.1 583.1L1661.6 583.2L1662.0 582.6L1662.5 582.8L1662.9 582.7L1663.4 583.3L1663.8 582.6L1664.3 583.0L1664.7 582.6L1665.2 582.9L1665.6 582.8L1666.1 583.0L1666.5 582.4L1667.0 582.6L1667.4 582.5L1667.9 582.0L1668.3 582.8L1668.8 582.6L1669.2 582.4L1669.7 582.6L1670.1 582.5L1670.6 582.8L1671.0 583.0L1671.5 582.9L1671.9 583.2L1672.4 583.1L1672.8 582.8L1673.3 582.7L1673.7 582.7L1674.2 582.9L1674.6 583.0L1675.1 582.8L1675.5 583.2L1676.0 583.2L1676.4 583.2L1676.9 582.8L1677.3 582.7L1677.8 582.5L1678.2 582.8L1678.7 582.9L1679.1 582.8L1679.6 583.1L1680.0 583.0L1680.5 582.6L1680.9 583.2L1681.4 582.7L1681.8 582.7L1682.3 582.4L1682.7 582.3L1683.2 582.6L1683.6 582.4L1684.1 582.9L1684.5 582.4L1685.0 582.5L1685.4 582.8L1685.9 582.8L1686.3 582.9L1686.8 583.1L1687.2 582.8L1687.7 582.8L1688.1 582.9L1688.6 582.5L1689.0 582.6L1689.5 582.9L1689.9 582.9L1690.4 583.0L1690.8 583.1L1691.3 582.6L1691.7 582.8L1692.2 583.0L1692.6 582.9L1693.1 583.2L1693.5 582.7L1694.0 583.2L1694.4 582.5L1694.9 582.5L1695.3 582.9L1695.8 582.9L1696.2 582.6L1696.7 582.6L1697.1 583.3L1697.6 582.6L1698.0 582.8L1698.5 582.6L1698.9 582.6L1699.4 582.5L1699.8 583.1L1700.3 582.9L1700.7 583.1L1701.2 582.7L1701.6 583.3L1702.1 582.8L1702.5 582.8L1703.0 583.1L1703.4 583.0L1703.9 582.9L1704.3 582.8L1704.8 583.0L1705.2 582.9L1705.7 582.6L1706.1 582.6L1706.6 582.6L1707.0 583.0L1707.5 583.0L1707.9 582.8L1708.4 582.6L1708.8 583.1L1709.3 583.0L1709.7 582.8L1710.2 582.7L1710.6 582.8L1711.1 582.6L1711.5 583.2L1712.0 583.2L1712.4 583.0L1712.9 582.7L1713.3 583.2L1713.8 582.9L1714.2 582.7L1714.7 582.6L1715.1 582.6L1715.6 582.7L1716.0 582.9L1716.5 582.9L1716.9 582.9L1717.4 583.3L1717.8 582.5L1718.3 582.9L1718.7 582.8L1719.2 583.0L1719.6 582.7L1720.1 583.0L1720.5 582.9L1721.0 583.1L1721.4 582.6L1721.9 583.4L1722.3 583.4L1722.8 583.4L1723.2 583.5L1723.7 583.2L1724.1 583.2L1724.6 582.6L1725.0 582.5L1725.5 582.7L1725.9 582.5L1726.4 582.9L1726.8 583.0L1727.3 582.7L1727.7 582.8L1728.2 582.6L1728.6 582.7L1729.1 582.6L1729.5 582.6L1730.0 582.7L1730.4 583.1L1730.9 582.8L1731.3 582.8L1731.8 583.1L1732.2 582.6L1732.7 583.4L1733.1 583.5L1733.6 583.0L1734.0 583.0L1734.5 582.7L1734.9 583.2L1735.4 582.7L1735.8 583.0L1736.3 583.2L1736.7 583.1L1737.2 583.0L1737.6 583.0L1738.1 582.7L1738.5 582.5L1739.0 583.1L1739.4 582.8L1739.9 583.0L1740.3 582.4L1740.8 582.7L1741.2 583.0L1741.7 582.9L1742.1 582.8L1742.6 582.8L1743.0 582.8L1743.5 583.2L1743.9 582.6L1744.4 582.9L1744.8 583.0L1745.3 582.8L1745.7 582.5L1746.2 582.5L1746.6 582.9L1747.1 583.2L1747.5 583.0L1748.0 582.8L1748.4 582.9L1748.9 582.8L1749.3 583.1L1749.8 582.9L1750.2 583.0L1750.7 582.8L1751.1 583.0L1751.6 582.5L1752.0 582.8L1752.5 582.9L1752.9 582.9L1753.4 582.7L1753.8 582.7L1754.3 583.0L1754.7 582.7L1755.2 582.9L1755.6 582.5L1756.1 582.8L1756.5 582.9L1757.0 583.0L1757.4 583.0L1757.9 582.8L1758.3 582.6L1758.8 582.9L1759.2 583.0L1759.7 582.7L1760.1 582.7L1760.6 582.5L1761.0 583.1L1761.5 582.8L1761.9 582.6L1762.4 583.2L1762.8 583.2L1763.3 582.9L1763.7 583.1L1764.2 583.2L1764.6 582.8L1765.1 582.3L1765.5 582.9L1766.0 582.7L1766.4 583.0L1766.9 582.7L1767.3 583.1L1767.8 582.9L1768.2 582.9L1768.7 583.3L1769.1 582.8L1769.6 582.6L1770.0 582.8L1770.5 582.7L1770.9 583.0L1771.4 583.1L1771.8 583.2L1772.3 583.1L1772.7 583.2L1773.2 582.8L1773.6 582.8L1774.1 582.5L1774.5 583.1L1775.0 582.8L1775.4 582.9L1775.9 582.7L1776.3 583.1L1776.8 582.8L1777.2 582.4L1777.7 582.9L1778.1 582.7L1778.6 582.4L1779.0 583.0L1779.5 582.6L1779.9 582.7L1780.4 582.8L1780.8 583.0L1781.3 582.8L1781.7 582.8L1782.2 582.5L1782.6 582.7L1783.1 583.1L1783.5 582.9L1784.0 582.9L1784.4 582.8L1784.9 583.1L1785.3 583.3L1785.8 583.0L1786.2 582.6L1786.7 582.9L1787.1 582.4L1787.6 582.5L1788.0 582.6L1788.5 582.6L1788.9 582.8L1789.4 582.7L1789.8 582.5L1790.3 582.8L1790.7 583.1L1791.2 582.7L1791.6 583.0L1792.1 583.0L1792.5 583.2L1793.0 582.6L1793.4 583.1L1793.9 583.1L1794.3 582.9L1794.8 582.7L1795.2 582.6L1795.7 582.6L1796.1 582.6L1796.6 582.6L1797.0 582.9L1797.5 582.9L1797.9 582.5L1798.4 582.7L1798.8 582.9L1799.3 582.6L1799.7 582.7L1800.2 583.0L1800.6 582.9L1801.1 582.8L1801.5 583.0L1802.0 582.9L1802.4 582.7L1802.9 582.9L1803.3 582.8L1803.8 582.8L1804.2 583.0L1804.7 582.8L1805.1 582.6L1805.6 583.2L1806.0 583.2L1806.5 582.9L1806.9 583.2L1807.4 582.5L1807.8 582.3L1808.3 582.9L1808.7 582.8L1809.2 582.4L1809.6 582.7L1810.1 582.6L1810.5 583.1L1811.0 582.9L1811.4 583.1L1811.9 583.3L1812.3 583.1L1812.8 583.1L1813.2 582.5L1813.7 583.0L1814.1 582.6L1814.6 582.7L1815.0 582.6L1815.5 583.2L1815.9 582.5L1816.4 582.9M1860.9 582.8L1861.4 582.7L1861.8 582.7L1862.3 582.9L1862.7 583.1L1863.2 583.0L1863.6 582.8L1864.1 583.1L1864.5 583.2L1865.0 582.7L1865.4 583.1L1865.9 582.8L1866.3 582.5L1866.8 582.8L1867.2 582.6L1867.7 582.7L1868.1 582.0L1868.6 582.9L1869.0 582.7L1869.5 582.9L1869.9 583.0L1870.4 582.7L1870.8 582.6L1871.3 583.0L1871.7 583.1L1872.2 583.0L1872.6 583.0L1873.1 582.6L1873.5 582.4L1874.0 582.7L1874.4 582.4L1874.9 582.3L1875.3 582.9L1875.8 582.7L1876.2 582.8L1876.7 582.9L1877.1 582.8L1877.6 583.1L1878.0 583.1L1878.5 582.7L1878.9 582.4L1879.4 582.5L1879.8 582.9L1880.3 582.8L1880.7 582.3L1881.2 582.5L1881.6 582.5L1882.1 582.3L1882.5 582.6L1883.0 582.7L1883.4 582.6L1883.9 582.5L1884.3 582.8L1884.8 582.5L1885.2 582.4L1885.7 582.8L1886.1 582.3L1886.6 583.0L1887.0 582.4L1887.5 582.5L1887.9 582.8L1888.4 582.9L1888.8 582.5L1889.3 583.0L1889.7 583.1L1890.2 583.2L1890.6 582.7L1891.1 582.9L1891.5 583.0L1892.0 582.8L1892.4 581.9L1892.9 582.3L1893.3 582.6L1893.8 582.5L1894.2 582.7L1894.7 582.3L1895.1 583.0L1895.6 582.6L1896.0 583.0L1896.5 583.0L1896.9 583.2L1897.4 582.8L1897.8 583.2L1898.3 583.2L1898.7 582.4L1899.2 582.6L1899.6 582.5L1900.1 582.9L1900.5 582.7L1901.0 583.0L1901.4 583.2L1901.9 583.1L1902.3 583.1L1902.8 582.9L1903.2 582.2L1903.7 582.4L1904.1 583.2L1904.6 582.9L1905.0 582.7L1905.5 583.1L1905.9 582.9L1906.4 583.2L1906.8 582.8L1907.3 583.3L1907.7 582.9L1908.2 582.9L1908.6 582.9L1909.1 583.0L1909.5 582.6L1910.0 582.8L1910.4 582.8L1910.9 582.9L1911.3 583.0L1911.8 583.0L1912.2 583.2L1912.7 582.9L1913.1 582.6L1913.6 583.0L1914.0 582.4L1914.5 583.0L1914.9 582.3L1915.4 583.1L1915.8 582.7L1916.3 583.1L1916.7 582.9L1917.2 583.3L1917.6 583.0L1918.1 582.8L1918.5 583.4L1919.0 583.1L1919.4 583.4L1919.9 583.1L1920.3 582.9L1920.8 583.3L1921.2 582.4L1921.7 583.0L1922.1 582.8L1922.6 583.3L1923.0 582.6L1923.5 582.6L1923.9 582.9L1924.4 582.9L1924.8 582.8L1925.3 582.9L1925.7 582.5L1926.2 582.9L1926.6 583.1L1927.1 582.9L1927.5 582.9L1928.0 583.0L1928.4 583.0L1928.9 582.6L1929.3 582.7L1929.8 582.4L1930.2 582.7L1930.7 582.7L1931.1 582.4L1931.6 582.8L1932.0 582.5L1932.5 582.9L1932.9 582.7L1933.4 582.8L1933.8 582.8L1934.3 582.9L1934.7 583.0L1935.2 583.2L1935.6 583.1L1936.1 582.6L1936.5 582.7L1937.0 582.8L1937.4 582.4L1937.9 582.5L1938.3 582.8L1938.8 583.0L1939.2 582.6L1939.7 583.1L1940.1 582.8L1940.6 583.1L1941.0 583.0L1941.5 583.1L1941.9 583.5L1942.4 583.0L1942.8 583.4L1943.1 582.5L1943.3 582.8L1943.7 582.7L1944.2 582.6L1944.6 582.6L1945.1 583.1L1945.5 583.1L1946.0 582.9L1946.4 583.4L1946.9 582.8L1947.3 582.6L1947.8 582.8L1948.2 583.4L1948.7 583.2L1949.1 583.1L1949.6 582.3L1950.0 582.2L1950.5 582.4L1950.9 582.4L1951.4 582.6L1951.8 582.2L1952.3 582.7L1952.7 582.8L1953.2 583.0L1953.6 582.3L1954.1 582.7L1954.5 582.8L1955.0 583.0L1955.4 582.7L1955.9 582.6L1956.3 582.7L1956.8 582.7L1957.2 582.3L1957.7 582.6L1958.1 582.5L1958.6 582.6L1959.0 583.2L1959.5 583.1L1959.9 583.0L1960.4 582.5L1960.8 583.1L1961.3 582.6L1961.7 582.9L1962.2 583.0L1962.6 581.5L1963.1 583.0L1963.5 582.9L1964.0 582.9L1964.4 582.8L1964.9 583.0L1965.3 582.6L1965.8 582.7L1966.2 582.5L1966.7 582.6L1967.1 582.4L1967.6 582.6L1968.0 582.7L1968.5 582.8L1968.9 582.8L1969.4 582.7L1969.8 582.9L1970.3 582.4L1970.7 583.0L1971.2 583.0L1971.6 583.0L1972.1 582.8L1972.5 582.5L1973.0 582.7L1973.4 582.4L1973.9 583.0L1974.3 583.0L1974.8 583.3L1975.2 582.5L1975.7 582.7L1976.1 582.8L1976.6 582.9L1977.0 582.5L1977.5 583.0L1977.9 582.5L1978.4 582.6L1978.8 582.6L1979.3 582.7L1979.7 582.4L1980.2 582.9L1980.6 583.0L1981.1 582.9L1981.5 583.1L1982.0 583.1L1982.4 582.5L1982.9 582.6L1983.3 582.4L1983.8 582.0L1984.2 582.7L1984.7 582.2L1985.1 582.7L1985.6 582.3L1986.0 583.1L1986.5 582.6L1986.9 582.8L1987.4 582.6L1987.8 582.5L1988.3 582.7L1988.7 582.2L1989.2 582.7L1989.6 582.9L1990.1 582.6L1990.5 582.5L1991.0 582.6L1991.4 583.0L1991.9 583.0L1992.3 582.8L1992.8 583.1L1993.2 582.9L1993.7 582.4L1994.1 583.0L1994.6 582.4L1995.0 582.3L1995.5 582.6L1995.9 582.3L1996.4 582.8L1996.8 582.6L1997.3 582.0L1997.7 582.3L1998.2 582.5L1998.6 582.7L1999.1 582.8L1999.5 582.0L2000.0 582.2L2000.4 581.9L2000.9 582.6L2001.3 582.5L2001.8 581.8L2002.2 581.8L2002.7 582.3L2003.1 581.8L2003.6 582.0L2004.0 582.2L2004.5 582.2L2004.9 581.8L2005.4 581.7L2005.8 582.1M2050.8 577.8L2051.3 577.3L2051.7 578.0L2052.2 577.0L2052.6 578.1L2053.1 578.0L2053.5 577.7L2054.0 578.0L2054.4 578.1L2054.9 578.1L2055.3 578.3L2055.8 577.4L2056.2 578.0L2056.7 577.8L2057.1 576.9L2057.6 577.2L2058.0 577.3L2058.5 577.8L2058.9 577.1L2059.4 577.2L2059.8 577.7L2060.3 577.7L2060.7 577.5L2061.2 577.0L2061.6 577.1L2062.1 577.2L2062.5 577.3L2063.0 577.2L2063.4 577.7L2063.9 577.6L2064.3 577.6L2064.8 577.2L2065.2 577.0L2065.7 577.6L2066.1 577.1L2066.6 577.1L2067.0 576.9L2067.5 577.1L2067.9 576.6L2068.4 577.3L2068.8 577.5L2069.3 577.0L2069.7 577.6L2070.2 577.2L2070.6 576.9L2071.1 577.5L2071.5 577.4L2072.0 577.6L2072.4 577.3L2072.9 577.6L2073.3 577.4L2073.8 576.8L2074.2 577.2L2074.7 577.0L2075.1 576.8L2075.6 577.0L2076.0 577.6L2076.5 577.1L2076.9 577.3L2077.4 577.1L2077.8 575.9L2078.3 577.5L2078.7 576.8L2079.2 576.9L2079.6 577.0L2080.1 576.8L2080.5 576.4L2081.0 576.6L2081.4 577.1L2081.9 576.8L2082.3 576.8L2082.8 576.5L2083.2 576.4L2083.7 576.6L2084.1 576.7L2084.6 576.4L2085.0 577.0L2085.5 576.9L2085.9 576.6L2086.4 576.4L2086.8 576.6L2087.3 576.6L2087.7 576.7L2088.2 576.9L2088.6 576.4L2089.1 576.7L2089.5 576.1L2090.0 576.1L2090.4 576.9L2090.9 576.4L2091.3 576.0L2091.8 576.7L2092.2 576.6L2092.7 575.7L2093.1 576.5L2093.6 575.7L2094.0 575.9L2094.5 575.8L2094.9 576.1L2095.4 576.8L2095.8 576.4L2096.3 576.4L2096.7 576.1L2097.2 576.1L2097.6 575.7L2098.1 576.4L2098.5 575.8L2099.0 576.4L2099.4 576.0L2099.9 575.5L2100.3 575.9L2100.8 575.8L2101.2 575.7L2101.7 576.0L2102.1 575.8L2102.6 576.2L2103.0 576.1L2103.5 576.0L2103.9 576.1L2104.4 576.0L2104.8 576.1L2105.3 575.9L2105.7 576.1L2106.2 576.0L2106.6 576.6L2107.1 575.6L2107.5 576.3L2108.0 575.8L2108.4 576.6L2108.9 576.0L2109.3 576.5L2109.8 576.4L2110.2 576.2L2110.7 575.9L2111.1 576.2L2111.6 576.4L2112.0 576.5L2112.5 576.5L2112.9 576.3L2113.4 576.2L2113.8 576.1L2114.3 576.1L2114.7 576.1L2115.2 575.4L2115.6 576.1L2116.1 576.0L2116.5 576.2L2117.0 575.4L2117.4 575.5L2117.9 576.1L2118.3 576.0L2118.8 576.1L2119.2 576.2L2119.7 576.4L2120.1 576.5L2120.6 576.3L2121.0 576.4L2121.5 576.4L2121.9 575.9L2122.4 575.7L2122.8 575.6L2123.3 576.0L2123.7 576.0L2124.2 576.7L2124.6 575.9L2125.1 576.4L2125.5 575.5L2126.0 576.2L2126.4 576.6L2126.9 576.0L2127.3 576.7L2127.8 576.3L2128.2 575.9L2128.7 575.2L2129.1 576.3L2129.6 575.8L2130.0 576.5L2130.5 576.2L2130.9 575.9L2131.4 575.7L2131.8 576.1L2132.3 575.5L2132.7 575.5L2133.2 576.4L2133.6 575.7L2134.1 576.2L2134.5 575.7L2135.0 576.4L2135.4 575.8L2135.9 575.7L2136.3 576.6L2136.8 576.6L2137.2 575.9L2137.7 575.5L2138.1 575.5L2138.6 576.5L2139.0 576.0L2139.5 575.4L2139.9 576.4L2140.4 575.4L2140.8 574.7L2141.3 575.4L2141.7 576.2L2142.2 576.1L2142.6 576.4L2143.1 576.2L2143.5 575.6L2144.0 575.4L2144.4 575.8L2144.9 575.7L2145.3 575.9L2145.8 575.7L2146.2 576.3L2146.7 575.8L2147.1 575.7L2147.6 576.1L2148.0 575.6L2148.5 575.6L2148.9 575.8L2149.4 575.9L2149.8 575.9L2150.3 575.8L2150.7 576.0L2151.2 576.1L2151.6 575.5L2152.1 576.4L2152.5 576.0L2153.0 575.5L2153.4 576.2L2153.9 576.3L2154.3 576.2L2154.8 576.4L2155.2 576.1L2155.7 575.5L2156.1 575.8L2156.6 576.5L2157.0 576.2L2157.5 576.7L2157.9 576.2L2158.4 575.8L2158.8 575.9L2159.3 575.5L2159.7 575.6L2160.2 575.6L2160.6 575.1L2161.1 574.9L2161.5 575.0L2162.0 574.7L2162.4 575.0L2162.9 575.1L2163.3 575.0L2163.8 575.5L2164.2 575.9L2164.7 575.1L2165.1 575.8L2165.6 576.2L2166.0 575.4L2166.5 576.0L2166.9 575.7L2167.4 576.0L2167.8 576.0L2168.3 576.1L2168.7 575.7L2169.2 576.1L2169.6 575.9L2170.1 576.1L2170.5 576.0L2171.0 575.6L2171.4 575.6L2171.9 575.8L2172.3 575.3L2172.8 575.4L2173.2 575.3L2173.7 575.6L2174.1 576.0L2174.6 576.0L2175.0 575.8L2175.5 576.4L2175.9 576.1L2176.4 575.9L2176.8 576.4L2177.3 576.2L2177.7 576.0L2178.2 575.2L2178.6 570.8L2179.0 569.4L2179.1 569.1L2179.5 572.2L2180.0 575.5L2180.4 575.5L2180.9 575.3L2181.3 576.3L2181.8 575.9L2182.2 576.3L2182.7 576.2L2183.1 575.9L2183.6 576.1L2184.0 575.3L2184.5 575.7L2184.9 575.5L2185.4 575.9L2185.8 575.7L2186.3 575.7L2186.7 576.1L2187.2 576.1L2187.6 576.4L2188.1 575.9L2188.5 576.0L2189.0 576.1L2189.4 576.1L2189.9 576.4L2190.3 576.0L2190.8 576.3L2191.2 576.0L2191.7 576.5L2192.1 576.1L2192.6 576.1L2193.0 576.7L2193.5 576.0L2193.9 575.9L2194.4 576.0L2194.8 575.7L2195.3 575.7L2195.7 575.4L2196.2 576.0L2196.6 575.7L2197.1 576.3L2197.5 575.9L2198.0 576.3L2198.4 575.9L2198.9 576.1L2199.3 576.5L2199.8 576.1L2200.2 576.0L2200.7 576.0L2201.1 575.6L2201.6 575.8L2202.0 575.8L2202.5 576.0L2202.9 576.1L2203.4 575.8L2203.8 575.9L2204.3 576.4L2204.7 576.6L2205.2 576.5L2205.6 576.1L2206.1 575.0L2206.5 576.4L2207.0 576.3L2207.4 576.4L2207.9 576.4L2208.3 576.1L2208.8 576.1L2209.2 576.2L2209.7 575.7L2210.1 576.2L2210.6 575.6L2211.0 576.2L2211.5 575.7L2211.9 576.1L2212.4 575.5L2212.8 576.3L2213.3 575.5L2213.7 576.0L2214.2 575.3L2214.6 576.2L2215.1 575.4L2215.5 575.9L2216.0 576.0L2216.4 576.7L2216.9 575.8L2217.3 576.5L2217.8 576.1L2218.2 576.3L2218.7 575.8L2219.1 575.5L2219.6 575.7L2220.0 576.4L2220.5 576.2L2220.9 576.6L2221.4 576.2L2221.8 576.0L2222.3 576.1L2222.7 575.9L2223.2 575.6L2223.6 575.7L2224.1 575.2L2224.5 575.6L2225.0 575.4L2225.4 576.1L2225.9 575.6L2226.3 575.4L2226.8 576.0L2227.2 576.2L2227.7 576.2L2228.1 576.5L2228.6 575.5L2229.0 576.4L2229.5 575.8L2229.9 576.6L2230.4 576.3L2230.8 575.9L2231.3 576.1L2231.7 576.6L2232.2 576.4L2232.6 576.7L2233.1 576.3L2233.5 576.7L2234.0 576.7L2234.4 576.4L2234.9 576.5L2235.3 576.4L2235.8 576.2L2236.2 576.4L2236.7 575.9L2237.1 576.7L2237.6 576.5L2238.0 576.3L2238.5 576.4L2238.9 575.9L2239.4 575.8L2239.8 576.1L2240.3 575.9L2240.7 576.3L2241.2 575.8L2241.6 576.3L2242.1 575.6L2242.5 576.2L2243.0 576.0L2243.4 576.7L2243.9 576.4L2244.3 576.1L2244.8 576.6L2245.2 576.5L2245.7 575.9L2246.1 576.1L2246.6 576.0L2247.0 576.1L2247.5 576.1L2247.9 575.9L2248.4 575.8L2248.8 575.9L2249.3 576.0L2249.7 575.8L2250.2 575.7L2250.6 575.9L2251.1 576.2L2251.5 575.6L2252.0 575.9L2252.4 575.8L2252.9 576.0L2253.3 576.4L2253.8 576.2L2254.2 576.4L2254.7 576.2L2255.1 575.8L2255.6 575.7L2256.0 576.6L2256.5 575.8L2256.9 575.9L2257.4 576.4L2257.8 575.7L2258.3 575.7L2258.7 575.6L2259.2 576.2L2259.6 576.2L2260.1 576.8L2260.5 576.6L2261.0 576.4L2261.4 575.8L2261.9 576.5L2262.3 576.5L2262.8 576.0L2263.2 576.1L2263.7 575.3L2264.1 575.9L2264.6 576.2L2265.0 576.3L2265.5 576.4L2265.9 575.8L2266.4 576.1L2266.8 576.1L2267.3 575.8L2267.7 575.6L2268.2 576.3L2268.6 576.1L2269.1 575.9L2269.5 576.1L2270.0 576.5L2270.4 575.9L2270.9 575.6L2271.3 576.5L2271.8 576.4L2272.2 576.4L2272.7 576.2L2273.1 576.6L2273.6 576.4L2274.0 575.9L2274.5 575.9L2274.9 576.0L2275.4 575.8L2275.8 576.3L2276.3 576.1L2276.7 576.1L2277.2 576.5L2277.6 575.9L2278.1 576.2L2278.5 576.7L2279.0 576.1L2279.4 576.7L2279.9 576.1L2280.3 576.0L2280.8 576.0L2281.2 576.2L2281.7 576.2L2282.1 575.9L2282.6 576.0L2283.0 576.2L2283.5 575.9L2283.9 576.1L2284.4 576.1L2284.8 576.4L2285.3 575.7L2285.7 575.8L2286.2 575.7L2286.6 576.6L2287.1 576.2L2287.5 575.9L2288.0 575.9L2288.4 576.6L2288.9 576.6L2289.3 576.3L2289.8 576.0L2290.2 576.1L2290.7 576.1L2291.1 575.0L2291.6 576.1L2292.0 576.2L2292.5 575.8L2292.9 576.4L2293.4 576.6L2293.8 576.9L2294.3 576.1L2294.7 576.7L2295.2 576.3L2295.6 576.6L2296.1 576.1L2296.5 576.3L2297.0 576.1L2297.4 576.2L2297.9 576.1L2298.3 575.8L2298.8 576.1L2299.2 576.5L2299.7 576.0L2300.1 576.1L2300.6 575.9L2301.0 576.4L2301.5 576.5L2301.9 576.3L2302.4 576.2L2302.8 576.3L2303.3 576.1L2303.7 576.0L2304.2 576.4L2304.6 576.3L2305.1 576.3L2305.5 576.7L2306.0 576.2L2306.4 576.6L2306.9 576.3L2307.3 575.6L2307.8 575.8L2308.2 575.9L2308.7 576.4L2309.1 575.7L2309.6 576.5L2310.0 575.5L2310.5 576.0L2310.9 576.2L2311.4 576.6L2311.8 576.3L2312.3 576.1L2312.7 576.2L2313.2 576.2L2313.6 575.3L2314.1 576.2L2314.5 576.5L2315.0 576.0L2315.4 575.8L2315.9 576.5L2316.3 576.2L2316.8 576.0L2317.2 576.2L2317.7 576.0L2318.1 576.1L2318.6 576.6L2319.0 575.9L2319.5 576.1L2319.9 576.0L2320.4 576.1L2320.8 575.4L2321.3 576.4L2321.7 575.7L2322.2 576.4L2322.6 575.7L2323.1 576.6L2323.5 575.9L2324.0 576.1L2324.4 576.3L2324.9 576.7L2325.3 575.9L2325.8 575.9L2326.2 576.1L2326.7 576.0L2327.1 576.1L2327.6 576.5L2328.0 575.9L2328.5 576.4L2328.9 576.3L2329.4 576.8L2329.8 576.0L2330.3 576.3L2330.7 575.9L2331.2 576.3L2331.6 576.4L2332.1 576.4L2332.5 576.1L2333.0 576.4L2333.4 576.5L2333.9 576.2L2334.3 575.9L2334.8 575.6L2335.2 575.7L2335.7 575.6L2336.1 576.4L2336.6 576.4L2337.0 575.9L2337.5 575.8L2337.9 576.3L2338.4 576.3L2338.8 575.5L2339.3 576.2L2339.7 576.3L2340.2 576.0L2340.6 576.0L2341.1 575.9L2341.5 576.1L2342.0 576.0L2342.4 575.8L2342.9 576.0L2343.3 576.4L2343.8 575.8L2344.2 575.9L2344.7 575.4L2345.1 576.3L2345.6 576.2L2346.0 576.6L2346.5 575.6L2346.9 575.9L2347.4 576.7L2347.8 575.8L2348.3 576.3L2348.7 576.6L2349.2 576.1L2349.6 576.0L2350.1 576.0L2350.5 575.7L2351.0 576.4L2351.4 576.3L2351.9 576.0L2352.3 576.1L2352.8 576.5L2353.2 576.2L2353.7 575.8L2354.1 576.1L2354.6 576.5L2355.0 576.8L2355.5 576.3L2355.9 576.5L2356.4 576.1L2356.8 576.1L2357.3 576.6L2357.7 576.1L2358.2 576.3L2358.6 575.7L2359.1 576.5L2359.5 576.5L2360.0 576.3L2360.4 575.9L2360.9 576.3L2361.3 576.3L2361.8 575.8L2362.2 575.9L2362.7 576.6L2363.1 576.5L2363.6 576.3L2364.0 576.1L2364.5 576.5L2364.9 576.3L2365.4 576.4L2365.8 576.5L2366.3 576.3L2366.7 576.6L2367.2 576.7L2367.6 576.3L2368.1 575.8L2368.5 576.3L2369.0 576.4L2369.4 576.2L2369.9 576.3L2370.3 576.6L2370.8 576.5" stroke="#ff1010" stroke-width="3.9"/>
<path d="M1815.9 582.5L1816.4 582.9L1816.8 582.8L1817.3 582.8L1817.7 582.8L1818.2 582.8L1818.6 582.8L1819.1 582.8L1819.5 582.8L1820.0 582.9L1820.4 582.8L1820.9 582.7L1821.3 582.7L1821.8 582.8L1822.2 582.7L1822.7 582.8L1823.1 582.9L1823.6 582.7L1824.0 582.7L1824.5 582.8L1824.9 582.7L1825.4 582.9L1825.8 582.8L1826.3 582.7L1826.7 582.9L1827.2 582.9L1827.6 582.8L1828.1 582.8L1828.5 582.8L1829.0 582.7L1829.4 582.7L1829.9 582.7L1830.3 582.7L1830.8 582.8L1831.2 582.8L1831.7 582.7L1832.1 582.7L1832.6 582.7L1833.0 582.8L1833.5 582.7L1833.9 582.9L1834.4 583.0L1834.8 582.9L1835.3 582.9L1835.7 582.7L1836.2 582.9L1836.6 582.9L1837.1 582.9L1837.5 582.7L1838.0 582.7L1838.4 582.4L1838.9 578.7L1839.2 577.7L1839.3 577.9L1839.8 580.5L1840.2 582.8L1840.7 582.7L1841.1 582.9L1841.6 582.8L1842.0 582.8L1842.5 582.6L1842.9 582.9L1843.4 582.8L1843.8 582.8L1844.3 582.8L1844.7 582.8L1845.2 582.8L1845.6 582.8L1846.1 582.8L1846.5 582.8L1847.0 582.8L1847.4 582.9L1847.9 582.9L1848.3 582.8L1848.8 582.8L1849.2 582.8L1849.7 582.9L1850.1 582.8L1850.6 582.8L1851.0 582.9L1851.5 582.8L1851.9 582.7L1852.4 582.8L1852.8 582.8L1853.3 582.8L1853.7 582.7L1854.2 582.8L1854.6 582.8L1855.1 582.8L1855.5 582.8L1856.0 582.9L1856.4 582.9L1856.9 582.8L1857.3 582.8L1857.8 582.7L1858.2 582.8L1858.7 582.7L1859.1 582.9L1859.6 582.9L1860.0 582.9L1860.5 582.9L1860.9 582.8L1861.4 582.7M2005.4 581.7L2005.8 582.1L2006.3 582.0L2006.7 582.1L2007.2 582.2L2007.6 582.1L2008.1 582.1L2008.5 582.1L2009.0 582.1L2009.4 582.1L2009.9 581.9L2010.3 582.0L2010.8 582.0L2011.2 581.9L2011.7 581.9L2012.1 581.9L2012.6 581.8L2013.0 581.8L2013.5 581.9L2013.9 581.8L2014.4 581.8L2014.8 581.8L2015.3 581.8L2015.7 581.7L2016.2 581.8L2016.6 581.7L2017.1 581.7L2017.5 581.7L2018.0 581.6L2018.4 581.7L2018.9 581.7L2019.3 581.6L2019.8 581.5L2020.2 581.6L2020.7 581.6L2021.1 581.6L2021.6 581.5L2022.0 581.4L2022.5 581.6L2022.9 581.6L2023.4 581.5L2023.8 581.1L2024.3 565.6L2024.7 523.0L2025.1 513.4L2025.2 513.4L2025.6 530.9L2026.1 572.8L2026.5 582.0L2027.0 582.7L2027.4 583.1L2027.9 583.5L2028.3 583.3L2028.8 583.1L2029.2 582.3L2029.7 581.5L2030.1 580.5L2030.6 579.7L2031.0 579.2L2031.5 578.9L2031.9 578.9L2032.4 578.7L2032.8 578.8L2033.3 578.7L2033.7 578.6L2034.2 578.5L2034.6 578.5L2035.1 578.6L2035.5 578.6L2036.0 578.5L2036.4 578.5L2036.9 578.6L2037.3 578.5L2037.8 578.3L2038.2 578.4L2038.7 578.4L2039.1 578.4L2039.6 578.3L2040.0 578.3L2040.5 578.3L2040.9 578.2L2041.4 578.3L2041.8 578.2L2042.3 578.2L2042.7 578.2L2043.2 578.0L2043.6 578.0L2044.1 578.1L2044.5 578.0L2045.0 578.0L2045.4 577.9L2045.9 578.0L2046.3 578.0L2046.8 577.9L2047.2 577.9L2047.7 578.0L2048.1 577.9L2048.6 577.9L2049.0 577.8L2049.5 577.8L2049.9 577.9L2050.4 577.9L2050.8 577.8L2051.3 577.3" stroke="#ff1010" stroke-width="3.0"/>
<line x1="2025.1" y1="514.5" x2="2025.1" y2="580.6" stroke="#ff1010" stroke-width="3.3" stroke-linecap="butt"/>
<path d="M1274.1 499.8L1274.5 500.0L1275.0 499.1L1275.5 499.5L1275.9 499.0L1276.4 499.3L1276.8 499.5L1277.3 499.6L1277.7 499.5L1278.2 499.3L1278.6 499.4L1279.1 499.8L1279.5 499.1L1280.0 499.8L1280.4 499.6L1280.9 498.9L1281.3 499.1L1281.8 499.4L1282.2 499.6L1282.7 499.5L1283.1 499.4L1283.6 499.5L1284.0 498.9L1284.5 499.8L1284.9 499.0L1285.4 499.3L1285.8 499.1L1286.3 499.1L1286.7 499.6L1287.2 499.8L1287.6 499.3L1288.1 499.5L1288.5 499.3L1289.0 499.5L1289.4 499.3L1289.9 499.1L1290.3 499.2L1290.8 499.6L1291.2 499.7L1291.7 499.5L1292.1 499.4L1292.6 500.2L1293.0 500.2L1293.5 499.3L1293.9 499.7L1294.4 498.9L1294.8 499.0L1295.3 498.7L1295.7 499.3L1296.2 499.1L1296.6 499.8L1297.1 499.4L1297.5 499.8L1298.0 499.4L1298.4 499.6L1298.9 499.4L1299.3 499.8L1299.8 499.9L1300.2 499.3L1300.7 499.4L1301.1 500.0L1301.6 500.0L1302.0 499.6L1302.5 499.6L1302.9 500.0L1303.4 500.0L1303.8 499.8L1304.3 499.6L1304.7 499.9L1305.2 499.4L1305.6 499.4L1306.1 499.6L1306.5 499.4L1307.0 499.7L1307.4 499.5L1307.9 499.8L1308.3 499.5L1308.8 499.7L1309.2 499.5L1309.7 499.4L1310.1 499.2L1310.6 499.1L1311.0 499.6L1311.5 499.9L1311.9 499.8L1312.4 499.0L1312.8 499.0L1313.3 499.2L1313.7 499.6L1314.2 499.6L1314.6 499.4L1315.1 499.6L1315.5 499.5L1316.0 499.6L1316.4 499.2L1316.9 499.2L1317.3 499.5L1317.8 499.4L1318.2 499.6L1318.7 499.5L1319.1 499.0L1319.6 499.3L1320.0 499.1L1320.5 499.9L1320.9 499.4L1321.4 499.8L1321.8 499.3L1322.3 499.9L1322.7 499.4L1323.2 499.4L1323.6 499.5L1324.1 499.8L1324.5 499.1L1325.0 499.5L1325.4 499.0L1325.9 498.6L1326.3 498.3L1326.8 498.6L1327.2 498.6L1327.7 498.5L1328.1 497.9L1328.6 497.9L1329.0 497.5L1329.5 497.5L1329.9 497.0L1330.2 496.7L1330.4 496.7L1330.8 496.6L1331.3 496.3L1331.7 496.5L1332.2 496.4L1332.6 496.0L1333.1 495.9L1333.5 496.2L1334.0 496.1L1334.4 495.9L1334.9 495.9L1335.3 495.8L1335.8 496.4L1336.2 496.3L1336.7 496.5L1337.1 496.4L1337.6 496.9L1338.0 496.9L1338.5 496.9L1338.9 497.3L1339.4 497.3L1339.8 496.8L1340.3 497.4L1340.7 497.5L1341.2 497.5L1341.6 496.9L1342.1 497.4L1342.5 497.8L1343.0 497.5L1343.4 497.9L1343.9 497.4L1344.3 497.3L1344.8 497.4L1345.2 497.7L1345.7 497.7L1346.1 497.3L1346.6 497.7L1347.0 498.1L1347.5 497.7L1347.9 498.1L1348.4 498.5L1348.8 498.5L1349.3 498.0L1349.7 498.5L1350.2 498.1L1350.6 498.5L1351.1 498.0L1351.5 498.2L1352.0 497.8L1352.4 498.0L1352.9 497.9L1353.3 498.4L1353.8 498.0L1354.2 498.4L1354.7 497.7L1355.1 498.3L1355.6 498.6L1356.0 498.1L1356.5 498.6L1356.9 498.6L1357.4 498.2L1357.8 499.0L1358.3 498.5L1358.7 498.4L1359.2 498.7L1359.6 498.5L1360.1 498.7L1360.5 499.1L1361.0 499.1L1361.4 499.3L1361.9 498.9L1362.3 499.0L1362.8 499.5L1363.2 499.3L1363.7 499.3L1364.1 499.7L1364.6 498.9L1365.0 498.8L1365.5 499.6L1365.9 499.0L1366.4 499.4L1366.8 499.8L1367.3 499.8L1367.7 499.1L1368.2 499.5L1368.6 498.9L1369.1 499.6L1369.5 499.1L1370.0 499.4L1370.4 499.5L1370.9 499.6L1371.3 499.8L1371.8 499.8L1372.2 499.7L1372.7 499.8L1373.1 499.4L1373.6 499.8L1374.0 499.8L1374.5 499.4L1374.9 499.7L1375.4 499.3L1375.8 499.3L1376.3 499.6L1376.7 499.9L1377.2 499.8L1377.6 500.1L1378.1 499.9L1378.5 500.0L1379.0 499.9L1379.4 499.5L1379.9 499.6L1380.3 499.5L1380.8 499.5L1381.2 499.1L1381.7 499.6L1382.1 499.6L1382.6 500.1L1383.0 499.2L1383.5 500.1L1383.9 500.2L1384.4 499.8L1384.8 499.7L1385.3 499.9L1385.7 499.4L1386.2 499.7L1386.6 499.9L1387.1 499.7L1387.5 499.9L1388.0 500.1L1388.4 500.4L1388.9 500.0L1389.3 499.2L1389.8 499.8L1390.2 500.1L1390.7 499.8L1391.1 499.6L1391.6 499.9L1392.0 499.3L1392.5 500.1L1392.9 500.2L1393.4 500.1L1393.8 500.1L1394.3 500.4L1394.7 500.4L1395.2 500.2L1395.6 500.3L1396.1 500.2L1396.5 500.1L1397.0 500.2L1397.4 500.0L1397.9 500.5L1398.3 500.3L1398.8 500.3L1399.2 500.1L1399.7 500.1L1400.1 499.9L1400.6 499.6L1401.0 499.5L1401.5 500.2L1401.9 499.8L1402.4 499.6L1402.8 500.3L1403.3 500.5L1403.7 499.7L1404.2 499.1L1404.6 499.8L1405.1 500.4L1405.5 499.4L1406.0 500.4L1406.4 499.9L1406.9 500.0L1407.3 499.8L1407.8 500.5L1408.2 500.6L1408.7 500.4L1409.1 500.1L1409.6 500.0L1410.0 500.0L1410.5 499.9L1410.9 500.2L1411.4 500.3L1411.8 500.4L1412.3 500.1L1412.7 500.6L1413.2 500.1L1413.6 500.7L1414.1 499.7L1414.5 499.5L1415.0 499.4L1415.4 500.3L1415.9 500.0L1416.3 500.0L1416.8 500.0L1417.2 499.3L1417.7 500.6L1418.1 500.0L1418.6 499.7L1419.0 500.4L1419.5 500.1L1419.9 499.7L1420.4 500.0L1420.8 500.2L1421.3 500.0L1421.7 499.8L1422.2 499.9L1422.6 500.1L1423.1 500.7L1423.5 500.2L1424.0 500.3L1424.4 500.7L1424.9 500.3L1425.3 500.2L1425.8 500.5L1426.2 500.4L1426.7 500.3L1427.1 500.4L1427.6 500.3L1428.0 500.2L1428.5 499.8L1428.9 499.7L1429.4 500.2L1429.8 500.0L1430.3 499.9L1430.7 500.5L1431.2 499.8L1431.6 500.4L1432.1 500.0L1432.5 500.5L1433.0 500.6L1433.4 500.1L1433.9 500.1L1434.3 500.5L1434.8 500.4L1435.2 500.3L1435.7 500.3L1436.1 500.0L1436.6 500.4L1437.0 500.3L1437.5 500.5L1437.9 500.3L1438.4 500.4L1438.8 500.5L1439.3 500.6L1439.7 500.5L1440.2 500.2L1440.6 500.6L1441.1 500.1L1441.5 500.6L1442.0 499.9L1442.4 499.3L1442.9 499.9L1443.3 500.1L1443.8 499.7L1444.2 500.3L1444.7 500.0L1445.1 500.6L1445.6 500.1L1446.0 500.3L1446.5 499.8L1446.9 500.5L1447.4 500.3L1447.8 500.1L1448.3 500.2L1448.7 500.0L1449.2 499.8L1449.6 500.2L1450.1 500.5L1450.5 500.5L1451.0 500.2L1451.4 500.5L1451.9 500.3L1452.3 500.3L1452.8 499.5L1453.2 500.6L1453.7 500.6L1454.1 499.9L1454.6 500.0L1455.0 500.3L1455.5 500.2L1455.9 499.9L1456.4 500.1L1456.8 499.8L1457.3 500.2L1457.7 499.9L1458.2 499.9L1458.6 500.1L1458.9 500.4L1459.1 499.8L1459.5 500.4L1460.0 499.9L1460.4 500.3L1460.9 499.9L1461.3 500.0L1461.8 500.7L1462.2 500.7L1462.7 500.3L1463.1 500.4L1463.6 500.2L1464.0 500.3L1464.5 500.4L1464.9 500.5L1465.4 500.3L1465.8 500.2L1466.3 500.2L1466.7 500.4L1467.2 500.3L1467.6 499.8L1468.1 500.2L1468.5 500.0L1469.0 500.1L1469.4 500.4L1469.9 500.5L1470.3 500.4L1470.8 500.6L1471.2 500.6L1471.7 500.5L1472.1 500.6L1472.6 500.3L1473.0 500.2L1473.5 499.8L1473.9 499.9L1474.4 500.3L1474.8 500.0L1475.3 499.9L1475.7 500.5L1476.2 500.0L1476.6 500.4L1477.1 500.1L1477.5 500.1L1478.0 500.2L1478.4 500.4L1478.9 499.9L1479.3 500.1L1479.8 500.0L1480.2 500.1L1480.7 500.2L1481.1 500.2L1481.6 500.5L1482.0 500.6L1482.5 500.4L1482.9 500.6L1483.4 500.5L1483.8 500.2L1484.3 499.9L1484.7 500.3L1485.2 500.4L1485.6 500.7L1486.1 500.2L1486.5 500.4L1487.0 500.3L1487.4 500.4L1487.9 500.1L1488.3 499.8L1488.8 499.9L1489.2 500.1L1489.7 500.0L1490.1 500.5L1490.6 500.2L1491.0 500.7L1491.5 500.8L1491.9 500.8L1492.4 500.7L1492.8 499.9L1493.3 500.5L1493.7 500.2L1494.2 500.3L1494.6 500.1L1495.1 500.3L1495.5 500.2L1496.0 500.0L1496.4 500.4L1496.9 500.2L1497.3 500.3L1497.8 500.5L1498.2 499.9L1498.7 500.1L1499.1 499.9L1499.6 499.9L1500.0 500.8L1500.5 500.0L1500.9 500.0L1501.4 500.2L1501.8 500.0L1502.3 500.9L1502.7 500.7L1503.2 500.6L1503.6 499.7L1504.1 500.9L1504.5 500.5L1505.0 499.8L1505.4 500.0L1505.9 500.2L1506.3 499.8L1506.8 500.7L1507.2 500.3L1507.7 500.7L1508.1 500.2L1508.6 500.5L1509.0 500.5L1509.5 499.9L1509.9 500.3L1510.4 500.2L1510.8 500.4L1511.3 500.8L1511.7 500.3L1512.2 500.8L1512.6 500.2L1513.1 499.9L1513.5 500.5L1514.0 500.0L1514.4 500.0L1514.9 499.9L1515.3 500.7L1515.8 500.2L1516.2 500.7L1516.7 499.9L1517.1 500.5L1517.6 500.6L1518.0 500.4L1518.5 500.8L1518.9 500.5L1519.4 500.3L1519.8 500.4L1520.3 500.2L1520.7 500.9L1521.2 500.8L1521.6 500.8L1522.1 500.7L1522.5 500.9L1523.0 500.3L1523.4 500.7L1523.9 500.4L1524.3 500.2L1524.8 500.7L1525.2 500.5L1525.7 500.5L1526.1 500.4L1526.6 500.6L1527.0 499.9L1527.5 500.1L1527.9 499.7L1528.4 499.9L1528.8 500.1L1529.3 500.4L1529.7 500.2L1530.2 500.5L1530.6 500.4L1531.1 500.5L1531.5 500.4L1532.0 500.4L1532.4 500.7L1532.9 500.0L1533.3 500.3L1533.8 500.1L1534.2 500.6L1534.7 500.3L1535.1 500.9L1535.6 500.2L1536.0 500.3L1536.5 499.9L1536.9 500.2L1537.4 500.2L1537.8 500.4L1538.3 500.5L1538.7 500.5L1539.2 500.7L1539.6 500.7L1540.1 500.2L1540.5 500.4L1541.0 500.0L1541.4 500.4L1541.9 499.9L1542.3 500.1L1542.8 500.1L1543.2 500.0L1543.7 500.0L1544.1 500.0L1544.6 500.5L1545.0 500.3L1545.5 500.1L1545.9 500.5L1546.4 500.1L1546.8 500.5L1547.3 500.6L1547.7 499.9L1548.2 499.8L1548.6 500.4L1549.1 500.2L1549.5 500.4L1550.0 499.9L1550.4 500.6L1550.9 500.5L1551.3 500.0L1551.8 500.2L1552.2 500.1L1552.7 500.0L1553.1 500.0L1553.6 500.2L1554.0 500.1L1554.5 500.3L1554.9 500.3L1555.4 500.5L1555.8 500.0L1556.3 500.2L1556.7 500.8L1557.2 500.4L1557.6 500.4L1558.1 500.5L1558.5 500.2L1559.0 500.4L1559.4 500.2L1559.9 500.5L1560.3 500.3L1560.8 500.1L1561.2 500.3L1561.7 499.7L1562.1 500.2L1562.6 500.2L1563.0 500.6L1563.5 500.4L1563.9 500.4L1564.4 500.0L1564.8 499.6L1565.3 499.6L1565.7 499.8L1566.2 499.9L1566.6 500.2L1567.1 500.3L1567.5 500.2L1568.0 500.0L1568.4 500.5L1568.9 500.2L1569.3 500.1L1569.8 500.0L1570.2 500.2L1570.7 500.5L1571.1 500.3L1571.6 500.4L1572.0 500.2L1572.5 500.0L1572.9 500.0L1573.4 499.9L1573.8 500.5L1574.3 500.3L1574.7 499.7L1575.2 500.6L1575.6 500.5L1576.1 500.2L1576.5 499.8L1577.0 500.2L1577.4 500.6L1577.9 500.3L1578.3 500.4L1578.8 500.5L1579.2 500.7L1579.7 500.2L1580.1 500.9L1580.6 500.7L1581.0 500.5L1581.5 500.0L1581.9 499.9L1582.4 499.8L1582.8 500.3L1583.3 499.9L1583.7 500.3L1584.2 500.1L1584.6 499.9L1585.1 500.2L1585.5 500.1L1586.0 500.2L1586.4 500.1L1586.9 500.2L1587.3 500.0L1587.8 500.2L1588.2 500.6L1588.7 500.2L1589.1 500.4L1589.6 500.6L1590.0 500.7L1590.5 500.5L1590.9 500.9L1591.4 500.8L1591.8 500.2L1592.3 500.8L1592.7 500.3L1593.2 500.0L1593.6 500.5L1594.1 500.0L1594.5 500.4L1595.0 499.8L1595.4 500.2L1595.9 500.3L1596.3 500.3L1596.8 500.2L1597.2 500.5L1597.7 500.2L1598.1 499.9L1598.6 500.0L1599.0 500.0L1599.5 500.3L1599.9 500.5L1600.4 500.5L1600.8 500.4L1601.3 500.4L1601.7 500.3L1602.2 500.3L1602.6 500.5L1603.1 500.0L1603.5 500.1L1604.0 500.6L1604.4 500.6L1604.9 500.6L1605.3 500.6L1605.8 500.3L1606.2 500.4L1606.7 500.0L1607.1 500.1L1607.6 500.1L1608.0 500.3L1608.5 500.4L1608.9 500.8L1609.4 500.4L1609.8 500.1L1610.3 500.3L1610.7 500.5L1611.2 500.1L1611.6 500.5L1612.1 500.0L1612.5 499.8L1613.0 500.0L1613.4 500.5L1613.9 500.2L1614.3 500.4L1614.8 500.1L1615.2 499.9L1615.7 500.4L1616.1 500.1L1616.6 500.0L1617.0 499.9L1617.5 500.5L1617.9 500.2L1618.4 500.2L1618.8 500.5L1619.3 500.7L1619.7 500.2L1620.2 500.5L1620.6 500.4L1621.1 500.5L1621.5 500.4L1622.0 500.6L1622.4 500.6L1622.9 500.4L1623.3 500.4L1623.8 500.0L1624.2 499.7L1624.7 500.1L1625.1 500.1L1625.6 500.6L1626.0 500.6L1626.5 500.9L1626.9 500.9L1627.4 500.1L1627.8 500.1L1628.3 500.3L1628.7 500.3L1629.2 500.3L1629.6 500.4L1630.1 500.5L1630.5 500.0L1631.0 500.4L1631.4 500.0L1631.9 500.2L1632.3 500.5L1632.8 500.5L1633.2 500.4L1633.7 500.2L1634.1 500.0L1634.6 500.4L1635.0 500.4L1635.5 500.3L1635.9 499.8L1636.4 500.2L1636.8 500.1L1637.3 500.7L1637.7 500.3L1638.2 500.1L1638.6 500.1L1639.1 500.3L1639.5 500.6L1640.0 500.1L1640.4 500.1L1640.9 500.5L1641.3 500.4L1641.8 500.3L1642.2 500.2L1642.7 500.0L1643.1 500.0L1643.6 500.5L1644.0 500.8L1644.5 500.2L1644.9 500.0L1645.4 500.3L1645.8 499.8L1646.3 500.0L1646.7 500.2L1647.2 499.9L1647.6 500.3L1648.1 500.2L1648.5 500.6L1649.0 500.6L1649.4 500.0L1649.9 500.2L1650.3 500.2L1650.8 500.3L1651.2 499.5L1651.7 500.5L1652.1 500.2L1652.6 500.2L1653.0 499.7L1653.5 499.9L1653.9 500.2L1654.4 500.3L1654.8 500.0L1655.3 500.1L1655.7 500.3L1656.2 500.1L1656.6 500.3L1657.1 500.4L1657.5 499.6L1658.0 500.6L1658.4 499.8L1658.9 499.6L1659.3 500.4L1659.8 499.8L1660.2 499.8L1660.7 499.9L1661.1 499.9L1661.6 500.1L1662.0 500.3L1662.5 500.1L1662.9 500.0L1663.4 500.2L1663.8 500.0L1664.3 500.0L1664.7 500.3L1665.2 500.2L1665.6 500.2L1666.1 500.7L1666.5 500.4L1667.0 500.0L1667.4 500.3L1667.9 500.1L1668.3 500.6L1668.8 500.0L1669.2 500.4L1669.7 500.0L1670.1 500.0L1670.6 500.1L1671.0 499.9L1671.5 500.4L1671.9 500.1L1672.4 500.5L1672.8 500.4L1673.3 500.2L1673.7 500.9L1674.2 500.5L1674.6 500.5L1675.1 500.6L1675.5 500.3L1676.0 500.4L1676.4 500.1L1676.9 500.0L1677.3 500.0L1677.8 500.4L1678.2 499.7L1678.7 499.9L1679.1 499.5L1679.6 500.3L1680.0 499.8L1680.5 500.6L1680.9 500.3L1681.4 499.9L1681.8 500.4L1682.3 500.0L1682.7 500.2L1683.2 500.6L1683.6 500.7L1684.1 500.2L1684.5 500.0L1685.0 500.0L1685.4 500.5L1685.9 500.3L1686.3 499.9L1686.8 500.6L1687.2 500.1L1687.7 500.7L1688.1 500.0L1688.6 500.5L1689.0 500.4L1689.5 499.8L1689.9 499.9L1690.4 499.8L1690.8 499.9L1691.3 500.2L1691.7 500.0L1692.2 501.0L1692.6 500.3L1693.1 500.1L1693.5 500.6L1694.0 499.9L1694.4 500.4L1694.9 500.3L1695.3 499.8L1695.8 500.6L1696.2 500.2L1696.7 500.0L1697.1 500.2L1697.6 500.2L1698.0 500.2L1698.5 499.8L1698.9 500.0L1699.4 500.6L1699.8 500.6L1700.3 500.3L1700.7 500.5L1701.2 500.1L1701.6 500.7L1702.1 500.0L1702.5 500.2L1703.0 500.5L1703.4 500.1L1703.9 500.7L1704.3 500.1L1704.8 500.6L1705.2 500.1L1705.7 499.9L1706.1 500.1L1706.6 500.3L1707.0 500.2L1707.5 500.4L1707.9 499.2L1708.4 499.8L1708.8 499.9L1709.3 499.9L1709.7 500.2L1710.2 499.7L1710.6 500.0L1711.1 500.2L1711.5 500.0L1712.0 500.2L1712.4 500.5L1712.9 500.0L1713.3 500.3L1713.8 500.3L1714.2 500.1L1714.7 500.6L1715.1 500.1L1715.6 500.2L1716.0 500.3L1716.5 500.8L1716.9 501.0L1717.4 500.9L1717.8 500.4L1718.3 500.4L1718.7 501.0L1719.2 500.7L1719.6 500.7L1720.1 500.8L1720.5 500.6L1721.0 500.0L1721.4 499.9L1721.9 499.7L1722.3 499.9L1722.8 500.4L1723.2 500.1L1723.7 500.3L1724.1 500.3L1724.6 500.5L1725.0 500.0L1725.5 499.8L1725.9 500.6L1726.4 500.1L1726.8 500.1L1727.3 500.4L1727.7 500.5L1728.2 500.4L1728.6 500.3L1729.1 500.2L1729.5 500.6L1730.0 500.3L1730.4 500.2L1730.9 500.5L1731.3 500.4L1731.8 500.4L1732.2 500.0L1732.7 500.1L1733.1 500.3L1733.6 500.0L1734.0 500.0L1734.5 500.2L1734.9 500.8L1735.4 500.5L1735.8 500.3L1736.3 500.5L1736.7 500.1L1737.2 500.0L1737.6 499.9L1738.1 499.8L1738.5 500.5L1739.0 500.2L1739.4 499.9L1739.9 500.5L1740.3 500.7L1740.8 500.1L1741.2 500.4L1741.7 500.7L1742.1 500.2L1742.6 500.4L1743.0 500.1L1743.5 500.4L1743.9 500.3L1744.4 500.0L1744.8 500.5L1745.3 500.5L1745.7 500.5L1746.2 500.7L1746.6 500.3L1747.1 500.3L1747.5 500.5L1748.0 500.3L1748.4 500.4L1748.9 500.1L1749.3 500.0L1749.8 500.5L1750.2 500.3L1750.7 500.6L1751.1 500.1L1751.6 500.3L1752.0 500.7L1752.5 500.6L1752.9 500.3L1753.4 500.1L1753.8 500.6L1754.3 500.4L1754.7 500.4L1755.2 499.8L1755.6 500.0L1756.1 500.1L1756.5 499.9L1757.0 500.6L1757.4 499.9L1757.9 500.3L1758.3 500.4L1758.8 500.2L1759.2 499.8L1759.7 500.1L1760.1 500.2L1760.6 499.9L1761.0 500.2L1761.5 500.4L1761.9 500.4L1762.4 500.2L1762.8 500.2L1763.3 500.5L1763.7 500.1L1764.2 500.2L1764.6 500.6L1765.1 500.3L1765.5 500.2L1766.0 499.9L1766.4 500.5L1766.9 500.5L1767.3 500.5L1767.8 499.9L1768.2 500.0L1768.7 500.0L1769.1 499.9L1769.6 499.8L1770.0 500.5L1770.5 500.0L1770.9 500.6L1771.4 500.5L1771.8 500.4L1772.3 500.4L1772.7 500.4L1773.2 500.6L1773.6 500.5L1774.1 500.3L1774.5 500.5L1775.0 500.4L1775.4 499.8L1775.9 500.2L1776.3 500.0L1776.8 500.4L1777.2 500.2L1777.7 500.1L1778.1 500.3L1778.6 500.0L1779.0 500.1L1779.5 500.1L1779.9 500.6L1780.4 500.1L1780.8 500.6L1781.3 500.4L1781.7 500.5L1782.2 500.4L1782.6 500.1L1783.1 500.4L1783.5 500.5L1784.0 500.5L1784.4 500.2L1784.9 500.3L1785.3 500.4L1785.8 500.1L1786.2 499.8L1786.7 500.1L1787.1 500.1L1787.6 500.3L1788.0 500.7L1788.5 500.0L1788.9 500.1L1789.4 499.8L1789.8 500.2L1790.3 500.3L1790.7 500.8L1791.2 500.8L1791.6 499.9L1792.1 500.1L1792.5 500.4L1793.0 500.5L1793.4 500.6L1793.9 500.6L1794.3 500.2L1794.8 500.3L1795.2 499.9L1795.7 500.1L1796.1 500.1L1796.6 500.6L1797.0 500.2L1797.5 500.2L1797.9 500.6L1798.4 500.2L1798.8 500.1L1799.3 500.3L1799.7 500.0L1800.2 500.2L1800.6 500.3L1801.1 500.3L1801.5 500.2L1802.0 500.2L1802.4 500.4L1802.9 499.9L1803.3 500.1L1803.8 499.7L1804.2 500.1L1804.7 500.6L1805.1 500.2L1805.6 500.2L1806.0 500.0L1806.5 500.1L1806.9 500.2L1807.4 500.1L1807.8 500.1L1808.3 500.3L1808.7 500.5L1809.2 500.4L1809.6 500.5L1810.1 500.4L1810.5 500.1L1811.0 500.3L1811.4 500.0L1811.9 500.7L1812.3 500.3L1812.8 500.2L1813.2 500.6L1813.7 500.9L1814.1 500.7L1814.6 499.8L1815.0 500.7L1815.5 499.7L1815.9 499.8L1816.4 500.2M1860.9 500.2L1861.4 500.5L1861.8 500.0L1862.3 500.5L1862.7 500.2L1863.2 500.0L1863.6 499.8L1864.1 500.5L1864.5 500.5L1865.0 500.5L1865.4 500.7L1865.9 500.1L1866.3 500.5L1866.8 500.7L1867.2 500.5L1867.7 499.9L1868.1 500.2L1868.6 500.6L1869.0 500.4L1869.5 500.3L1869.9 500.0L1870.4 500.0L1870.8 500.0L1871.3 500.2L1871.7 500.1L1872.2 500.2L1872.6 500.4L1873.1 500.2L1873.5 500.1L1874.0 500.5L1874.4 500.5L1874.9 500.4L1875.3 500.2L1875.8 499.9L1876.2 499.9L1876.7 500.5L1877.1 499.9L1877.6 500.1L1878.0 500.5L1878.5 500.2L1878.9 500.2L1879.4 500.1L1879.8 500.3L1880.3 500.6L1880.7 500.2L1881.2 500.5L1881.6 500.7L1882.1 500.5L1882.5 500.5L1883.0 500.7L1883.4 500.7L1883.9 500.7L1884.3 500.6L1884.8 500.5L1885.2 500.4L1885.7 500.5L1886.1 500.3L1886.6 500.7L1887.0 500.4L1887.5 500.3L1887.9 500.1L1888.4 500.5L1888.8 500.5L1889.3 500.5L1889.7 500.5L1890.2 500.3L1890.6 500.3L1891.1 500.3L1891.5 500.2L1892.0 500.6L1892.4 500.7L1892.9 500.2L1893.3 500.3L1893.8 499.8L1894.2 500.0L1894.7 500.5L1895.1 499.9L1895.6 500.1L1896.0 500.5L1896.5 499.9L1896.9 500.4L1897.4 500.4L1897.8 500.0L1898.3 500.4L1898.7 500.0L1899.2 500.2L1899.6 500.6L1900.1 500.4L1900.5 500.3L1901.0 500.4L1901.4 499.9L1901.9 500.0L1902.3 499.9L1902.8 500.7L1903.2 500.9L1903.7 500.1L1904.1 500.8L1904.6 500.4L1905.0 500.2L1905.5 500.2L1905.9 500.2L1906.4 500.6L1906.8 500.2L1907.3 500.1L1907.7 500.7L1908.2 500.3L1908.6 500.0L1909.1 500.4L1909.5 500.2L1910.0 500.4L1910.4 500.5L1910.9 500.2L1911.3 500.4L1911.8 500.6L1912.2 500.2L1912.7 500.4L1913.1 500.1L1913.6 500.6L1914.0 500.5L1914.5 500.4L1914.9 500.3L1915.4 500.2L1915.8 500.2L1916.3 500.1L1916.7 500.1L1917.2 500.4L1917.6 500.1L1918.1 500.3L1918.5 500.5L1919.0 500.5L1919.4 500.5L1919.9 500.8L1920.3 500.5L1920.8 499.9L1921.2 500.0L1921.7 500.0L1922.1 500.1L1922.6 500.4L1923.0 500.3L1923.5 500.3L1923.9 500.3L1924.4 500.3M1968.9 500.3L1969.4 500.7L1969.8 500.0L1970.3 500.2L1970.7 500.6L1971.2 500.4L1971.6 500.1L1972.1 500.1L1972.5 499.9L1973.0 499.7L1973.4 500.3L1973.9 499.8L1974.3 500.2L1974.8 499.9L1975.2 499.8L1975.7 500.7L1976.1 499.9L1976.6 500.7L1977.0 500.6L1977.5 500.7L1977.9 500.6L1978.4 500.3L1978.8 500.2L1979.3 500.6L1979.7 500.2L1980.2 500.5L1980.6 500.1L1981.1 499.9L1981.5 500.3L1982.0 499.8L1982.4 499.9L1982.9 499.9L1983.3 500.9L1983.8 500.8L1984.2 500.8L1984.7 500.7L1985.1 500.5L1985.6 500.9L1986.0 500.5L1986.5 500.1L1986.9 499.8L1987.4 500.2L1987.8 500.6L1988.3 500.7L1988.7 500.2L1989.2 500.6L1989.6 500.9L1990.1 500.3L1990.5 500.3L1991.0 499.7L1991.4 500.7L1991.9 500.7L1992.3 500.4L1992.8 500.4L1993.2 499.9L1993.7 500.6L1994.1 500.4L1994.6 500.4L1995.0 500.2L1995.5 500.1L1995.9 499.6L1996.4 500.1L1996.8 500.1L1997.3 499.5L1997.7 500.1L1998.2 500.0L1998.6 500.1L1999.1 500.2L1999.5 500.1L2000.0 499.6L2000.4 500.2L2000.9 500.0L2001.3 499.7L2001.8 499.4L2002.2 499.9L2002.7 499.9L2003.1 499.7L2003.6 500.2L2004.0 499.6L2004.5 500.1L2004.9 499.5L2005.4 500.0L2005.8 499.7M2050.8 495.1L2051.3 495.7L2051.7 495.6L2052.2 495.4L2052.6 495.0L2053.1 494.9L2053.5 494.6L2054.0 494.9L2054.4 495.1L2054.9 495.0L2055.3 495.0L2055.8 495.0L2056.2 495.5L2056.7 495.5L2057.1 495.0L2057.6 493.9L2058.0 495.7L2058.5 495.5L2058.9 495.1L2059.4 494.4L2059.8 495.3L2060.3 494.5L2060.7 495.2L2061.2 494.9L2061.6 494.9L2062.1 494.8L2062.5 494.9L2063.0 494.9L2063.4 494.8L2063.9 495.5L2064.3 495.7L2064.8 495.5L2065.2 495.4L2065.7 494.5L2066.1 495.0L2066.6 495.2L2067.0 494.6L2067.5 494.5L2067.9 495.2L2068.4 494.7L2068.8 494.3L2069.3 494.1L2069.7 494.9L2070.2 494.3L2070.6 494.4L2071.1 494.6L2071.5 494.5L2072.0 494.6L2072.4 494.4L2072.9 494.9L2073.3 494.6L2073.8 494.6L2074.2 494.4L2074.7 494.7L2075.1 494.0L2075.6 494.7L2076.0 494.4L2076.5 493.8L2076.9 494.6L2077.4 494.0L2077.8 494.1L2078.3 494.5L2078.7 494.5L2079.2 494.4L2079.6 494.8L2080.1 494.3L2080.5 494.8L2081.0 494.8L2081.4 494.8L2081.9 494.5L2082.3 494.4L2082.8 494.1L2083.2 494.2L2083.7 494.3L2084.1 494.5L2084.6 494.1L2085.0 494.7L2085.5 493.9L2085.9 494.2L2086.4 494.4L2086.8 494.2L2087.3 494.3L2087.7 494.4L2088.2 494.3L2088.6 493.8L2089.1 493.3L2089.5 493.7L2090.0 493.9L2090.4 493.5L2090.9 494.0L2091.3 494.1L2091.8 493.5L2092.2 494.4L2092.7 494.3L2093.1 493.5L2093.6 494.5L2094.0 493.6L2094.5 493.3L2094.9 494.2L2095.4 493.6L2095.8 494.3L2096.3 493.9L2096.7 494.4L2097.2 494.0L2097.6 493.6L2098.1 493.6L2098.5 493.9L2099.0 494.1L2099.4 493.9L2099.9 493.5L2100.3 494.0L2100.8 494.1L2101.2 493.7L2101.7 493.9L2102.1 494.1L2102.6 494.0L2103.0 493.9L2103.5 493.5L2103.9 493.5L2104.4 493.6L2104.8 493.5L2105.3 493.5L2105.7 493.4L2106.2 494.1L2106.6 493.9L2107.1 493.2L2107.5 493.5L2108.0 493.9L2108.4 493.7L2108.9 494.1L2109.3 493.6L2109.8 493.6L2110.2 493.7L2110.7 493.7L2111.1 493.8L2111.6 493.6L2112.0 493.8L2112.5 493.3L2112.9 493.2L2113.4 493.4L2113.8 493.3L2114.3 493.2L2114.7 493.3L2115.2 493.4L2115.6 494.1L2116.1 493.4L2116.5 493.8L2117.0 493.6L2117.4 493.2L2117.9 493.6L2118.3 493.6L2118.8 493.5L2119.2 493.8L2119.7 493.0L2120.1 493.4L2120.6 493.7L2121.0 493.7L2121.5 493.8L2121.9 493.8L2122.4 493.7L2122.8 493.4L2123.3 493.7L2123.7 493.2L2124.2 493.2L2124.6 493.7L2125.1 493.8L2125.5 493.3L2126.0 493.9L2126.4 492.9L2126.9 493.5L2127.3 493.0L2127.8 493.4L2128.2 493.9L2128.7 493.3L2129.1 494.1L2129.6 493.8L2130.0 493.2L2130.5 493.6L2130.9 493.5L2131.4 493.3L2131.8 493.5L2132.3 493.6L2132.7 493.7L2133.2 493.4L2133.6 493.5L2134.1 493.6L2134.5 493.7L2135.0 493.4L2135.4 493.6L2135.9 493.5L2136.3 493.5L2136.8 493.8L2137.2 493.3L2137.7 492.9L2138.1 493.6L2138.6 493.4L2139.0 493.2L2139.5 493.0L2139.9 492.7L2140.4 493.8L2140.8 494.0L2141.3 493.4L2141.7 494.1L2142.2 492.8L2142.6 493.1L2143.1 493.0L2143.5 493.6L2144.0 493.4L2144.4 493.2L2144.9 493.2L2145.3 493.3L2145.8 493.3L2146.2 493.1L2146.7 493.4L2147.1 493.4L2147.6 493.4L2148.0 493.2L2148.5 493.4L2148.9 493.2L2149.4 493.3L2149.8 492.9L2150.3 493.0L2150.7 493.3L2151.2 493.6L2151.6 493.6L2152.1 493.2L2152.5 493.4L2153.0 493.4L2153.4 493.1L2153.9 493.5L2154.3 492.9L2154.8 492.8L2155.2 493.3L2155.7 492.9L2156.1 493.1L2156.6 493.0L2157.0 493.9L2157.5 493.4L2157.9 493.4L2158.4 492.6L2158.8 493.6L2159.3 492.9L2159.7 493.4L2160.2 492.7L2160.6 492.8L2161.1 492.7L2161.5 492.5L2162.0 491.9L2162.4 491.7L2162.9 492.3L2163.3 492.6L2163.8 493.1L2164.2 493.1L2164.7 492.6L2165.1 493.4L2165.6 493.5L2166.0 493.4L2166.5 493.4L2166.9 493.4L2167.4 493.9L2167.8 493.3L2168.3 493.4L2168.7 493.2L2169.2 493.7L2169.6 492.9L2170.1 493.7L2170.5 493.1L2171.0 493.0L2171.4 493.1L2171.9 493.3L2172.3 493.7L2172.8 493.6L2173.2 493.6L2173.7 493.8L2174.1 493.5L2174.6 493.3L2175.0 493.1L2175.5 493.1L2175.9 493.2L2176.4 493.4L2176.8 493.5L2177.3 492.9L2177.7 493.1L2178.2 492.7L2178.6 488.1L2179.0 486.7L2179.1 486.5L2179.5 489.9L2180.0 493.1L2180.4 493.4L2180.9 493.3L2181.3 493.8L2181.8 493.9L2182.2 493.5L2182.7 493.9L2183.1 493.8L2183.6 493.9L2184.0 493.7L2184.5 493.4L2184.9 493.3L2185.4 493.2L2185.8 493.1L2186.3 493.4L2186.7 493.3L2187.2 493.4L2187.6 493.1L2188.1 493.3L2188.5 493.4L2189.0 493.3L2189.4 493.3L2189.9 493.7L2190.3 493.4L2190.8 493.5L2191.2 493.9L2191.7 493.5L2192.1 493.1L2192.6 493.4L2193.0 493.4L2193.5 492.9L2193.9 493.6L2194.4 493.6L2194.8 493.3L2195.3 493.2L2195.7 493.9L2196.2 493.1L2196.6 493.2L2197.1 494.0L2197.5 493.8L2198.0 493.2L2198.4 493.9L2198.9 493.4L2199.3 494.0L2199.8 494.0L2200.2 493.6L2200.7 493.3L2201.1 493.1L2201.6 493.0L2202.0 493.3L2202.5 493.8L2202.9 494.0L2203.4 493.2L2203.8 493.3L2204.3 493.4L2204.7 493.5L2205.2 493.7L2205.6 493.1L2206.1 493.4L2206.5 493.2L2207.0 493.6L2207.4 493.3L2207.9 493.5L2208.3 493.7L2208.8 493.6L2209.2 493.7L2209.7 493.8L2210.1 493.5L2210.6 493.6L2211.0 493.9L2211.5 493.5L2211.9 493.0L2212.4 493.6L2212.8 493.5L2213.3 493.5L2213.7 493.9L2214.2 493.2L2214.6 493.3L2215.1 493.9L2215.5 493.3L2216.0 493.5L2216.4 494.1L2216.9 494.0L2217.3 493.4L2217.8 493.2L2218.2 492.6L2218.7 492.9L2219.1 493.4L2219.6 492.9L2220.0 493.5L2220.5 493.1L2220.9 493.2L2221.4 493.9L2221.8 493.4L2222.3 493.3L2222.7 493.4L2223.2 493.5L2223.6 493.8L2224.1 493.2L2224.5 493.5L2225.0 493.1L2225.4 493.8L2225.9 493.1L2226.3 492.9L2226.8 493.5L2227.2 493.1L2227.7 494.0L2228.1 493.9L2228.6 493.2L2229.0 493.6L2229.5 493.9L2229.9 493.8L2230.4 493.8L2230.8 493.4L2231.3 493.3L2231.7 493.9L2232.2 493.2L2232.6 493.0L2233.1 494.3L2233.5 493.5L2234.0 493.8L2234.4 493.9L2234.9 493.5L2235.3 493.9L2235.8 493.9L2236.2 494.1L2236.7 494.0L2237.1 493.8L2237.6 493.2L2238.0 493.6L2238.5 493.1L2238.9 493.3L2239.4 493.4L2239.8 493.6L2240.3 494.0L2240.7 494.4L2241.2 493.8L2241.6 494.0L2242.1 493.6L2242.5 493.9L2243.0 494.2L2243.4 494.1L2243.9 493.7L2244.3 493.7L2244.8 493.4L2245.2 493.1L2245.7 492.8L2246.1 493.2L2246.6 493.6L2247.0 493.9L2247.5 493.4L2247.9 493.4L2248.4 493.8L2248.8 493.9L2249.3 493.0L2249.7 493.0L2250.2 493.9L2250.6 493.9L2251.1 493.9L2251.5 494.0L2252.0 493.8L2252.4 493.9L2252.9 493.7L2253.3 493.9L2253.8 493.7L2254.2 493.1L2254.7 493.3L2255.1 493.7L2255.6 493.6L2256.0 494.2L2256.5 493.2L2256.9 493.1L2257.4 493.3L2257.8 493.9L2258.3 494.4L2258.7 494.6L2259.2 493.5L2259.6 493.6L2260.1 493.6L2260.5 493.9L2261.0 493.3L2261.4 493.3L2261.9 493.3L2262.3 493.2L2262.8 493.5L2263.2 493.7L2263.7 493.5L2264.1 493.3L2264.6 493.5L2265.0 493.6L2265.5 493.8L2265.9 493.5L2266.4 493.5L2266.8 493.3L2267.3 493.6L2267.7 493.7L2268.2 493.5L2268.6 493.9L2269.1 493.3L2269.5 493.4L2270.0 493.2L2270.4 493.8L2270.9 494.1L2271.3 493.7L2271.8 493.6L2272.2 494.0L2272.7 493.9L2273.1 494.0L2273.6 493.6L2274.0 494.0L2274.5 493.0L2274.9 493.8L2275.4 493.7L2275.8 493.7L2276.3 493.5L2276.7 494.1L2277.2 493.7L2277.6 493.8L2278.1 494.4L2278.5 493.9L2279.0 494.0L2279.4 494.2L2279.9 494.0L2280.3 493.2L2280.8 493.7L2281.2 493.8L2281.7 493.2L2282.1 493.6L2282.6 493.2L2283.0 493.4L2283.5 493.3L2283.9 493.8L2284.4 493.4L2284.8 493.5L2285.3 493.5L2285.7 493.5L2286.2 493.0L2286.6 493.6L2287.1 493.9L2287.5 493.7L2288.0 493.5L2288.4 494.2L2288.9 493.9L2289.3 493.7L2289.8 493.5L2290.2 494.0L2290.7 493.6L2291.1 493.2L2291.6 493.4L2292.0 494.1L2292.5 494.3L2292.9 493.3L2293.4 493.5L2293.8 493.6L2294.3 493.5L2294.7 493.4L2295.2 494.0L2295.6 493.8L2296.1 493.6L2296.5 493.8L2297.0 493.6L2297.4 493.2L2297.9 493.2L2298.3 493.6L2298.8 494.0L2299.2 493.2L2299.7 493.6L2300.1 493.5L2300.6 493.3L2301.0 493.4L2301.5 493.9L2301.9 493.9L2302.4 493.9L2302.8 493.6L2303.3 493.8L2303.7 492.9L2304.2 493.3L2304.6 493.4L2305.1 493.6L2305.5 493.5L2306.0 493.9L2306.4 493.8L2306.9 493.5L2307.3 493.6L2307.8 493.9L2308.2 493.2L2308.7 493.9L2309.1 493.7L2309.6 493.9L2310.0 493.5L2310.5 493.8L2310.9 494.0L2311.4 493.1L2311.8 493.0L2312.3 493.8L2312.7 493.4L2313.2 493.1L2313.6 493.4L2314.1 493.2L2314.5 494.0L2315.0 493.5L2315.4 493.3L2315.9 494.3L2316.3 494.2L2316.8 493.3L2317.2 493.6L2317.7 493.9L2318.1 493.3L2318.6 493.4L2319.0 493.3L2319.5 493.9L2319.9 493.9L2320.4 494.0L2320.8 494.4L2321.3 494.3L2321.7 494.0L2322.2 493.0L2322.6 494.2L2323.1 494.2L2323.5 493.5L2324.0 494.2L2324.4 493.6L2324.9 494.2L2325.3 493.7L2325.8 494.0L2326.2 493.6L2326.7 493.8L2327.1 493.1L2327.6 493.3L2328.0 493.2L2328.5 493.9L2328.9 493.3L2329.4 493.6L2329.8 493.6L2330.3 493.9L2330.7 493.1L2331.2 493.3L2331.6 493.4L2332.1 493.7L2332.5 493.5L2333.0 493.5L2333.4 493.2L2333.9 493.8L2334.3 493.8L2334.8 493.8L2335.2 494.4L2335.7 493.4L2336.1 494.3L2336.6 493.2L2337.0 493.4L2337.5 493.7L2337.9 494.1L2338.4 493.2L2338.8 493.9L2339.3 494.1L2339.7 493.4L2340.2 493.3L2340.6 494.3L2341.1 494.4L2341.5 494.1L2342.0 494.4L2342.4 494.1L2342.9 494.1L2343.3 493.6L2343.8 493.3L2344.2 493.6L2344.7 493.3L2345.1 493.5L2345.6 493.4L2346.0 493.9L2346.5 494.2L2346.9 494.1L2347.4 494.0L2347.8 493.4L2348.3 494.2L2348.7 493.9L2349.2 494.1L2349.6 493.7L2350.1 493.9L2350.5 493.8L2351.0 493.6L2351.4 493.7L2351.9 493.8L2352.3 493.9L2352.8 493.5L2353.2 493.6L2353.7 493.9L2354.1 493.7L2354.6 494.1L2355.0 493.8L2355.5 493.9L2355.9 493.9L2356.4 493.6L2356.8 493.4L2357.3 493.7L2357.7 493.4L2358.2 493.8L2358.6 493.9L2359.1 493.3L2359.5 493.7L2360.0 493.4L2360.4 494.1L2360.9 493.4L2361.3 493.7L2361.8 493.3L2362.2 493.7L2362.7 493.4L2363.1 494.0L2363.6 493.8L2364.0 493.5L2364.5 493.5L2364.9 494.2L2365.4 493.8L2365.8 493.1L2366.3 493.8L2366.7 493.9L2367.2 493.4L2367.6 493.4L2368.1 493.6L2368.5 493.4L2369.0 493.4L2369.4 493.4L2369.9 493.5L2370.3 493.3L2370.8 493.9" stroke="#ff1010" stroke-width="3.9"/>
<path d="M1815.9 499.8L1816.4 500.2L1816.8 500.3L1817.3 500.2L1817.7 500.2L1818.2 500.2L1818.6 500.3L1819.1 500.2L1819.5 500.4L1820.0 500.2L1820.4 500.3L1820.9 500.3L1821.3 500.3L1821.8 500.4L1822.2 500.4L1822.7 500.4L1823.1 500.4L1823.6 500.3L1824.0 500.4L1824.5 500.4L1824.9 500.4L1825.4 500.3L1825.8 500.3L1826.3 500.4L1826.7 500.3L1827.2 500.3L1827.6 500.3L1828.1 500.4L1828.5 500.2L1829.0 500.2L1829.4 500.3L1829.9 500.3L1830.3 500.2L1830.8 500.4L1831.2 500.3L1831.7 500.3L1832.1 500.2L1832.6 500.3L1833.0 500.3L1833.5 500.2L1833.9 500.4L1834.4 500.4L1834.8 500.3L1835.3 500.3L1835.7 500.3L1836.2 500.4L1836.6 500.4L1837.1 500.3L1837.5 500.3L1838.0 500.2L1838.4 499.9L1838.9 496.2L1839.2 495.2L1839.3 495.2L1839.8 497.9L1840.2 500.2L1840.7 500.4L1841.1 500.4L1841.6 500.4L1842.0 500.4L1842.5 500.4L1842.9 500.4L1843.4 500.4L1843.8 500.2L1844.3 500.3L1844.7 500.4L1845.2 500.3L1845.6 500.4L1846.1 500.4L1846.5 500.4L1847.0 500.2L1847.4 500.3L1847.9 500.3L1848.3 500.2L1848.8 500.4L1849.2 500.2L1849.7 500.4L1850.1 500.2L1850.6 500.3L1851.0 500.3L1851.5 500.4L1851.9 500.2L1852.4 500.3L1852.8 500.3L1853.3 500.3L1853.7 500.3L1854.2 500.3L1854.6 500.3L1855.1 500.4L1855.5 500.3L1856.0 500.4L1856.4 500.4L1856.9 500.3L1857.3 500.2L1857.8 500.2L1858.2 500.4L1858.7 500.3L1859.1 500.3L1859.6 500.2L1860.0 500.3L1860.5 500.4L1860.9 500.2L1861.4 500.5M1923.9 500.3L1924.4 500.3L1924.8 500.4L1925.3 500.3L1925.7 500.4L1926.2 500.3L1926.6 500.3L1927.1 500.2L1927.5 500.3L1928.0 500.2L1928.4 500.3L1928.9 500.3L1929.3 500.3L1929.8 500.3L1930.2 500.4L1930.7 500.3L1931.1 500.3L1931.6 500.4L1932.0 500.3L1932.5 500.3L1932.9 500.3L1933.4 500.3L1933.8 500.3L1934.3 500.3L1934.7 500.4L1935.2 500.3L1935.6 500.3L1936.1 500.4L1936.5 500.3L1937.0 500.3L1937.4 500.2L1937.9 500.3L1938.3 500.2L1938.8 500.2L1939.2 500.2L1939.7 500.2L1940.1 500.4L1940.6 500.3L1941.0 500.3L1941.5 500.4L1941.9 499.9L1942.4 489.0L1942.8 471.6L1943.1 469.9L1943.3 470.1L1943.7 481.9L1944.2 498.4L1944.6 500.3L1945.1 500.4L1945.5 500.3L1946.0 500.3L1946.4 500.3L1946.9 500.4L1947.3 500.4L1947.8 500.3L1948.2 500.4L1948.7 500.4L1949.1 500.3L1949.6 500.2L1950.0 500.4L1950.5 500.4L1950.9 500.2L1951.4 500.4L1951.8 500.2L1952.3 500.2L1952.7 500.3L1953.2 500.3L1953.6 500.3L1954.1 500.2L1954.5 500.4L1955.0 500.4L1955.4 500.3L1955.9 500.3L1956.3 500.4L1956.8 500.3L1957.2 500.4L1957.7 500.3L1958.1 500.4L1958.6 500.3L1959.0 500.3L1959.5 500.2L1959.9 500.3L1960.4 500.2L1960.8 500.3L1961.3 500.4L1961.7 500.4L1962.2 500.2L1962.6 500.3L1963.1 500.3L1963.5 500.3L1964.0 500.3L1964.4 500.3L1964.9 500.4L1965.3 500.1L1965.8 500.3L1966.2 500.2L1966.7 500.3L1967.1 500.2L1967.6 500.3L1968.0 500.5L1968.5 500.3L1968.9 500.3L1969.4 500.7M2005.4 500.0L2005.8 499.7L2006.3 499.7L2006.7 499.6L2007.2 499.5L2007.6 499.6L2008.1 499.5L2008.5 499.5L2009.0 499.5L2009.4 499.6L2009.9 499.5L2010.3 499.5L2010.8 499.5L2011.2 499.5L2011.7 499.5L2012.1 499.5L2012.6 499.5L2013.0 499.4L2013.5 499.3L2013.9 499.2L2014.4 499.3L2014.8 499.3L2015.3 499.2L2015.7 499.4L2016.2 499.3L2016.6 499.2L2017.1 499.2L2017.5 499.3L2018.0 499.1L2018.4 499.1L2018.9 499.2L2019.3 499.2L2019.8 499.1L2020.2 499.2L2020.7 499.0L2021.1 499.0L2021.6 499.0L2022.0 499.1L2022.5 499.1L2022.9 499.0L2023.4 499.0L2023.8 498.9L2024.3 498.9L2024.7 498.9L2025.1 498.8L2025.2 498.9L2025.6 498.9L2026.1 498.8L2026.5 498.8L2027.0 498.7L2027.4 498.5L2027.9 498.3L2028.3 498.0L2028.8 497.7L2029.2 497.5L2029.7 497.1L2030.1 497.0L2030.6 496.5L2031.0 496.3L2031.5 496.4L2031.9 496.2L2032.4 496.2L2032.8 496.2L2033.3 496.2L2033.7 496.2L2034.2 496.1L2034.6 496.2L2035.1 496.1L2035.5 496.0L2036.0 496.0L2036.4 496.1L2036.9 496.0L2037.3 496.0L2037.8 496.0L2038.2 496.0L2038.7 495.9L2039.1 495.8L2039.6 495.8L2040.0 495.8L2040.5 495.9L2040.9 495.9L2041.4 495.8L2041.8 495.8L2042.3 495.8L2042.7 495.6L2043.2 495.5L2043.6 495.7L2044.1 495.7L2044.5 495.8L2045.0 495.6L2045.4 495.7L2045.9 495.5L2046.3 495.7L2046.8 495.7L2047.2 495.5L2047.7 495.5L2048.1 495.5L2048.6 495.4L2049.0 495.4L2049.5 495.2L2049.9 495.3L2050.4 495.3L2050.8 495.1L2051.3 495.7" stroke="#ff1010" stroke-width="3.0"/>
<line x1="1943.1" y1="470.9" x2="1943.1" y2="499.3" stroke="#ff1010" stroke-width="3.3" stroke-linecap="butt"/>
<path d="M1274.1 427.4L1274.5 427.4L1275.0 427.4L1275.5 427.6L1275.9 427.6L1276.4 427.4L1276.8 427.1L1277.3 427.1L1277.7 427.5L1278.2 427.8L1278.6 427.9L1279.1 427.1L1279.5 427.3L1280.0 427.2L1280.4 427.1L1280.9 427.1L1281.3 427.0L1281.8 427.6L1282.2 427.4L1282.7 427.8L1283.1 427.7L1283.6 427.5L1284.0 427.8L1284.5 427.3L1284.9 427.5L1285.4 427.3L1285.8 427.5L1286.3 427.1L1286.7 427.3L1287.2 427.4L1287.6 427.0L1288.1 427.4L1288.5 426.9L1289.0 427.2L1289.4 427.4L1289.9 427.1L1290.3 427.1L1290.8 427.1L1291.2 427.1L1291.7 426.9L1292.1 427.3L1292.6 426.9L1293.0 427.8L1293.5 427.5L1293.9 427.6L1294.4 427.4L1294.8 427.7L1295.3 427.1L1295.7 427.6L1296.2 427.2L1296.6 427.2L1297.1 427.4L1297.5 427.7L1298.0 427.3L1298.4 427.5L1298.9 427.8L1299.3 427.1L1299.8 427.2L1300.2 427.7L1300.7 427.1L1301.1 427.8L1301.6 427.7L1302.0 427.5L1302.5 427.3L1302.9 427.2L1303.4 427.6L1303.8 427.1L1304.3 427.7L1304.7 427.3L1305.2 427.5L1305.6 427.5L1306.1 428.1L1306.5 427.2L1307.0 427.2L1307.4 427.6L1307.9 427.5L1308.3 427.1L1308.8 427.6L1309.2 427.0L1309.7 427.1L1310.1 427.7L1310.6 427.2L1311.0 427.7L1311.5 427.3L1311.9 426.9L1312.4 427.1L1312.8 427.4L1313.3 427.8L1313.7 427.8L1314.2 427.5L1314.6 427.4L1315.1 427.9L1315.5 427.6L1316.0 427.7L1316.4 427.2L1316.9 427.5L1317.3 427.1L1317.8 427.5L1318.2 427.2L1318.7 427.4L1319.1 427.0L1319.6 427.4L1320.0 427.4L1320.5 427.1L1320.9 427.4L1321.4 427.8L1321.8 427.7L1322.3 427.7L1322.7 427.4L1323.2 427.3L1323.6 426.9L1324.1 427.3L1324.5 426.7L1325.0 426.9L1325.4 426.7L1325.9 426.9L1326.3 426.7L1326.8 426.5L1327.2 426.5L1327.7 426.0L1328.1 426.0L1328.6 425.5L1329.0 425.6L1329.5 425.2L1329.9 424.8L1330.2 425.0L1330.4 424.6L1330.8 425.0L1331.3 424.4L1331.7 424.4L1332.2 424.7L1332.6 424.4L1333.1 424.1L1333.5 423.8L1334.0 423.9L1334.4 424.1L1334.9 424.1L1335.3 423.8L1335.8 423.9L1336.2 424.1L1336.7 424.6L1337.1 424.3L1337.6 424.5L1338.0 424.8L1338.5 424.7L1338.9 424.7L1339.4 425.0L1339.8 424.8L1340.3 424.7L1340.7 425.0L1341.2 424.7L1341.6 425.3L1342.1 425.7L1342.5 425.3L1343.0 425.5L1343.4 425.3L1343.9 425.0L1344.3 425.2L1344.8 425.3L1345.2 425.1L1345.7 425.3L1346.1 425.9L1346.6 425.6L1347.0 426.0L1347.5 425.4L1347.9 426.0L1348.4 425.7L1348.8 425.4L1349.3 426.2L1349.7 425.5L1350.2 426.3L1350.6 426.4L1351.1 426.2L1351.5 426.3L1352.0 426.3L1352.4 426.6L1352.9 426.7L1353.3 426.3L1353.8 426.8L1354.2 426.7L1354.7 426.7L1355.1 426.3L1355.6 426.6L1356.0 426.5L1356.5 426.8L1356.9 427.0L1357.4 426.8L1357.8 426.5L1358.3 426.8L1358.7 426.9L1359.2 426.8L1359.6 426.7L1360.1 426.6L1360.5 426.5L1361.0 426.6L1361.4 426.5L1361.9 426.7L1362.3 426.6L1362.8 427.2L1363.2 427.0L1363.7 426.7L1364.1 426.5L1364.6 426.4L1365.0 426.4L1365.5 427.0L1365.9 426.9L1366.4 427.0L1366.8 427.0L1367.3 426.9L1367.7 427.4L1368.2 427.4L1368.6 426.9L1369.1 427.4L1369.5 427.0L1370.0 427.4L1370.4 427.6L1370.9 427.1L1371.3 427.4L1371.8 427.5L1372.2 427.5L1372.7 427.5L1373.1 427.4L1373.6 427.4L1374.0 427.5L1374.5 427.0L1374.9 427.0L1375.4 427.4L1375.8 427.5L1376.3 427.2L1376.7 427.2L1377.2 427.7L1377.6 427.8L1378.1 427.9L1378.5 427.3L1379.0 427.3L1379.4 428.0L1379.9 427.3L1380.3 427.3L1380.8 427.5L1381.2 427.4L1381.7 427.7L1382.1 427.5L1382.6 427.9L1383.0 428.1L1383.5 428.0L1383.9 428.0L1384.4 427.3L1384.8 427.8L1385.3 427.2L1385.7 427.1L1386.2 427.4L1386.6 427.5L1387.1 427.6L1387.5 427.0L1388.0 427.8L1388.4 427.7L1388.9 427.4L1389.3 427.8L1389.8 427.4L1390.2 427.7L1390.7 427.9L1391.1 427.8L1391.6 427.4L1392.0 428.0L1392.5 427.5L1392.9 427.5L1393.4 427.5L1393.8 427.7L1394.3 427.4L1394.7 427.5L1395.2 427.7L1395.6 428.1L1396.1 427.7L1396.5 427.9L1397.0 427.6L1397.4 428.2L1397.9 428.1L1398.3 427.8L1398.8 427.7L1399.2 427.0L1399.7 427.2L1400.1 427.4L1400.6 427.8L1401.0 428.0L1401.5 428.2L1401.9 428.2L1402.4 428.0L1402.8 428.4L1403.3 428.5L1403.7 428.5L1404.2 427.9L1404.6 428.2L1405.1 428.2L1405.5 428.1L1406.0 428.1L1406.4 428.5L1406.9 427.9L1407.3 428.2L1407.8 428.3L1408.2 427.7L1408.7 427.8L1409.1 427.9L1409.6 428.0L1410.0 428.2L1410.5 427.7L1410.9 428.0L1411.4 428.0L1411.8 427.1L1412.3 427.4L1412.7 427.7L1413.2 427.7L1413.6 427.6L1414.1 428.2L1414.5 427.9L1415.0 427.6L1415.4 428.3L1415.9 428.0L1416.3 427.5L1416.8 427.9L1417.2 427.8L1417.7 427.7L1418.1 428.1L1418.6 428.3L1419.0 427.6L1419.5 428.4L1419.9 428.6L1420.4 428.4L1420.8 428.6L1421.3 428.5L1421.7 428.4L1422.2 428.3L1422.6 427.6L1423.1 427.9L1423.5 428.1L1424.0 428.1L1424.4 427.8L1424.9 428.0L1425.3 428.2L1425.8 428.0L1426.2 428.4L1426.7 427.8L1427.1 427.7L1427.6 428.1L1428.0 427.8L1428.5 428.0L1428.9 428.1L1429.4 428.3L1429.8 428.1L1430.3 428.4L1430.7 428.0L1431.2 428.4L1431.6 427.7L1432.1 428.0L1432.5 428.2L1433.0 428.1L1433.4 427.8L1433.9 428.2L1434.3 428.0L1434.8 428.3L1435.2 428.0L1435.7 428.5L1436.1 427.9L1436.6 428.0L1437.0 428.0L1437.5 428.3L1437.9 428.0L1438.4 428.5L1438.8 427.9L1439.3 428.0L1439.7 428.1L1440.2 427.7L1440.6 427.8L1441.1 427.7L1441.5 427.7L1442.0 428.2L1442.4 427.8L1442.9 428.1L1443.3 428.0L1443.8 427.6L1444.2 428.4L1444.7 428.1L1445.1 427.8L1445.6 427.7L1446.0 428.1L1446.5 428.3L1446.9 428.2L1447.4 428.0L1447.8 428.4L1448.3 428.8L1448.7 428.5L1449.2 428.1L1449.6 428.8L1450.1 428.4L1450.5 428.5L1451.0 427.9L1451.4 427.9L1451.9 427.8L1452.3 428.1L1452.8 427.6L1453.2 428.3L1453.7 428.1L1454.1 428.2L1454.6 428.3L1455.0 428.2L1455.5 428.2L1455.9 427.9L1456.4 427.9L1456.8 428.0L1457.3 427.6L1457.7 428.1L1458.2 428.4L1458.6 428.1L1458.9 428.2L1459.1 428.1L1459.5 428.5L1460.0 428.1L1460.4 428.2L1460.9 428.1L1461.3 428.7L1461.8 428.0L1462.2 427.7L1462.7 428.3L1463.1 427.8L1463.6 428.0L1464.0 428.3L1464.5 428.0L1464.9 428.2L1465.4 428.6L1465.8 428.1L1466.3 427.9L1466.7 427.9L1467.2 427.8L1467.6 427.9L1468.1 427.9L1468.5 427.8L1469.0 428.7L1469.4 428.5L1469.9 428.4L1470.3 428.2L1470.8 428.5L1471.2 427.9L1471.7 428.2L1472.1 428.2L1472.6 428.0L1473.0 428.3L1473.5 428.3L1473.9 428.1L1474.4 427.9L1474.8 428.1L1475.3 428.1L1475.7 427.8L1476.2 427.9L1476.6 428.0L1477.1 427.9L1477.5 428.3L1478.0 428.0L1478.4 428.0L1478.9 428.3L1479.3 427.9L1479.8 428.3L1480.2 428.2L1480.7 428.3L1481.1 428.0L1481.6 428.3L1482.0 428.6L1482.5 428.7L1482.9 428.6L1483.4 428.2L1483.8 428.0L1484.3 428.2L1484.7 428.1L1485.2 427.9L1485.6 428.0L1486.1 428.1L1486.5 428.1L1487.0 428.1L1487.4 428.2L1487.9 428.0L1488.3 428.2L1488.8 428.1L1489.2 428.6L1489.7 428.7L1490.1 428.1L1490.6 428.4L1491.0 428.7L1491.5 428.6L1491.9 428.6L1492.4 428.1L1492.8 428.2L1493.3 428.1L1493.7 428.6L1494.2 427.9L1494.6 428.6L1495.1 428.3L1495.5 427.8L1496.0 428.4L1496.4 427.8L1496.9 428.0L1497.3 428.3L1497.8 427.9L1498.2 427.9L1498.7 427.9L1499.1 427.8L1499.6 428.3L1500.0 427.9L1500.5 427.9L1500.9 428.0L1501.4 428.1L1501.8 428.1L1502.3 427.8L1502.7 427.8L1503.2 428.3L1503.6 427.9L1504.1 428.2L1504.5 427.9L1505.0 428.3L1505.4 428.0L1505.9 427.8L1506.3 428.7L1506.8 428.7L1507.2 428.0L1507.7 428.2L1508.1 428.3L1508.6 427.9L1509.0 428.2L1509.5 428.1L1509.9 428.4L1510.4 428.6L1510.8 428.1L1511.3 428.9L1511.7 428.9L1512.2 428.4L1512.6 428.0L1513.1 428.1L1513.5 427.9L1514.0 428.6L1514.4 428.2L1514.9 428.6L1515.3 428.5L1515.8 428.0L1516.2 427.8L1516.7 428.2L1517.1 428.5L1517.6 428.5L1518.0 428.3L1518.5 428.1L1518.9 428.4L1519.4 428.2L1519.8 428.1L1520.3 428.0L1520.7 428.4L1521.2 428.4L1521.6 428.3L1522.1 428.3L1522.5 428.4L1523.0 428.0L1523.4 428.2L1523.9 427.9L1524.3 428.0L1524.8 428.5L1525.2 428.0L1525.7 428.7L1526.1 428.2L1526.6 428.3L1527.0 428.2L1527.5 427.7L1527.9 426.9L1528.4 428.3L1528.8 427.8L1529.3 427.3L1529.7 428.5L1530.2 428.3L1530.6 427.8L1531.1 428.3L1531.5 428.1L1532.0 428.2L1532.4 428.6L1532.9 428.3L1533.3 428.0L1533.8 428.6L1534.2 428.5L1534.7 428.5L1535.1 428.4L1535.6 428.2L1536.0 428.5L1536.5 428.6L1536.9 428.8L1537.4 428.3L1537.8 428.4L1538.3 428.4L1538.7 428.3L1539.2 427.6L1539.6 428.6L1540.1 428.0L1540.5 428.4L1541.0 428.4L1541.4 428.7L1541.9 428.1L1542.3 428.3L1542.8 427.6L1543.2 428.5L1543.7 428.3L1544.1 428.5L1544.6 428.8L1545.0 428.0L1545.5 428.1L1545.9 427.8L1546.4 427.9L1546.8 428.5L1547.3 428.2L1547.7 427.9L1548.2 428.3L1548.6 428.2L1549.1 427.8L1549.5 428.0L1550.0 428.2L1550.4 428.2L1550.9 428.4L1551.3 428.3L1551.8 428.1L1552.2 428.1L1552.7 428.1L1553.1 428.6L1553.6 428.3L1554.0 428.5L1554.5 428.3L1554.9 428.1L1555.4 428.2L1555.8 428.3L1556.3 428.2L1556.7 428.1L1557.2 428.4L1557.6 427.9L1558.1 428.2L1558.5 428.0L1559.0 428.0L1559.4 427.7L1559.9 427.7L1560.3 428.1L1560.8 428.1L1561.2 428.6L1561.7 428.0L1562.1 428.7L1562.6 428.5L1563.0 428.1L1563.5 428.2L1563.9 428.0L1564.4 428.0L1564.8 427.8L1565.3 428.2L1565.7 428.1L1566.2 428.1L1566.6 428.4L1567.1 427.9L1567.5 428.1L1568.0 428.1L1568.4 428.0L1568.9 428.2L1569.3 428.1L1569.8 428.4L1570.2 428.7L1570.7 428.4L1571.1 428.2L1571.6 428.7L1572.0 428.3L1572.5 428.3L1572.9 428.1L1573.4 428.3L1573.8 428.3L1574.3 428.1L1574.7 428.0L1575.2 428.3L1575.6 428.2L1576.1 428.5L1576.5 427.7L1577.0 428.5L1577.4 428.0L1577.9 428.0L1578.3 428.5L1578.8 428.0L1579.2 427.7L1579.7 428.0L1580.1 428.3L1580.6 428.4L1581.0 428.1L1581.5 427.9L1581.9 428.1L1582.4 428.2L1582.8 427.6L1583.3 427.6L1583.7 428.1L1584.2 428.3L1584.6 428.5L1585.1 428.3L1585.5 428.1L1586.0 428.3L1586.4 428.5L1586.9 428.2L1587.3 427.9L1587.8 428.4L1588.2 428.3L1588.7 427.9L1589.1 427.8L1589.6 428.3L1590.0 427.8L1590.5 428.4L1590.9 428.3L1591.4 428.4L1591.8 428.4L1592.3 428.0L1592.7 428.0L1593.2 428.0L1593.6 428.0L1594.1 427.6L1594.5 427.8L1595.0 428.0L1595.4 428.0L1595.9 428.4L1596.3 428.3L1596.8 428.4L1597.2 427.8L1597.7 428.2L1598.1 428.7L1598.6 428.2L1599.0 428.0L1599.5 428.6L1599.9 428.6L1600.4 428.3L1600.8 428.1L1601.3 428.7L1601.7 428.7L1602.2 428.2L1602.6 428.7L1603.1 428.2L1603.5 428.8L1604.0 427.9L1604.4 428.9L1604.9 428.0L1605.3 428.5L1605.8 427.8L1606.2 428.1L1606.7 428.1L1607.1 428.1L1607.6 428.1L1608.0 428.5L1608.5 428.1L1608.9 428.6L1609.4 427.8L1609.8 428.5L1610.3 428.2L1610.7 427.9L1611.2 428.3L1611.6 428.1L1612.1 428.3L1612.5 428.7L1613.0 428.5L1613.4 428.1L1613.9 428.2L1614.3 428.2L1614.8 428.3L1615.2 428.2L1615.7 428.2L1616.1 428.3L1616.6 428.1L1617.0 428.1L1617.5 428.7L1617.9 428.5L1618.4 428.2L1618.8 427.9L1619.3 427.9L1619.7 428.0L1620.2 427.9L1620.6 428.2L1621.1 427.9L1621.5 427.6L1622.0 428.5L1622.4 427.7L1622.9 428.2L1623.3 428.6L1623.8 428.2L1624.2 428.0L1624.7 428.4L1625.1 428.0L1625.6 428.3L1626.0 428.2L1626.5 428.3L1626.9 428.4L1627.4 428.5L1627.8 428.3L1628.3 428.4L1628.7 428.7L1629.2 428.6L1629.6 428.0L1630.1 428.5L1630.5 427.9L1631.0 428.1L1631.4 428.5L1631.9 428.6L1632.3 428.5L1632.8 428.3L1633.2 428.4L1633.7 428.1L1634.1 428.4L1634.6 428.4L1635.0 428.6L1635.5 428.4L1635.9 428.1L1636.4 428.0L1636.8 428.5L1637.3 428.4L1637.7 427.7L1638.2 428.6L1638.6 428.2L1639.1 427.6L1639.5 427.9L1640.0 428.5L1640.4 428.4L1640.9 428.6L1641.3 428.2L1641.8 428.1L1642.2 428.1L1642.7 428.7L1643.1 428.4L1643.6 428.4L1644.0 428.3L1644.5 428.1L1644.9 428.3L1645.4 428.5L1645.8 428.0L1646.3 428.2L1646.7 428.0L1647.2 427.9L1647.6 428.1L1648.1 428.3L1648.5 428.6L1649.0 428.6L1649.4 428.6L1649.9 428.4L1650.3 428.6L1650.8 428.8L1651.2 428.5L1651.7 428.5L1652.1 428.6L1652.6 428.3L1653.0 428.1L1653.5 428.2L1653.9 428.5L1654.4 428.3L1654.8 428.1L1655.3 428.1L1655.7 427.7L1656.2 428.3L1656.6 427.8L1657.1 427.8L1657.5 427.7L1658.0 427.9L1658.4 427.9L1658.9 428.3L1659.3 428.4L1659.8 427.9L1660.2 427.9L1660.7 428.2L1661.1 428.5L1661.6 428.1L1662.0 427.9L1662.5 428.2L1662.9 428.2L1663.4 428.1L1663.8 428.6L1664.3 428.6L1664.7 428.7L1665.2 428.1L1665.6 428.0L1666.1 428.1L1666.5 428.6L1667.0 427.8L1667.4 428.2L1667.9 428.6L1668.3 428.7L1668.8 428.5L1669.2 428.6L1669.7 428.2L1670.1 427.9L1670.6 428.7L1671.0 428.1L1671.5 428.1L1671.9 428.0L1672.4 428.1L1672.8 428.1L1673.3 428.1L1673.7 428.1L1674.2 428.4L1674.6 428.3L1675.1 428.3L1675.5 428.6L1676.0 428.3L1676.4 428.4L1676.9 428.3L1677.3 428.3L1677.8 428.4L1678.2 428.5L1678.7 428.6L1679.1 428.6L1679.6 428.3L1680.0 428.2L1680.5 427.9L1680.9 428.1L1681.4 428.4L1681.8 428.4L1682.3 428.0L1682.7 428.3L1683.2 428.1L1683.6 428.5L1684.1 427.9L1684.5 428.1L1685.0 428.3L1685.4 428.3L1685.9 428.1L1686.3 428.3L1686.8 427.8L1687.2 428.2L1687.7 428.2L1688.1 428.2L1688.6 428.5L1689.0 428.1L1689.5 428.2L1689.9 428.1L1690.4 428.2L1690.8 428.4L1691.3 428.6L1691.7 428.0L1692.2 428.3L1692.6 428.4L1693.1 428.2L1693.5 428.2L1694.0 427.9L1694.4 428.0L1694.9 428.3L1695.3 427.9L1695.8 427.9L1696.2 428.3L1696.7 428.2L1697.1 427.9L1697.6 428.1L1698.0 428.2L1698.5 428.3L1698.9 428.2L1699.4 427.8L1699.8 428.0L1700.3 428.4L1700.7 428.6L1701.2 428.3L1701.6 428.3L1702.1 428.7L1702.5 428.3L1703.0 427.9L1703.4 428.7L1703.9 428.4L1704.3 428.3L1704.8 428.2L1705.2 428.1L1705.7 428.0L1706.1 427.9L1706.6 428.1L1707.0 428.0L1707.5 428.2L1707.9 428.1L1708.4 427.9L1708.8 428.2L1709.3 428.1L1709.7 428.6L1710.2 428.4L1710.6 428.5L1711.1 428.4L1711.5 428.7L1712.0 428.2L1712.4 428.3L1712.9 428.4L1713.3 428.4L1713.8 428.1L1714.2 428.0L1714.7 428.0L1715.1 428.1L1715.6 428.1L1716.0 428.1L1716.5 428.1L1716.9 428.4L1717.4 428.4L1717.8 428.3L1718.3 427.7L1718.7 427.9L1719.2 428.6L1719.6 428.2L1720.1 428.4L1720.5 428.1L1721.0 428.5L1721.4 428.6L1721.9 428.7L1722.3 428.3L1722.8 428.1L1723.2 428.4L1723.7 427.6L1724.1 428.5L1724.6 427.9L1725.0 428.3L1725.5 427.9L1725.9 428.2L1726.4 428.7L1726.8 428.0L1727.3 428.8L1727.7 428.7L1728.2 428.6L1728.6 428.5L1729.1 427.9L1729.5 428.2L1730.0 428.6L1730.4 428.1L1730.9 428.5L1731.3 428.2L1731.8 427.5L1732.2 428.2L1732.7 428.2L1733.1 428.1L1733.6 428.2L1734.0 428.5L1734.5 427.8L1734.9 428.4L1735.4 427.8L1735.8 428.1L1736.3 428.0L1736.7 428.8L1737.2 428.4L1737.6 428.5L1738.1 428.5L1738.5 428.7L1739.0 428.3L1739.4 428.5L1739.9 428.3L1740.3 428.0L1740.8 427.9L1741.2 428.7L1741.7 428.3L1742.1 428.2L1742.6 428.0L1743.0 428.2L1743.5 428.2L1743.9 428.1L1744.4 428.3L1744.8 428.8L1745.3 428.6L1745.7 428.4L1746.2 428.3L1746.6 428.2L1747.1 428.0L1747.5 428.0L1748.0 427.7L1748.4 428.2L1748.9 428.7L1749.3 428.8L1749.8 427.9L1750.2 428.7L1750.7 428.2L1751.1 428.0L1751.6 428.2L1752.0 428.2L1752.5 428.4L1752.9 428.3L1753.4 427.8L1753.8 428.3M1799.7 428.1L1800.2 427.6L1800.6 428.0L1801.1 428.1L1801.5 428.3L1802.0 428.4L1802.4 428.2L1802.9 428.3L1803.3 428.1L1803.8 428.2L1804.2 428.5L1804.7 428.6L1805.1 428.8L1805.6 428.1L1806.0 428.0L1806.5 428.6L1806.9 428.3L1807.4 427.9L1807.8 427.7L1808.3 428.5L1808.7 427.8L1809.2 428.4L1809.6 428.0L1810.1 428.6L1810.5 428.0L1811.0 428.3L1811.4 428.0L1811.9 428.0L1812.3 428.5L1812.8 428.3L1813.2 428.5L1813.7 428.2L1814.1 428.4L1814.6 428.6L1815.0 428.3L1815.5 428.4L1815.9 428.5L1816.4 428.1M1860.9 428.1L1861.4 427.9L1861.8 428.2L1862.3 428.3L1862.7 428.1L1863.2 428.0L1863.6 428.0L1864.1 428.4L1864.5 427.9L1865.0 428.4L1865.4 427.9L1865.9 428.5L1866.3 428.1L1866.8 428.3L1867.2 428.4L1867.7 428.8L1868.1 428.6L1868.6 428.7L1869.0 428.5L1869.5 428.2L1869.9 428.6L1870.4 428.4L1870.8 428.3L1871.3 427.9L1871.7 427.8L1872.2 428.2L1872.6 428.0L1873.1 428.2L1873.5 428.4L1874.0 428.1L1874.4 427.9L1874.9 428.1L1875.3 428.3L1875.8 428.5L1876.2 428.4L1876.7 428.6L1877.1 428.2L1877.6 428.1L1878.0 428.6L1878.5 427.9L1878.9 428.5L1879.4 428.5L1879.8 428.4L1880.3 428.4L1880.7 428.2L1881.2 428.3L1881.6 428.1L1882.1 428.2L1882.5 428.6L1883.0 428.3L1883.4 428.0L1883.9 428.0L1884.3 428.2L1884.8 428.0L1885.2 428.1L1885.7 427.8L1886.1 427.7L1886.6 428.3L1887.0 427.9L1887.5 428.0L1887.9 428.3L1888.4 428.1L1888.8 428.0L1889.3 428.1L1889.7 428.2L1890.2 427.9L1890.6 428.2L1891.1 428.1L1891.5 428.0L1892.0 427.9L1892.4 428.3L1892.9 428.5L1893.3 428.0L1893.8 428.0L1894.2 428.3L1894.7 428.0L1895.1 428.4L1895.6 428.1L1896.0 428.3L1896.5 428.1L1896.9 428.2L1897.4 428.0L1897.8 427.8L1898.3 428.6L1898.7 428.3L1899.2 428.1L1899.6 428.7L1900.1 428.0L1900.5 428.2L1901.0 428.1L1901.4 428.7L1901.9 428.3L1902.3 428.7L1902.8 428.7L1903.2 428.5L1903.7 428.0L1904.1 428.0L1904.6 427.8L1905.0 428.1L1905.5 427.7L1905.9 427.9L1906.4 427.5L1906.8 427.6L1907.3 427.4L1907.7 427.5L1908.2 427.5L1908.6 427.9L1909.1 428.2L1909.5 428.4L1910.0 428.3L1910.4 428.2L1910.9 428.3L1911.3 428.3L1911.8 428.0L1912.2 428.0L1912.7 428.4L1913.1 428.2L1913.6 428.2L1914.0 428.8L1914.5 427.9L1914.9 428.0L1915.4 428.2L1915.8 428.1L1916.3 427.8L1916.7 427.7L1917.2 427.7L1917.6 428.3L1918.1 428.1L1918.5 428.9L1919.0 428.1L1919.4 428.3L1919.9 427.9L1920.3 428.8L1920.8 428.4L1921.2 428.7L1921.7 428.3L1922.1 428.3L1922.6 428.0L1923.0 428.0L1923.5 428.5L1923.9 428.5L1924.4 428.2M1968.9 428.1L1969.4 428.3L1969.8 427.9L1970.3 428.8L1970.7 428.4L1971.2 428.8L1971.6 428.1L1972.1 428.6L1972.5 428.3L1973.0 428.3L1973.4 428.2L1973.9 428.1L1974.3 428.6L1974.8 428.0L1975.2 428.2L1975.7 427.7L1976.1 428.1L1976.6 428.0L1977.0 428.3L1977.5 428.1L1977.9 428.3L1978.4 428.0L1978.8 428.2L1979.3 428.2L1979.7 428.3L1980.2 428.7L1980.6 428.1L1981.1 428.5L1981.5 428.2L1982.0 427.8L1982.4 428.4L1982.9 427.9L1983.3 428.0L1983.8 428.3L1984.2 428.4L1984.7 428.2L1985.1 428.3L1985.6 428.0L1986.0 428.5L1986.5 428.2L1986.9 428.2L1987.4 428.6L1987.8 428.0L1988.3 428.3L1988.7 428.5L1989.2 428.6L1989.6 427.9L1990.1 428.9L1990.5 428.1L1991.0 428.2L1991.4 428.6L1991.9 428.7L1992.3 428.2L1992.8 428.7L1993.2 428.6L1993.7 427.8L1994.1 428.3L1994.6 427.7L1995.0 428.2L1995.5 428.1L1995.9 427.9L1996.4 428.0L1996.8 427.9L1997.3 427.6L1997.7 427.6L1998.2 428.0L1998.6 427.9L1999.1 427.8L1999.5 427.9L2000.0 427.9L2000.4 427.3L2000.9 427.6L2001.3 427.6L2001.8 427.3L2002.2 427.7L2002.7 427.6L2003.1 427.7L2003.6 428.3L2004.0 428.0L2004.5 428.1L2004.9 427.8L2005.4 427.6L2005.8 427.6M2050.8 423.1L2051.3 423.2L2051.7 423.0L2052.2 423.1L2052.6 423.3L2053.1 423.1L2053.5 422.6L2054.0 423.2L2054.4 423.2L2054.9 422.5L2055.3 422.8L2055.8 422.6L2056.2 422.5L2056.7 423.1L2057.1 423.0L2057.6 423.2L2058.0 422.9L2058.5 422.8L2058.9 423.4L2059.4 422.5L2059.8 422.8L2060.3 422.3L2060.7 422.8L2061.2 422.0L2061.6 422.2L2062.1 422.4L2062.5 422.4L2063.0 422.7L2063.4 422.4L2063.9 422.4L2064.3 422.7L2064.8 422.6L2065.2 422.8L2065.7 423.0L2066.1 422.5L2066.6 422.8L2067.0 423.0L2067.5 422.9L2067.9 422.2L2068.4 423.1L2068.8 423.1L2069.3 422.3L2069.7 422.1L2070.2 422.9L2070.6 422.5L2071.1 422.3L2071.5 422.3L2072.0 422.5L2072.4 422.4L2072.9 422.3L2073.3 422.5L2073.8 422.5L2074.2 422.7L2074.7 422.4L2075.1 422.3L2075.6 422.1L2076.0 421.8L2076.5 422.0L2076.9 421.9L2077.4 422.5L2077.8 422.7L2078.3 422.4L2078.7 422.5L2079.2 422.5L2079.6 422.1L2080.1 421.9L2080.5 422.3L2081.0 422.7L2081.4 422.6L2081.9 422.4L2082.3 422.7L2082.8 421.3L2083.2 421.7L2083.7 422.4L2084.1 421.8L2084.6 422.0L2085.0 422.4L2085.5 421.8L2085.9 422.0L2086.4 422.0L2086.8 421.8L2087.3 422.3L2087.7 422.0L2088.2 421.5L2088.6 421.7L2089.1 421.9L2089.5 422.0L2090.0 421.6L2090.4 421.5L2090.9 421.5L2091.3 422.3L2091.8 422.0L2092.2 421.9L2092.7 421.7L2093.1 422.0L2093.6 421.7L2094.0 422.1L2094.5 422.0L2094.9 421.9L2095.4 421.7L2095.8 421.6L2096.3 421.3L2096.7 421.0L2097.2 421.1L2097.6 421.7L2098.1 421.7L2098.5 421.6L2099.0 421.7L2099.4 421.7L2099.9 421.5L2100.3 421.5L2100.8 421.6L2101.2 422.2L2101.7 422.0L2102.1 421.9L2102.6 421.3L2103.0 421.1L2103.5 421.6L2103.9 420.9L2104.4 421.6L2104.8 421.8L2105.3 421.6L2105.7 421.7L2106.2 422.1L2106.6 421.3L2107.1 421.4L2107.5 422.1L2108.0 421.4L2108.4 421.4L2108.9 421.7L2109.3 422.0L2109.8 421.5L2110.2 421.0L2110.7 421.5L2111.1 421.6L2111.6 422.2L2112.0 421.5L2112.5 422.0L2112.9 421.5L2113.4 421.5L2113.8 421.6L2114.3 421.3L2114.7 421.3L2115.2 421.6L2115.6 421.6L2116.1 421.5L2116.5 421.4L2117.0 421.7L2117.4 421.3L2117.9 421.0L2118.3 421.6L2118.8 421.4L2119.2 421.5L2119.7 421.5L2120.1 421.5L2120.6 421.2L2121.0 422.0L2121.5 421.9L2121.9 421.8L2122.4 421.8L2122.8 421.6L2123.3 421.4L2123.7 421.1L2124.2 421.4L2124.6 420.8L2125.1 421.4L2125.5 421.1L2126.0 420.7L2126.4 421.6L2126.9 420.9L2127.3 421.2L2127.8 421.3L2128.2 421.8L2128.7 420.8L2129.1 421.6L2129.6 421.6L2130.0 421.5L2130.5 420.8L2130.9 421.1L2131.4 421.4L2131.8 421.5L2132.3 421.4L2132.7 420.8L2133.2 421.3L2133.6 421.3L2134.1 421.0L2134.5 421.5L2135.0 421.2L2135.4 421.2L2135.9 421.1L2136.3 421.1L2136.8 421.2L2137.2 421.3L2137.7 421.2L2138.1 421.1L2138.6 421.3L2139.0 421.5L2139.5 421.3L2139.9 421.3L2140.4 421.2L2140.8 422.0L2141.3 421.5L2141.7 421.2L2142.2 421.4L2142.6 421.3L2143.1 421.8L2143.5 421.2L2144.0 421.0L2144.4 421.2L2144.9 421.8L2145.3 421.5L2145.8 421.7L2146.2 420.9L2146.7 421.7L2147.1 421.4L2147.6 421.1L2148.0 421.4L2148.5 421.4L2148.9 420.9L2149.4 421.2L2149.8 421.3L2150.3 421.3L2150.7 421.2L2151.2 421.7L2151.6 421.9L2152.1 421.0L2152.5 421.3L2153.0 421.5L2153.4 421.0L2153.9 421.7L2154.3 421.7L2154.8 421.7L2155.2 421.3L2155.7 421.7L2156.1 421.6L2156.6 421.4L2157.0 421.3L2157.5 421.7L2157.9 421.7L2158.4 421.8L2158.8 421.0L2159.3 420.6L2159.7 420.8L2160.2 421.1L2160.6 421.0L2161.1 420.7L2161.5 421.0L2162.0 420.4L2162.4 420.6L2162.9 420.4L2163.3 420.9L2163.8 421.2L2164.2 421.1L2164.7 420.8L2165.1 421.1L2165.6 421.4L2166.0 421.4L2166.5 421.5L2166.9 420.7L2167.4 420.7L2167.8 421.5L2168.3 421.2L2168.7 421.6L2169.2 421.4L2169.6 420.8L2170.1 421.2L2170.5 421.7L2171.0 421.8L2171.4 421.9L2171.9 421.5L2172.3 421.6L2172.8 421.3L2173.2 421.7L2173.7 421.2L2174.1 421.1L2174.6 421.3L2175.0 421.4L2175.5 421.1L2175.9 421.3L2176.4 421.2L2176.8 421.6L2177.3 421.2L2177.7 421.6L2178.2 421.0L2178.6 416.3L2179.0 415.0L2179.1 414.9L2179.5 417.6L2180.0 420.9L2180.4 421.6L2180.9 421.6L2181.3 421.3L2181.8 421.1L2182.2 420.7L2182.7 420.9L2183.1 421.5L2183.6 421.8L2184.0 421.2L2184.5 421.6L2184.9 421.4L2185.4 421.7L2185.8 421.8L2186.3 421.2L2186.7 421.1L2187.2 421.5L2187.6 421.3L2188.1 421.4L2188.5 421.3L2189.0 421.5L2189.4 421.3L2189.9 421.3L2190.3 421.1L2190.8 421.1L2191.2 421.3L2191.7 421.2L2192.1 421.5L2192.6 421.7L2193.0 421.4L2193.5 421.6L2193.9 420.9L2194.4 421.5L2194.8 420.8L2195.3 420.9L2195.7 421.1L2196.2 421.2L2196.6 421.0L2197.1 421.8L2197.5 421.2L2198.0 421.5L2198.4 420.8L2198.9 421.3L2199.3 421.2L2199.8 421.3L2200.2 420.8L2200.7 421.4L2201.1 421.6L2201.6 421.7L2202.0 421.9L2202.5 421.3L2202.9 422.0L2203.4 421.3L2203.8 421.2L2204.3 420.9L2204.7 421.8L2205.2 421.9L2205.6 422.2L2206.1 421.4L2206.5 422.1L2207.0 421.9L2207.4 421.4L2207.9 421.5L2208.3 421.8L2208.8 421.7L2209.2 421.2L2209.7 421.5L2210.1 421.7L2210.6 421.3L2211.0 421.5L2211.5 421.2L2211.9 421.6L2212.4 421.4L2212.8 421.7L2213.3 421.8L2213.7 421.2L2214.2 421.4L2214.6 421.3L2215.1 421.5L2215.5 421.6L2216.0 421.4L2216.4 421.4L2216.9 421.8L2217.3 421.8L2217.8 421.4L2218.2 421.9L2218.7 421.1L2219.1 421.0L2219.6 421.7L2220.0 421.3L2220.5 421.6L2220.9 421.5L2221.4 421.8L2221.8 421.6L2222.3 421.2L2222.7 421.5L2223.2 421.7L2223.6 421.5L2224.1 421.2L2224.5 420.9L2225.0 421.5L2225.4 421.1L2225.9 421.5L2226.3 420.7L2226.8 421.2L2227.2 421.2L2227.7 421.2L2228.1 421.5L2228.6 421.4L2229.0 421.7L2229.5 421.7L2229.9 421.0L2230.4 421.4L2230.8 421.2L2231.3 421.7L2231.7 421.2L2232.2 421.6L2232.6 421.1L2233.1 421.9L2233.5 421.0L2234.0 421.2L2234.4 421.0L2234.9 421.2L2235.3 421.1L2235.8 421.5L2236.2 421.3L2236.7 421.5L2237.1 421.3L2237.6 421.1L2238.0 421.2L2238.5 421.4L2238.9 421.2L2239.4 421.6L2239.8 421.4L2240.3 421.3L2240.7 421.9L2241.2 421.7L2241.6 421.8L2242.1 421.4L2242.5 421.3L2243.0 421.9L2243.4 421.8L2243.9 421.8L2244.3 421.6L2244.8 420.9L2245.2 421.2L2245.7 421.0L2246.1 421.4L2246.6 421.8L2247.0 421.4L2247.5 421.2L2247.9 421.0L2248.4 421.4L2248.8 421.3L2249.3 421.3L2249.7 421.3L2250.2 421.5L2250.6 421.3L2251.1 421.3L2251.5 421.4L2252.0 421.7L2252.4 421.5L2252.9 421.4L2253.3 421.8L2253.8 421.9L2254.2 421.7L2254.7 421.7L2255.1 421.9L2255.6 421.9L2256.0 421.1L2256.5 422.3L2256.9 421.4L2257.4 421.3L2257.8 422.1L2258.3 421.8L2258.7 421.5L2259.2 421.0L2259.6 421.4L2260.1 421.2L2260.5 421.3L2261.0 421.5L2261.4 421.3L2261.9 421.2L2262.3 421.5L2262.8 421.1L2263.2 421.4L2263.7 421.7L2264.1 422.0L2264.6 421.8L2265.0 421.6L2265.5 421.5L2265.9 421.1L2266.4 421.9L2266.8 421.8L2267.3 420.9L2267.7 420.9L2268.2 421.4L2268.6 420.8L2269.1 421.2L2269.5 421.4L2270.0 421.2L2270.4 421.6L2270.9 421.7L2271.3 421.2L2271.8 421.8L2272.2 421.3L2272.7 421.4L2273.1 421.3L2273.6 421.4L2274.0 421.2L2274.5 421.8L2274.9 421.4L2275.4 421.7L2275.8 421.7L2276.3 421.7L2276.7 421.2L2277.2 421.4L2277.6 421.3L2278.1 422.0L2278.5 421.3L2279.0 422.1L2279.4 422.2L2279.9 422.1L2280.3 422.2L2280.8 421.7L2281.2 422.3L2281.7 421.4L2282.1 421.6L2282.6 421.3L2283.0 421.8L2283.5 421.3L2283.9 421.0L2284.4 421.0L2284.8 421.6L2285.3 421.0L2285.7 420.8L2286.2 420.9L2286.6 421.5L2287.1 421.4L2287.5 421.8L2288.0 421.8L2288.4 422.1L2288.9 422.1L2289.3 421.7L2289.8 421.5L2290.2 421.5L2290.7 421.5L2291.1 421.4L2291.6 421.8L2292.0 421.6L2292.5 421.1L2292.9 421.7L2293.4 421.1L2293.8 421.8L2294.3 421.8L2294.7 421.5L2295.2 421.5L2295.6 421.7L2296.1 421.2L2296.5 421.6L2297.0 421.4L2297.4 421.9L2297.9 421.1L2298.3 421.7L2298.8 421.0L2299.2 421.7L2299.7 421.9L2300.1 422.1L2300.6 421.7L2301.0 421.9L2301.5 421.1L2301.9 421.3L2302.4 421.5L2302.8 421.3L2303.3 422.0L2303.7 421.9L2304.2 421.2L2304.6 421.9L2305.1 421.8L2305.5 421.5L2306.0 421.7L2306.4 422.0L2306.9 421.4L2307.3 421.0L2307.8 421.1L2308.2 421.2L2308.7 421.9L2309.1 421.1L2309.6 421.5L2310.0 421.7L2310.5 422.0L2310.9 421.2L2311.4 421.7L2311.8 421.9L2312.3 421.5L2312.7 421.7L2313.2 421.4L2313.6 422.1L2314.1 421.3L2314.5 421.6L2315.0 421.5L2315.4 421.5L2315.9 421.9L2316.3 421.6L2316.8 421.3L2317.2 421.7L2317.7 421.8L2318.1 421.8L2318.6 421.2L2319.0 421.9L2319.5 421.1L2319.9 421.0L2320.4 421.4L2320.8 421.1L2321.3 421.4L2321.7 421.7L2322.2 421.7L2322.6 421.3L2323.1 421.6L2323.5 421.7L2324.0 421.5L2324.4 422.1L2324.9 422.2L2325.3 421.1L2325.8 421.3L2326.2 421.3L2326.7 421.0L2327.1 421.8L2327.6 421.3L2328.0 421.9L2328.5 421.9L2328.9 422.0L2329.4 421.7L2329.8 421.6L2330.3 422.0L2330.7 421.9L2331.2 421.9L2331.6 420.8L2332.1 422.0L2332.5 421.5L2333.0 421.6L2333.4 421.5L2333.9 421.7L2334.3 421.7L2334.8 421.3L2335.2 421.9L2335.7 421.6L2336.1 421.7L2336.6 421.6L2337.0 421.3L2337.5 421.4L2337.9 421.7L2338.4 422.2L2338.8 421.2L2339.3 421.2L2339.7 421.1L2340.2 420.9L2340.6 421.8L2341.1 421.1L2341.5 421.9L2342.0 421.6L2342.4 422.0L2342.9 421.5L2343.3 421.7L2343.8 421.5L2344.2 421.8L2344.7 421.2L2345.1 421.6L2345.6 422.1L2346.0 421.2L2346.5 421.7L2346.9 421.1L2347.4 421.5L2347.8 422.1L2348.3 422.0L2348.7 421.6L2349.2 422.1L2349.6 421.7L2350.1 421.7L2350.5 421.3L2351.0 421.9L2351.4 421.6L2351.9 421.3L2352.3 421.6L2352.8 421.2L2353.2 421.0L2353.7 421.3L2354.1 421.5L2354.6 421.3L2355.0 421.8L2355.5 421.8L2355.9 422.2L2356.4 421.8L2356.8 422.2L2357.3 421.3L2357.7 421.1L2358.2 421.7L2358.6 421.7L2359.1 421.6L2359.5 421.9L2360.0 421.5L2360.4 421.3L2360.9 421.9L2361.3 421.9L2361.8 421.9L2362.2 422.0L2362.7 422.2L2363.1 421.8L2363.6 421.7L2364.0 421.9L2364.5 422.2L2364.9 422.1L2365.4 421.9L2365.8 421.7L2366.3 421.8L2366.7 422.2L2367.2 421.2L2367.6 421.4L2368.1 421.5L2368.5 421.4L2369.0 420.8L2369.4 421.0L2369.9 421.2L2370.3 421.4L2370.8 420.7" stroke="#ff1010" stroke-width="3.9"/>
<path d="M1753.4 427.8L1753.8 428.3L1754.3 428.1L1754.7 428.1L1755.2 428.2L1755.6 428.3L1756.1 428.1L1756.5 428.2L1757.0 428.2L1757.4 428.1L1757.9 428.2L1758.3 428.2L1758.8 428.1L1759.2 428.1L1759.7 428.1L1760.1 428.2L1760.6 428.1L1761.0 428.2L1761.5 428.2L1761.9 428.2L1762.4 428.3L1762.8 428.2L1763.3 428.2L1763.7 428.2L1764.2 428.2L1764.6 428.3L1765.1 428.2L1765.5 428.2L1766.0 428.2L1766.4 428.2L1766.9 428.3L1767.3 428.3L1767.8 428.2L1768.2 428.1L1768.7 428.3L1769.1 428.2L1769.6 428.2L1770.0 428.2L1770.5 428.2L1770.9 428.1L1771.4 428.1L1771.8 428.2L1772.3 428.2L1772.7 428.1L1773.2 428.1L1773.6 427.8L1774.1 427.3L1774.5 425.7L1775.0 422.4L1775.4 416.4L1775.9 407.7L1776.3 397.2L1776.8 387.4L1777.2 381.5L1777.7 381.8L1778.1 388.2L1778.6 398.2L1779.0 408.7L1779.5 417.2L1779.9 422.8L1780.4 425.8L1780.8 427.3L1781.3 427.9L1781.7 428.1L1782.2 428.1L1782.6 428.2L1783.1 428.2L1783.5 428.2L1784.0 428.3L1784.4 428.2L1784.9 428.2L1785.3 428.2L1785.8 428.0L1786.2 428.0L1786.7 427.6L1787.1 427.2L1787.6 426.6L1788.0 425.5L1788.5 424.3L1788.9 423.2L1789.4 422.2L1789.8 421.7L1790.3 421.8L1790.7 422.4L1791.2 423.4L1791.6 424.5L1792.1 425.6L1792.5 426.5L1793.0 427.3L1793.4 427.7L1793.9 428.0L1794.3 428.1L1794.8 428.2L1795.2 428.2L1795.7 428.2L1796.1 428.1L1796.6 428.1L1797.0 428.2L1797.5 428.2L1797.9 428.2L1798.4 428.1L1798.8 428.3L1799.3 428.2L1799.7 428.1L1800.2 427.6M1815.9 428.5L1816.4 428.1L1816.8 428.2L1817.3 428.1L1817.7 428.2L1818.2 428.1L1818.6 428.2L1819.1 428.1L1819.5 428.1L1820.0 428.2L1820.4 428.2L1820.9 428.1L1821.3 428.1L1821.8 428.3L1822.2 428.2L1822.7 428.2L1823.1 428.2L1823.6 428.2L1824.0 428.4L1824.5 428.4L1824.9 428.3L1825.4 428.1L1825.8 428.2L1826.3 428.1L1826.7 428.1L1827.2 428.2L1827.6 428.2L1828.1 428.3L1828.5 428.2L1829.0 428.2L1829.4 428.2L1829.9 428.2L1830.3 428.3L1830.8 428.1L1831.2 428.2L1831.7 428.2L1832.1 428.2L1832.6 428.3L1833.0 428.2L1833.5 428.3L1833.9 428.1L1834.4 428.2L1834.8 428.2L1835.3 428.3L1835.7 428.1L1836.2 428.2L1836.6 428.1L1837.1 428.2L1837.5 428.1L1838.0 428.3L1838.4 427.7L1838.9 424.1L1839.2 423.2L1839.3 423.3L1839.8 426.0L1840.2 428.2L1840.7 428.3L1841.1 428.3L1841.6 428.2L1842.0 428.2L1842.5 428.2L1842.9 428.2L1843.4 428.2L1843.8 428.2L1844.3 428.1L1844.7 428.2L1845.2 428.3L1845.6 428.1L1846.1 428.2L1846.5 428.2L1847.0 428.2L1847.4 428.3L1847.9 428.2L1848.3 428.2L1848.8 428.2L1849.2 428.2L1849.7 428.2L1850.1 428.2L1850.6 428.2L1851.0 428.2L1851.5 428.2L1851.9 428.1L1852.4 428.2L1852.8 428.1L1853.3 428.3L1853.7 428.1L1854.2 428.2L1854.6 428.2L1855.1 428.1L1855.5 428.1L1856.0 428.1L1856.4 428.2L1856.9 428.2L1857.3 428.2L1857.8 428.2L1858.2 428.2L1858.7 428.2L1859.1 428.2L1859.6 428.1L1860.0 428.2L1860.5 428.1L1860.9 428.1L1861.4 427.9M1923.9 428.5L1924.4 428.2L1924.8 428.2L1925.3 428.2L1925.7 428.2L1926.2 428.1L1926.6 428.1L1927.1 428.2L1927.5 428.1L1928.0 428.1L1928.4 428.1L1928.9 428.2L1929.3 428.3L1929.8 428.2L1930.2 428.2L1930.7 428.2L1931.1 428.2L1931.6 428.2L1932.0 428.2L1932.5 428.2L1932.9 428.2L1933.4 428.3L1933.8 428.2L1934.3 428.2L1934.7 428.2L1935.2 428.4L1935.6 428.3L1936.1 428.1L1936.5 428.2L1937.0 428.2L1937.4 428.2L1937.9 428.1L1938.3 428.2L1938.8 428.2L1939.2 428.3L1939.7 428.2L1940.1 428.2L1940.6 428.2L1941.0 428.2L1941.5 428.2L1941.9 428.2L1942.4 428.3L1942.8 428.3L1943.1 428.2L1943.3 428.3L1943.7 428.2L1944.2 428.2L1944.6 428.2L1945.1 428.2L1945.5 428.2L1946.0 428.2L1946.4 428.1L1946.9 428.2L1947.3 428.1L1947.8 428.2L1948.2 428.2L1948.7 428.2L1949.1 428.1L1949.6 428.2L1950.0 428.1L1950.5 428.1L1950.9 428.2L1951.4 428.1L1951.8 428.3L1952.3 428.2L1952.7 428.3L1953.2 428.2L1953.6 428.2L1954.1 428.1L1954.5 428.2L1955.0 428.2L1955.4 428.1L1955.9 428.2L1956.3 428.3L1956.8 428.3L1957.2 428.3L1957.7 428.2L1958.1 428.2L1958.6 428.3L1959.0 428.1L1959.5 428.2L1959.9 428.3L1960.4 428.3L1960.8 428.3L1961.3 428.2L1961.7 428.1L1962.2 428.1L1962.6 428.2L1963.1 428.2L1963.5 428.2L1964.0 428.1L1964.4 428.3L1964.9 428.3L1965.3 428.3L1965.8 428.3L1966.2 428.2L1966.7 428.3L1967.1 428.2L1967.6 428.2L1968.0 428.2L1968.5 428.2L1968.9 428.1L1969.4 428.3M2005.4 427.6L2005.8 427.6L2006.3 427.6L2006.7 427.5L2007.2 427.4L2007.6 427.4L2008.1 427.5L2008.5 427.4L2009.0 427.4L2009.4 427.4L2009.9 427.4L2010.3 427.3L2010.8 427.4L2011.2 427.4L2011.7 427.3L2012.1 427.3L2012.6 427.3L2013.0 427.2L2013.5 427.2L2013.9 427.2L2014.4 427.2L2014.8 427.1L2015.3 427.2L2015.7 427.2L2016.2 427.1L2016.6 427.1L2017.1 427.1L2017.5 427.1L2018.0 427.1L2018.4 427.1L2018.9 427.0L2019.3 427.0L2019.8 427.0L2020.2 427.0L2020.7 427.0L2021.1 426.9L2021.6 426.9L2022.0 426.9L2022.5 426.9L2022.9 426.8L2023.4 426.8L2023.8 426.8L2024.3 426.9L2024.7 426.8L2025.1 426.8L2025.2 426.8L2025.6 426.8L2026.1 426.8L2026.5 426.8L2027.0 426.7L2027.4 426.4L2027.9 426.2L2028.3 425.9L2028.8 425.6L2029.2 425.4L2029.7 425.0L2030.1 424.7L2030.6 424.5L2031.0 424.3L2031.5 424.1L2031.9 424.2L2032.4 424.1L2032.8 424.2L2033.3 424.1L2033.7 424.1L2034.2 424.0L2034.6 423.9L2035.1 424.0L2035.5 423.9L2036.0 424.0L2036.4 423.9L2036.9 423.8L2037.3 423.9L2037.8 423.9L2038.2 423.8L2038.7 423.7L2039.1 423.8L2039.6 423.8L2040.0 423.7L2040.5 423.7L2040.9 423.7L2041.4 423.7L2041.8 423.8L2042.3 423.6L2042.7 423.6L2043.2 423.7L2043.6 423.6L2044.1 423.5L2044.5 423.5L2045.0 423.4L2045.4 423.4L2045.9 423.3L2046.3 423.3L2046.8 423.4L2047.2 423.3L2047.7 423.3L2048.1 423.4L2048.6 423.3L2049.0 423.3L2049.5 423.2L2049.9 423.3L2050.4 423.2L2050.8 423.1L2051.3 423.2" stroke="#ff1010" stroke-width="3.0"/>
<path d="M1274.1 365.6L1274.5 365.7L1275.0 365.3L1275.5 365.4L1275.9 365.6L1276.4 365.6L1276.8 365.3L1277.3 365.8L1277.7 366.0L1278.2 365.7L1278.6 365.8L1279.1 365.7L1279.5 365.6L1280.0 365.5L1280.4 365.9L1280.9 365.9L1281.3 365.6L1281.8 365.9L1282.2 365.1L1282.7 365.2L1283.1 365.8L1283.6 365.3L1284.0 365.5L1284.5 365.4L1284.9 365.5L1285.4 365.5L1285.8 365.5L1286.3 365.2L1286.7 365.2L1287.2 365.4L1287.6 365.3L1288.1 365.6L1288.5 365.3L1289.0 365.7L1289.4 365.8L1289.9 365.6L1290.3 365.6L1290.8 365.3L1291.2 366.0L1291.7 365.7L1292.1 365.5L1292.6 365.6L1293.0 365.5L1293.5 365.3L1293.9 365.4L1294.4 364.8L1294.8 365.4L1295.3 365.4L1295.7 365.2L1296.2 365.3L1296.6 365.7L1297.1 365.6L1297.5 365.8L1298.0 365.9L1298.4 365.6L1298.9 365.6L1299.3 365.3L1299.8 365.1L1300.2 365.9L1300.7 365.9L1301.1 365.8L1301.6 365.5L1302.0 365.3L1302.5 365.6L1302.9 365.0L1303.4 365.5L1303.8 365.8L1304.3 364.9L1304.7 365.8L1305.2 365.2L1305.6 365.3L1306.1 364.9L1306.5 365.6L1307.0 365.4L1307.4 365.8L1307.9 365.6L1308.3 365.4L1308.8 365.6L1309.2 365.9L1309.7 365.4L1310.1 365.8L1310.6 365.6L1311.0 365.7L1311.5 365.7L1311.9 365.9L1312.4 365.8L1312.8 365.6L1313.3 365.5L1313.7 365.6L1314.2 365.4L1314.6 365.5L1315.1 365.7L1315.5 365.6L1316.0 365.6L1316.4 365.5L1316.9 365.3L1317.3 365.4L1317.8 365.7L1318.2 365.3L1318.7 365.6L1319.1 365.3L1319.6 365.6L1320.0 365.3L1320.5 365.6L1320.9 365.0L1321.4 365.0L1321.8 365.9L1322.3 365.9L1322.7 365.0L1323.2 365.7L1323.6 365.3L1324.1 365.8L1324.5 365.2L1325.0 364.7L1325.4 365.2L1325.9 364.6L1326.3 364.7L1326.8 364.8L1327.2 364.0L1327.7 364.1L1328.1 364.3L1328.6 363.4L1329.0 363.3L1329.5 363.1L1329.9 362.8L1330.2 362.1L1330.4 362.8L1330.8 362.9L1331.3 361.9L1331.7 362.5L1332.2 362.8L1332.6 362.3L1333.1 362.4L1333.5 362.6L1334.0 362.7L1334.4 362.4L1334.9 362.4L1335.3 362.3L1335.8 362.3L1336.2 362.7L1336.7 362.8L1337.1 362.5L1337.6 362.5L1338.0 362.6L1338.5 362.5L1338.9 362.9L1339.4 362.6L1339.8 362.9L1340.3 362.8L1340.7 362.9L1341.2 362.9L1341.6 363.4L1342.1 363.3L1342.5 363.6L1343.0 363.0L1343.4 363.4L1343.9 363.2L1344.3 363.4L1344.8 364.1L1345.2 363.9L1345.7 363.5L1346.1 363.8L1346.6 363.1L1347.0 364.0L1347.5 363.9L1347.9 363.4L1348.4 363.6L1348.8 364.2L1349.3 364.1L1349.7 364.1L1350.2 363.7L1350.6 364.3L1351.1 364.0L1351.5 364.0L1352.0 364.3L1352.4 364.7L1352.9 364.6L1353.3 364.8L1353.8 364.5L1354.2 364.4L1354.7 364.7L1355.1 364.3L1355.6 364.3L1356.0 365.0L1356.5 364.6L1356.9 364.6L1357.4 365.1L1357.8 364.6L1358.3 364.4L1358.7 365.4L1359.2 365.3L1359.6 364.4L1360.1 364.5L1360.5 364.9L1361.0 365.1L1361.4 364.8L1361.9 365.1L1362.3 364.8L1362.8 365.4L1363.2 365.2L1363.7 365.3L1364.1 365.0L1364.6 365.1L1365.0 364.8L1365.5 365.4L1365.9 365.3L1366.4 364.7L1366.8 365.2L1367.3 365.1L1367.7 364.9L1368.2 365.5L1368.6 365.3L1369.1 365.3L1369.5 365.1L1370.0 365.3L1370.4 365.7L1370.9 365.0L1371.3 365.2L1371.8 365.3L1372.2 365.1L1372.7 365.2L1373.1 365.6L1373.6 365.6L1374.0 365.6L1374.5 365.1L1374.9 365.5L1375.4 365.9L1375.8 365.5L1376.3 365.5L1376.7 365.1L1377.2 365.2L1377.6 365.7L1378.1 364.7L1378.5 365.4L1379.0 365.6L1379.4 365.5L1379.9 365.6L1380.3 365.9L1380.8 365.4L1381.2 365.6L1381.7 365.7L1382.1 365.2L1382.6 365.4L1383.0 365.6L1383.5 365.7L1383.9 365.5L1384.4 365.9L1384.8 365.8L1385.3 365.7L1385.7 365.8L1386.2 365.7L1386.6 365.6L1387.1 365.7L1387.5 365.7L1388.0 365.2L1388.4 365.9L1388.9 365.9L1389.3 365.6L1389.8 365.2L1390.2 365.9L1390.7 365.9L1391.1 365.8L1391.6 365.8L1392.0 365.9L1392.5 365.9L1392.9 365.8L1393.4 365.8L1393.8 365.9L1394.3 366.0L1394.7 366.2L1395.2 366.3L1395.6 366.3L1396.1 366.0L1396.5 366.1L1397.0 366.3L1397.4 366.5L1397.9 365.9L1398.3 366.0L1398.8 366.3L1399.2 366.0L1399.7 366.4L1400.1 366.2L1400.6 365.9L1401.0 366.3L1401.5 366.0L1401.9 366.0L1402.4 366.0L1402.8 365.8L1403.3 365.8L1403.7 365.5L1404.2 365.9L1404.6 366.2L1405.1 365.9L1405.5 366.1L1406.0 366.5L1406.4 366.2L1406.9 365.6L1407.3 365.7L1407.8 366.0L1408.2 365.8L1408.7 366.0L1409.1 365.9L1409.6 366.1L1410.0 365.5L1410.5 365.8L1410.9 366.0L1411.4 365.6L1411.8 365.7L1412.3 365.8L1412.7 366.4L1413.2 366.0L1413.6 366.1L1414.1 366.4L1414.5 365.8L1415.0 366.1L1415.4 365.8L1415.9 366.2L1416.3 365.5L1416.8 365.7L1417.2 365.8L1417.7 365.5L1418.1 366.2L1418.6 365.6L1419.0 366.1L1419.5 365.6L1419.9 366.1L1420.4 366.1L1420.8 366.0L1421.3 366.3L1421.7 366.2L1422.2 366.0L1422.6 366.2L1423.1 366.4L1423.5 365.8L1424.0 366.3L1424.4 366.3L1424.9 366.1L1425.3 366.1L1425.8 366.5L1426.2 366.0L1426.7 366.5L1427.1 366.4L1427.6 365.9L1428.0 366.2L1428.5 366.3L1428.9 366.4L1429.4 366.2L1429.8 366.2L1430.3 366.8L1430.7 366.6L1431.2 365.8L1431.6 366.6L1432.1 366.7L1432.5 366.1L1433.0 366.2L1433.4 366.2L1433.9 366.0L1434.3 366.4L1434.8 366.4L1435.2 366.2L1435.7 365.5L1436.1 366.4L1436.6 366.2L1437.0 365.7L1437.5 366.3L1437.9 366.4L1438.4 366.1M1482.9 366.2L1483.4 366.2L1483.8 366.5L1484.3 366.7L1484.7 366.5L1485.2 366.3L1485.6 366.5L1486.1 365.9L1486.5 366.1L1487.0 366.5L1487.4 366.6L1487.9 366.1L1488.3 366.4L1488.8 366.0L1489.2 365.8L1489.7 366.0L1490.1 366.0L1490.6 366.4L1491.0 366.4L1491.5 366.1L1491.9 366.3L1492.4 366.4L1492.8 366.2L1493.3 366.2L1493.7 366.2L1494.2 366.1L1494.6 366.4L1495.1 366.1L1495.5 366.2L1496.0 365.9L1496.4 366.4L1496.9 365.8L1497.3 365.1L1497.8 366.2L1498.2 366.6L1498.7 366.2L1499.1 366.7L1499.6 366.4L1500.0 365.9L1500.5 366.3L1500.9 366.8L1501.4 366.2L1501.8 366.8L1502.3 366.8L1502.7 366.5L1503.2 366.4L1503.6 366.3L1504.1 366.4L1504.5 366.8L1505.0 366.2L1505.4 366.7L1505.9 366.5L1506.3 365.9L1506.8 366.6L1507.2 366.1L1507.7 366.6L1508.1 366.2L1508.6 366.7L1509.0 366.2L1509.5 366.1L1509.9 366.3L1510.4 366.3L1510.8 366.3L1511.3 366.3L1511.7 366.3L1512.2 365.9L1512.6 365.9L1513.1 366.2L1513.5 366.5L1514.0 366.8L1514.4 366.8L1514.9 366.2L1515.3 365.9L1515.8 366.0L1516.2 366.6L1516.7 365.9L1517.1 366.0L1517.6 366.7L1518.0 366.2L1518.5 366.5L1518.9 366.5L1519.4 366.2L1519.8 366.4L1520.3 366.4L1520.7 366.1L1521.2 366.3L1521.6 366.1L1522.1 366.4L1522.5 366.2L1523.0 366.5L1523.4 366.2L1523.9 366.2L1524.3 366.0L1524.8 366.5L1525.2 366.1L1525.7 366.6L1526.1 366.1L1526.6 366.3L1527.0 366.6L1527.5 366.2L1527.9 366.3L1528.4 366.0L1528.8 366.4L1529.3 366.1L1529.7 366.0L1530.2 366.3L1530.6 366.2L1531.1 366.5L1531.5 366.2L1532.0 366.3L1532.4 366.6L1532.9 366.5L1533.3 366.5L1533.8 366.6L1534.2 366.4L1534.7 366.2L1535.1 366.3L1535.6 366.1L1536.0 366.2L1536.5 366.3L1536.9 366.1L1537.4 366.4L1537.8 366.0L1538.3 366.6L1538.7 366.7L1539.2 366.2L1539.6 366.6L1540.1 366.5L1540.5 365.8L1541.0 366.2L1541.4 365.9L1541.9 366.4L1542.3 366.1L1542.8 366.5L1543.2 366.3L1543.7 366.1L1544.1 366.3L1544.6 366.3L1545.0 365.9L1545.5 366.2L1545.9 366.0L1546.4 366.1L1546.8 366.1L1547.3 366.4L1547.7 365.9L1548.2 366.1L1548.6 366.1L1549.1 366.4L1549.5 366.4L1550.0 366.4L1550.4 366.5L1550.9 366.2L1551.3 366.4L1551.8 366.5L1552.2 366.6L1552.7 366.4L1553.1 366.1L1553.6 366.6L1554.0 366.2L1554.5 366.2L1554.9 366.3L1555.4 365.9L1555.8 366.2L1556.3 366.3L1556.7 366.0L1557.2 366.2L1557.6 366.1L1558.1 366.1L1558.5 366.0L1559.0 366.1L1559.4 366.2L1559.9 366.4L1560.3 366.4L1560.8 366.2L1561.2 366.4L1561.7 366.5L1562.1 366.3L1562.6 366.2L1563.0 365.8L1563.5 366.1L1563.9 366.4L1564.4 366.4L1564.8 366.3L1565.3 366.7L1565.7 366.6L1566.2 366.9L1566.6 366.3L1567.1 366.8L1567.5 365.9L1568.0 366.4L1568.4 366.0L1568.9 366.4L1569.3 366.1L1569.8 366.3L1570.2 366.5L1570.7 366.4L1571.1 366.1L1571.6 366.5L1572.0 366.4L1572.5 366.0L1572.9 366.1L1573.4 366.3L1573.8 366.5L1574.3 366.1L1574.7 366.3L1575.2 366.5L1575.6 365.9L1576.1 366.3L1576.5 366.5L1577.0 366.5L1577.4 366.5L1577.9 366.7L1578.3 366.6L1578.8 366.6L1579.2 366.4L1579.7 366.3L1580.1 366.6L1580.6 366.6L1581.0 366.2L1581.5 366.6L1581.9 366.3L1582.4 366.4L1582.8 366.5L1583.3 366.4L1583.7 366.2L1584.2 366.3L1584.6 366.2L1585.1 366.4L1585.5 366.4L1586.0 366.5L1586.4 366.1L1586.9 366.3L1587.3 366.5L1587.8 366.5L1588.2 366.1L1588.7 366.2L1589.1 366.1L1589.6 366.0L1590.0 366.5L1590.5 366.4L1590.9 366.2L1591.4 366.3L1591.8 366.1L1592.3 366.2L1592.7 366.3L1593.2 365.8L1593.6 366.2L1594.1 366.3L1594.5 366.2L1595.0 366.7L1595.4 366.6L1595.9 366.3L1596.3 366.5L1596.8 366.1L1597.2 366.5L1597.7 366.5L1598.1 366.8L1598.6 366.4L1599.0 366.1L1599.5 366.6L1599.9 366.6L1600.4 366.2L1600.8 365.9L1601.3 366.1L1601.7 366.4L1602.2 366.2L1602.6 366.3L1603.1 366.5L1603.5 366.8L1604.0 366.6L1604.4 365.9L1604.9 365.8L1605.3 366.1L1605.8 366.1L1606.2 366.5L1606.7 366.5L1607.1 366.2L1607.6 366.1L1608.0 366.5L1608.5 366.1L1608.9 365.9L1609.4 366.7L1609.8 366.2L1610.3 366.7L1610.7 366.6L1611.2 366.4L1611.6 366.3L1612.1 366.1L1612.5 366.3L1613.0 366.3L1613.4 366.3L1613.9 366.5L1614.3 366.3L1614.8 366.4L1615.2 366.2L1615.7 366.1L1616.1 366.1L1616.6 366.2L1617.0 366.6L1617.5 366.7L1617.9 366.0L1618.4 366.6L1618.8 366.0L1619.3 365.9L1619.7 366.2L1620.2 366.4L1620.6 365.9L1621.1 366.4L1621.5 366.4L1622.0 367.0L1622.4 366.6L1622.9 366.7L1623.3 366.8L1623.8 366.9L1624.2 366.1L1624.7 366.5L1625.1 366.4L1625.6 366.0L1626.0 366.7L1626.5 366.0L1626.9 366.0L1627.4 365.7L1627.8 366.0L1628.3 365.8L1628.7 366.6L1629.2 366.1L1629.6 366.7L1630.1 366.4L1630.5 366.5L1631.0 366.8L1631.4 366.5L1631.9 366.4L1632.3 366.0L1632.8 366.3L1633.2 365.9L1633.7 366.1L1634.1 366.4L1634.6 365.9L1635.0 365.3L1635.5 366.1L1635.9 366.4L1636.4 366.3L1636.8 366.2L1637.3 366.2L1637.7 366.1L1638.2 366.3L1638.6 366.0L1639.1 366.2L1639.5 366.3L1640.0 366.6L1640.4 366.7L1640.9 366.3L1641.3 366.0L1641.8 366.7L1642.2 366.1L1642.7 366.1L1643.1 366.4L1643.6 366.4L1644.0 366.2L1644.5 365.9L1644.9 366.3L1645.4 366.5L1645.8 366.4L1646.3 366.1L1646.7 366.0L1647.2 366.3L1647.6 365.9L1648.1 366.4L1648.5 366.2L1649.0 366.5L1649.4 366.7L1649.9 366.2L1650.3 366.2L1650.8 366.2L1651.2 366.3L1651.7 366.6L1652.1 366.0L1652.6 366.1L1653.0 366.5L1653.5 366.2L1653.9 366.6L1654.4 366.6L1654.8 366.5L1655.3 366.2L1655.7 366.3L1656.2 366.3L1656.6 366.6L1657.1 365.9L1657.5 366.1L1658.0 366.5L1658.4 366.5L1658.9 366.5L1659.3 366.6L1659.8 366.0L1660.2 366.1L1660.7 366.4L1661.1 366.3L1661.6 366.4L1662.0 366.6L1662.5 365.9L1662.9 366.9L1663.4 365.8L1663.8 365.7L1664.3 366.2L1664.7 366.1L1665.2 366.2L1665.6 365.7L1666.1 365.8L1666.5 366.5L1667.0 366.4L1667.4 366.1L1667.9 366.4L1668.3 366.1L1668.8 366.2L1669.2 366.0L1669.7 365.9L1670.1 366.0L1670.6 366.1L1671.0 366.2L1671.5 365.8L1671.9 366.1L1672.4 366.3L1672.8 366.2L1673.3 366.0L1673.7 366.6L1674.2 366.4L1674.6 366.3L1675.1 366.4L1675.5 366.3L1676.0 365.5L1676.4 366.3L1676.9 366.4L1677.3 366.1L1677.8 366.0L1678.2 366.0L1678.7 366.0L1679.1 366.6L1679.6 366.8L1680.0 366.2L1680.5 366.3L1680.9 366.8L1681.4 366.4L1681.8 366.1L1682.3 366.4L1682.7 366.7L1683.2 366.0L1683.6 366.6L1684.1 366.2L1684.5 366.4L1685.0 366.0L1685.4 365.9L1685.9 366.0L1686.3 366.9L1686.8 366.1L1687.2 365.8L1687.7 365.7L1688.1 365.8L1688.6 366.1L1689.0 366.2L1689.5 365.9L1689.9 366.4L1690.4 366.1L1690.8 366.3L1691.3 366.2L1691.7 366.4L1692.2 366.2L1692.6 366.0L1693.1 365.8L1693.5 366.1L1694.0 366.1L1694.4 366.5L1694.9 366.4L1695.3 365.9L1695.8 366.1L1696.2 366.0L1696.7 366.4L1697.1 366.1L1697.6 366.4L1698.0 366.8L1698.5 366.5L1698.9 366.1L1699.4 366.4L1699.8 366.4L1700.3 366.3L1700.7 366.2L1701.2 366.2L1701.6 366.4L1702.1 366.3L1702.5 366.4L1703.0 366.3L1703.4 366.8L1703.9 366.0L1704.3 366.9L1704.8 366.0L1705.2 365.9L1705.7 366.2L1706.1 366.7L1706.6 366.3L1707.0 366.5L1707.5 366.1L1707.9 366.4L1708.4 366.2L1708.8 366.4L1709.3 366.5L1709.7 366.6L1710.2 366.2L1710.6 366.5L1711.1 366.2L1711.5 366.6L1712.0 365.9L1712.4 366.3L1712.9 366.4L1713.3 366.0L1713.8 366.2L1714.2 366.3L1714.7 366.1L1715.1 365.9L1715.6 366.4L1716.0 366.6L1716.5 366.5L1716.9 366.7L1717.4 366.1L1717.8 366.3L1718.3 366.7L1718.7 366.8L1719.2 366.6L1719.6 366.6L1720.1 366.4L1720.5 366.4L1721.0 366.7L1721.4 366.7L1721.9 366.5L1722.3 366.7L1722.8 366.3L1723.2 366.5L1723.7 366.5L1724.1 366.6L1724.6 366.0L1725.0 366.2L1725.5 366.7L1725.9 366.7L1726.4 366.7L1726.8 366.6L1727.3 366.3L1727.7 366.4L1728.2 366.5L1728.6 366.1L1729.1 366.5L1729.5 366.7L1730.0 366.8L1730.4 366.4L1730.9 366.3L1731.3 366.5L1731.8 366.0L1732.2 366.1L1732.7 366.5L1733.1 366.3L1733.6 366.6L1734.0 366.3L1734.5 366.0L1734.9 366.4L1735.4 366.4L1735.8 366.2L1736.3 365.9L1736.7 365.9L1737.2 366.1L1737.6 366.3L1738.1 366.1L1738.5 366.4L1739.0 366.5L1739.4 366.5L1739.9 366.4L1740.3 366.1L1740.8 366.3L1741.2 366.2L1741.7 366.2L1742.1 366.5L1742.6 366.6L1743.0 366.0L1743.5 366.1L1743.9 365.9L1744.4 365.8L1744.8 365.7L1745.3 366.4L1745.7 366.0L1746.2 366.3L1746.6 366.5L1747.1 366.4L1747.5 366.1L1748.0 366.5L1748.4 366.0L1748.9 366.1L1749.3 366.3L1749.8 366.2L1750.2 365.6L1750.7 366.7L1751.1 365.9L1751.6 365.7L1752.0 366.7L1752.5 365.9L1752.9 366.3L1753.4 366.4L1753.8 366.2M1799.7 366.4L1800.2 366.2L1800.6 366.3L1801.1 366.2L1801.5 366.3L1802.0 366.4L1802.4 366.4L1802.9 366.5L1803.3 366.2L1803.8 366.1L1804.2 366.0L1804.7 366.3L1805.1 366.4L1805.6 366.7L1806.0 366.3L1806.5 366.4L1806.9 366.5L1807.4 366.2L1807.8 366.7L1808.3 366.3L1808.7 366.4L1809.2 366.4L1809.6 366.3L1810.1 366.2L1810.5 366.3L1811.0 366.4L1811.4 366.2L1811.9 366.5L1812.3 366.4L1812.8 366.1L1813.2 366.4L1813.7 366.4L1814.1 366.5L1814.6 366.1L1815.0 366.4L1815.5 366.2L1815.9 366.1L1816.4 366.4M1860.9 366.3L1861.4 366.3L1861.8 366.0L1862.3 366.5L1862.7 367.0L1863.2 366.4L1863.6 366.2L1864.1 366.1L1864.5 366.4L1865.0 365.8L1865.4 366.1L1865.9 366.0L1866.3 366.2L1866.8 366.5L1867.2 366.3L1867.7 366.3L1868.1 365.3L1868.6 366.4L1869.0 366.2L1869.5 366.5L1869.9 366.7L1870.4 366.1L1870.8 366.1L1871.3 366.2L1871.7 366.7L1872.2 366.3L1872.6 366.2L1873.1 366.5L1873.5 366.3L1874.0 366.5L1874.4 365.9L1874.9 366.0L1875.3 366.3L1875.8 366.0L1876.2 365.9L1876.7 366.0L1877.1 366.3L1877.6 365.9L1878.0 365.8L1878.5 366.3L1878.9 366.7L1879.4 365.9L1879.8 366.8L1880.3 366.4L1880.7 366.0L1881.2 366.4L1881.6 366.7L1882.1 365.5L1882.5 366.7L1883.0 366.1L1883.4 366.0L1883.9 366.0L1884.3 366.0L1884.8 365.9L1885.2 366.1L1885.7 366.7L1886.1 365.7L1886.6 366.5L1887.0 366.9L1887.5 366.4L1887.9 366.2L1888.4 366.1L1888.8 366.2L1889.3 366.0L1889.7 366.0L1890.2 366.1L1890.6 365.7L1891.1 366.4L1891.5 366.0L1892.0 366.4L1892.4 366.4L1892.9 366.7L1893.3 366.1L1893.8 365.8L1894.2 366.7L1894.7 366.9L1895.1 365.9L1895.6 366.5L1896.0 366.7L1896.5 366.0L1896.9 366.5L1897.4 366.6L1897.8 366.7L1898.3 366.5L1898.7 366.1L1899.2 366.3L1899.6 365.8L1900.1 365.9L1900.5 366.6L1901.0 366.3L1901.4 366.0L1901.9 365.9L1902.3 366.9L1902.8 366.6L1903.2 366.4L1903.7 366.0L1904.1 366.6L1904.6 366.5L1905.0 366.1L1905.5 366.1L1905.9 366.2L1906.4 366.4L1906.8 366.2L1907.3 366.6L1907.7 366.6L1908.2 366.6L1908.6 366.5L1909.1 366.0L1909.5 366.2L1910.0 366.1L1910.4 366.1L1910.9 366.3L1911.3 366.0L1911.8 366.0L1912.2 366.1L1912.7 365.5L1913.1 366.8L1913.6 366.6L1914.0 366.6L1914.5 366.5L1914.9 366.4L1915.4 366.5L1915.8 366.3L1916.3 366.1L1916.7 366.4L1917.2 366.7L1917.6 366.1L1918.1 366.6L1918.5 366.3L1919.0 366.4L1919.4 366.4L1919.9 367.0L1920.3 366.5L1920.8 366.0L1921.2 366.2L1921.7 366.6L1922.1 366.2L1922.6 366.3L1923.0 366.0L1923.5 366.1L1923.9 366.6L1924.4 366.3M1968.9 366.3L1969.4 366.6L1969.8 366.5L1970.3 366.6L1970.7 366.1L1971.2 366.0L1971.6 366.2L1972.1 365.9L1972.5 365.9L1973.0 366.3L1973.4 366.5L1973.9 366.4L1974.3 366.4L1974.8 366.2L1975.2 366.2L1975.7 366.1L1976.1 366.6L1976.6 365.8L1977.0 365.9L1977.5 366.3L1977.9 365.8L1978.4 366.3L1978.8 366.5L1979.3 365.9L1979.7 366.1L1980.2 366.1L1980.6 366.6L1981.1 366.5L1981.5 366.6L1982.0 366.2L1982.4 366.2L1982.9 366.5L1983.3 366.6L1983.8 365.7L1984.2 366.6L1984.7 366.6L1985.1 366.5L1985.6 366.4L1986.0 366.2L1986.5 366.0L1986.9 366.2L1987.4 365.9L1987.8 366.0L1988.3 366.0L1988.7 365.9L1989.2 366.1L1989.6 366.0L1990.1 366.3L1990.5 366.1L1991.0 366.3L1991.4 366.2L1991.9 366.2L1992.3 366.0L1992.8 366.1L1993.2 366.2L1993.7 365.8L1994.1 365.7L1994.6 366.1L1995.0 366.1L1995.5 365.8L1995.9 366.0L1996.4 365.6L1996.8 366.1L1997.3 365.5L1997.7 365.6L1998.2 366.0L1998.6 366.4L1999.1 365.7L1999.5 365.6L2000.0 366.4L2000.4 365.9L2000.9 365.6L2001.3 366.3L2001.8 365.6L2002.2 366.1L2002.7 365.4L2003.1 365.4L2003.6 365.7L2004.0 365.6L2004.5 365.3L2004.9 366.1L2005.4 366.0L2005.8 365.7M2050.8 361.4L2051.3 361.2L2051.7 361.7L2052.2 360.7L2052.6 361.5L2053.1 361.4L2053.5 361.9L2054.0 361.6L2054.4 360.5L2054.9 360.8L2055.3 361.4L2055.8 361.2L2056.2 361.0L2056.7 360.6L2057.1 360.7L2057.6 360.6L2058.0 360.4L2058.5 360.8L2058.9 361.3L2059.4 360.7L2059.8 360.7L2060.3 361.2L2060.7 361.3L2061.2 361.1L2061.6 360.6L2062.1 360.9L2062.5 361.3L2063.0 361.0L2063.4 361.0L2063.9 361.1L2064.3 360.7L2064.8 360.3L2065.2 361.2L2065.7 360.5L2066.1 361.1L2066.6 361.0L2067.0 361.3L2067.5 361.3L2067.9 361.1L2068.4 361.3L2068.8 360.3L2069.3 360.4L2069.7 360.9L2070.2 360.7L2070.6 360.7L2071.1 361.0L2071.5 360.7L2072.0 361.0L2072.4 360.6L2072.9 360.6L2073.3 360.6L2073.8 360.9L2074.2 361.0L2074.7 360.0L2075.1 360.3L2075.6 360.9L2076.0 361.0L2076.5 360.9L2076.9 360.1L2077.4 360.8L2077.8 361.0L2078.3 360.6L2078.7 360.9L2079.2 360.4L2079.6 360.1L2080.1 360.1L2080.5 360.6L2081.0 360.1L2081.4 360.1L2081.9 360.6L2082.3 360.3L2082.8 359.8L2083.2 360.5L2083.7 359.8L2084.1 359.8L2084.6 360.3L2085.0 359.8L2085.5 360.0L2085.9 360.0L2086.4 360.6L2086.8 360.2L2087.3 360.4L2087.7 360.7L2088.2 360.1L2088.6 360.3L2089.1 360.1L2089.5 360.1L2090.0 359.9L2090.4 360.0L2090.9 360.3L2091.3 360.3L2091.8 359.5L2092.2 360.0L2092.7 359.7L2093.1 359.9L2093.6 360.1L2094.0 360.3L2094.5 360.3L2094.9 360.2L2095.4 359.4L2095.8 359.9L2096.3 360.3L2096.7 359.4L2097.2 359.6L2097.6 359.3L2098.1 359.7L2098.5 359.7L2099.0 359.6L2099.4 360.2L2099.9 358.5L2100.3 359.5L2100.8 359.1L2101.2 359.1L2101.7 359.7L2102.1 358.8L2102.6 359.4L2103.0 359.2L2103.5 359.4L2103.9 360.1L2104.4 360.3L2104.8 359.5L2105.3 359.1L2105.7 359.3L2106.2 359.6L2106.6 359.9L2107.1 360.3L2107.5 360.3L2108.0 359.6L2108.4 359.7L2108.9 359.7L2109.3 360.1L2109.8 359.9L2110.2 358.9L2110.7 359.5L2111.1 359.7L2111.6 359.1L2112.0 359.5L2112.5 359.6L2112.9 360.1L2113.4 359.5L2113.8 359.4L2114.3 358.9L2114.7 359.1L2115.2 359.1L2115.6 359.9L2116.1 359.6L2116.5 359.5L2117.0 359.5L2117.4 359.8L2117.9 359.2L2118.3 359.8L2118.8 359.5L2119.2 359.9L2119.7 359.8L2120.1 359.3L2120.6 359.5L2121.0 359.3L2121.5 359.5L2121.9 359.4L2122.4 359.0L2122.8 359.8L2123.3 359.4L2123.7 359.7L2124.2 359.2L2124.6 360.1L2125.1 359.1L2125.5 359.9L2126.0 359.1L2126.4 359.4L2126.9 359.8L2127.3 359.9L2127.8 359.5L2128.2 359.1L2128.7 359.1L2129.1 359.2L2129.6 359.2L2130.0 359.2L2130.5 359.4L2130.9 359.6L2131.4 359.2L2131.8 360.0L2132.3 359.7L2132.7 359.6L2133.2 360.0L2133.6 359.9L2134.1 359.2L2134.5 359.5L2135.0 359.6L2135.4 359.0L2135.9 359.6L2136.3 359.3L2136.8 358.9L2137.2 358.9L2137.7 359.7L2138.1 359.8L2138.6 358.8L2139.0 359.0L2139.5 359.8L2139.9 359.3L2140.4 359.0L2140.8 359.6L2141.3 359.2L2141.7 359.4L2142.2 359.8L2142.6 359.3L2143.1 359.2L2143.5 359.4L2144.0 359.1L2144.4 359.1L2144.9 359.6L2145.3 359.3L2145.8 359.5L2146.2 359.9L2146.7 359.3L2147.1 359.9L2147.6 359.5L2148.0 359.1L2148.5 359.9L2148.9 359.7L2149.4 359.4L2149.8 359.7L2150.3 359.7L2150.7 359.5L2151.2 359.8L2151.6 359.7L2152.1 360.0L2152.5 359.3L2153.0 359.4L2153.4 359.7L2153.9 359.9L2154.3 359.7L2154.8 359.1L2155.2 359.4L2155.7 358.9L2156.1 359.3L2156.6 359.2L2157.0 359.3L2157.5 359.6L2157.9 358.8L2158.4 359.1L2158.8 359.6L2159.3 359.3L2159.7 359.6L2160.2 359.5L2160.6 358.7L2161.1 358.9L2161.5 358.1L2162.0 358.1L2162.4 358.5L2162.9 357.7L2163.3 358.5L2163.8 358.0L2164.2 359.1L2164.7 359.1L2165.1 359.1L2165.6 359.5L2166.0 359.4L2166.5 359.0L2166.9 359.2L2167.4 359.1L2167.8 359.3L2168.3 359.3L2168.7 359.6L2169.2 359.5L2169.6 359.7L2170.1 359.6L2170.5 358.9L2171.0 359.3L2171.4 359.2L2171.9 359.3L2172.3 359.3L2172.8 359.1L2173.2 358.9L2173.7 359.6L2174.1 359.0L2174.6 359.6L2175.0 359.5L2175.5 359.1L2175.9 360.2L2176.4 359.4L2176.8 359.2L2177.3 359.9L2177.7 359.6L2178.2 359.2L2178.6 354.4L2179.0 353.3L2179.1 353.4L2179.5 355.5L2180.0 359.8L2180.4 360.1L2180.9 359.2L2181.3 360.2L2181.8 359.8L2182.2 359.1L2182.7 359.3L2183.1 359.6L2183.6 359.1L2184.0 359.3L2184.5 359.5L2184.9 359.6L2185.4 359.5L2185.8 359.3L2186.3 359.2L2186.7 359.3L2187.2 359.2L2187.6 358.7L2188.1 358.7L2188.5 358.8L2189.0 359.5L2189.4 359.1L2189.9 359.0L2190.3 359.1L2190.8 359.4L2191.2 359.6L2191.7 358.7L2192.1 359.3L2192.6 359.1L2193.0 359.2L2193.5 359.8L2193.9 359.4L2194.4 359.5L2194.8 359.2L2195.3 359.4L2195.7 359.6L2196.2 359.3L2196.6 359.8L2197.1 359.1L2197.5 359.3L2198.0 359.6L2198.4 359.2L2198.9 359.2L2199.3 359.4L2199.8 359.8L2200.2 359.3L2200.7 359.7L2201.1 359.8L2201.6 359.5L2202.0 359.5L2202.5 359.6L2202.9 359.6L2203.4 359.6L2203.8 359.6L2204.3 359.5L2204.7 359.7L2205.2 360.2L2205.6 359.5L2206.1 359.4L2206.5 359.8L2207.0 359.6L2207.4 359.4L2207.9 359.5L2208.3 359.4L2208.8 359.4L2209.2 359.2L2209.7 359.6L2210.1 359.3L2210.6 360.0L2211.0 359.2L2211.5 359.5L2211.9 359.0L2212.4 359.5L2212.8 359.5L2213.3 359.9L2213.7 358.9L2214.2 359.9L2214.6 359.9L2215.1 359.3L2215.5 359.3L2216.0 359.4L2216.4 359.1L2216.9 359.2L2217.3 359.6L2217.8 359.0L2218.2 359.7L2218.7 359.4L2219.1 359.4L2219.6 359.2L2220.0 359.4L2220.5 359.4L2220.9 359.6L2221.4 360.2L2221.8 360.2L2222.3 360.0L2222.7 359.3L2223.2 359.6L2223.6 359.0L2224.1 359.5L2224.5 359.5L2225.0 359.4L2225.4 359.4L2225.9 359.6L2226.3 359.6L2226.8 360.0L2227.2 359.3L2227.7 360.0L2228.1 359.8L2228.6 359.2L2229.0 359.2L2229.5 359.3L2229.9 359.6L2230.4 359.4L2230.8 359.2L2231.3 358.9L2231.7 359.4L2232.2 359.6L2232.6 359.6L2233.1 359.6L2233.5 359.2L2234.0 359.0L2234.4 358.9L2234.9 359.2L2235.3 359.4L2235.8 359.5L2236.2 359.7L2236.7 359.5L2237.1 359.6L2237.6 358.7L2238.0 359.4L2238.5 359.6L2238.9 359.3L2239.4 358.9L2239.8 359.2L2240.3 359.3L2240.7 359.2L2241.2 359.8L2241.6 359.9L2242.1 359.3L2242.5 359.6L2243.0 359.4L2243.4 359.6L2243.9 359.6L2244.3 359.5L2244.8 359.4L2245.2 359.6L2245.7 359.5L2246.1 359.2L2246.6 359.0L2247.0 359.8L2247.5 359.8L2247.9 360.1L2248.4 359.6L2248.8 360.0L2249.3 360.0L2249.7 359.9L2250.2 359.3L2250.6 359.2L2251.1 359.9L2251.5 360.0L2252.0 359.3L2252.4 359.8L2252.9 359.7L2253.3 360.0L2253.8 360.2L2254.2 359.7L2254.7 359.6L2255.1 359.5L2255.6 359.4L2256.0 358.8L2256.5 359.1L2256.9 359.7L2257.4 360.0L2257.8 359.7L2258.3 359.2L2258.7 359.5L2259.2 359.6L2259.6 359.1L2260.1 359.0L2260.5 360.2L2261.0 359.7L2261.4 359.9L2261.9 360.0L2262.3 359.4L2262.8 359.7L2263.2 359.9L2263.7 359.9L2264.1 359.7L2264.6 359.5L2265.0 359.5L2265.5 359.3L2265.9 359.8L2266.4 359.5L2266.8 359.4L2267.3 359.9L2267.7 360.1L2268.2 360.0L2268.6 360.1L2269.1 360.0L2269.5 359.7L2270.0 359.6L2270.4 360.0L2270.9 359.9L2271.3 359.5L2271.8 359.9L2272.2 359.6L2272.7 359.0L2273.1 359.8L2273.6 359.3L2274.0 359.9L2274.5 359.3L2274.9 360.2L2275.4 359.6L2275.8 360.3L2276.3 360.1L2276.7 359.6L2277.2 359.7L2277.6 359.2L2278.1 359.4L2278.5 359.8L2279.0 359.4L2279.4 359.6L2279.9 359.7L2280.3 359.6L2280.8 359.5L2281.2 359.4L2281.7 359.1L2282.1 359.3L2282.6 359.6L2283.0 359.5L2283.5 359.6L2283.9 359.7L2284.4 359.8L2284.8 359.6L2285.3 359.6L2285.7 359.6L2286.2 359.5L2286.6 360.1L2287.1 359.8L2287.5 359.3L2288.0 359.0L2288.4 359.8L2288.9 359.1L2289.3 360.1L2289.8 360.0L2290.2 359.2L2290.7 359.6L2291.1 360.5L2291.6 360.3L2292.0 359.6L2292.5 360.0L2292.9 359.5L2293.4 360.1L2293.8 359.7L2294.3 359.5L2294.7 359.7L2295.2 359.5L2295.6 359.8L2296.1 359.4L2296.5 360.1L2297.0 359.6L2297.4 359.7L2297.9 359.4L2298.3 359.8L2298.8 360.0L2299.2 359.9L2299.7 359.4L2300.1 359.5L2300.6 359.6L2301.0 359.4L2301.5 359.6L2301.9 359.8L2302.4 359.1L2302.8 359.4L2303.3 359.5L2303.7 359.5L2304.2 359.5L2304.6 359.8L2305.1 359.9L2305.5 359.5L2306.0 359.5L2306.4 359.7L2306.9 359.6L2307.3 359.2L2307.8 359.8L2308.2 359.5L2308.7 360.1L2309.1 359.2L2309.6 359.6L2310.0 360.1L2310.5 360.1L2310.9 359.8L2311.4 360.1L2311.8 359.6L2312.3 360.2L2312.7 359.4L2313.2 359.4L2313.6 359.4L2314.1 359.0L2314.5 360.1L2315.0 359.2L2315.4 359.1L2315.9 359.1L2316.3 359.9L2316.8 359.9L2317.2 359.6L2317.7 359.7L2318.1 359.7L2318.6 360.1L2319.0 359.4L2319.5 360.0L2319.9 359.3L2320.4 360.0L2320.8 360.1L2321.3 360.3L2321.7 359.8L2322.2 359.8L2322.6 359.9L2323.1 359.5L2323.5 360.0L2324.0 359.1L2324.4 359.4L2324.9 359.5L2325.3 359.7L2325.8 359.4L2326.2 359.7L2326.7 360.4L2327.1 359.9L2327.6 359.9L2328.0 359.7L2328.5 359.6L2328.9 359.6L2329.4 360.0L2329.8 359.6L2330.3 360.2L2330.7 360.1L2331.2 360.3L2331.6 360.0L2332.1 359.3L2332.5 359.2L2333.0 360.3L2333.4 359.2L2333.9 359.4L2334.3 359.7L2334.8 359.6L2335.2 359.2L2335.7 359.7L2336.1 360.1L2336.6 360.1L2337.0 359.9L2337.5 359.8L2337.9 360.5L2338.4 360.5L2338.8 359.8L2339.3 359.6L2339.7 359.6L2340.2 360.5L2340.6 359.2L2341.1 359.5L2341.5 359.5L2342.0 360.4L2342.4 360.2L2342.9 359.4L2343.3 359.4L2343.8 359.7L2344.2 359.5L2344.7 360.1L2345.1 360.1L2345.6 360.1L2346.0 359.4L2346.5 359.6L2346.9 359.9L2347.4 359.9L2347.8 360.2L2348.3 359.3L2348.7 359.3L2349.2 360.1L2349.6 359.7L2350.1 359.9L2350.5 360.1L2351.0 359.7L2351.4 360.0L2351.9 360.3L2352.3 360.1L2352.8 360.0L2353.2 359.9L2353.7 360.3L2354.1 360.2L2354.6 359.5L2355.0 360.0L2355.5 360.0L2355.9 359.5L2356.4 359.6L2356.8 359.6L2357.3 359.4L2357.7 360.1L2358.2 359.2L2358.6 359.4L2359.1 359.1L2359.5 359.1L2360.0 359.7L2360.4 360.0L2360.9 360.2L2361.3 360.1L2361.8 360.1L2362.2 359.6L2362.7 359.7L2363.1 360.5L2363.6 360.3L2364.0 360.2L2364.5 359.5L2364.9 359.9L2365.4 359.7L2365.8 359.7L2366.3 359.9L2366.7 359.6L2367.2 359.6L2367.6 360.4L2368.1 359.8L2368.5 359.3L2369.0 359.6L2369.4 360.1L2369.9 360.1L2370.3 359.6L2370.8 360.0" stroke="#ff1010" stroke-width="3.9"/>
<path d="M1437.9 366.4L1438.4 366.1L1438.8 366.3L1439.3 366.2L1439.7 366.3L1440.2 366.4L1440.6 366.1L1441.1 366.2L1441.5 366.2L1442.0 366.1L1442.4 366.4L1442.9 366.2L1443.3 366.2L1443.8 366.1L1444.2 366.1L1444.7 366.2L1445.1 366.2L1445.6 366.1L1446.0 366.3L1446.5 366.3L1446.9 366.1L1447.4 366.2L1447.8 366.3L1448.3 366.2L1448.7 366.2L1449.2 366.1L1449.6 366.1L1450.1 366.3L1450.5 366.3L1451.0 366.2L1451.4 366.2L1451.9 366.1L1452.3 366.1L1452.8 366.2L1453.2 366.2L1453.7 366.2L1454.1 366.2L1454.6 366.3L1455.0 366.4L1455.5 366.3L1455.9 366.3L1456.4 366.2L1456.8 366.3L1457.3 366.2L1457.7 365.0L1458.2 338.0L1458.6 294.2L1458.9 289.3L1459.1 289.8L1459.5 320.0L1460.0 361.3L1460.4 366.1L1460.9 366.2L1461.3 366.2L1461.8 366.2L1462.2 366.2L1462.7 366.4L1463.1 366.3L1463.6 366.3L1464.0 366.2L1464.5 366.3L1464.9 366.3L1465.4 366.3L1465.8 366.3L1466.3 366.3L1466.7 366.3L1467.2 366.3L1467.6 366.2L1468.1 366.3L1468.5 366.3L1469.0 366.1L1469.4 366.2L1469.9 366.2L1470.3 366.2L1470.8 366.3L1471.2 366.2L1471.7 366.3L1472.1 366.2L1472.6 366.3L1473.0 366.3L1473.5 366.3L1473.9 366.4L1474.4 366.3L1474.8 366.3L1475.3 366.4L1475.7 366.3L1476.2 366.1L1476.6 366.3L1477.1 366.2L1477.5 366.3L1478.0 366.3L1478.4 366.3L1478.9 366.2L1479.3 366.2L1479.8 366.3L1480.2 366.2L1480.7 366.3L1481.1 366.2L1481.6 366.3L1482.0 366.2L1482.5 366.3L1482.9 366.2L1483.4 366.2M1753.4 366.4L1753.8 366.2L1754.3 366.4L1754.7 366.3L1755.2 366.4L1755.6 366.3L1756.1 366.3L1756.5 366.3L1757.0 366.4L1757.4 366.2L1757.9 366.3L1758.3 366.2L1758.8 366.3L1759.2 366.4L1759.7 366.3L1760.1 366.3L1760.6 366.4L1761.0 366.3L1761.5 366.3L1761.9 366.3L1762.4 366.3L1762.8 366.3L1763.3 366.2L1763.7 366.3L1764.2 366.4L1764.6 366.3L1765.1 366.2L1765.5 366.4L1766.0 366.3L1766.4 366.3L1766.9 366.2L1767.3 366.2L1767.8 366.3L1768.2 366.3L1768.7 366.2L1769.1 366.3L1769.6 366.4L1770.0 366.3L1770.5 366.3L1770.9 366.3L1771.4 366.3L1771.8 366.3L1772.3 366.2L1772.7 366.2L1773.2 366.3L1773.6 366.3L1774.1 366.3L1774.5 366.3L1775.0 366.3L1775.4 366.3L1775.9 366.3L1776.3 366.2L1776.8 366.2L1777.2 366.2L1777.7 366.4L1778.1 366.4L1778.6 366.3L1779.0 366.2L1779.5 366.3L1779.9 366.4L1780.4 366.3L1780.8 366.2L1781.3 366.2L1781.7 366.4L1782.2 366.3L1782.6 366.2L1783.1 366.4L1783.5 366.3L1784.0 366.4L1784.4 366.4L1784.9 366.2L1785.3 366.4L1785.8 366.4L1786.2 366.3L1786.7 366.3L1787.1 366.4L1787.6 366.3L1788.0 366.3L1788.5 366.4L1788.9 366.4L1789.4 366.3L1789.8 366.4L1790.3 366.3L1790.7 366.3L1791.2 366.4L1791.6 366.3L1792.1 366.3L1792.5 366.4L1793.0 366.3L1793.4 366.3L1793.9 366.4L1794.3 366.2L1794.8 366.4L1795.2 366.4L1795.7 366.2L1796.1 366.4L1796.6 366.4L1797.0 366.3L1797.5 366.3L1797.9 366.3L1798.4 366.3L1798.8 366.3L1799.3 366.4L1799.7 366.4L1800.2 366.2M1815.9 366.1L1816.4 366.4L1816.8 366.2L1817.3 366.2L1817.7 366.3L1818.2 366.3L1818.6 366.3L1819.1 366.3L1819.5 366.3L1820.0 366.4L1820.4 366.3L1820.9 366.2L1821.3 366.3L1821.8 366.2L1822.2 366.2L1822.7 366.2L1823.1 366.3L1823.6 366.3L1824.0 366.3L1824.5 366.3L1824.9 366.3L1825.4 366.2L1825.8 366.2L1826.3 366.3L1826.7 366.4L1827.2 366.2L1827.6 366.2L1828.1 366.3L1828.5 366.3L1829.0 366.1L1829.4 366.3L1829.9 366.2L1830.3 366.2L1830.8 366.3L1831.2 366.4L1831.7 366.3L1832.1 366.4L1832.6 366.3L1833.0 366.3L1833.5 366.3L1833.9 366.3L1834.4 366.3L1834.8 366.3L1835.3 366.2L1835.7 366.2L1836.2 366.3L1836.6 366.3L1837.1 366.3L1837.5 366.3L1838.0 366.4L1838.4 365.9L1838.9 362.2L1839.2 361.3L1839.3 361.3L1839.8 363.9L1840.2 366.3L1840.7 366.4L1841.1 366.3L1841.6 366.3L1842.0 366.3L1842.5 366.3L1842.9 366.3L1843.4 366.4L1843.8 366.2L1844.3 366.2L1844.7 366.4L1845.2 366.4L1845.6 366.3L1846.1 366.3L1846.5 366.2L1847.0 366.2L1847.4 366.2L1847.9 366.2L1848.3 366.2L1848.8 366.3L1849.2 366.3L1849.7 366.4L1850.1 366.3L1850.6 366.4L1851.0 366.4L1851.5 366.3L1851.9 366.4L1852.4 366.2L1852.8 366.4L1853.3 366.3L1853.7 366.2L1854.2 366.2L1854.6 366.3L1855.1 366.3L1855.5 366.3L1856.0 366.3L1856.4 366.3L1856.9 366.3L1857.3 366.4L1857.8 366.3L1858.2 366.2L1858.7 366.2L1859.1 366.2L1859.6 366.2L1860.0 366.3L1860.5 366.2L1860.9 366.3L1861.4 366.3M1923.9 366.6L1924.4 366.3L1924.8 366.4L1925.3 366.2L1925.7 366.2L1926.2 366.3L1926.6 366.2L1927.1 366.2L1927.5 366.3L1928.0 366.3L1928.4 366.2L1928.9 366.3L1929.3 366.2L1929.8 366.3L1930.2 366.3L1930.7 366.4L1931.1 366.4L1931.6 366.3L1932.0 366.4L1932.5 366.3L1932.9 366.2L1933.4 366.2L1933.8 366.3L1934.3 366.3L1934.7 366.2L1935.2 366.3L1935.6 366.3L1936.1 366.2L1936.5 366.2L1937.0 366.3L1937.4 366.3L1937.9 366.3L1938.3 366.3L1938.8 366.4L1939.2 366.3L1939.7 366.4L1940.1 366.3L1940.6 366.4L1941.0 366.3L1941.5 366.3L1941.9 366.3L1942.4 366.3L1942.8 366.2L1943.1 366.3L1943.3 366.3L1943.7 366.3L1944.2 366.2L1944.6 366.2L1945.1 366.3L1945.5 366.3L1946.0 366.3L1946.4 366.3L1946.9 366.2L1947.3 366.3L1947.8 366.3L1948.2 366.2L1948.7 366.3L1949.1 366.3L1949.6 366.3L1950.0 366.2L1950.5 366.4L1950.9 366.3L1951.4 366.4L1951.8 366.3L1952.3 366.4L1952.7 366.2L1953.2 366.4L1953.6 366.3L1954.1 366.3L1954.5 366.4L1955.0 366.4L1955.4 366.4L1955.9 366.3L1956.3 366.2L1956.8 366.2L1957.2 366.3L1957.7 366.2L1958.1 366.2L1958.6 366.3L1959.0 366.2L1959.5 366.2L1959.9 366.3L1960.4 366.3L1960.8 366.3L1961.3 366.4L1961.7 366.3L1962.2 366.2L1962.6 366.4L1963.1 366.3L1963.5 366.3L1964.0 366.3L1964.4 366.3L1964.9 366.2L1965.3 366.3L1965.8 366.2L1966.2 366.2L1966.7 366.3L1967.1 366.4L1967.6 366.4L1968.0 366.3L1968.5 366.4L1968.9 366.3L1969.4 366.6M2005.4 366.0L2005.8 365.7L2006.3 365.7L2006.7 365.6L2007.2 365.5L2007.6 365.7L2008.1 365.6L2008.5 365.6L2009.0 365.6L2009.4 365.5L2009.9 365.5L2010.3 365.4L2010.8 365.4L2011.2 365.5L2011.7 365.5L2012.1 365.5L2012.6 365.3L2013.0 365.3L2013.5 365.3L2013.9 365.4L2014.4 365.4L2014.8 365.2L2015.3 365.3L2015.7 365.2L2016.2 365.3L2016.6 365.1L2017.1 365.2L2017.5 365.2L2018.0 365.1L2018.4 365.1L2018.9 365.1L2019.3 365.1L2019.8 364.9L2020.2 365.0L2020.7 365.0L2021.1 365.0L2021.6 365.0L2022.0 365.0L2022.5 365.1L2022.9 365.0L2023.4 364.9L2023.8 365.0L2024.3 365.0L2024.7 365.0L2025.1 365.0L2025.2 365.0L2025.6 364.8L2026.1 365.0L2026.5 364.9L2027.0 364.8L2027.4 364.6L2027.9 364.1L2028.3 364.0L2028.8 363.6L2029.2 363.3L2029.7 363.1L2030.1 362.9L2030.6 362.7L2031.0 362.3L2031.5 362.3L2031.9 362.4L2032.4 362.3L2032.8 362.1L2033.3 362.2L2033.7 362.2L2034.2 362.0L2034.6 362.1L2035.1 362.1L2035.5 362.1L2036.0 362.1L2036.4 361.9L2036.9 362.0L2037.3 362.1L2037.8 361.9L2038.2 362.0L2038.7 362.0L2039.1 361.8L2039.6 361.9L2040.0 361.9L2040.5 362.0L2040.9 361.9L2041.4 361.7L2041.8 361.9L2042.3 361.8L2042.7 361.6L2043.2 361.7L2043.6 361.6L2044.1 361.6L2044.5 361.7L2045.0 361.5L2045.4 361.6L2045.9 361.5L2046.3 361.6L2046.8 361.4L2047.2 361.4L2047.7 361.5L2048.1 361.4L2048.6 361.5L2049.0 361.4L2049.5 361.3L2049.9 361.3L2050.4 361.3L2050.8 361.4L2051.3 361.2" stroke="#ff1010" stroke-width="3.0"/>
<line x1="1458.9" y1="290.3" x2="1458.9" y2="365.3" stroke="#ff1010" stroke-width="3.3" stroke-linecap="butt"/>
<path d="M1274.1 302.3L1274.5 302.3L1275.0 302.2L1275.5 301.9L1275.9 302.0L1276.4 301.8L1276.8 301.8L1277.3 302.7L1277.7 302.7L1278.2 302.2L1278.6 302.7L1279.1 302.5L1279.5 302.4L1280.0 302.4L1280.4 302.6L1280.9 302.5L1281.3 302.4L1281.8 302.6L1282.2 302.3L1282.7 302.2L1283.1 302.7L1283.6 302.2L1284.0 302.7L1284.5 302.4L1284.9 302.6L1285.4 302.3L1285.8 302.7L1286.3 302.4L1286.7 302.6L1287.2 302.6L1287.6 302.6L1288.1 301.9L1288.5 302.5L1289.0 302.0L1289.4 302.3L1289.9 302.7L1290.3 302.5L1290.8 302.7L1291.2 302.4L1291.7 301.9L1292.1 302.1L1292.6 302.3L1293.0 302.2L1293.5 302.7L1293.9 302.7L1294.4 302.1L1294.8 302.2L1295.3 301.8L1295.7 302.4L1296.2 302.4L1296.6 302.3L1297.1 302.9L1297.5 302.1L1298.0 302.0L1298.4 302.6L1298.9 302.2L1299.3 302.6L1299.8 302.7L1300.2 301.9L1300.7 301.9L1301.1 302.1L1301.6 302.4L1302.0 302.5L1302.5 301.9L1302.9 302.4L1303.4 302.2L1303.8 302.5L1304.3 302.5L1304.7 302.7L1305.2 302.7L1305.6 302.3L1306.1 302.7L1306.5 302.9L1307.0 303.1L1307.4 302.8L1307.9 302.5L1308.3 302.9L1308.8 302.8L1309.2 302.4L1309.7 302.4L1310.1 302.6L1310.6 302.8L1311.0 302.6L1311.5 302.5L1311.9 302.5L1312.4 302.3L1312.8 302.5M1357.8 301.6L1358.3 301.8L1358.7 301.4L1359.2 301.5L1359.6 301.4L1360.1 301.8L1360.5 302.0L1361.0 302.0L1361.4 301.7L1361.9 301.7L1362.3 301.3L1362.8 301.9L1363.2 302.1L1363.7 302.1L1364.1 301.6L1364.6 301.6L1365.0 301.5L1365.5 302.3L1365.9 301.9L1366.4 302.3L1366.8 302.4L1367.3 301.9L1367.7 302.3L1368.2 302.6L1368.6 301.6L1369.1 302.0L1369.5 302.1L1370.0 301.7L1370.4 301.6L1370.9 301.9L1371.3 302.4L1371.8 301.9L1372.2 302.5L1372.7 302.1L1373.1 302.0L1373.6 302.4L1374.0 302.0L1374.5 302.5L1374.9 302.1L1375.4 302.4L1375.8 302.0L1376.3 302.3L1376.7 302.3L1377.2 302.5L1377.6 302.6L1378.1 302.6L1378.5 302.3L1379.0 302.1L1379.4 301.6L1379.9 302.2L1380.3 302.3L1380.8 302.7L1381.2 302.4L1381.7 302.5L1382.1 302.1L1382.6 302.4L1383.0 302.1L1383.5 302.2L1383.9 302.6L1384.4 301.9L1384.8 302.4L1385.3 302.1L1385.7 302.8L1386.2 302.6L1386.6 303.0L1387.1 302.6L1387.5 302.9L1388.0 303.3L1388.4 302.9L1388.9 303.1L1389.3 303.1L1389.8 302.7L1390.2 302.4L1390.7 303.0L1391.1 302.9L1391.6 302.4L1392.0 302.8L1392.5 302.6L1392.9 302.9L1393.4 302.5L1393.8 302.6L1394.3 302.7L1394.7 302.5L1395.2 302.9L1395.6 302.9L1396.1 302.5L1396.5 302.8L1397.0 302.3L1397.4 302.5L1397.9 303.0L1398.3 302.7L1398.8 302.6L1399.2 302.8L1399.7 302.7L1400.1 302.6L1400.6 303.0L1401.0 303.1L1401.5 302.5L1401.9 302.7L1402.4 302.3L1402.8 303.3L1403.3 303.2L1403.7 302.9L1404.2 302.9L1404.6 302.5L1405.1 303.3L1405.5 302.8L1406.0 302.8L1406.4 303.1L1406.9 302.5L1407.3 302.8L1407.8 302.4L1408.2 302.9L1408.7 302.6L1409.1 302.4L1409.6 302.6L1410.0 302.7L1410.5 303.0L1410.9 303.1L1411.4 303.5L1411.8 303.4L1412.3 303.0L1412.7 302.8L1413.2 303.2L1413.6 303.0L1414.1 303.1L1414.5 303.1L1415.0 303.1L1415.4 303.1L1415.9 302.4L1416.3 302.9L1416.8 302.7L1417.2 302.9L1417.7 303.1L1418.1 303.3L1418.6 302.9L1419.0 302.8L1419.5 303.5L1419.9 303.1L1420.4 302.9L1420.8 302.6L1421.3 302.8L1421.7 302.7L1422.2 303.0L1422.6 303.2L1423.1 303.0L1423.5 303.1L1424.0 303.3L1424.4 303.1L1424.9 302.7L1425.3 303.1L1425.8 302.8L1426.2 303.2L1426.7 303.1L1427.1 303.3L1427.6 303.2L1428.0 303.2L1428.5 302.8L1428.9 303.2L1429.4 302.9L1429.8 303.2L1430.3 303.0L1430.7 303.2L1431.2 303.5L1431.6 303.6L1432.1 303.3L1432.5 303.2L1433.0 303.4L1433.4 303.6L1433.9 303.1L1434.3 303.2L1434.8 303.0L1435.2 303.5L1435.7 302.9L1436.1 303.1L1436.6 303.3L1437.0 303.1L1437.5 303.4L1437.9 303.4L1438.4 303.2M1482.9 303.2L1483.4 302.7L1483.8 302.8L1484.3 302.5L1484.7 303.2L1485.2 303.1L1485.6 303.1L1486.1 303.5L1486.5 303.1L1487.0 303.2L1487.4 302.6L1487.9 303.2L1488.3 302.8L1488.8 303.4L1489.2 303.2L1489.7 302.8L1490.1 303.6L1490.6 303.4L1491.0 303.6L1491.5 303.1L1491.9 303.2L1492.4 302.7L1492.8 302.7L1493.3 303.2L1493.7 302.7L1494.2 302.9L1494.6 302.6L1495.1 302.7L1495.5 303.0L1496.0 302.7L1496.4 302.9L1496.9 303.3L1497.3 303.2L1497.8 302.9L1498.2 303.3L1498.7 303.3L1499.1 302.7L1499.6 303.1L1500.0 303.0L1500.5 303.0L1500.9 303.5L1501.4 303.0L1501.8 303.4L1502.3 303.4L1502.7 302.9L1503.2 302.9L1503.6 303.1L1504.1 303.1L1504.5 303.2L1505.0 303.0L1505.4 302.9L1505.9 303.2L1506.3 303.2L1506.8 303.5L1507.2 303.4L1507.7 303.2L1508.1 303.4L1508.6 303.6L1509.0 303.3L1509.5 302.7L1509.9 302.6L1510.4 303.1L1510.8 303.3L1511.3 303.0L1511.7 303.5L1512.2 303.2L1512.6 302.7L1513.1 302.8L1513.5 303.2L1514.0 303.3L1514.4 302.7L1514.9 303.1L1515.3 303.4L1515.8 303.0L1516.2 303.6L1516.7 303.6L1517.1 303.5L1517.6 303.0L1518.0 303.0L1518.5 303.3L1518.9 303.2L1519.4 303.1L1519.8 303.5L1520.3 302.8L1520.7 302.6L1521.2 303.3L1521.6 303.4L1522.1 302.8L1522.5 303.5L1523.0 302.9L1523.4 302.6L1523.9 303.4L1524.3 303.4L1524.8 302.9L1525.2 302.9L1525.7 303.0L1526.1 303.4L1526.6 303.5L1527.0 303.1L1527.5 303.3L1527.9 303.3L1528.4 303.5L1528.8 303.1L1529.3 303.3L1529.7 303.1L1530.2 303.4L1530.6 302.9L1531.1 302.7L1531.5 302.7L1532.0 303.0L1532.4 302.7L1532.9 303.2L1533.3 303.1L1533.8 303.6L1534.2 303.2L1534.7 303.5L1535.1 302.7L1535.6 303.3L1536.0 303.1L1536.5 303.4L1536.9 303.3L1537.4 303.5L1537.8 303.1L1538.3 303.2L1538.7 303.5L1539.2 303.0L1539.6 302.9L1540.1 303.5L1540.5 303.7L1541.0 303.1L1541.4 303.5L1541.9 303.3L1542.3 303.5L1542.8 303.2L1543.2 303.3L1543.7 302.9L1544.1 303.1L1544.6 303.3L1545.0 303.5L1545.5 303.1L1545.9 303.5L1546.4 303.2L1546.8 303.2L1547.3 303.1L1547.7 302.8L1548.2 302.9L1548.6 303.2L1549.1 302.7L1549.5 302.9L1550.0 302.4L1550.4 302.7L1550.9 302.8L1551.3 303.3L1551.8 303.1L1552.2 303.7L1552.7 303.7L1553.1 303.1L1553.6 302.9L1554.0 303.6L1554.5 303.3L1554.9 303.4L1555.4 303.5L1555.8 303.7L1556.3 302.9L1556.7 303.7L1557.2 302.9L1557.6 303.1L1558.1 303.9L1558.5 303.0L1559.0 303.2L1559.4 303.2L1559.9 303.3L1560.3 303.4L1560.8 302.9L1561.2 303.2L1561.7 303.3L1562.1 303.4L1562.6 303.2L1563.0 303.3L1563.5 303.3L1563.9 302.7L1564.4 303.6L1564.8 303.5L1565.3 303.4L1565.7 303.3L1566.2 303.8L1566.6 303.5L1567.1 303.0L1567.5 303.2L1568.0 302.9L1568.4 303.2L1568.9 303.3L1569.3 302.6L1569.8 303.6L1570.2 303.4L1570.7 303.6L1571.1 303.3L1571.6 303.6L1572.0 302.8L1572.5 303.1L1572.9 303.9L1573.4 303.8L1573.8 303.8L1574.3 303.8L1574.7 303.0L1575.2 302.5L1575.6 302.9L1576.1 302.4L1576.5 302.6L1577.0 303.2L1577.4 303.5L1577.9 303.0L1578.3 303.2L1578.8 302.9L1579.2 303.0L1579.7 303.2L1580.1 303.3L1580.6 302.9L1581.0 303.1L1581.5 303.1L1581.9 303.2L1582.4 302.9L1582.8 303.2L1583.3 303.2L1583.7 303.2L1584.2 303.1L1584.6 303.2L1585.1 303.6L1585.5 303.3L1586.0 303.7L1586.4 303.0L1586.9 303.3L1587.3 303.0L1587.8 302.8L1588.2 303.3L1588.7 302.9L1589.1 303.7L1589.6 303.0L1590.0 303.4L1590.5 303.3L1590.9 303.4L1591.4 303.6L1591.8 303.2L1592.3 302.9L1592.7 303.1L1593.2 302.7L1593.6 302.8L1594.1 302.8L1594.5 303.1L1595.0 303.2L1595.4 303.1L1595.9 303.0L1596.3 303.1L1596.8 303.4L1597.2 303.2L1597.7 303.6L1598.1 303.1L1598.6 303.3L1599.0 303.3L1599.5 303.3L1599.9 303.0L1600.4 302.7L1600.8 303.4L1601.3 303.4L1601.7 303.4L1602.2 302.8L1602.6 302.9L1603.1 303.2L1603.5 303.2L1604.0 302.9L1604.4 303.1L1604.9 302.8L1605.3 302.9L1605.8 303.5L1606.2 302.8L1606.7 302.9L1607.1 303.5L1607.6 303.2L1608.0 303.6L1608.5 303.2L1608.9 303.9L1609.4 303.4L1609.8 303.8L1610.3 303.4L1610.7 303.0L1611.2 302.9L1611.6 303.2L1612.1 303.6L1612.5 303.5L1613.0 303.4L1613.4 303.4L1613.9 303.3L1614.3 302.8L1614.8 302.8L1615.2 302.9L1615.7 303.0L1616.1 303.2L1616.6 302.7L1617.0 303.1L1617.5 302.8L1617.9 303.6L1618.4 303.3L1618.8 303.1L1619.3 303.2L1619.7 302.9L1620.2 303.3L1620.6 303.3L1621.1 303.4L1621.5 303.0L1622.0 303.4L1622.4 303.4L1622.9 303.3L1623.3 303.1L1623.8 303.0L1624.2 303.5L1624.7 303.3L1625.1 303.4L1625.6 303.4L1626.0 302.3L1626.5 303.4L1626.9 303.1L1627.4 303.4L1627.8 303.7L1628.3 303.4L1628.7 302.8L1629.2 303.2L1629.6 302.8L1630.1 303.1L1630.5 303.1L1631.0 303.0L1631.4 303.5L1631.9 303.4L1632.3 303.2L1632.8 303.2L1633.2 302.7L1633.7 303.3L1634.1 303.8L1634.6 303.2L1635.0 304.0L1635.5 303.9L1635.9 302.7L1636.4 303.3L1636.8 303.7L1637.3 302.8L1637.7 302.8L1638.2 303.1L1638.6 303.1L1639.1 302.8L1639.5 302.8L1640.0 302.8L1640.4 303.3L1640.9 303.4L1641.3 303.2L1641.8 303.6L1642.2 303.5L1642.7 303.1L1643.1 303.2L1643.6 303.0L1644.0 303.1L1644.5 303.0L1644.9 303.4L1645.4 303.1L1645.8 303.0L1646.3 302.8L1646.7 302.9L1647.2 303.2L1647.6 303.5L1648.1 303.6L1648.5 303.2L1649.0 303.3L1649.4 303.3L1649.9 302.6L1650.3 302.9L1650.8 303.0L1651.2 303.0L1651.7 303.5L1652.1 302.8L1652.6 302.9L1653.0 302.8L1653.5 303.2L1653.9 303.1L1654.4 303.4L1654.8 303.1L1655.3 303.2L1655.7 303.2L1656.2 303.3L1656.6 303.3L1657.1 303.4L1657.5 303.4L1658.0 303.0L1658.4 303.2L1658.9 303.2L1659.3 303.3L1659.8 303.2L1660.2 302.9L1660.7 303.2L1661.1 303.1L1661.6 302.9L1662.0 303.1L1662.5 303.2L1662.9 303.2L1663.4 303.8L1663.8 303.4L1664.3 303.4L1664.7 303.7L1665.2 303.2L1665.6 303.3L1666.1 303.3L1666.5 303.6L1667.0 303.2L1667.4 303.0L1667.9 303.4L1668.3 303.4L1668.8 303.4L1669.2 303.2L1669.7 303.6L1670.1 302.8L1670.6 303.5L1671.0 303.3L1671.5 303.0L1671.9 303.0L1672.4 303.8L1672.8 303.3L1673.3 302.8L1673.7 303.4L1674.2 302.9L1674.6 302.9L1675.1 303.4L1675.5 303.2L1676.0 303.3L1676.4 303.2L1676.9 303.3L1677.3 302.8L1677.8 303.1L1678.2 303.0L1678.7 303.5L1679.1 303.7L1679.6 303.2L1680.0 303.2L1680.5 303.4L1680.9 303.3L1681.4 303.3L1681.8 303.1L1682.3 302.9L1682.7 303.0L1683.2 303.2L1683.6 303.2L1684.1 303.2L1684.5 303.5L1685.0 303.2L1685.4 303.1L1685.9 303.2L1686.3 303.2L1686.8 303.4L1687.2 302.9L1687.7 302.8L1688.1 303.1L1688.6 302.5L1689.0 303.4L1689.5 302.6L1689.9 303.5L1690.4 303.0L1690.8 302.8L1691.3 303.3L1691.7 302.6L1692.2 303.4L1692.6 303.6L1693.1 303.3L1693.5 302.9L1694.0 302.8L1694.4 303.0L1694.9 303.0L1695.3 303.5L1695.8 303.4L1696.2 303.3L1696.7 303.8L1697.1 303.6L1697.6 303.2L1698.0 303.6L1698.5 303.2L1698.9 303.0L1699.4 303.4L1699.8 303.1L1700.3 303.3L1700.7 303.3L1701.2 302.9L1701.6 303.2L1702.1 303.4L1702.5 303.5L1703.0 303.1L1703.4 303.2L1703.9 303.0L1704.3 303.0L1704.8 303.1L1705.2 303.4L1705.7 302.8L1706.1 302.4L1706.6 303.4L1707.0 303.0L1707.5 303.5L1707.9 302.9L1708.4 303.1L1708.8 303.0L1709.3 303.5L1709.7 302.8L1710.2 303.1L1710.6 303.1L1711.1 302.8L1711.5 303.1L1712.0 303.5L1712.4 303.5L1712.9 303.7L1713.3 303.1L1713.8 303.2L1714.2 302.9L1714.7 303.1L1715.1 302.9L1715.6 303.4L1716.0 302.9L1716.5 303.2L1716.9 303.1L1717.4 303.1L1717.8 303.3L1718.3 303.1L1718.7 303.1L1719.2 303.3L1719.6 303.5L1720.1 302.9L1720.5 303.7L1721.0 303.5L1721.4 302.9L1721.9 303.5L1722.3 302.8L1722.8 303.5L1723.2 303.6L1723.7 303.0L1724.1 302.8L1724.6 303.6L1725.0 303.3L1725.5 303.4L1725.9 302.8L1726.4 303.3L1726.8 302.9L1727.3 303.3L1727.7 303.6L1728.2 303.7L1728.6 303.5L1729.1 303.1L1729.5 303.0L1730.0 303.2L1730.4 303.6L1730.9 303.2L1731.3 303.2L1731.8 303.0L1732.2 303.2L1732.7 302.9L1733.1 303.4L1733.6 302.8L1734.0 303.7L1734.5 303.6L1734.9 303.6L1735.4 303.0L1735.8 302.9L1736.3 303.0L1736.7 302.9L1737.2 303.2L1737.6 303.3L1738.1 302.9L1738.5 303.2L1739.0 303.2L1739.4 303.2L1739.9 303.5L1740.3 303.5L1740.8 303.5L1741.2 303.2L1741.7 303.5L1742.1 302.9L1742.6 303.1L1743.0 303.6L1743.5 303.0L1743.9 303.1L1744.4 303.0L1744.8 303.5L1745.3 303.1L1745.7 303.4L1746.2 303.1L1746.6 302.9L1747.1 302.7L1747.5 303.2L1748.0 303.1L1748.4 303.2L1748.9 303.4L1749.3 303.0L1749.8 303.3L1750.2 303.2L1750.7 303.0L1751.1 303.0L1751.6 303.3L1752.0 303.4L1752.5 303.0L1752.9 303.1L1753.4 302.9L1753.8 303.2M1799.7 303.2L1800.2 302.8L1800.6 302.7L1801.1 302.7L1801.5 303.6L1802.0 303.5L1802.4 303.1L1802.9 303.1L1803.3 303.2L1803.8 302.8L1804.2 303.0L1804.7 303.0L1805.1 303.4L1805.6 303.3L1806.0 302.8L1806.5 303.2L1806.9 303.6L1807.4 303.6L1807.8 303.2L1808.3 303.3L1808.7 303.3L1809.2 303.0L1809.6 303.2L1810.1 303.0L1810.5 302.8L1811.0 303.1L1811.4 303.1L1811.9 303.3L1812.3 302.9L1812.8 302.9L1813.2 302.9L1813.7 303.5L1814.1 302.9L1814.6 302.9L1815.0 303.0L1815.5 302.9L1815.9 303.0L1816.4 303.1M1860.9 303.1L1861.4 303.1L1861.8 303.0L1862.3 303.3L1862.7 303.2L1863.2 303.4L1863.6 303.5L1864.1 303.1L1864.5 302.9L1865.0 303.0L1865.4 303.3L1865.9 302.9L1866.3 303.0L1866.8 303.3L1867.2 302.8L1867.7 303.2L1868.1 302.9L1868.6 302.9L1869.0 302.7L1869.5 303.1L1869.9 302.9L1870.4 303.0L1870.8 302.8L1871.3 303.6L1871.7 303.4L1872.2 303.6L1872.6 303.0L1873.1 303.3L1873.5 303.2L1874.0 302.8L1874.4 303.2L1874.9 302.9L1875.3 302.9L1875.8 303.0L1876.2 303.4L1876.7 303.2L1877.1 303.3L1877.6 303.1L1878.0 303.5L1878.5 303.1L1878.9 302.9L1879.4 303.0L1879.8 302.7L1880.3 303.3L1880.7 302.9L1881.2 303.0L1881.6 303.1L1882.1 302.8L1882.5 303.1L1883.0 302.9L1883.4 302.4L1883.9 303.2L1884.3 303.1L1884.8 303.7L1885.2 303.3L1885.7 303.5L1886.1 303.0L1886.6 302.9L1887.0 303.7L1887.5 303.7L1887.9 303.3L1888.4 303.0L1888.8 303.5L1889.3 303.4L1889.7 303.0L1890.2 303.0L1890.6 303.5L1891.1 303.0L1891.5 303.5L1892.0 303.0L1892.4 302.9L1892.9 303.3L1893.3 303.2L1893.8 303.0L1894.2 303.5L1894.7 303.1L1895.1 302.9L1895.6 302.9L1896.0 302.5L1896.5 302.9L1896.9 302.6L1897.4 303.2L1897.8 302.7L1898.3 302.8L1898.7 303.1L1899.2 303.0L1899.6 303.4L1900.1 303.2L1900.5 302.9L1901.0 303.4L1901.4 303.2L1901.9 303.5L1902.3 303.0L1902.8 302.9L1903.2 302.9L1903.7 302.8L1904.1 303.7L1904.6 303.7L1905.0 303.4L1905.5 303.0L1905.9 303.7L1906.4 303.3L1906.8 303.1L1907.3 303.6L1907.7 303.4L1908.2 302.9L1908.6 303.3L1909.1 302.9L1909.5 303.7L1910.0 302.7L1910.4 303.3L1910.9 303.5L1911.3 303.8L1911.8 302.9L1912.2 303.6L1912.7 303.3L1913.1 303.4L1913.6 303.7L1914.0 302.8L1914.5 302.8L1914.9 303.6L1915.4 303.2L1915.8 303.4L1916.3 303.3L1916.7 302.9L1917.2 302.9L1917.6 303.1L1918.1 302.9L1918.5 302.8L1919.0 303.0L1919.4 302.7L1919.9 303.3L1920.3 303.4L1920.8 303.1L1921.2 303.1L1921.7 303.6L1922.1 303.4L1922.6 303.2L1923.0 303.2L1923.5 303.5L1923.9 303.2L1924.4 303.2M1968.9 303.2L1969.4 302.9L1969.8 303.1L1970.3 303.0L1970.7 303.0L1971.2 302.9L1971.6 303.2L1972.1 303.5L1972.5 303.3L1973.0 303.2L1973.4 303.6L1973.9 303.1L1974.3 303.5L1974.8 303.5L1975.2 303.0L1975.7 302.7L1976.1 302.5L1976.6 303.3L1977.0 303.0L1977.5 302.8L1977.9 303.3L1978.4 303.1L1978.8 302.9L1979.3 302.8L1979.7 302.9L1980.2 303.0L1980.6 303.2L1981.1 303.0L1981.5 303.5L1982.0 303.3L1982.4 303.4L1982.9 303.4L1983.3 303.2L1983.8 303.3L1984.2 303.5L1984.7 303.0L1985.1 303.2L1985.6 302.9L1986.0 303.4L1986.5 303.3L1986.9 303.6L1987.4 303.2L1987.8 302.9L1988.3 303.4L1988.7 303.2L1989.2 302.9L1989.6 302.6L1990.1 303.2L1990.5 302.7L1991.0 303.1L1991.4 303.0L1991.9 302.9L1992.3 302.9L1992.8 303.0L1993.2 303.1L1993.7 303.0L1994.1 302.9L1994.6 302.8L1995.0 302.9L1995.5 302.7L1995.9 303.1L1996.4 302.8L1996.8 302.6L1997.3 303.2L1997.7 302.5L1998.2 303.2L1998.6 303.0L1999.1 302.9L1999.5 302.9L2000.0 302.9L2000.4 302.5L2000.9 302.7L2001.3 303.1L2001.8 302.4L2002.2 302.2L2002.7 302.8L2003.1 303.2L2003.6 303.0L2004.0 302.6L2004.5 302.5L2004.9 302.2L2005.4 302.2L2005.8 302.7M2050.8 298.1L2051.3 298.1L2051.7 297.9L2052.2 298.5L2052.6 298.5L2053.1 297.7L2053.5 297.8L2054.0 297.4L2054.4 297.5L2054.9 297.4L2055.3 297.5L2055.8 298.0L2056.2 297.4L2056.7 297.2L2057.1 297.8L2057.6 297.9L2058.0 297.4L2058.5 297.5L2058.9 297.5L2059.4 297.4L2059.8 297.5L2060.3 297.7L2060.7 297.9L2061.2 297.3L2061.6 298.4L2062.1 297.1L2062.5 297.8L2063.0 297.5L2063.4 297.5L2063.9 297.4L2064.3 298.2L2064.8 298.0L2065.2 297.9L2065.7 296.9L2066.1 297.8L2066.6 297.6L2067.0 297.8L2067.5 297.3L2067.9 297.4L2068.4 297.6L2068.8 297.1L2069.3 297.6L2069.7 297.5L2070.2 297.5L2070.6 297.5L2071.1 297.3L2071.5 297.8L2072.0 297.6L2072.4 297.7L2072.9 297.2L2073.3 297.6L2073.8 297.4L2074.2 297.6L2074.7 297.1L2075.1 297.0L2075.6 297.2L2076.0 297.6L2076.5 297.6L2076.9 297.7L2077.4 296.2L2077.8 296.9L2078.3 297.3L2078.7 297.5L2079.2 297.3L2079.6 297.5L2080.1 297.3L2080.5 297.0L2081.0 297.4L2081.4 296.8L2081.9 296.9L2082.3 297.4L2082.8 296.8L2083.2 297.2L2083.7 297.2L2084.1 296.8L2084.6 296.7L2085.0 296.9L2085.5 296.4L2085.9 297.0L2086.4 297.4L2086.8 297.6L2087.3 297.0L2087.7 297.5L2088.2 297.5L2088.6 296.6L2089.1 297.1L2089.5 297.4L2090.0 297.4L2090.4 296.9L2090.9 297.3L2091.3 297.4L2091.8 297.2L2092.2 296.9L2092.7 296.8L2093.1 296.5L2093.6 296.6L2094.0 296.9L2094.5 296.8L2094.9 297.1L2095.4 297.1L2095.8 296.6L2096.3 297.2L2096.7 297.4L2097.2 296.3L2097.6 297.0L2098.1 296.9L2098.5 296.6L2099.0 296.9L2099.4 296.8L2099.9 296.4L2100.3 296.8L2100.8 295.5L2101.2 296.4L2101.7 297.4L2102.1 296.6L2102.6 296.4L2103.0 296.6L2103.5 296.2L2103.9 296.7L2104.4 296.4L2104.8 296.3L2105.3 296.6L2105.7 296.7L2106.2 296.3L2106.6 296.4L2107.1 296.4L2107.5 296.5L2108.0 296.2L2108.4 296.6L2108.9 296.6L2109.3 296.7L2109.8 296.6L2110.2 296.8L2110.7 296.4L2111.1 297.1L2111.6 297.1L2112.0 297.3L2112.5 296.4L2112.9 296.8L2113.4 296.5L2113.8 297.0L2114.3 296.7L2114.7 296.3L2115.2 296.7L2115.6 296.2L2116.1 296.3L2116.5 296.4L2117.0 296.6L2117.4 296.2L2117.9 296.3L2118.3 296.3L2118.8 296.4L2119.2 295.9L2119.7 296.6L2120.1 296.4L2120.6 296.3L2121.0 295.9L2121.5 296.6L2121.9 296.5L2122.4 296.8L2122.8 296.4L2123.3 296.7L2123.7 296.5L2124.2 296.9L2124.6 296.6L2125.1 297.1L2125.5 296.2L2126.0 296.5L2126.4 296.4L2126.9 296.6L2127.3 296.6L2127.8 296.6L2128.2 296.2L2128.7 296.5L2129.1 297.1L2129.6 296.4L2130.0 297.0L2130.5 296.4L2130.9 297.0L2131.4 296.9L2131.8 296.2L2132.3 295.9L2132.7 296.0L2133.2 295.9L2133.6 295.8L2134.1 296.4L2134.5 296.2L2135.0 296.7L2135.4 296.4L2135.9 296.4L2136.3 295.9L2136.8 296.2L2137.2 295.9L2137.7 296.2L2138.1 296.0L2138.6 296.1L2139.0 296.2L2139.5 296.6L2139.9 296.4L2140.4 296.1L2140.8 296.0L2141.3 296.7L2141.7 296.2L2142.2 296.4L2142.6 296.7L2143.1 296.4L2143.5 296.1L2144.0 296.8L2144.4 296.8L2144.9 296.6L2145.3 296.5L2145.8 296.9L2146.2 296.3L2146.7 296.5L2147.1 296.3L2147.6 296.2L2148.0 295.9L2148.5 296.8L2148.9 296.7L2149.4 296.5L2149.8 296.3L2150.3 296.7L2150.7 296.2L2151.2 296.0L2151.6 296.2L2152.1 296.0L2152.5 296.5L2153.0 296.1L2153.4 296.2L2153.9 296.1L2154.3 296.0L2154.8 296.5L2155.2 296.2L2155.7 295.9L2156.1 296.5L2156.6 296.3L2157.0 296.7L2157.5 296.1L2157.9 296.4L2158.4 296.2L2158.8 296.8L2159.3 296.6L2159.7 296.6L2160.2 295.9L2160.6 295.2L2161.1 296.0L2161.5 294.8L2162.0 294.4L2162.4 295.1L2162.9 295.3L2163.3 295.1L2163.8 295.2L2164.2 295.4L2164.7 296.3L2165.1 296.5L2165.6 296.3L2166.0 296.7L2166.5 296.7L2166.9 296.2L2167.4 296.1L2167.8 296.8L2168.3 296.7L2168.7 296.4L2169.2 296.3L2169.6 296.5L2170.1 296.4L2170.5 296.4L2171.0 296.6L2171.4 295.9L2171.9 296.3L2172.3 296.6L2172.8 295.9L2173.2 296.9L2173.7 296.7L2174.1 296.7L2174.6 297.0L2175.0 296.4L2175.5 296.7L2175.9 297.0L2176.4 296.4L2176.8 296.1L2177.3 296.2L2177.7 296.3L2178.2 296.3L2178.6 291.7L2179.0 289.9L2179.1 290.2L2179.5 292.8L2180.0 296.4L2180.4 296.1L2180.9 296.3L2181.3 296.2L2181.8 296.4L2182.2 296.3L2182.7 296.3L2183.1 296.4L2183.6 296.7L2184.0 296.3L2184.5 295.9L2184.9 296.1L2185.4 296.2L2185.8 296.0L2186.3 295.9L2186.7 296.2L2187.2 296.2L2187.6 296.0L2188.1 296.5L2188.5 296.1L2189.0 296.2L2189.4 296.1L2189.9 296.2L2190.3 296.5L2190.8 296.6L2191.2 296.0L2191.7 296.2L2192.1 296.1L2192.6 296.4L2193.0 296.7L2193.5 296.4L2193.9 296.6L2194.4 296.5L2194.8 296.4L2195.3 296.8L2195.7 296.0L2196.2 296.5L2196.6 296.2L2197.1 296.1L2197.5 296.7L2198.0 296.4L2198.4 296.0L2198.9 296.3L2199.3 296.1L2199.8 296.3L2200.2 297.0L2200.7 296.2L2201.1 296.3L2201.6 296.4L2202.0 296.3L2202.5 296.0L2202.9 295.9L2203.4 295.8L2203.8 295.7L2204.3 295.8L2204.7 295.8L2205.2 296.7L2205.6 296.3L2206.1 296.7L2206.5 296.3L2207.0 296.3L2207.4 296.3L2207.9 296.0L2208.3 296.6L2208.8 296.5L2209.2 295.9L2209.7 296.0L2210.1 296.5L2210.6 295.8L2211.0 296.4L2211.5 296.6L2211.9 296.4L2212.4 296.7L2212.8 296.8L2213.3 296.6L2213.7 296.4L2214.2 296.3L2214.6 296.5L2215.1 296.2L2215.5 296.1L2216.0 296.3L2216.4 296.8L2216.9 296.3L2217.3 296.2L2217.8 296.6L2218.2 296.8L2218.7 296.7L2219.1 296.1L2219.6 296.8L2220.0 295.8L2220.5 296.5L2220.9 296.6L2221.4 296.5L2221.8 296.1L2222.3 296.2L2222.7 296.4L2223.2 296.7L2223.6 296.5L2224.1 296.7L2224.5 296.4L2225.0 296.6L2225.4 296.4L2225.9 296.5L2226.3 296.1L2226.8 296.1L2227.2 296.2L2227.7 296.3L2228.1 296.1L2228.6 296.7L2229.0 296.3L2229.5 296.6L2229.9 296.5L2230.4 296.7L2230.8 295.7L2231.3 296.8L2231.7 296.6L2232.2 296.3L2232.6 296.6L2233.1 296.7L2233.5 295.9L2234.0 296.6L2234.4 296.5L2234.9 296.9L2235.3 296.3L2235.8 296.4L2236.2 296.6L2236.7 296.6L2237.1 296.1L2237.6 296.4L2238.0 296.0L2238.5 296.0L2238.9 296.7L2239.4 296.6L2239.8 296.7L2240.3 296.0L2240.7 296.2L2241.2 296.5L2241.6 296.7L2242.1 295.9L2242.5 296.2L2243.0 296.5L2243.4 296.7L2243.9 296.6L2244.3 295.9L2244.8 296.9L2245.2 296.5L2245.7 296.0L2246.1 295.8L2246.6 296.1L2247.0 296.4L2247.5 296.0L2247.9 296.0L2248.4 296.1L2248.8 296.6L2249.3 296.0L2249.7 296.3L2250.2 296.1L2250.6 296.4L2251.1 296.9L2251.5 296.1L2252.0 296.5L2252.4 296.4L2252.9 296.9L2253.3 296.2L2253.8 296.5L2254.2 296.0L2254.7 297.1L2255.1 296.2L2255.6 296.2L2256.0 296.3L2256.5 296.4L2256.9 296.8L2257.4 296.3L2257.8 296.5L2258.3 296.5L2258.7 296.7L2259.2 296.4L2259.6 296.8L2260.1 296.9L2260.5 296.2L2261.0 296.5L2261.4 296.2L2261.9 296.5L2262.3 296.5L2262.8 297.2L2263.2 297.1L2263.7 296.6L2264.1 297.1L2264.6 296.4L2265.0 296.1L2265.5 296.5L2265.9 296.1L2266.4 295.7L2266.8 297.0L2267.3 296.8L2267.7 297.0L2268.2 296.9L2268.6 297.0L2269.1 296.8L2269.5 296.8L2270.0 296.9L2270.4 296.6L2270.9 296.2L2271.3 296.8L2271.8 295.9L2272.2 296.2L2272.7 296.9L2273.1 296.1L2273.6 296.2L2274.0 296.4L2274.5 296.8L2274.9 296.2L2275.4 296.4L2275.8 296.4L2276.3 296.7L2276.7 296.2L2277.2 296.7L2277.6 296.7L2278.1 296.1L2278.5 296.0L2279.0 296.5L2279.4 296.4L2279.9 296.5L2280.3 296.4L2280.8 296.1L2281.2 296.6L2281.7 296.2L2282.1 296.3L2282.6 296.6L2283.0 296.6L2283.5 297.0L2283.9 296.9L2284.4 297.2L2284.8 296.5L2285.3 296.5L2285.7 296.6L2286.2 295.9L2286.6 296.5L2287.1 297.2L2287.5 296.8L2288.0 296.3L2288.4 296.5L2288.9 296.3L2289.3 296.5L2289.8 296.7L2290.2 296.5L2290.7 296.6L2291.1 296.9L2291.6 296.2L2292.0 296.9L2292.5 296.8L2292.9 297.1L2293.4 297.0L2293.8 296.4L2294.3 297.2L2294.7 297.4L2295.2 296.7L2295.6 296.8L2296.1 296.4L2296.5 296.4L2297.0 297.1L2297.4 296.6L2297.9 296.4L2298.3 296.5L2298.8 296.7L2299.2 296.8L2299.7 296.5L2300.1 297.0L2300.6 296.8L2301.0 297.0L2301.5 296.5L2301.9 297.0L2302.4 296.3L2302.8 296.4L2303.3 297.0L2303.7 296.7L2304.2 297.1L2304.6 296.6L2305.1 296.2L2305.5 296.9L2306.0 296.5L2306.4 296.3L2306.9 296.2L2307.3 296.7L2307.8 296.4L2308.2 296.4L2308.7 297.1L2309.1 297.0L2309.6 296.6L2310.0 297.0L2310.5 296.4L2310.9 297.1L2311.4 297.4L2311.8 296.5L2312.3 296.7L2312.7 296.6L2313.2 296.2L2313.6 296.8L2314.1 296.9L2314.5 296.4L2315.0 296.5L2315.4 296.8L2315.9 296.7L2316.3 296.6L2316.8 296.2L2317.2 296.2L2317.7 296.5L2318.1 296.5L2318.6 296.2L2319.0 296.5L2319.5 296.7L2319.9 296.3L2320.4 296.6L2320.8 296.9L2321.3 296.8L2321.7 296.6L2322.2 296.2L2322.6 296.2L2323.1 295.9L2323.5 296.2L2324.0 296.4L2324.4 296.8L2324.9 296.8L2325.3 297.0L2325.8 296.6L2326.2 296.8L2326.7 296.5L2327.1 296.7L2327.6 296.6L2328.0 296.7L2328.5 296.7L2328.9 296.5L2329.4 296.2L2329.8 296.9L2330.3 297.2L2330.7 297.0L2331.2 296.9L2331.6 296.7L2332.1 296.6L2332.5 296.4L2333.0 296.5L2333.4 296.6L2333.9 296.7L2334.3 296.4L2334.8 296.6L2335.2 296.3L2335.7 296.3L2336.1 296.2L2336.6 296.2L2337.0 296.3L2337.5 296.3L2337.9 296.5L2338.4 296.5L2338.8 296.9L2339.3 297.0L2339.7 296.6L2340.2 296.5L2340.6 296.9L2341.1 296.3L2341.5 296.8L2342.0 297.2L2342.4 297.2L2342.9 296.9L2343.3 296.7L2343.8 296.3L2344.2 296.2L2344.7 296.3L2345.1 296.6L2345.6 296.2L2346.0 297.1L2346.5 296.5L2346.9 296.3L2347.4 297.1L2347.8 296.9L2348.3 297.1L2348.7 297.0L2349.2 296.8L2349.6 297.1L2350.1 296.6L2350.5 296.4L2351.0 296.5L2351.4 296.1L2351.9 296.2L2352.3 296.5L2352.8 297.0L2353.2 296.8L2353.7 296.8L2354.1 296.6L2354.6 296.0L2355.0 296.7L2355.5 296.8L2355.9 297.3L2356.4 297.1L2356.8 297.0L2357.3 296.9L2357.7 296.8L2358.2 296.6L2358.6 297.3L2359.1 297.4L2359.5 297.0L2360.0 296.9L2360.4 296.4L2360.9 296.9L2361.3 296.6L2361.8 296.3L2362.2 297.0L2362.7 296.6L2363.1 296.6L2363.6 297.0L2364.0 296.9L2364.5 296.7L2364.9 297.3L2365.4 296.6L2365.8 297.1L2366.3 297.0L2366.7 296.7L2367.2 296.3L2367.6 296.3L2368.1 296.5L2368.5 296.6L2369.0 296.8L2369.4 296.6L2369.9 297.0L2370.3 297.0L2370.8 297.2" stroke="#ff1010" stroke-width="3.9"/>
<path d="M1312.4 302.3L1312.8 302.5L1313.3 302.5L1313.7 302.5L1314.2 302.4L1314.6 302.4L1315.1 302.4L1315.5 302.5L1316.0 302.4L1316.4 302.4L1316.9 302.5L1317.3 302.5L1317.8 302.5L1318.2 302.5L1318.7 302.4L1319.1 302.3L1319.6 302.3L1320.0 302.5L1320.5 302.4L1320.9 302.5L1321.4 302.5L1321.8 302.5L1322.3 302.4L1322.7 302.4L1323.2 302.3L1323.6 302.2L1324.1 302.2L1324.5 302.0L1325.0 302.1L1325.4 302.0L1325.9 301.7L1326.3 301.7L1326.8 301.5L1327.2 301.3L1327.7 301.0L1328.1 300.8L1328.6 300.7L1329.0 296.8L1329.5 240.4L1329.9 240.4L1330.2 240.5L1330.4 240.5L1330.8 240.5L1331.3 285.6L1331.7 299.4L1332.2 299.5L1332.6 299.4L1333.1 299.3L1333.5 299.3L1334.0 299.1L1334.4 299.1L1334.9 299.1L1335.3 299.1L1335.8 299.3L1336.2 299.2L1336.7 299.5L1337.1 299.4L1337.6 299.6L1338.0 299.6L1338.5 299.6L1338.9 299.8L1339.4 299.8L1339.8 299.9L1340.3 299.9L1340.7 299.9L1341.2 300.1L1341.6 300.2L1342.1 300.3L1342.5 300.3L1343.0 300.2L1343.4 300.3L1343.9 300.3L1344.3 300.5L1344.8 300.4L1345.2 300.4L1345.7 300.4L1346.1 300.6L1346.6 300.7L1347.0 300.8L1347.5 300.7L1347.9 300.9L1348.4 300.9L1348.8 300.9L1349.3 301.0L1349.7 300.9L1350.2 301.1L1350.6 300.9L1351.1 301.1L1351.5 301.2L1352.0 301.0L1352.4 301.1L1352.9 301.3L1353.3 301.3L1353.8 301.2L1354.2 301.2L1354.7 301.4L1355.1 301.4L1355.6 301.5L1356.0 301.4L1356.5 301.6L1356.9 301.6L1357.4 301.6L1357.8 301.6L1358.3 301.8M1437.9 303.4L1438.4 303.2L1438.8 303.1L1439.3 303.2L1439.7 303.1L1440.2 303.1L1440.6 303.2L1441.1 303.2L1441.5 303.2L1442.0 303.1L1442.4 303.2L1442.9 303.3L1443.3 303.1L1443.8 303.1L1444.2 303.1L1444.7 303.2L1445.1 303.1L1445.6 303.1L1446.0 303.0L1446.5 303.1L1446.9 303.1L1447.4 303.1L1447.8 303.1L1448.3 303.2L1448.7 303.2L1449.2 303.1L1449.6 303.2L1450.1 303.2L1450.5 303.1L1451.0 303.2L1451.4 303.1L1451.9 303.2L1452.3 303.2L1452.8 303.1L1453.2 303.2L1453.7 303.3L1454.1 303.3L1454.6 303.1L1455.0 303.3L1455.5 303.2L1455.9 303.1L1456.4 303.1L1456.8 303.1L1457.3 303.1L1457.7 303.1L1458.2 303.1L1458.6 303.2L1458.9 303.1L1459.1 303.1L1459.5 303.0L1460.0 303.0L1460.4 303.2L1460.9 303.3L1461.3 303.1L1461.8 303.1L1462.2 303.1L1462.7 303.1L1463.1 303.1L1463.6 303.1L1464.0 303.2L1464.5 303.2L1464.9 303.2L1465.4 303.1L1465.8 303.2L1466.3 303.2L1466.7 303.2L1467.2 303.2L1467.6 303.1L1468.1 303.2L1468.5 303.1L1469.0 303.2L1469.4 303.1L1469.9 303.2L1470.3 303.2L1470.8 303.2L1471.2 303.2L1471.7 303.3L1472.1 303.2L1472.6 303.2L1473.0 303.2L1473.5 303.2L1473.9 303.2L1474.4 303.2L1474.8 303.1L1475.3 303.1L1475.7 303.2L1476.2 303.0L1476.6 303.2L1477.1 303.2L1477.5 303.3L1478.0 303.1L1478.4 303.3L1478.9 303.2L1479.3 303.1L1479.8 303.3L1480.2 303.0L1480.7 303.1L1481.1 303.2L1481.6 303.2L1482.0 303.2L1482.5 303.1L1482.9 303.2L1483.4 302.7M1753.4 302.9L1753.8 303.2L1754.3 303.2L1754.7 303.1L1755.2 303.2L1755.6 303.2L1756.1 303.3L1756.5 303.3L1757.0 303.4L1757.4 303.3L1757.9 303.3L1758.3 303.2L1758.8 303.3L1759.2 303.2L1759.7 303.1L1760.1 303.3L1760.6 303.3L1761.0 303.3L1761.5 303.2L1761.9 303.3L1762.4 303.2L1762.8 303.1L1763.3 303.3L1763.7 303.3L1764.2 303.3L1764.6 303.2L1765.1 303.1L1765.5 303.2L1766.0 303.2L1766.4 303.1L1766.9 303.3L1767.3 303.1L1767.8 303.2L1768.2 303.2L1768.7 303.2L1769.1 303.2L1769.6 303.3L1770.0 303.2L1770.5 303.2L1770.9 303.3L1771.4 303.2L1771.8 303.1L1772.3 303.2L1772.7 303.3L1773.2 303.2L1773.6 303.2L1774.1 303.0L1774.5 303.1L1775.0 303.1L1775.4 303.2L1775.9 303.2L1776.3 303.3L1776.8 303.2L1777.2 303.2L1777.7 303.2L1778.1 303.1L1778.6 303.1L1779.0 303.2L1779.5 303.3L1779.9 303.1L1780.4 303.1L1780.8 303.2L1781.3 303.2L1781.7 303.2L1782.2 303.2L1782.6 303.1L1783.1 303.1L1783.5 303.3L1784.0 303.2L1784.4 303.3L1784.9 303.1L1785.3 303.3L1785.8 303.1L1786.2 303.2L1786.7 303.3L1787.1 303.2L1787.6 303.3L1788.0 303.2L1788.5 303.1L1788.9 303.2L1789.4 303.1L1789.8 303.2L1790.3 303.2L1790.7 303.2L1791.2 303.3L1791.6 303.2L1792.1 303.3L1792.5 303.2L1793.0 303.1L1793.4 303.2L1793.9 303.1L1794.3 303.2L1794.8 303.1L1795.2 303.1L1795.7 303.2L1796.1 303.2L1796.6 303.3L1797.0 303.2L1797.5 303.2L1797.9 303.2L1798.4 303.2L1798.8 303.1L1799.3 303.1L1799.7 303.2L1800.2 302.8M1815.9 303.0L1816.4 303.1L1816.8 303.1L1817.3 303.2L1817.7 303.2L1818.2 303.2L1818.6 303.3L1819.1 303.3L1819.5 303.2L1820.0 303.2L1820.4 303.2L1820.9 303.2L1821.3 303.3L1821.8 303.3L1822.2 303.3L1822.7 303.2L1823.1 303.3L1823.6 303.2L1824.0 303.1L1824.5 303.2L1824.9 303.2L1825.4 303.1L1825.8 303.1L1826.3 303.1L1826.7 303.2L1827.2 303.2L1827.6 303.1L1828.1 303.1L1828.5 303.2L1829.0 303.2L1829.4 303.2L1829.9 303.1L1830.3 303.2L1830.8 303.2L1831.2 303.0L1831.7 303.2L1832.1 303.1L1832.6 303.0L1833.0 303.2L1833.5 303.2L1833.9 303.3L1834.4 303.0L1834.8 303.3L1835.3 303.3L1835.7 303.2L1836.2 303.2L1836.6 303.3L1837.1 303.2L1837.5 303.3L1838.0 303.1L1838.4 302.7L1838.9 299.3L1839.2 298.2L1839.3 298.1L1839.8 301.0L1840.2 303.3L1840.7 303.3L1841.1 303.3L1841.6 303.2L1842.0 303.2L1842.5 303.2L1842.9 303.2L1843.4 303.1L1843.8 303.3L1844.3 303.1L1844.7 303.1L1845.2 303.1L1845.6 303.1L1846.1 303.1L1846.5 303.1L1847.0 303.2L1847.4 303.2L1847.9 303.3L1848.3 303.2L1848.8 303.2L1849.2 303.3L1849.7 303.2L1850.1 303.2L1850.6 303.1L1851.0 303.2L1851.5 303.2L1851.9 303.1L1852.4 303.2L1852.8 303.2L1853.3 303.2L1853.7 303.3L1854.2 303.3L1854.6 303.3L1855.1 303.3L1855.5 303.2L1856.0 303.2L1856.4 303.1L1856.9 303.2L1857.3 303.3L1857.8 303.3L1858.2 303.3L1858.7 303.2L1859.1 303.3L1859.6 303.2L1860.0 303.2L1860.5 303.1L1860.9 303.1L1861.4 303.1M1923.9 303.2L1924.4 303.2L1924.8 303.2L1925.3 303.2L1925.7 303.2L1926.2 303.2L1926.6 303.3L1927.1 303.3L1927.5 303.0L1928.0 303.2L1928.4 303.1L1928.9 303.3L1929.3 303.2L1929.8 303.2L1930.2 303.2L1930.7 303.2L1931.1 303.2L1931.6 303.4L1932.0 303.3L1932.5 303.2L1932.9 303.1L1933.4 303.2L1933.8 303.3L1934.3 303.2L1934.7 303.2L1935.2 303.1L1935.6 303.3L1936.1 303.2L1936.5 303.4L1937.0 303.2L1937.4 303.4L1937.9 303.3L1938.3 303.3L1938.8 303.1L1939.2 303.2L1939.7 303.3L1940.1 303.2L1940.6 303.1L1941.0 303.1L1941.5 303.1L1941.9 303.2L1942.4 303.2L1942.8 303.2L1943.1 303.2L1943.3 303.1L1943.7 303.1L1944.2 303.2L1944.6 303.2L1945.1 303.3L1945.5 303.2L1946.0 303.3L1946.4 303.2L1946.9 303.2L1947.3 303.3L1947.8 303.1L1948.2 303.2L1948.7 303.2L1949.1 303.2L1949.6 303.1L1950.0 303.3L1950.5 303.2L1950.9 303.3L1951.4 303.2L1951.8 303.1L1952.3 303.1L1952.7 303.2L1953.2 303.2L1953.6 303.3L1954.1 303.2L1954.5 303.2L1955.0 303.3L1955.4 303.2L1955.9 303.1L1956.3 303.2L1956.8 303.2L1957.2 303.1L1957.7 303.1L1958.1 303.1L1958.6 303.2L1959.0 303.2L1959.5 303.2L1959.9 303.2L1960.4 303.2L1960.8 303.1L1961.3 303.2L1961.7 303.2L1962.2 303.2L1962.6 303.2L1963.1 303.2L1963.5 303.1L1964.0 303.1L1964.4 303.2L1964.9 303.2L1965.3 303.2L1965.8 303.3L1966.2 303.3L1966.7 303.3L1967.1 303.2L1967.6 303.1L1968.0 303.3L1968.5 303.2L1968.9 303.2L1969.4 302.9M2005.4 302.2L2005.8 302.7L2006.3 302.5L2006.7 302.6L2007.2 302.4L2007.6 302.5L2008.1 302.4L2008.5 302.5L2009.0 302.5L2009.4 302.5L2009.9 302.5L2010.3 302.3L2010.8 302.5L2011.2 302.3L2011.7 302.5L2012.1 302.2L2012.6 302.4L2013.0 302.3L2013.5 302.3L2013.9 302.3L2014.4 302.2L2014.8 302.3L2015.3 302.3L2015.7 302.3L2016.2 302.2L2016.6 302.1L2017.1 302.2L2017.5 302.2L2018.0 302.2L2018.4 302.0L2018.9 302.2L2019.3 302.0L2019.8 301.9L2020.2 301.9L2020.7 301.9L2021.1 301.8L2021.6 301.9L2022.0 301.9L2022.5 301.8L2022.9 301.8L2023.4 301.7L2023.8 301.7L2024.3 301.7L2024.7 301.7L2025.1 301.8L2025.2 301.8L2025.6 301.7L2026.1 301.7L2026.5 301.8L2027.0 301.7L2027.4 301.4L2027.9 301.1L2028.3 300.8L2028.8 300.6L2029.2 300.3L2029.7 300.0L2030.1 299.7L2030.6 299.5L2031.0 299.1L2031.5 299.1L2031.9 299.2L2032.4 299.2L2032.8 299.1L2033.3 299.2L2033.7 299.2L2034.2 299.1L2034.6 299.1L2035.1 299.0L2035.5 299.0L2036.0 298.9L2036.4 298.9L2036.9 298.8L2037.3 298.8L2037.8 298.9L2038.2 298.8L2038.7 298.8L2039.1 298.7L2039.6 298.8L2040.0 298.7L2040.5 298.8L2040.9 298.7L2041.4 298.7L2041.8 298.6L2042.3 298.5L2042.7 298.4L2043.2 298.6L2043.6 298.5L2044.1 298.5L2044.5 298.5L2045.0 298.4L2045.4 298.5L2045.9 298.4L2046.3 298.4L2046.8 298.4L2047.2 298.4L2047.7 298.4L2048.1 298.4L2048.6 298.3L2049.0 298.3L2049.5 298.1L2049.9 298.2L2050.4 298.3L2050.8 298.1L2051.3 298.1" stroke="#ff1010" stroke-width="3.0"/>
<line x1="1330.2" y1="241.5" x2="1330.2" y2="300.0" stroke="#ff1010" stroke-width="3.3" stroke-linecap="butt"/>
<path d="M1274.1 239.4L1274.5 239.3L1275.0 239.1L1275.5 239.7L1275.9 238.9L1276.4 238.9L1276.8 239.1L1277.3 239.0L1277.7 239.3L1278.2 239.4L1278.6 239.3L1279.1 238.9L1279.5 239.0L1280.0 239.0L1280.4 239.1L1280.9 239.1L1281.3 239.8L1281.8 239.6L1282.2 239.4L1282.7 239.1L1283.1 239.7L1283.6 239.5L1284.0 240.0L1284.5 239.7L1284.9 239.7L1285.4 239.7L1285.8 239.3L1286.3 239.2L1286.7 239.3L1287.2 239.3L1287.6 239.1L1288.1 240.0L1288.5 239.7L1289.0 239.4L1289.4 239.4L1289.9 239.5L1290.3 239.2L1290.8 239.8L1291.2 239.6L1291.7 239.6L1292.1 239.5L1292.6 239.4L1293.0 239.2L1293.5 239.2L1293.9 239.6L1294.4 239.4L1294.8 239.5L1295.3 239.1L1295.7 239.6L1296.2 239.2L1296.6 239.5L1297.1 239.4L1297.5 239.7L1298.0 239.7L1298.4 239.4L1298.9 239.3L1299.3 239.0L1299.8 239.2L1300.2 239.7L1300.7 239.7L1301.1 239.1L1301.6 239.6L1302.0 239.8L1302.5 239.4L1302.9 238.9L1303.4 239.3L1303.8 239.6L1304.3 239.6L1304.7 239.7L1305.2 239.0L1305.6 239.8L1306.1 239.8L1306.5 239.2L1307.0 239.2L1307.4 239.6L1307.9 238.9L1308.3 239.2L1308.8 238.7L1309.2 239.6L1309.7 239.0L1310.1 239.3L1310.6 239.3L1311.0 238.7L1311.5 239.4L1311.9 238.7L1312.4 238.8L1312.8 239.3M1357.8 238.4L1358.3 238.8L1358.7 238.5L1359.2 238.7L1359.6 238.6L1360.1 238.4L1360.5 238.5L1361.0 239.0L1361.4 238.7L1361.9 238.4L1362.3 238.8L1362.8 238.9L1363.2 238.5L1363.7 238.7L1364.1 238.9L1364.6 239.2L1365.0 239.0L1365.5 239.1L1365.9 238.3L1366.4 238.4L1366.8 238.7L1367.3 239.4L1367.7 239.3L1368.2 239.0L1368.6 239.0L1369.1 239.0L1369.5 238.9L1370.0 238.8L1370.4 238.9L1370.9 239.1L1371.3 239.1L1371.8 239.2L1372.2 239.3L1372.7 239.2L1373.1 238.9L1373.6 239.0L1374.0 238.9L1374.5 238.7L1374.9 238.8L1375.4 238.9L1375.8 238.4L1376.3 238.6L1376.7 239.0L1377.2 239.2L1377.6 239.2L1378.1 239.0L1378.5 239.0L1379.0 238.7L1379.4 239.1L1379.9 238.8L1380.3 239.4L1380.8 239.2L1381.2 239.3L1381.7 238.6L1382.1 239.1L1382.6 238.7L1383.0 239.0L1383.5 239.1L1383.9 239.0L1384.4 239.4L1384.8 239.4L1385.3 239.1L1385.7 239.5L1386.2 239.5L1386.6 239.5L1387.1 239.2L1387.5 239.6L1388.0 239.5L1388.4 239.5L1388.9 239.4L1389.3 239.9L1389.8 239.5L1390.2 240.0L1390.7 240.0L1391.1 239.7L1391.6 239.9L1392.0 239.3L1392.5 239.6L1392.9 239.4L1393.4 239.7L1393.8 239.4L1394.3 239.6L1394.7 239.6L1395.2 239.4L1395.6 239.5L1396.1 239.5L1396.5 239.8L1397.0 239.6L1397.4 239.1L1397.9 239.2L1398.3 238.9L1398.8 239.2L1399.2 239.4L1399.7 239.7L1400.1 239.7L1400.6 240.0L1401.0 239.4L1401.5 239.9L1401.9 240.0L1402.4 239.8L1402.8 239.5L1403.3 239.5L1403.7 239.4L1404.2 239.7L1404.6 239.3L1405.1 239.9L1405.5 239.3L1406.0 239.9L1406.4 239.4L1406.9 239.2L1407.3 239.9L1407.8 239.1L1408.2 239.7L1408.7 240.1L1409.1 239.8L1409.6 239.2L1410.0 239.9L1410.5 240.2L1410.9 239.6L1411.4 240.0L1411.8 240.1L1412.3 239.6L1412.7 240.0L1413.2 240.1L1413.6 239.8L1414.1 240.2L1414.5 239.8L1415.0 240.0L1415.4 239.4L1415.9 240.0L1416.3 240.1L1416.8 240.1L1417.2 240.1L1417.7 240.1L1418.1 239.5L1418.6 240.3L1419.0 240.0L1419.5 239.6L1419.9 239.8L1420.4 240.0L1420.8 240.2L1421.3 240.1L1421.7 240.1L1422.2 239.7L1422.6 239.6L1423.1 239.7L1423.5 240.0L1424.0 240.0L1424.4 239.9L1424.9 239.7L1425.3 240.0L1425.8 239.9L1426.2 240.1L1426.7 240.1L1427.1 240.1L1427.6 240.2L1428.0 239.6L1428.5 239.6L1428.9 239.6L1429.4 240.3L1429.8 239.8L1430.3 239.6L1430.7 240.1L1431.2 240.0L1431.6 240.3L1432.1 240.4L1432.5 240.2L1433.0 239.8L1433.4 240.2L1433.9 239.4L1434.3 240.1L1434.8 240.0L1435.2 239.7L1435.7 239.9L1436.1 240.0L1436.6 239.8L1437.0 239.8L1437.5 239.5L1437.9 240.1L1438.4 239.8M1482.9 239.8L1483.4 239.5L1483.8 239.9L1484.3 239.9L1484.7 240.1L1485.2 239.4L1485.6 240.0L1486.1 239.7L1486.5 240.3L1487.0 240.0L1487.4 240.0L1487.9 240.4L1488.3 240.0L1488.8 240.0L1489.2 239.5L1489.7 239.8L1490.1 239.8L1490.6 239.8L1491.0 239.4L1491.5 239.8L1491.9 239.5L1492.4 239.8L1492.8 240.0L1493.3 239.5L1493.7 239.7L1494.2 239.6L1494.6 239.7L1495.1 240.0L1495.5 240.1L1496.0 240.4L1496.4 240.1L1496.9 240.0L1497.3 240.1L1497.8 239.8L1498.2 239.5L1498.7 239.7L1499.1 239.8L1499.6 239.4L1500.0 239.5L1500.5 239.8L1500.9 239.4L1501.4 239.5L1501.8 240.0L1502.3 240.2L1502.7 240.0L1503.2 240.3L1503.6 240.2L1504.1 239.6L1504.5 240.0L1505.0 240.2L1505.4 240.3L1505.9 239.5L1506.3 239.6L1506.8 240.0L1507.2 239.6L1507.7 239.7L1508.1 240.0L1508.6 239.5L1509.0 240.3L1509.5 240.2L1509.9 239.9L1510.4 239.9L1510.8 239.8L1511.3 239.8L1511.7 240.1L1512.2 239.9L1512.6 239.9L1513.1 240.2L1513.5 240.4L1514.0 240.5L1514.4 239.9L1514.9 240.3L1515.3 240.2L1515.8 239.5L1516.2 239.6L1516.7 239.6L1517.1 240.0L1517.6 239.6L1518.0 239.5L1518.5 239.4L1518.9 239.2L1519.4 239.2L1519.8 239.3L1520.3 239.9L1520.7 239.6L1521.2 240.0L1521.6 239.4L1522.1 240.0L1522.5 240.3L1523.0 240.0L1523.4 239.4L1523.9 239.6L1524.3 240.1L1524.8 239.6L1525.2 239.6L1525.7 239.4L1526.1 239.9L1526.6 239.8L1527.0 239.9L1527.5 239.5L1527.9 239.9L1528.4 239.9L1528.8 239.3L1529.3 239.3L1529.7 239.5L1530.2 240.0L1530.6 239.6L1531.1 239.6L1531.5 239.9L1532.0 239.3L1532.4 239.9L1532.9 240.1L1533.3 240.0L1533.8 239.5L1534.2 239.5L1534.7 239.8L1535.1 239.7L1535.6 239.7L1536.0 239.9L1536.5 239.7L1536.9 239.8L1537.4 240.2L1537.8 240.2L1538.3 240.0L1538.7 239.5L1539.2 239.4L1539.6 239.5L1540.1 239.6L1540.5 239.4L1541.0 239.8L1541.4 239.8L1541.9 239.6L1542.3 239.5L1542.8 239.8L1543.2 239.4L1543.7 239.6L1544.1 240.0L1544.6 239.6L1545.0 239.9L1545.5 239.7L1545.9 239.9L1546.4 239.8L1546.8 239.1L1547.3 239.9L1547.7 239.3L1548.2 239.4L1548.6 239.2L1549.1 240.0L1549.5 239.8L1550.0 239.4L1550.4 239.8L1550.9 239.5L1551.3 239.5L1551.8 239.8L1552.2 240.0L1552.7 239.6L1553.1 239.9L1553.6 239.7L1554.0 240.0L1554.5 239.5L1554.9 239.8L1555.4 239.4L1555.8 239.9L1556.3 239.3L1556.7 239.3L1557.2 239.4L1557.6 239.7L1558.1 239.5L1558.5 239.9L1559.0 239.8L1559.4 239.8L1559.9 240.1L1560.3 240.1L1560.8 240.0L1561.2 239.5L1561.7 239.7L1562.1 239.7L1562.6 239.5L1563.0 239.8L1563.5 239.3L1563.9 239.4L1564.4 239.3L1564.8 240.0L1565.3 239.4L1565.7 239.8L1566.2 239.5L1566.6 239.2L1567.1 239.7L1567.5 239.7L1568.0 239.8L1568.4 239.3L1568.9 239.5L1569.3 239.9L1569.8 240.2L1570.2 240.1L1570.7 239.4L1571.1 239.6L1571.6 239.9L1572.0 239.7L1572.5 240.1L1572.9 240.1L1573.4 239.5L1573.8 240.0L1574.3 240.6L1574.7 239.9L1575.2 239.9L1575.6 240.3L1576.1 240.5L1576.5 240.0L1577.0 239.4L1577.4 239.4L1577.9 240.0L1578.3 239.9L1578.8 239.9L1579.2 240.1L1579.7 240.1L1580.1 240.0L1580.6 239.8L1581.0 239.9L1581.5 239.4L1581.9 239.5L1582.4 239.8L1582.8 239.5L1583.3 239.7L1583.7 240.0L1584.2 239.7L1584.6 240.0L1585.1 239.4L1585.5 239.9L1586.0 240.1L1586.4 239.6L1586.9 240.0L1587.3 239.7L1587.8 239.6L1588.2 239.6L1588.7 239.6L1589.1 239.7L1589.6 239.6L1590.0 240.0L1590.5 240.2L1590.9 239.5L1591.4 239.4L1591.8 239.2L1592.3 239.8L1592.7 240.1L1593.2 239.6L1593.6 240.0L1594.1 239.7L1594.5 239.8L1595.0 240.1L1595.4 240.2L1595.9 239.8L1596.3 239.3L1596.8 239.4L1597.2 239.6L1597.7 239.6L1598.1 239.5L1598.6 239.4L1599.0 239.7L1599.5 240.0L1599.9 239.6L1600.4 239.7L1600.8 240.0L1601.3 239.1L1601.7 240.0L1602.2 239.8L1602.6 240.0L1603.1 239.9L1603.5 240.0L1604.0 240.3L1604.4 239.9L1604.9 240.2L1605.3 240.2L1605.8 239.5L1606.2 239.9L1606.7 239.8L1607.1 240.1L1607.6 239.4L1608.0 239.9L1608.5 239.9L1608.9 239.9L1609.4 239.3L1609.8 240.0L1610.3 239.6L1610.7 240.1L1611.2 239.7L1611.6 240.0L1612.1 240.2L1612.5 239.4L1613.0 239.5L1613.4 239.8L1613.9 239.8L1614.3 239.9L1614.8 239.4L1615.2 240.0L1615.7 239.6L1616.1 239.4L1616.6 239.6L1617.0 239.9L1617.5 239.9L1617.9 239.6L1618.4 239.3L1618.8 239.8L1619.3 239.5L1619.7 239.6L1620.2 239.6L1620.6 239.4L1621.1 239.5L1621.5 239.5L1622.0 239.5L1622.4 240.3L1622.9 240.0L1623.3 240.1L1623.8 239.8L1624.2 239.8L1624.7 240.0L1625.1 240.0L1625.6 239.9L1626.0 240.0L1626.5 239.9L1626.9 240.3L1627.4 240.0L1627.8 239.7L1628.3 239.6L1628.7 239.7L1629.2 239.8L1629.6 240.0L1630.1 240.1L1630.5 239.6L1631.0 239.4L1631.4 239.6L1631.9 240.0L1632.3 239.5L1632.8 240.0L1633.2 240.2L1633.7 240.0L1634.1 240.2L1634.6 240.2L1635.0 240.1L1635.5 239.9L1635.9 240.0L1636.4 239.4L1636.8 239.2L1637.3 239.6L1637.7 239.9L1638.2 240.1L1638.6 240.3L1639.1 240.2L1639.5 239.9L1640.0 239.3L1640.4 239.9L1640.9 240.2L1641.3 239.8L1641.8 239.6L1642.2 240.0L1642.7 239.8L1643.1 240.0L1643.6 239.8L1644.0 239.7L1644.5 239.5L1644.9 239.6L1645.4 239.7L1645.8 239.7L1646.3 239.3L1646.7 239.1L1647.2 239.3L1647.6 239.5L1648.1 239.6L1648.5 239.5L1649.0 239.7L1649.4 239.8L1649.9 239.5L1650.3 240.0L1650.8 240.1L1651.2 240.2L1651.7 239.6L1652.1 240.0L1652.6 239.9L1653.0 239.5L1653.5 239.5L1653.9 239.6L1654.4 239.6L1654.8 239.7L1655.3 239.4L1655.7 239.8L1656.2 239.4L1656.6 239.5L1657.1 239.1L1657.5 239.8L1658.0 239.4L1658.4 239.3L1658.9 239.4L1659.3 240.1L1659.8 239.6L1660.2 239.5L1660.7 239.7L1661.1 239.6L1661.6 239.4L1662.0 239.4L1662.5 239.3L1662.9 239.5L1663.4 239.7L1663.8 239.6L1664.3 239.6L1664.7 239.6L1665.2 239.7L1665.6 239.4L1666.1 239.9L1666.5 239.7L1667.0 239.9L1667.4 239.7L1667.9 239.2L1668.3 239.7L1668.8 239.7L1669.2 239.9L1669.7 240.1L1670.1 240.1L1670.6 240.2L1671.0 239.9L1671.5 239.4L1671.9 239.5L1672.4 239.8L1672.8 239.3L1673.3 239.8L1673.7 239.3L1674.2 239.8L1674.6 239.4L1675.1 239.4L1675.5 239.3L1676.0 239.5L1676.4 239.8L1676.9 240.0L1677.3 239.6L1677.8 240.0L1678.2 239.7L1678.7 239.5L1679.1 239.6L1679.6 239.6L1680.0 240.3L1680.5 240.2L1680.9 239.7L1681.4 239.7L1681.8 240.1L1682.3 239.9L1682.7 239.4L1683.2 239.4L1683.6 239.5L1684.1 239.7L1684.5 239.5L1685.0 239.5L1685.4 240.1L1685.9 240.1L1686.3 239.4L1686.8 239.7L1687.2 239.5L1687.7 239.3L1688.1 239.6L1688.6 240.0L1689.0 239.7L1689.5 240.0L1689.9 239.4L1690.4 240.3L1690.8 239.8L1691.3 240.1L1691.7 239.3L1692.2 239.4L1692.6 239.7L1693.1 239.3L1693.5 239.6L1694.0 239.9L1694.4 239.4L1694.9 239.7L1695.3 239.4L1695.8 239.3L1696.2 239.3L1696.7 239.0L1697.1 239.3L1697.6 239.4L1698.0 238.8L1698.5 239.2L1698.9 239.9L1699.4 239.3L1699.8 239.4L1700.3 239.3L1700.7 239.5L1701.2 239.8L1701.6 239.4L1702.1 239.3L1702.5 239.7L1703.0 239.6L1703.4 239.1L1703.9 239.4L1704.3 239.4L1704.8 239.3L1705.2 239.5L1705.7 239.4L1706.1 239.5L1706.6 239.6L1707.0 239.6L1707.5 239.6L1707.9 239.8L1708.4 239.5L1708.8 239.8L1709.3 239.7L1709.7 239.9L1710.2 239.4L1710.6 239.4L1711.1 239.5L1711.5 239.3L1712.0 239.9L1712.4 239.2L1712.9 240.1L1713.3 239.4L1713.8 239.3L1714.2 239.8L1714.7 239.2L1715.1 239.2L1715.6 239.1L1716.0 239.8L1716.5 239.9L1716.9 239.9L1717.4 239.9L1717.8 239.6L1718.3 239.7L1718.7 239.9L1719.2 239.5L1719.6 239.5L1720.1 239.5L1720.5 239.7L1721.0 239.7L1721.4 239.4L1721.9 239.7L1722.3 239.6L1722.8 239.1L1723.2 239.3L1723.7 239.2L1724.1 239.2L1724.6 239.1L1725.0 239.5L1725.5 239.3L1725.9 239.7L1726.4 239.4L1726.8 240.1L1727.3 239.6L1727.7 239.5L1728.2 239.1L1728.6 239.3L1729.1 239.9L1729.5 240.0L1730.0 239.6L1730.4 239.5L1730.9 239.8L1731.3 239.4L1731.8 239.6L1732.2 239.5L1732.7 239.9L1733.1 239.4L1733.6 239.2L1734.0 239.9L1734.5 239.2L1734.9 239.6L1735.4 239.4L1735.8 239.4L1736.3 239.9L1736.7 239.3L1737.2 239.9L1737.6 239.2L1738.1 239.4L1738.5 239.6L1739.0 240.1L1739.4 239.6L1739.9 239.6L1740.3 239.1L1740.8 239.3L1741.2 239.8L1741.7 239.8L1742.1 240.0L1742.6 240.1L1743.0 240.0L1743.5 239.3L1743.9 239.9L1744.4 239.7L1744.8 239.7L1745.3 239.7L1745.7 239.2L1746.2 239.3L1746.6 239.4L1747.1 239.3L1747.5 239.6L1748.0 239.7L1748.4 239.5L1748.9 239.6L1749.3 239.3L1749.8 239.2L1750.2 239.2L1750.7 239.2L1751.1 239.9L1751.6 239.6L1752.0 239.6L1752.5 239.4L1752.9 239.3L1753.4 239.3L1753.8 239.5M1799.7 239.5L1800.2 239.2L1800.6 239.4L1801.1 239.6L1801.5 239.4L1802.0 239.9L1802.4 239.2L1802.9 239.4L1803.3 239.2L1803.8 238.9L1804.2 239.0L1804.7 239.1L1805.1 239.1L1805.6 239.9L1806.0 239.6L1806.5 239.5L1806.9 240.1L1807.4 239.6L1807.8 239.5L1808.3 239.2L1808.7 239.8L1809.2 239.0L1809.6 239.6L1810.1 239.7L1810.5 239.2L1811.0 239.7L1811.4 239.8L1811.9 239.3L1812.3 239.6L1812.8 239.7L1813.2 239.8L1813.7 239.8L1814.1 239.5L1814.6 239.8L1815.0 239.8L1815.5 239.7L1815.9 239.5L1816.4 239.3M1860.9 239.5L1861.4 239.7L1861.8 239.3L1862.3 239.2L1862.7 239.4L1863.2 239.2L1863.6 239.1L1864.1 239.5L1864.5 239.7L1865.0 239.8L1865.4 239.1L1865.9 239.4L1866.3 239.6L1866.8 239.5L1867.2 239.5L1867.7 239.4L1868.1 239.3L1868.6 239.3L1869.0 239.3L1869.5 239.6L1869.9 239.2L1870.4 239.9L1870.8 240.1L1871.3 239.9L1871.7 239.8L1872.2 239.7L1872.6 239.1L1873.1 239.5L1873.5 239.5L1874.0 239.5L1874.4 238.9L1874.9 239.3L1875.3 238.9L1875.8 238.9L1876.2 239.9L1876.7 239.7L1877.1 239.7L1877.6 239.6L1878.0 239.8L1878.5 239.5L1878.9 239.4L1879.4 239.8L1879.8 239.1L1880.3 239.3L1880.7 239.0L1881.2 239.0L1881.6 239.0L1882.1 239.4L1882.5 239.3L1883.0 239.6L1883.4 238.9L1883.9 239.2L1884.3 239.2L1884.8 239.3L1885.2 239.6L1885.7 239.7L1886.1 239.4L1886.6 239.2L1887.0 239.4L1887.5 239.2L1887.9 239.0L1888.4 239.2L1888.8 239.5L1889.3 239.6L1889.7 239.0L1890.2 239.8L1890.6 239.7L1891.1 239.4L1891.5 239.2L1892.0 239.6L1892.4 239.7L1892.9 239.8L1893.3 239.6L1893.8 239.3L1894.2 239.1L1894.7 239.4L1895.1 239.3L1895.6 239.3L1896.0 239.2L1896.5 239.8L1896.9 239.1L1897.4 239.1L1897.8 239.5L1898.3 239.4L1898.7 239.7L1899.2 239.5L1899.6 239.3L1900.1 239.7L1900.5 239.0L1901.0 239.2L1901.4 239.2L1901.9 239.1L1902.3 239.5L1902.8 239.3L1903.2 239.1L1903.7 239.2L1904.1 239.8L1904.6 239.6L1905.0 239.4L1905.5 239.4L1905.9 239.9L1906.4 239.6L1906.8 238.7L1907.3 239.7L1907.7 238.9L1908.2 239.6L1908.6 239.1L1909.1 239.9L1909.5 239.5L1910.0 239.2L1910.4 238.9L1910.9 239.4L1911.3 239.4L1911.8 239.5L1912.2 239.7L1912.7 239.4L1913.1 239.3L1913.6 239.3L1914.0 239.4L1914.5 238.9L1914.9 239.0L1915.4 239.3L1915.8 239.1L1916.3 239.2L1916.7 239.2L1917.2 239.9L1917.6 239.6L1918.1 239.4L1918.5 239.7L1919.0 239.4L1919.4 239.5L1919.9 239.3L1920.3 239.4L1920.8 239.3L1921.2 239.4L1921.7 239.6L1922.1 239.5L1922.6 239.0L1923.0 239.0L1923.5 239.4L1923.9 239.4L1924.4 239.4M1968.9 239.3L1969.4 239.5L1969.8 239.2L1970.3 239.7L1970.7 239.5L1971.2 239.2L1971.6 239.7L1972.1 239.7L1972.5 239.2L1973.0 239.2L1973.4 239.5L1973.9 239.6L1974.3 239.5L1974.8 239.4L1975.2 239.2L1975.7 239.2L1976.1 239.6L1976.6 239.0L1977.0 239.4L1977.5 239.2L1977.9 239.0L1978.4 239.3L1978.8 239.0L1979.3 239.8L1979.7 239.7L1980.2 239.1L1980.6 239.5L1981.1 239.1L1981.5 239.3L1982.0 239.0L1982.4 239.5L1982.9 239.3L1983.3 239.4L1983.8 239.5L1984.2 239.2L1984.7 239.4L1985.1 239.3L1985.6 239.2L1986.0 239.0L1986.5 239.5L1986.9 239.1L1987.4 239.2L1987.8 239.1L1988.3 239.4L1988.7 239.3L1989.2 239.2L1989.6 239.5L1990.1 239.3L1990.5 239.8L1991.0 239.4L1991.4 239.4L1991.9 239.6L1992.3 239.7L1992.8 239.0L1993.2 238.9L1993.7 239.3L1994.1 239.6L1994.6 239.4L1995.0 239.2L1995.5 239.1L1995.9 238.9L1996.4 239.5L1996.8 239.4L1997.3 239.3L1997.7 239.0L1998.2 239.3L1998.6 239.4L1999.1 238.9L1999.5 238.8L2000.0 239.1L2000.4 239.2L2000.9 238.9L2001.3 239.4L2001.8 239.3L2002.2 239.2L2002.7 239.0L2003.1 238.8L2003.6 238.7L2004.0 239.4L2004.5 238.7L2004.9 239.5L2005.4 239.3L2005.8 239.0M2050.8 234.6L2051.3 234.5L2051.7 234.7L2052.2 234.4L2052.6 234.5L2053.1 235.1L2053.5 234.8L2054.0 234.6L2054.4 234.6L2054.9 234.5L2055.3 234.5L2055.8 235.0L2056.2 235.0L2056.7 234.1L2057.1 234.9L2057.6 234.8L2058.0 234.7L2058.5 234.2L2058.9 234.6L2059.4 234.4L2059.8 234.5L2060.3 234.2L2060.7 234.2L2061.2 234.2L2061.6 234.2L2062.1 234.5L2062.5 234.2L2063.0 234.6L2063.4 234.3L2063.9 234.2L2064.3 234.6L2064.8 234.4L2065.2 234.2L2065.7 234.3L2066.1 234.3L2066.6 234.5L2067.0 233.9L2067.5 233.9L2067.9 234.1L2068.4 234.0L2068.8 234.0L2069.3 234.4L2069.7 234.5L2070.2 234.1L2070.6 234.5L2071.1 234.7L2071.5 234.6L2072.0 234.2L2072.4 234.2L2072.9 233.9L2073.3 233.8L2073.8 234.3L2074.2 233.9L2074.7 233.9L2075.1 233.7L2075.6 233.5L2076.0 233.6L2076.5 234.2L2076.9 234.2L2077.4 233.7L2077.8 233.7L2078.3 233.2L2078.7 233.9L2079.2 233.2L2079.6 233.5L2080.1 233.6L2080.5 233.8L2081.0 234.0L2081.4 233.8L2081.9 234.1L2082.3 233.7L2082.8 234.0L2083.2 233.6L2083.7 234.3L2084.1 234.0L2084.6 234.0L2085.0 234.2L2085.5 233.5L2085.9 234.0L2086.4 232.7L2086.8 233.1L2087.3 233.4L2087.7 233.7L2088.2 233.6L2088.6 233.4L2089.1 233.5L2089.5 233.5L2090.0 233.7L2090.4 233.3L2090.9 233.3L2091.3 233.5L2091.8 233.7L2092.2 233.9L2092.7 233.7L2093.1 233.2L2093.6 233.3L2094.0 233.9L2094.5 233.5L2094.9 233.1L2095.4 233.5L2095.8 233.8L2096.3 233.6L2096.7 233.5L2097.2 233.2L2097.6 233.7L2098.1 233.0L2098.5 233.1L2099.0 233.2L2099.4 232.9L2099.9 233.3L2100.3 232.1L2100.8 233.3L2101.2 233.7L2101.7 233.6L2102.1 232.8L2102.6 233.5L2103.0 233.0L2103.5 233.0L2103.9 233.2L2104.4 233.0L2104.8 233.7L2105.3 233.6L2105.7 233.0L2106.2 233.2L2106.6 233.2L2107.1 232.6L2107.5 233.0L2108.0 233.5L2108.4 232.8L2108.9 233.2L2109.3 233.3L2109.8 233.6L2110.2 233.3L2110.7 233.0L2111.1 233.1L2111.6 232.8L2112.0 232.5L2112.5 233.0L2112.9 232.8L2113.4 233.4L2113.8 233.3L2114.3 232.7L2114.7 233.0L2115.2 233.1L2115.6 233.6L2116.1 233.3L2116.5 233.4L2117.0 233.8L2117.4 233.1L2117.9 233.6L2118.3 232.4L2118.8 233.5L2119.2 233.1L2119.7 232.9L2120.1 233.1L2120.6 233.1L2121.0 233.4L2121.5 233.1L2121.9 232.7L2122.4 233.3L2122.8 232.9L2123.3 233.5L2123.7 233.5L2124.2 233.5L2124.6 233.3L2125.1 233.0L2125.5 233.0L2126.0 233.4L2126.4 233.6L2126.9 233.0L2127.3 233.5L2127.8 232.7L2128.2 233.3L2128.7 233.2L2129.1 232.9L2129.6 233.1L2130.0 233.1L2130.5 233.3L2130.9 232.7L2131.4 232.9L2131.8 233.0L2132.3 232.8L2132.7 233.1L2133.2 233.6L2133.6 233.2L2134.1 233.4L2134.5 233.2L2135.0 233.0L2135.4 233.2L2135.9 233.1L2136.3 233.5L2136.8 233.1L2137.2 232.9L2137.7 232.8L2138.1 233.0L2138.6 233.0L2139.0 233.1L2139.5 232.8L2139.9 232.8L2140.4 233.0L2140.8 232.8L2141.3 233.1L2141.7 232.7L2142.2 233.2L2142.6 232.9L2143.1 233.0L2143.5 232.7L2144.0 232.9L2144.4 232.8L2144.9 232.6L2145.3 232.4L2145.8 233.4L2146.2 233.4L2146.7 233.5L2147.1 233.4L2147.6 233.5L2148.0 232.9L2148.5 233.5L2148.9 233.5L2149.4 233.2L2149.8 232.6L2150.3 233.2L2150.7 232.7L2151.2 232.8L2151.6 233.0L2152.1 232.6L2152.5 233.4L2153.0 232.8L2153.4 232.9L2153.9 233.2L2154.3 233.6L2154.8 232.9L2155.2 233.4L2155.7 232.7L2156.1 233.0L2156.6 232.6L2157.0 232.8L2157.5 232.8L2157.9 232.7L2158.4 232.9L2158.8 233.4L2159.3 232.8L2159.7 233.3L2160.2 232.9L2160.6 233.3L2161.1 233.1L2161.5 233.2L2162.0 233.3L2162.4 232.5L2162.9 233.5L2163.3 233.4L2163.8 233.2L2164.2 232.7L2164.7 232.7L2165.1 233.3L2165.6 232.6L2166.0 233.1L2166.5 232.9L2166.9 233.2L2167.4 233.3L2167.8 233.4L2168.3 233.7L2168.7 232.8L2169.2 233.1L2169.6 233.2L2170.1 232.7L2170.5 232.9L2171.0 233.5L2171.4 233.1L2171.9 233.3L2172.3 232.6L2172.8 233.5L2173.2 233.3L2173.7 233.4L2174.1 233.2L2174.6 232.8L2175.0 233.1L2175.5 232.6L2175.9 233.1L2176.4 232.7L2176.8 233.1L2177.3 233.3L2177.7 233.2L2178.2 232.8L2178.6 228.5L2179.0 226.3L2179.1 227.0L2179.5 229.2L2180.0 233.1L2180.4 233.5L2180.9 233.1L2181.3 233.0L2181.8 233.6L2182.2 233.6L2182.7 233.7L2183.1 233.5L2183.6 232.8L2184.0 232.7L2184.5 232.8L2184.9 232.6L2185.4 233.1L2185.8 233.3L2186.3 232.9L2186.7 233.0L2187.2 233.1L2187.6 232.6L2188.1 233.2L2188.5 233.3L2189.0 232.9L2189.4 233.1L2189.9 233.4L2190.3 233.2L2190.8 233.0L2191.2 233.8L2191.7 233.1L2192.1 233.2L2192.6 233.1L2193.0 233.1L2193.5 233.0L2193.9 233.2L2194.4 232.6L2194.8 233.1L2195.3 233.3L2195.7 233.0L2196.2 232.9L2196.6 232.8L2197.1 233.5L2197.5 233.0L2198.0 233.3L2198.4 233.2L2198.9 233.2L2199.3 233.6L2199.8 233.0L2200.2 233.4L2200.7 233.4L2201.1 232.9L2201.6 233.8L2202.0 233.6L2202.5 233.0L2202.9 233.6L2203.4 233.0L2203.8 233.0L2204.3 233.2L2204.7 233.0L2205.2 233.4L2205.6 233.0L2206.1 232.6L2206.5 233.3L2207.0 233.5L2207.4 233.6L2207.9 233.1L2208.3 233.6L2208.8 233.7L2209.2 233.7L2209.7 233.7L2210.1 233.8L2210.6 233.0L2211.0 233.5L2211.5 233.8L2211.9 234.0L2212.4 233.2L2212.8 233.4L2213.3 233.1L2213.7 233.2L2214.2 233.3L2214.6 233.9L2215.1 233.6L2215.5 233.3L2216.0 233.5L2216.4 233.7L2216.9 233.2L2217.3 233.7L2217.8 233.3L2218.2 233.2L2218.7 233.5L2219.1 233.6L2219.6 233.4L2220.0 233.4L2220.5 233.0L2220.9 233.2L2221.4 232.9L2221.8 233.2L2222.3 233.7L2222.7 233.6L2223.2 233.7L2223.6 233.5L2224.1 233.9L2224.5 233.7L2225.0 232.9L2225.4 232.8L2225.9 232.8L2226.3 233.2L2226.8 233.6L2227.2 232.9L2227.7 233.3L2228.1 233.6L2228.6 233.7L2229.0 233.4L2229.5 233.3L2229.9 233.2L2230.4 233.4L2230.8 233.0L2231.3 233.2L2231.7 233.0L2232.2 233.0L2232.6 233.4L2233.1 233.1L2233.5 233.4L2234.0 232.9L2234.4 233.0L2234.9 234.0L2235.3 233.3L2235.8 233.5L2236.2 233.2L2236.7 233.1L2237.1 233.4L2237.6 233.7L2238.0 233.2L2238.5 233.7L2238.9 234.0L2239.4 233.3L2239.8 233.2L2240.3 233.1L2240.7 233.1L2241.2 233.5L2241.6 233.8L2242.1 233.8L2242.5 233.2L2243.0 232.9L2243.4 233.0L2243.9 233.0L2244.3 233.8L2244.8 234.0L2245.2 233.7L2245.7 233.2L2246.1 233.6L2246.6 233.3L2247.0 233.5L2247.5 233.7L2247.9 233.7L2248.4 233.2L2248.8 233.4L2249.3 233.6L2249.7 233.6L2250.2 233.2L2250.6 233.1L2251.1 233.5L2251.5 233.5L2252.0 233.3L2252.4 233.7L2252.9 233.4L2253.3 233.7L2253.8 233.5L2254.2 233.6L2254.7 233.5L2255.1 233.3L2255.6 233.2L2256.0 233.6L2256.5 233.1L2256.9 233.6L2257.4 233.6L2257.8 232.8L2258.3 233.5L2258.7 233.7L2259.2 233.7L2259.6 233.4L2260.1 233.3L2260.5 233.3L2261.0 233.1L2261.4 233.8L2261.9 233.5L2262.3 233.9L2262.8 233.6L2263.2 233.2L2263.7 233.5L2264.1 233.9L2264.6 233.9L2265.0 234.2L2265.5 233.9L2265.9 233.2L2266.4 233.2L2266.8 233.2L2267.3 233.2L2267.7 233.6L2268.2 233.7L2268.6 233.5L2269.1 233.6L2269.5 233.7L2270.0 233.4L2270.4 233.5L2270.9 233.9L2271.3 233.6L2271.8 233.6L2272.2 233.9L2272.7 233.7L2273.1 233.9L2273.6 233.9L2274.0 233.7L2274.5 233.8L2274.9 233.3L2275.4 233.4L2275.8 233.8L2276.3 233.4L2276.7 233.6L2277.2 233.6L2277.6 233.7L2278.1 233.3L2278.5 233.6L2279.0 233.4L2279.4 233.2L2279.9 233.1L2280.3 233.5L2280.8 234.4L2281.2 234.0L2281.7 234.1L2282.1 233.3L2282.6 234.1L2283.0 233.2L2283.5 233.6L2283.9 233.7L2284.4 233.6L2284.8 233.7L2285.3 233.9L2285.7 234.0L2286.2 234.0L2286.6 233.6L2287.1 234.0L2287.5 233.7L2288.0 234.0L2288.4 233.7L2288.9 233.9L2289.3 234.1L2289.8 233.5L2290.2 233.7L2290.7 233.7L2291.1 233.4L2291.6 233.8L2292.0 234.0L2292.5 233.0L2292.9 233.2L2293.4 233.9L2293.8 233.8L2294.3 233.5L2294.7 233.7L2295.2 233.5L2295.6 233.3L2296.1 233.8L2296.5 233.8L2297.0 233.7L2297.4 233.8L2297.9 233.7L2298.3 233.6L2298.8 233.8L2299.2 233.6L2299.7 233.0L2300.1 233.4L2300.6 233.6L2301.0 233.6L2301.5 234.4L2301.9 234.6L2302.4 234.2L2302.8 234.5L2303.3 233.7L2303.7 234.1L2304.2 233.9L2304.6 234.3L2305.1 234.5L2305.5 234.2L2306.0 233.8L2306.4 233.7L2306.9 233.3L2307.3 233.6L2307.8 233.0L2308.2 233.4L2308.7 233.4L2309.1 233.4L2309.6 234.0L2310.0 234.0L2310.5 233.7L2310.9 233.4L2311.4 234.2L2311.8 234.4L2312.3 234.3L2312.7 234.3L2313.2 234.1L2313.6 233.7L2314.1 233.8L2314.5 233.9L2315.0 234.0L2315.4 233.7L2315.9 233.7L2316.3 234.4L2316.8 233.9L2317.2 234.0L2317.7 234.4L2318.1 233.9L2318.6 234.3L2319.0 233.6L2319.5 233.5L2319.9 233.5L2320.4 233.5L2320.8 234.1L2321.3 233.9L2321.7 233.9L2322.2 233.6L2322.6 234.0L2323.1 233.6L2323.5 234.1L2324.0 233.7L2324.4 233.5L2324.9 233.8L2325.3 233.7L2325.8 234.0L2326.2 233.9L2326.7 233.5L2327.1 233.8L2327.6 233.8L2328.0 233.8L2328.5 233.9L2328.9 233.9L2329.4 233.9L2329.8 233.6L2330.3 233.7L2330.7 234.0L2331.2 233.8L2331.6 233.8L2332.1 233.6L2332.5 234.2L2333.0 234.4L2333.4 234.0L2333.9 234.5L2334.3 234.2L2334.8 234.0L2335.2 233.8L2335.7 233.5L2336.1 233.6L2336.6 234.1L2337.0 234.0L2337.5 234.2L2337.9 234.1L2338.4 234.1L2338.8 234.5L2339.3 233.8L2339.7 233.8L2340.2 233.9L2340.6 233.9L2341.1 233.8L2341.5 233.8L2342.0 233.8L2342.4 234.0L2342.9 233.8L2343.3 233.4L2343.8 233.5L2344.2 234.2L2344.7 233.3L2345.1 234.0L2345.6 234.4L2346.0 234.1L2346.5 233.7L2346.9 234.1L2347.4 233.8L2347.8 234.0L2348.3 233.6L2348.7 233.8L2349.2 233.8L2349.6 234.3L2350.1 234.0L2350.5 233.9L2351.0 233.9L2351.4 234.8L2351.9 233.9L2352.3 234.0L2352.8 234.2L2353.2 234.3L2353.7 234.3L2354.1 234.6L2354.6 233.7L2355.0 233.6L2355.5 233.9L2355.9 234.3L2356.4 234.7L2356.8 233.9L2357.3 234.5L2357.7 233.9L2358.2 234.4L2358.6 234.1L2359.1 233.9L2359.5 234.3L2360.0 234.2L2360.4 234.4L2360.9 234.7L2361.3 234.9L2361.8 234.6L2362.2 234.0L2362.7 234.8L2363.1 234.7L2363.6 233.2L2364.0 234.5L2364.5 234.7L2364.9 234.5L2365.4 234.4L2365.8 234.4L2366.3 234.1L2366.7 234.2L2367.2 234.6L2367.6 234.3L2368.1 234.6L2368.5 233.7L2369.0 233.9L2369.4 234.7L2369.9 234.4L2370.3 233.9L2370.8 234.7" stroke="#181818" stroke-width="3.7"/>
<path d="M1312.4 238.8L1312.8 239.3L1313.3 239.3L1313.7 239.4L1314.2 239.4L1314.6 239.4L1315.1 239.4L1315.5 239.4L1316.0 239.3L1316.4 239.4L1316.9 239.4L1317.3 239.3L1317.8 239.4L1318.2 239.4L1318.7 239.5L1319.1 239.5L1319.6 239.5L1320.0 239.4L1320.5 239.3L1320.9 239.4L1321.4 239.4L1321.8 239.5L1322.3 239.5L1322.7 239.5L1323.2 239.6L1323.6 239.4L1324.1 239.5L1324.5 239.4L1325.0 239.4L1325.4 239.4L1325.9 239.4L1326.3 239.3L1326.8 239.1L1327.2 239.0L1327.7 238.9L1328.1 238.7L1328.6 238.5L1329.0 235.8L1329.5 181.4L1329.9 93.4L1330.2 83.7L1330.4 84.9L1330.8 145.1L1331.3 227.4L1331.7 237.1L1332.2 236.8L1332.6 236.7L1333.1 236.5L1333.5 236.4L1334.0 236.1L1334.4 236.1L1334.9 236.0L1335.3 236.0L1335.8 235.8L1336.2 235.9L1336.7 236.1L1337.1 236.0L1337.6 236.1L1338.0 236.1L1338.5 236.4L1338.9 236.3L1339.4 236.4L1339.8 236.7L1340.3 236.5L1340.7 236.7L1341.2 236.9L1341.6 236.9L1342.1 237.0L1342.5 237.1L1343.0 237.0L1343.4 237.0L1343.9 237.1L1344.3 237.2L1344.8 237.2L1345.2 237.3L1345.7 237.5L1346.1 237.5L1346.6 237.5L1347.0 237.5L1347.5 237.5L1347.9 237.7L1348.4 237.6L1348.8 237.8L1349.3 237.8L1349.7 237.7L1350.2 237.7L1350.6 237.9L1351.1 237.8L1351.5 238.0L1352.0 237.9L1352.4 238.0L1352.9 238.1L1353.3 238.1L1353.8 238.1L1354.2 238.2L1354.7 238.2L1355.1 238.2L1355.6 238.2L1356.0 238.3L1356.5 238.3L1356.9 238.4L1357.4 238.4L1357.8 238.4L1358.3 238.8M1437.9 240.1L1438.4 239.8L1438.8 239.8L1439.3 239.9L1439.7 239.8L1440.2 240.0L1440.6 239.9L1441.1 239.9L1441.5 239.8L1442.0 239.9L1442.4 239.8L1442.9 239.8L1443.3 240.0L1443.8 239.8L1444.2 239.7L1444.7 240.0L1445.1 239.7L1445.6 239.8L1446.0 239.7L1446.5 239.8L1446.9 239.7L1447.4 239.8L1447.8 239.8L1448.3 239.8L1448.7 239.7L1449.2 239.9L1449.6 239.9L1450.1 239.9L1450.5 239.9L1451.0 239.9L1451.4 239.9L1451.9 239.9L1452.3 239.8L1452.8 239.9L1453.2 239.9L1453.7 239.8L1454.1 239.8L1454.6 239.9L1455.0 239.8L1455.5 239.8L1455.9 239.8L1456.4 239.8L1456.8 239.9L1457.3 239.8L1457.7 237.7L1458.2 191.0L1458.6 115.3L1458.9 107.0L1459.1 108.3L1459.5 160.4L1460.0 231.2L1460.4 239.9L1460.9 240.0L1461.3 239.9L1461.8 239.8L1462.2 239.8L1462.7 239.8L1463.1 239.9L1463.6 239.8L1464.0 239.8L1464.5 239.9L1464.9 239.9L1465.4 239.8L1465.8 239.7L1466.3 239.8L1466.7 239.9L1467.2 239.9L1467.6 239.8L1468.1 239.9L1468.5 239.8L1469.0 239.8L1469.4 239.9L1469.9 239.8L1470.3 239.9L1470.8 239.9L1471.2 239.9L1471.7 239.8L1472.1 239.9L1472.6 239.7L1473.0 239.8L1473.5 240.0L1473.9 239.8L1474.4 239.9L1474.8 239.8L1475.3 239.9L1475.7 239.8L1476.2 239.7L1476.6 239.9L1477.1 239.8L1477.5 239.7L1478.0 239.8L1478.4 239.7L1478.9 239.8L1479.3 240.0L1479.8 239.9L1480.2 239.9L1480.7 239.8L1481.1 239.8L1481.6 239.8L1482.0 239.8L1482.5 239.7L1482.9 239.8L1483.4 239.5M1753.4 239.3L1753.8 239.5L1754.3 239.6L1754.7 239.4L1755.2 239.5L1755.6 239.4L1756.1 239.6L1756.5 239.6L1757.0 239.6L1757.4 239.4L1757.9 239.4L1758.3 239.5L1758.8 239.5L1759.2 239.4L1759.7 239.4L1760.1 239.6L1760.6 239.6L1761.0 239.6L1761.5 239.5L1761.9 239.6L1762.4 239.6L1762.8 239.6L1763.3 239.7L1763.7 239.6L1764.2 239.6L1764.6 239.6L1765.1 239.6L1765.5 239.5L1766.0 239.5L1766.4 239.5L1766.9 239.5L1767.3 239.5L1767.8 239.6L1768.2 239.5L1768.7 239.5L1769.1 239.5L1769.6 239.5L1770.0 239.6L1770.5 239.5L1770.9 239.5L1771.4 239.5L1771.8 239.6L1772.3 239.4L1772.7 239.5L1773.2 239.3L1773.6 239.1L1774.1 238.5L1774.5 237.2L1775.0 234.9L1775.4 231.2L1775.9 226.2L1776.3 220.4L1776.8 215.5L1777.2 212.6L1777.7 212.8L1778.1 215.8L1778.6 221.0L1779.0 226.6L1779.5 231.5L1779.9 235.2L1780.4 237.3L1780.8 238.5L1781.3 239.2L1781.7 239.4L1782.2 239.5L1782.6 239.6L1783.1 239.5L1783.5 239.6L1784.0 239.5L1784.4 239.5L1784.9 239.6L1785.3 239.4L1785.8 239.4L1786.2 239.2L1786.7 239.0L1787.1 238.4L1787.6 237.8L1788.0 236.9L1788.5 235.6L1788.9 234.6L1789.4 233.5L1789.8 233.1L1790.3 233.2L1790.7 233.7L1791.2 234.5L1791.6 235.8L1792.1 236.9L1792.5 237.9L1793.0 238.7L1793.4 239.1L1793.9 239.3L1794.3 239.4L1794.8 239.3L1795.2 239.4L1795.7 239.4L1796.1 239.5L1796.6 239.4L1797.0 239.5L1797.5 239.6L1797.9 239.4L1798.4 239.5L1798.8 239.4L1799.3 239.5L1799.7 239.5L1800.2 239.2M1815.9 239.5L1816.4 239.3L1816.8 239.6L1817.3 239.5L1817.7 239.4L1818.2 239.5L1818.6 239.5L1819.1 239.5L1819.5 239.6L1820.0 239.5L1820.4 239.4L1820.9 239.5L1821.3 239.4L1821.8 239.5L1822.2 239.5L1822.7 239.4L1823.1 239.4L1823.6 239.4L1824.0 239.4L1824.5 239.4L1824.9 239.5L1825.4 239.4L1825.8 239.5L1826.3 239.4L1826.7 239.6L1827.2 239.4L1827.6 239.5L1828.1 239.4L1828.5 239.5L1829.0 239.3L1829.4 239.5L1829.9 239.5L1830.3 239.3L1830.8 239.5L1831.2 239.5L1831.7 239.5L1832.1 239.4L1832.6 239.4L1833.0 239.6L1833.5 239.4L1833.9 239.6L1834.4 239.4L1834.8 239.5L1835.3 239.4L1835.7 239.4L1836.2 239.6L1836.6 239.4L1837.1 239.4L1837.5 239.5L1838.0 239.6L1838.4 239.1L1838.9 235.4L1839.2 234.4L1839.3 234.5L1839.8 237.2L1840.2 239.4L1840.7 239.4L1841.1 239.4L1841.6 239.5L1842.0 239.4L1842.5 239.5L1842.9 239.5L1843.4 239.5L1843.8 239.5L1844.3 239.4L1844.7 239.5L1845.2 239.4L1845.6 239.4L1846.1 239.4L1846.5 239.4L1847.0 239.3L1847.4 239.4L1847.9 239.5L1848.3 239.5L1848.8 239.5L1849.2 239.4L1849.7 239.5L1850.1 239.4L1850.6 239.4L1851.0 239.4L1851.5 239.5L1851.9 239.5L1852.4 239.3L1852.8 239.5L1853.3 239.3L1853.7 239.4L1854.2 239.3L1854.6 239.4L1855.1 239.4L1855.5 239.4L1856.0 239.3L1856.4 239.5L1856.9 239.4L1857.3 239.4L1857.8 239.5L1858.2 239.4L1858.7 239.6L1859.1 239.5L1859.6 239.5L1860.0 239.6L1860.5 239.5L1860.9 239.5L1861.4 239.7M1923.9 239.4L1924.4 239.4L1924.8 239.3L1925.3 239.4L1925.7 239.3L1926.2 239.3L1926.6 239.3L1927.1 239.4L1927.5 239.3L1928.0 239.4L1928.4 239.5L1928.9 239.4L1929.3 239.4L1929.8 239.3L1930.2 239.3L1930.7 239.2L1931.1 239.3L1931.6 239.2L1932.0 239.3L1932.5 239.4L1932.9 239.4L1933.4 239.4L1933.8 239.4L1934.3 239.4L1934.7 239.3L1935.2 239.3L1935.6 239.3L1936.1 239.3L1936.5 239.3L1937.0 239.3L1937.4 239.2L1937.9 239.4L1938.3 239.4L1938.8 239.3L1939.2 239.3L1939.7 239.4L1940.1 239.3L1940.6 239.3L1941.0 239.3L1941.5 239.3L1941.9 238.5L1942.4 219.2L1942.8 187.9L1943.1 184.3L1943.3 184.7L1943.7 206.5L1944.2 235.8L1944.6 239.3L1945.1 239.3L1945.5 239.3L1946.0 239.4L1946.4 239.4L1946.9 239.3L1947.3 239.4L1947.8 239.3L1948.2 239.4L1948.7 239.4L1949.1 239.4L1949.6 239.3L1950.0 239.3L1950.5 239.4L1950.9 239.3L1951.4 239.2L1951.8 239.3L1952.3 239.2L1952.7 239.2L1953.2 239.3L1953.6 239.4L1954.1 239.4L1954.5 239.5L1955.0 239.2L1955.4 239.3L1955.9 239.5L1956.3 239.4L1956.8 239.2L1957.2 239.3L1957.7 239.4L1958.1 239.4L1958.6 239.4L1959.0 239.3L1959.5 239.4L1959.9 239.4L1960.4 239.3L1960.8 239.5L1961.3 239.3L1961.7 239.3L1962.2 239.3L1962.6 239.4L1963.1 239.3L1963.5 239.4L1964.0 239.3L1964.4 239.3L1964.9 239.4L1965.3 239.4L1965.8 239.3L1966.2 239.3L1966.7 239.4L1967.1 239.3L1967.6 239.3L1968.0 239.5L1968.5 239.2L1968.9 239.3L1969.4 239.5M2005.4 239.3L2005.8 239.0L2006.3 239.0L2006.7 238.9L2007.2 239.0L2007.6 239.1L2008.1 238.9L2008.5 239.0L2009.0 239.0L2009.4 239.0L2009.9 238.9L2010.3 238.9L2010.8 239.0L2011.2 238.8L2011.7 239.0L2012.1 238.9L2012.6 238.9L2013.0 238.9L2013.5 238.8L2013.9 238.9L2014.4 238.8L2014.8 238.7L2015.3 238.9L2015.7 238.9L2016.2 238.9L2016.6 238.8L2017.1 238.8L2017.5 238.7L2018.0 238.8L2018.4 238.8L2018.9 238.8L2019.3 238.8L2019.8 238.8L2020.2 238.8L2020.7 238.8L2021.1 238.7L2021.6 238.7L2022.0 238.7L2022.5 238.8L2022.9 238.8L2023.4 238.7L2023.8 238.4L2024.3 221.2L2024.7 174.3L2025.1 163.6L2025.2 163.5L2025.6 181.9L2026.1 226.6L2026.5 235.7L2027.0 235.3L2027.4 235.2L2027.9 235.1L2028.3 235.2L2028.8 235.1L2029.2 235.1L2029.7 235.2L2030.1 235.1L2030.6 235.2L2031.0 235.1L2031.5 235.1L2031.9 235.1L2032.4 235.1L2032.8 235.2L2033.3 235.1L2033.7 235.0L2034.2 235.0L2034.6 235.0L2035.1 235.0L2035.5 235.0L2036.0 234.9L2036.4 235.0L2036.9 234.9L2037.3 234.9L2037.8 234.9L2038.2 234.9L2038.7 234.9L2039.1 234.9L2039.6 234.8L2040.0 234.8L2040.5 234.9L2040.9 234.9L2041.4 234.7L2041.8 234.8L2042.3 234.8L2042.7 234.8L2043.2 234.7L2043.6 234.8L2044.1 234.7L2044.5 234.7L2045.0 234.7L2045.4 234.7L2045.9 234.8L2046.3 234.8L2046.8 234.8L2047.2 234.7L2047.7 234.6L2048.1 234.6L2048.6 234.6L2049.0 234.5L2049.5 234.6L2049.9 234.8L2050.4 234.6L2050.8 234.6L2051.3 234.5" stroke="#181818" stroke-width="2.8"/>
<line x1="1330.2" y1="84.8" x2="1330.2" y2="237.9" stroke="#181818" stroke-width="3.3" stroke-linecap="butt"/>
<line x1="1458.9" y1="108.1" x2="1458.9" y2="238.8" stroke="#181818" stroke-width="3.3" stroke-linecap="butt"/>
<line x1="1943.1" y1="185.4" x2="1943.1" y2="238.3" stroke="#181818" stroke-width="3.3" stroke-linecap="butt"/>
<line x1="2025.1" y1="164.6" x2="2025.1" y2="237.7" stroke="#181818" stroke-width="3.3" stroke-linecap="butt"/>
</g>
<rect x="122.3" y="86" width="44.9" height="288.2" fill="rgb(236,151,247)" fill-opacity="0.26"/>
<rect x="574.8" y="81" width="45.9" height="368.0" fill="rgb(143,251,255)" fill-opacity="0.26"/>
<rect x="620.7" y="86" width="46.2" height="511.0" fill="rgb(159,251,159)" fill-opacity="0.26"/>
<rect x="1312.5" y="85.7" width="45.7" height="229.2" fill="rgb(236,151,247)" fill-opacity="0.26"/>
<rect x="1438.2" y="86.4" width="44.9" height="283.6" fill="rgb(167,178,247)" fill-opacity="0.26"/>
<rect x="1753.8" y="86" width="46.0" height="368.4" fill="rgb(143,251,255)" fill-opacity="0.26"/>
<rect x="1816.3" y="86" width="44.8" height="511.0" fill="rgb(159,251,159)" fill-opacity="0.26"/>
<rect x="1924.2" y="86" width="44.8" height="455.4" fill="rgb(240,205,132)" fill-opacity="0.26"/>
<rect x="2005.4" y="86" width="45.5" height="511.0" fill="rgb(255,155,213)" fill-opacity="0.26"/>
<rect x="81.4" y="82.3" width="1098.4" height="516.0" fill="none" stroke="#1f1f1f" stroke-width="3.4"/>
<rect x="1272.4" y="80.6" width="1099.6" height="517.4" fill="none" stroke="#1f1f1f" stroke-width="3.4"/>
<line x1="81.4" y1="598.3" x2="81.4" y2="609.9" stroke="#1f1f1f" stroke-width="2.7"/>
<line x1="159.9" y1="598.3" x2="159.9" y2="604.3" stroke="#1f1f1f" stroke-width="2.7"/>
<line x1="238.3" y1="598.3" x2="238.3" y2="609.9" stroke="#1f1f1f" stroke-width="2.7"/>
<line x1="316.8" y1="598.3" x2="316.8" y2="604.3" stroke="#1f1f1f" stroke-width="2.7"/>
<line x1="395.2" y1="598.3" x2="395.2" y2="609.9" stroke="#1f1f1f" stroke-width="2.7"/>
<line x1="473.7" y1="598.3" x2="473.7" y2="604.3" stroke="#1f1f1f" stroke-width="2.7"/>
<line x1="552.1" y1="598.3" x2="552.1" y2="609.9" stroke="#1f1f1f" stroke-width="2.7"/>
<line x1="630.6" y1="598.3" x2="630.6" y2="604.3" stroke="#1f1f1f" stroke-width="2.7"/>
<line x1="709.1" y1="598.3" x2="709.1" y2="609.9" stroke="#1f1f1f" stroke-width="2.7"/>
<line x1="787.5" y1="598.3" x2="787.5" y2="604.3" stroke="#1f1f1f" stroke-width="2.7"/>
<line x1="866.0" y1="598.3" x2="866.0" y2="609.9" stroke="#1f1f1f" stroke-width="2.7"/>
<line x1="944.4" y1="598.3" x2="944.4" y2="604.3" stroke="#1f1f1f" stroke-width="2.7"/>
<line x1="1022.9" y1="598.3" x2="1022.9" y2="609.9" stroke="#1f1f1f" stroke-width="2.7"/>
<line x1="1101.3" y1="598.3" x2="1101.3" y2="604.3" stroke="#1f1f1f" stroke-width="2.7"/>
<line x1="1179.8" y1="598.3" x2="1179.8" y2="609.9" stroke="#1f1f1f" stroke-width="2.7"/>
<line x1="1272.4" y1="598.0" x2="1272.4" y2="609.6" stroke="#1f1f1f" stroke-width="2.7"/>
<line x1="1350.9" y1="598.0" x2="1350.9" y2="604.0" stroke="#1f1f1f" stroke-width="2.7"/>
<line x1="1429.5" y1="598.0" x2="1429.5" y2="609.6" stroke="#1f1f1f" stroke-width="2.7"/>
<line x1="1508.0" y1="598.0" x2="1508.0" y2="604.0" stroke="#1f1f1f" stroke-width="2.7"/>
<line x1="1586.6" y1="598.0" x2="1586.6" y2="609.6" stroke="#1f1f1f" stroke-width="2.7"/>
<line x1="1665.1" y1="598.0" x2="1665.1" y2="604.0" stroke="#1f1f1f" stroke-width="2.7"/>
<line x1="1743.7" y1="598.0" x2="1743.7" y2="609.6" stroke="#1f1f1f" stroke-width="2.7"/>
<line x1="1822.2" y1="598.0" x2="1822.2" y2="604.0" stroke="#1f1f1f" stroke-width="2.7"/>
<line x1="1900.7" y1="598.0" x2="1900.7" y2="609.6" stroke="#1f1f1f" stroke-width="2.7"/>
<line x1="1979.3" y1="598.0" x2="1979.3" y2="604.0" stroke="#1f1f1f" stroke-width="2.7"/>
<line x1="2057.8" y1="598.0" x2="2057.8" y2="609.6" stroke="#1f1f1f" stroke-width="2.7"/>
<line x1="2136.4" y1="598.0" x2="2136.4" y2="604.0" stroke="#1f1f1f" stroke-width="2.7"/>
<line x1="2214.9" y1="598.0" x2="2214.9" y2="609.6" stroke="#1f1f1f" stroke-width="2.7"/>
<line x1="2293.5" y1="598.0" x2="2293.5" y2="604.0" stroke="#1f1f1f" stroke-width="2.7"/>
<line x1="2372.0" y1="598.0" x2="2372.0" y2="609.6" stroke="#1f1f1f" stroke-width="2.7"/>
<g transform="translate(83.2,663.4) scale(0.957,1)"><text x="0" y="0" font-family="Liberation Sans, Arial, sans-serif" font-size="52.6" fill="#0c0c0c" stroke="#0c0c0c" stroke-width="0.3" text-anchor="middle">5</text></g>
<g transform="translate(1262.0,663.4) scale(0.957,1)"><text x="0" y="0" font-family="Liberation Sans, Arial, sans-serif" font-size="52.6" fill="#0c0c0c" stroke="#0c0c0c" stroke-width="0.3" text-anchor="middle">5</text></g>
<g transform="translate(235.7,663.4) scale(0.957,1)"><text x="0" y="0" font-family="Liberation Sans, Arial, sans-serif" font-size="52.6" fill="#0c0c0c" stroke="#0c0c0c" stroke-width="0.3" text-anchor="middle">10</text><rect x="-26.75" y="-4.43" width="10.52" height="5.93" fill="#fff"/><rect x="-11.18" y="-4.43" width="10.11" height="5.93" fill="#fff"/></g>
<g transform="translate(1414.8,663.4) scale(0.957,1)"><text x="0" y="0" font-family="Liberation Sans, Arial, sans-serif" font-size="52.6" fill="#0c0c0c" stroke="#0c0c0c" stroke-width="0.3" text-anchor="middle">10</text><rect x="-26.75" y="-4.43" width="10.52" height="5.93" fill="#fff"/><rect x="-11.18" y="-4.43" width="10.11" height="5.93" fill="#fff"/></g>
<g transform="translate(391.8,663.4) scale(0.957,1)"><text x="0" y="0" font-family="Liberation Sans, Arial, sans-serif" font-size="52.6" fill="#0c0c0c" stroke="#0c0c0c" stroke-width="0.3" text-anchor="middle">15</text><rect x="-26.75" y="-4.43" width="10.52" height="5.93" fill="#fff"/><rect x="-11.18" y="-4.43" width="10.11" height="5.93" fill="#fff"/></g>
<g transform="translate(1571.2,663.4) scale(0.957,1)"><text x="0" y="0" font-family="Liberation Sans, Arial, sans-serif" font-size="52.6" fill="#0c0c0c" stroke="#0c0c0c" stroke-width="0.3" text-anchor="middle">15</text><rect x="-26.75" y="-4.43" width="10.52" height="5.93" fill="#fff"/><rect x="-11.18" y="-4.43" width="10.11" height="5.93" fill="#fff"/></g>
<g transform="translate(552.8,663.4) scale(0.957,1)"><text x="0" y="0" font-family="Liberation Sans, Arial, sans-serif" font-size="52.6" fill="#0c0c0c" stroke="#0c0c0c" stroke-width="0.3" text-anchor="middle">20</text></g>
<g transform="translate(1731.8,663.4) scale(0.957,1)"><text x="0" y="0" font-family="Liberation Sans, Arial, sans-serif" font-size="52.6" fill="#0c0c0c" stroke="#0c0c0c" stroke-width="0.3" text-anchor="middle">20</text></g>
<g transform="translate(709.2,663.4) scale(0.957,1)"><text x="0" y="0" font-family="Liberation Sans, Arial, sans-serif" font-size="52.6" fill="#0c0c0c" stroke="#0c0c0c" stroke-width="0.3" text-anchor="middle">25</text></g>
<g transform="translate(1886.6,663.4) scale(0.957,1)"><text x="0" y="0" font-family="Liberation Sans, Arial, sans-serif" font-size="52.6" fill="#0c0c0c" stroke="#0c0c0c" stroke-width="0.3" text-anchor="middle">25</text></g>
<g transform="translate(867.3,663.4) scale(0.957,1)"><text x="0" y="0" font-family="Liberation Sans, Arial, sans-serif" font-size="52.6" fill="#0c0c0c" stroke="#0c0c0c" stroke-width="0.3" text-anchor="middle">30</text></g>
<g transform="translate(2044.8,663.4) scale(0.957,1)"><text x="0" y="0" font-family="Liberation Sans, Arial, sans-serif" font-size="52.6" fill="#0c0c0c" stroke="#0c0c0c" stroke-width="0.3" text-anchor="middle">30</text></g>
<g transform="translate(1022.5,663.4) scale(0.957,1)"><text x="0" y="0" font-family="Liberation Sans, Arial, sans-serif" font-size="52.6" fill="#0c0c0c" stroke="#0c0c0c" stroke-width="0.3" text-anchor="middle">35</text></g>
<g transform="translate(2199.7,663.4) scale(0.957,1)"><text x="0" y="0" font-family="Liberation Sans, Arial, sans-serif" font-size="52.6" fill="#0c0c0c" stroke="#0c0c0c" stroke-width="0.3" text-anchor="middle">35</text></g>
<g transform="translate(1181.5,663.4) scale(0.957,1)"><text x="0" y="0" font-family="Liberation Sans, Arial, sans-serif" font-size="52.6" fill="#0c0c0c" stroke="#0c0c0c" stroke-width="0.3" text-anchor="middle">40</text></g>
<g transform="translate(2358.0,663.4) scale(0.957,1)"><text x="0" y="0" font-family="Liberation Sans, Arial, sans-serif" font-size="52.6" fill="#0c0c0c" stroke="#0c0c0c" stroke-width="0.3" text-anchor="middle">40</text></g>
<text transform="translate(93.0,409.9) scale(1.001,1)" font-family="Liberation Sans, Arial, sans-serif" font-size="50.4" font-weight="normal" fill="#ff0cff" stroke="#ff0cff" stroke-width="0.5">GOH</text>
<text transform="translate(421.6,503.5) scale(0.975,1)" font-family="Liberation Sans, Arial, sans-serif" font-size="50.8" font-weight="normal" fill="#1cfcff" stroke="#1cfcff" stroke-width="0.5">MPXO</text>
<text transform="translate(523.9,580.0) scale(1.021,1)" font-family="Liberation Sans, Arial, sans-serif" font-size="48.5" font-weight="normal" fill="#0cff0c" stroke="#0cff0c" stroke-width="1.3">HMHMBCD</text>
<text transform="translate(1275.5,347.7) scale(1.021,1)" font-family="Liberation Sans, Arial, sans-serif" font-size="49.6" font-weight="normal" fill="#ff0cff" stroke="#ff0cff" stroke-width="0.5">GOH</text>
<text transform="translate(1387.3,418.7) scale(0.995,1)" font-family="Liberation Sans, Arial, sans-serif" font-size="50.8" font-weight="normal" fill="#4da6d6" stroke="#4da6d6" stroke-width="0.5">ADDO</text>
<text transform="translate(1644.3,475.2) scale(0.996,1)" font-family="Liberation Sans, Arial, sans-serif" font-size="49.6" font-weight="normal" fill="#1cfcff" stroke="#1cfcff" stroke-width="0.5">MPXO</text>
<text transform="translate(1648.9,545.0) scale(1.004,1)" font-family="Liberation Sans, Arial, sans-serif" font-size="49.0" font-weight="normal" fill="#0cff0c" stroke="#0cff0c" stroke-width="1.3">HMHMBCD</text>
<text transform="translate(1869.8,280.1) scale(1.000,1)" font-family="Liberation Sans, Arial, sans-serif" font-size="50.7" font-weight="normal" fill="#ff8a4a" stroke="#ff8a4a" stroke-width="0.5">TTMTBM</text>
<text transform="translate(2035.4,555.0) scale(0.977,1)" font-family="Liberation Sans, Arial, sans-serif" font-size="51.0" font-weight="normal" fill="#ff1080" stroke="#ff1080" stroke-width="0.5">HMOFIO</text>
<text transform="translate(463.0,721.9) scale(0.980,1)" font-family="Liberation Sans, Arial, sans-serif" font-size="52.1" font-weight="normal" fill="#0c0c0c" stroke="#0c0c0c" stroke-width="0.3">Retention time (min)</text>
<text transform="translate(1642.8,721.9) scale(0.976,1)" font-family="Liberation Sans, Arial, sans-serif" font-size="52.1" font-weight="normal" fill="#0c0c0c" stroke="#0c0c0c" stroke-width="0.3">Retention time (min)</text>
<text transform="translate(18.3,66.1) scale(1.023,1)" font-family="Liberation Sans, Arial, sans-serif" font-size="54.5" font-weight="normal" fill="#000" stroke="#000" stroke-width="2.4">(a)</text>
<text transform="translate(1207.0,67.0) scale(1.074,1)" font-family="Liberation Sans, Arial, sans-serif" font-size="54.4" font-weight="normal" fill="#000" stroke="#000" stroke-width="2.4">(b)</text>
</svg>
</body></html>
